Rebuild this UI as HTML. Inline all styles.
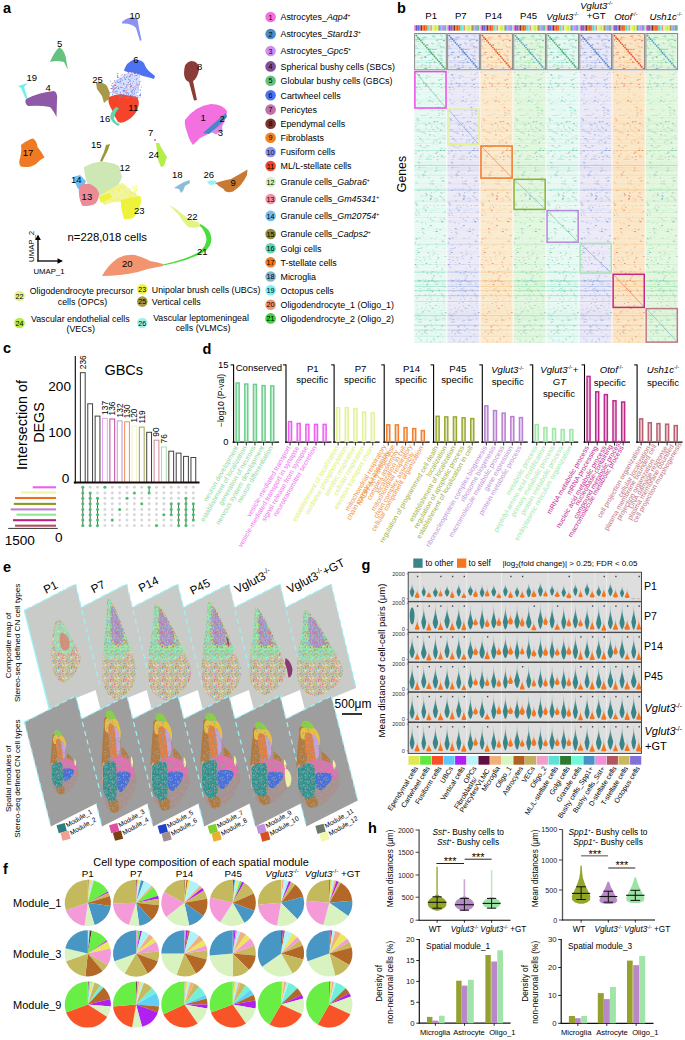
<!DOCTYPE html><html><head><meta charset="utf-8"><title>Figure</title><style>html,body{margin:0;padding:0;background:#fff;width:685px;height:1040px;overflow:hidden}svg{display:block;font-family:"Liberation Sans",sans-serif}</style></head><body><svg width="685" height="1040" viewBox="0 0 685 1040" font-family="Liberation Sans, sans-serif"><defs><filter id="soft" x="-5%" y="-5%" width="110%" height="110%"><feGaussianBlur stdDeviation="0.35"/></filter><g id="hrows"><rect y="71.0" width="32.04" height="1.3" fill-opacity="0.04"/><rect y="74.3" width="32.04" height="1.0" fill-opacity="0.04"/><rect y="77.3" width="32.04" height="0.8" fill-opacity="0.13"/><rect y="80.1" width="32.04" height="0.8" fill-opacity="0.02"/><rect y="82.9" width="32.04" height="1.0" fill-opacity="0.22"/><rect y="84.4" width="32.04" height="0.8" fill-opacity="0.07"/><rect y="86.2" width="32.04" height="1.3" fill-opacity="0.11"/><rect y="89.0" width="32.04" height="1.0" fill-opacity="0.05"/><rect y="91.5" width="32.04" height="1.3" fill-opacity="0.05"/><rect y="94.3" width="32.04" height="0.8" fill-opacity="0.04"/><rect y="96.6" width="32.04" height="1.0" fill-opacity="0.03"/><rect y="98.1" width="32.04" height="1.3" fill-opacity="0.05"/><rect y="99.9" width="32.04" height="0.8" fill-opacity="0.10"/><rect y="101.2" width="32.04" height="0.8" fill-opacity="0.06"/><rect y="104.0" width="32.04" height="1.3" fill-opacity="0.05"/><rect y="105.8" width="32.04" height="1.0" fill-opacity="0.03"/><rect y="108.3" width="32.04" height="1.3" fill-opacity="0.03"/><rect y="110.1" width="32.04" height="0.8" fill-opacity="0.05"/><rect y="111.4" width="32.04" height="1.0" fill-opacity="0.04"/><rect y="114.4" width="32.04" height="1.0" fill-opacity="0.06"/><rect y="117.4" width="32.04" height="1.3" fill-opacity="0.08"/><rect y="119.7" width="32.04" height="1.0" fill-opacity="0.05"/><rect y="121.2" width="32.04" height="0.8" fill-opacity="0.04"/><rect y="122.5" width="32.04" height="1.0" fill-opacity="0.17"/><rect y="124.0" width="32.04" height="1.0" fill-opacity="0.09"/><rect y="127.0" width="32.04" height="1.0" fill-opacity="0.02"/><rect y="128.5" width="32.04" height="1.3" fill-opacity="0.10"/><rect y="130.8" width="32.04" height="1.0" fill-opacity="0.20"/><rect y="133.8" width="32.04" height="1.0" fill-opacity="0.03"/><rect y="135.8" width="32.04" height="1.0" fill-opacity="0.08"/><rect y="138.8" width="32.04" height="1.3" fill-opacity="0.11"/><rect y="140.6" width="32.04" height="1.0" fill-opacity="0.02"/><rect y="142.6" width="32.04" height="1.3" fill-opacity="0.10"/><rect y="145.9" width="32.04" height="0.8" fill-opacity="0.03"/><rect y="147.7" width="32.04" height="0.8" fill-opacity="0.04"/><rect y="150.0" width="32.04" height="0.8" fill-opacity="0.31"/><rect y="152.8" width="32.04" height="1.0" fill-opacity="0.02"/><rect y="155.3" width="32.04" height="1.0" fill-opacity="0.04"/><rect y="156.8" width="32.04" height="1.0" fill-opacity="0.06"/><rect y="158.8" width="32.04" height="1.3" fill-opacity="0.06"/><rect y="161.6" width="32.04" height="0.8" fill-opacity="0.14"/><rect y="162.9" width="32.04" height="1.0" fill-opacity="0.05"/><rect y="164.9" width="32.04" height="1.0" fill-opacity="0.41"/><rect y="166.9" width="32.04" height="1.0" fill-opacity="0.13"/><rect y="168.4" width="32.04" height="1.3" fill-opacity="0.13"/><rect y="170.2" width="32.04" height="1.3" fill-opacity="0.11"/><rect y="173.5" width="32.04" height="0.8" fill-opacity="0.04"/><rect y="174.8" width="32.04" height="1.3" fill-opacity="0.14"/><rect y="177.6" width="32.04" height="1.3" fill-opacity="0.05"/><rect y="180.9" width="32.04" height="0.8" fill-opacity="0.04"/><rect y="183.2" width="32.04" height="1.0" fill-opacity="0.10"/><rect y="184.7" width="32.04" height="1.3" fill-opacity="0.04"/><rect y="187.5" width="32.04" height="1.0" fill-opacity="0.10"/><rect y="189.5" width="32.04" height="1.0" fill-opacity="0.40"/><rect y="192.5" width="32.04" height="1.3" fill-opacity="0.03"/><rect y="195.3" width="32.04" height="1.0" fill-opacity="0.04"/><rect y="197.3" width="32.04" height="1.0" fill-opacity="0.04"/><rect y="199.3" width="32.04" height="0.8" fill-opacity="0.04"/><rect y="200.6" width="32.04" height="1.0" fill-opacity="0.18"/><rect y="202.1" width="32.04" height="1.0" fill-opacity="0.03"/><rect y="205.1" width="32.04" height="1.0" fill-opacity="0.04"/><rect y="208.1" width="32.04" height="1.0" fill-opacity="0.05"/><rect y="209.6" width="32.04" height="1.0" fill-opacity="0.09"/><rect y="212.1" width="32.04" height="1.0" fill-opacity="0.11"/><rect y="215.1" width="32.04" height="1.0" fill-opacity="0.02"/><rect y="217.1" width="32.04" height="0.8" fill-opacity="0.13"/><rect y="219.9" width="32.04" height="1.0" fill-opacity="0.04"/><rect y="221.4" width="32.04" height="1.3" fill-opacity="0.08"/><rect y="224.2" width="32.04" height="1.3" fill-opacity="0.02"/><rect y="226.0" width="32.04" height="1.0" fill-opacity="0.03"/><rect y="228.0" width="32.04" height="1.0" fill-opacity="0.05"/><rect y="229.5" width="32.04" height="1.3" fill-opacity="0.06"/><rect y="231.8" width="32.04" height="0.8" fill-opacity="0.03"/><rect y="234.6" width="32.04" height="1.0" fill-opacity="0.05"/><rect y="237.6" width="32.04" height="0.8" fill-opacity="0.06"/><rect y="238.9" width="32.04" height="0.8" fill-opacity="0.06"/><rect y="241.2" width="32.04" height="1.0" fill-opacity="0.05"/><rect y="243.7" width="32.04" height="1.0" fill-opacity="0.24"/><rect y="245.2" width="32.04" height="1.3" fill-opacity="0.03"/><rect y="248.0" width="32.04" height="0.8" fill-opacity="0.02"/><rect y="250.8" width="32.04" height="1.0" fill-opacity="0.08"/><rect y="252.8" width="32.04" height="1.3" fill-opacity="0.06"/><rect y="256.1" width="32.04" height="1.0" fill-opacity="0.05"/><rect y="259.1" width="32.04" height="1.0" fill-opacity="0.03"/><rect y="261.6" width="32.04" height="1.0" fill-opacity="0.04"/><rect y="264.1" width="32.04" height="1.0" fill-opacity="0.14"/><rect y="267.1" width="32.04" height="0.8" fill-opacity="0.04"/><rect y="269.9" width="32.04" height="1.3" fill-opacity="0.06"/><rect y="271.7" width="32.04" height="0.8" fill-opacity="0.44"/><rect y="274.5" width="32.04" height="1.3" fill-opacity="0.06"/><rect y="277.3" width="32.04" height="1.0" fill-opacity="0.04"/><rect y="280.3" width="32.04" height="1.3" fill-opacity="0.38"/><rect y="282.1" width="32.04" height="1.0" fill-opacity="0.04"/><rect y="284.1" width="32.04" height="0.8" fill-opacity="0.14"/><rect y="285.9" width="32.04" height="1.0" fill-opacity="0.35"/><rect y="288.4" width="32.04" height="1.3" fill-opacity="0.04"/><rect y="290.2" width="32.04" height="1.0" fill-opacity="0.41"/><rect y="293.2" width="32.04" height="1.0" fill-opacity="0.05"/><rect y="295.2" width="32.04" height="1.0" fill-opacity="0.38"/><rect y="297.2" width="32.04" height="1.0" fill-opacity="0.05"/><rect y="299.2" width="32.04" height="1.0" fill-opacity="0.03"/><rect y="301.2" width="32.04" height="0.8" fill-opacity="0.32"/><rect y="303.0" width="32.04" height="1.3" fill-opacity="0.02"/><rect y="304.8" width="32.04" height="1.0" fill-opacity="0.06"/><rect y="306.8" width="32.04" height="0.8" fill-opacity="0.05"/><rect y="308.1" width="32.04" height="1.0" fill-opacity="0.05"/><rect y="309.6" width="32.04" height="1.0" fill-opacity="0.11"/><rect y="311.6" width="32.04" height="0.8" fill-opacity="0.10"/><rect y="312.9" width="32.04" height="1.3" fill-opacity="0.11"/><rect y="315.2" width="32.04" height="1.0" fill-opacity="0.43"/><rect y="317.7" width="32.04" height="0.8" fill-opacity="0.16"/><rect y="319.5" width="32.04" height="0.8" fill-opacity="0.20"/><rect y="321.8" width="32.04" height="1.0" fill-opacity="0.04"/><rect y="324.8" width="32.04" height="0.8" fill-opacity="0.43"/><rect y="326.6" width="32.04" height="1.0" fill-opacity="0.03"/><rect y="329.6" width="32.04" height="0.8" fill-opacity="0.38"/><rect y="330.9" width="32.04" height="1.3" fill-opacity="0.02"/><rect y="333.2" width="32.04" height="1.0" fill-opacity="0.06"/><rect y="335.7" width="32.04" height="1.0" fill-opacity="0.22"/><rect y="338.7" width="32.04" height="1.0" fill-opacity="0.03"/><rect y="341.7" width="32.04" height="1.0" fill-opacity="0.10"/><rect x="9.1" y="287.2" width="1.0" height="0.8" fill-opacity="0.37"/><rect x="27.1" y="339.5" width="0.9" height="0.8" fill-opacity="0.22"/><rect x="9.0" y="331.6" width="1.2" height="0.8" fill-opacity="0.25"/><rect x="2.3" y="120.7" width="1.7" height="0.8" fill-opacity="0.27"/><rect x="3.6" y="129.2" width="1.5" height="0.8" fill-opacity="0.29"/><rect x="3.2" y="102.5" width="1.2" height="0.8" fill-opacity="0.26"/><rect x="22.9" y="208.0" width="1.9" height="0.8" fill-opacity="0.15"/><rect x="8.3" y="141.4" width="1.4" height="0.8" fill-opacity="0.29"/><rect x="15.6" y="183.9" width="2.2" height="0.8" fill-opacity="0.17"/><rect x="19.4" y="191.7" width="1.7" height="0.8" fill-opacity="0.32"/><rect x="11.6" y="329.9" width="2.4" height="0.8" fill-opacity="0.25"/><rect x="25.7" y="333.9" width="1.7" height="0.8" fill-opacity="0.30"/><rect x="14.9" y="187.7" width="1.3" height="0.8" fill-opacity="0.25"/><rect x="15.9" y="156.0" width="1.6" height="0.8" fill-opacity="0.22"/><rect x="19.9" y="322.9" width="2.1" height="0.8" fill-opacity="0.16"/><rect x="17.6" y="280.5" width="1.9" height="0.8" fill-opacity="0.25"/><rect x="1.6" y="256.6" width="1.3" height="0.8" fill-opacity="0.25"/><rect x="21.7" y="228.9" width="1.3" height="0.8" fill-opacity="0.35"/><rect x="21.6" y="132.0" width="1.2" height="0.8" fill-opacity="0.34"/><rect x="3.0" y="83.8" width="2.2" height="0.8" fill-opacity="0.38"/><rect x="28.8" y="110.6" width="1.2" height="0.8" fill-opacity="0.33"/><rect x="12.5" y="85.1" width="1.0" height="0.8" fill-opacity="0.37"/><rect x="4.6" y="168.0" width="1.4" height="0.8" fill-opacity="0.18"/><rect x="18.1" y="184.3" width="1.9" height="0.8" fill-opacity="0.32"/><rect x="22.3" y="170.0" width="2.2" height="0.8" fill-opacity="0.18"/><rect x="3.9" y="150.0" width="1.6" height="0.8" fill-opacity="0.28"/><rect x="15.2" y="155.0" width="2.2" height="0.8" fill-opacity="0.22"/><rect x="21.8" y="236.5" width="2.0" height="0.8" fill-opacity="0.20"/><rect x="7.2" y="146.9" width="2.4" height="0.8" fill-opacity="0.28"/><rect x="5.9" y="248.1" width="2.0" height="0.8" fill-opacity="0.31"/><rect x="7.8" y="74.1" width="0.8" height="0.8" fill-opacity="0.16"/><rect x="8.4" y="131.7" width="2.1" height="0.8" fill-opacity="0.38"/><rect x="7.1" y="115.0" width="2.5" height="0.8" fill-opacity="0.27"/><rect x="10.2" y="167.3" width="1.6" height="0.8" fill-opacity="0.18"/><rect x="24.1" y="306.7" width="1.6" height="0.8" fill-opacity="0.36"/><rect x="23.1" y="298.2" width="1.6" height="0.8" fill-opacity="0.34"/><rect x="4.5" y="177.0" width="1.1" height="0.8" fill-opacity="0.36"/><rect x="8.7" y="232.9" width="2.1" height="0.8" fill-opacity="0.36"/><rect x="19.6" y="121.2" width="1.8" height="0.8" fill-opacity="0.27"/><rect x="16.3" y="159.2" width="1.5" height="0.8" fill-opacity="0.29"/><rect x="13.9" y="292.0" width="2.2" height="0.8" fill-opacity="0.15"/><rect x="27.4" y="155.4" width="1.8" height="0.8" fill-opacity="0.32"/><rect x="23.0" y="205.3" width="1.4" height="0.8" fill-opacity="0.37"/><rect x="19.7" y="130.7" width="1.4" height="0.8" fill-opacity="0.38"/><rect x="13.2" y="158.7" width="1.8" height="0.8" fill-opacity="0.38"/><rect x="8.4" y="257.3" width="1.7" height="0.8" fill-opacity="0.40"/><rect x="6.6" y="195.5" width="2.4" height="0.8" fill-opacity="0.33"/><rect x="2.5" y="211.1" width="2.2" height="0.8" fill-opacity="0.16"/><rect x="17.6" y="254.6" width="2.2" height="0.8" fill-opacity="0.33"/><rect x="11.7" y="171.1" width="1.1" height="0.8" fill-opacity="0.30"/><rect x="2.7" y="119.5" width="1.6" height="0.8" fill-opacity="0.36"/><rect x="6.6" y="291.1" width="0.9" height="0.8" fill-opacity="0.19"/><rect x="0.7" y="151.5" width="2.2" height="0.8" fill-opacity="0.26"/><rect x="9.2" y="228.9" width="1.7" height="0.8" fill-opacity="0.23"/><rect x="3.2" y="145.5" width="1.3" height="0.8" fill-opacity="0.16"/><rect x="2.9" y="248.3" width="2.2" height="0.8" fill-opacity="0.26"/><rect x="14.7" y="264.2" width="2.3" height="0.8" fill-opacity="0.23"/><rect x="10.5" y="195.7" width="2.2" height="0.8" fill-opacity="0.23"/><rect x="14.7" y="108.5" width="2.2" height="0.8" fill-opacity="0.17"/><rect x="1.4" y="238.7" width="2.1" height="0.8" fill-opacity="0.40"/><rect x="0.1" y="165.9" width="1.4" height="0.8" fill-opacity="0.17"/><rect x="16.3" y="197.2" width="0.8" height="0.8" fill-opacity="0.24"/><rect x="3.3" y="74.2" width="2.4" height="0.8" fill-opacity="0.38"/><rect x="4.9" y="138.0" width="1.9" height="0.8" fill-opacity="0.32"/><rect x="11.7" y="158.3" width="1.7" height="0.8" fill-opacity="0.22"/><rect x="14.2" y="311.2" width="2.0" height="0.8" fill-opacity="0.23"/><rect x="27.6" y="113.6" width="2.4" height="0.8" fill-opacity="0.34"/><rect x="14.5" y="76.1" width="2.2" height="0.8" fill-opacity="0.23"/><rect x="10.8" y="125.0" width="1.8" height="0.8" fill-opacity="0.30"/><rect x="15.3" y="199.2" width="1.6" height="0.8" fill-opacity="0.37"/><rect x="27.4" y="180.4" width="2.4" height="0.8" fill-opacity="0.31"/><rect x="16.5" y="326.3" width="2.3" height="0.8" fill-opacity="0.27"/><rect x="28.7" y="180.4" width="1.9" height="0.8" fill-opacity="0.34"/><rect x="25.9" y="96.5" width="1.5" height="0.8" fill-opacity="0.20"/><rect x="24.0" y="107.8" width="2.5" height="0.8" fill-opacity="0.35"/><rect x="23.7" y="280.9" width="0.9" height="0.8" fill-opacity="0.38"/><rect x="26.3" y="312.8" width="2.3" height="0.8" fill-opacity="0.26"/><rect x="12.7" y="138.2" width="2.3" height="0.8" fill-opacity="0.25"/><rect x="4.3" y="280.3" width="2.3" height="0.8" fill-opacity="0.35"/><rect x="22.3" y="107.0" width="1.9" height="0.8" fill-opacity="0.28"/><rect x="17.2" y="85.8" width="1.1" height="0.8" fill-opacity="0.20"/><rect x="4.5" y="319.3" width="1.0" height="0.8" fill-opacity="0.24"/><rect x="15.9" y="237.8" width="2.3" height="0.8" fill-opacity="0.32"/><rect x="22.5" y="93.9" width="1.7" height="0.8" fill-opacity="0.28"/><rect x="5.6" y="76.6" width="1.1" height="0.8" fill-opacity="0.32"/><rect x="13.2" y="282.9" width="0.9" height="0.8" fill-opacity="0.25"/><rect x="28.4" y="205.2" width="2.4" height="0.8" fill-opacity="0.23"/><rect x="16.7" y="181.2" width="2.5" height="0.8" fill-opacity="0.32"/><rect x="2.2" y="89.6" width="1.0" height="0.8" fill-opacity="0.32"/><rect x="22.4" y="254.3" width="2.1" height="0.8" fill-opacity="0.18"/><rect x="25.9" y="192.0" width="2.0" height="0.8" fill-opacity="0.27"/><rect x="3.4" y="150.9" width="2.1" height="0.8" fill-opacity="0.36"/><rect x="21.6" y="299.9" width="2.3" height="0.8" fill-opacity="0.19"/><rect x="28.2" y="241.3" width="2.1" height="0.8" fill-opacity="0.39"/><rect x="16.7" y="275.7" width="0.9" height="0.8" fill-opacity="0.20"/><rect x="3.3" y="173.4" width="1.3" height="0.8" fill-opacity="0.22"/><rect x="19.2" y="198.6" width="1.6" height="0.8" fill-opacity="0.25"/><rect x="18.7" y="99.1" width="1.0" height="0.8" fill-opacity="0.31"/><rect x="5.8" y="120.0" width="0.9" height="0.8" fill-opacity="0.27"/><rect x="3.0" y="261.9" width="0.9" height="0.8" fill-opacity="0.40"/><rect x="23.2" y="188.8" width="1.4" height="0.8" fill-opacity="0.36"/><rect x="4.2" y="322.2" width="1.1" height="0.8" fill-opacity="0.19"/><rect x="14.5" y="258.5" width="2.4" height="0.8" fill-opacity="0.31"/><rect x="18.4" y="268.1" width="1.3" height="0.8" fill-opacity="0.35"/><rect x="29.6" y="137.8" width="1.7" height="0.8" fill-opacity="0.22"/><rect x="9.2" y="122.6" width="1.6" height="0.8" fill-opacity="0.29"/><rect x="10.0" y="126.9" width="1.3" height="0.8" fill-opacity="0.18"/><rect x="7.6" y="264.5" width="1.7" height="0.8" fill-opacity="0.22"/><rect x="18.4" y="134.8" width="1.7" height="0.8" fill-opacity="0.29"/><rect x="28.0" y="125.1" width="2.5" height="0.8" fill-opacity="0.33"/><rect x="17.0" y="324.7" width="0.8" height="0.8" fill-opacity="0.31"/><rect x="4.1" y="281.6" width="1.6" height="0.8" fill-opacity="0.25"/><rect x="2.8" y="161.7" width="2.3" height="0.8" fill-opacity="0.22"/><rect x="13.6" y="310.3" width="2.0" height="0.8" fill-opacity="0.21"/><rect x="16.4" y="225.5" width="0.9" height="0.8" fill-opacity="0.38"/><rect x="22.4" y="117.1" width="2.3" height="0.8" fill-opacity="0.23"/><rect x="28.1" y="110.9" width="0.8" height="0.8" fill-opacity="0.32"/><rect x="22.8" y="169.9" width="1.4" height="0.8" fill-opacity="0.19"/><rect x="24.4" y="233.1" width="1.6" height="0.8" fill-opacity="0.25"/><rect x="27.9" y="283.2" width="2.5" height="0.8" fill-opacity="0.18"/><rect x="25.5" y="276.0" width="2.3" height="0.8" fill-opacity="0.30"/><rect x="22.9" y="244.7" width="1.1" height="0.8" fill-opacity="0.25"/><rect x="15.9" y="80.4" width="1.0" height="0.8" fill-opacity="0.25"/><rect x="3.9" y="162.5" width="1.2" height="0.8" fill-opacity="0.38"/><rect x="23.6" y="86.0" width="2.0" height="0.8" fill-opacity="0.35"/><rect x="14.9" y="180.6" width="1.0" height="0.8" fill-opacity="0.24"/><rect x="27.4" y="314.1" width="1.8" height="0.8" fill-opacity="0.25"/><rect x="26.7" y="147.7" width="1.6" height="0.8" fill-opacity="0.38"/><rect x="24.8" y="258.2" width="1.0" height="0.8" fill-opacity="0.18"/><rect x="9.9" y="325.5" width="1.7" height="0.8" fill-opacity="0.26"/><rect x="27.3" y="78.0" width="1.3" height="0.8" fill-opacity="0.30"/><rect x="11.3" y="188.7" width="1.3" height="0.8" fill-opacity="0.35"/><rect x="26.3" y="310.2" width="1.2" height="0.8" fill-opacity="0.36"/><rect x="26.2" y="137.1" width="2.5" height="0.8" fill-opacity="0.27"/><rect x="27.3" y="100.0" width="1.7" height="0.8" fill-opacity="0.31"/><rect x="26.4" y="325.8" width="2.5" height="0.8" fill-opacity="0.33"/><rect x="11.1" y="307.2" width="1.7" height="0.8" fill-opacity="0.29"/><rect x="19.5" y="115.9" width="1.5" height="0.8" fill-opacity="0.18"/><rect x="15.6" y="90.9" width="1.0" height="0.8" fill-opacity="0.37"/><rect x="13.6" y="227.3" width="1.3" height="0.8" fill-opacity="0.33"/><rect x="5.2" y="78.0" width="1.5" height="0.8" fill-opacity="0.26"/><rect x="4.2" y="215.0" width="2.0" height="0.8" fill-opacity="0.21"/><rect x="13.7" y="154.3" width="1.3" height="0.8" fill-opacity="0.23"/><rect x="23.3" y="110.2" width="2.1" height="0.8" fill-opacity="0.37"/><rect x="25.8" y="126.3" width="2.0" height="0.8" fill-opacity="0.16"/><rect x="25.8" y="156.9" width="2.3" height="0.8" fill-opacity="0.15"/><rect x="21.0" y="243.4" width="1.8" height="0.8" fill-opacity="0.28"/><rect x="28.5" y="135.4" width="2.5" height="0.8" fill-opacity="0.31"/><rect x="24.6" y="154.3" width="2.4" height="0.8" fill-opacity="0.22"/><rect x="26.4" y="185.2" width="1.4" height="0.8" fill-opacity="0.39"/><rect x="12.5" y="282.2" width="1.1" height="0.8" fill-opacity="0.37"/><rect x="20.8" y="104.1" width="1.3" height="0.8" fill-opacity="0.33"/><rect x="8.9" y="207.1" width="1.3" height="0.8" fill-opacity="0.35"/><rect x="3.5" y="213.4" width="1.7" height="0.8" fill-opacity="0.39"/><rect x="5.4" y="313.7" width="1.2" height="0.8" fill-opacity="0.18"/><rect x="13.9" y="252.1" width="0.9" height="0.8" fill-opacity="0.38"/><rect x="27.3" y="91.5" width="0.8" height="0.8" fill-opacity="0.30"/><rect x="12.7" y="216.8" width="1.8" height="0.8" fill-opacity="0.19"/><rect x="5.7" y="338.8" width="1.1" height="0.8" fill-opacity="0.33"/><rect x="23.7" y="79.3" width="1.1" height="0.8" fill-opacity="0.37"/><rect x="27.5" y="239.7" width="1.8" height="0.8" fill-opacity="0.15"/><rect x="1.8" y="312.7" width="0.9" height="0.8" fill-opacity="0.34"/><rect x="9.6" y="317.6" width="1.6" height="0.8" fill-opacity="0.16"/><rect x="24.8" y="150.3" width="1.9" height="0.8" fill-opacity="0.40"/><rect x="16.0" y="272.9" width="1.8" height="0.8" fill-opacity="0.34"/><rect x="13.1" y="101.8" width="1.9" height="0.8" fill-opacity="0.29"/><rect x="21.5" y="140.8" width="2.0" height="0.8" fill-opacity="0.21"/><rect x="25.6" y="218.7" width="1.8" height="0.8" fill-opacity="0.22"/><rect x="29.2" y="126.3" width="0.9" height="0.8" fill-opacity="0.26"/><rect x="9.8" y="309.7" width="1.8" height="0.8" fill-opacity="0.30"/><rect x="15.1" y="289.6" width="2.0" height="0.8" fill-opacity="0.36"/><rect x="3.4" y="79.9" width="1.1" height="0.8" fill-opacity="0.31"/><rect x="21.7" y="228.3" width="1.9" height="0.8" fill-opacity="0.16"/><rect x="20.9" y="186.6" width="2.2" height="0.8" fill-opacity="0.33"/><rect x="23.0" y="282.7" width="1.6" height="0.8" fill-opacity="0.31"/><rect x="11.4" y="209.6" width="1.2" height="0.8" fill-opacity="0.27"/><rect x="17.9" y="249.8" width="1.6" height="0.8" fill-opacity="0.23"/><rect x="21.0" y="197.8" width="2.0" height="0.8" fill-opacity="0.39"/><rect x="22.7" y="106.2" width="1.8" height="0.8" fill-opacity="0.18"/><rect x="15.7" y="272.9" width="2.5" height="0.8" fill-opacity="0.15"/><rect x="15.8" y="182.4" width="1.0" height="0.8" fill-opacity="0.29"/><rect x="28.1" y="199.1" width="2.5" height="0.8" fill-opacity="0.32"/><rect x="29.3" y="265.5" width="1.8" height="0.8" fill-opacity="0.22"/><rect x="25.7" y="103.6" width="1.5" height="0.8" fill-opacity="0.17"/><rect x="9.3" y="133.0" width="2.4" height="0.8" fill-opacity="0.38"/><rect x="4.8" y="130.6" width="1.8" height="0.8" fill-opacity="0.40"/><rect x="17.0" y="271.0" width="2.4" height="0.8" fill-opacity="0.37"/><rect x="5.3" y="321.4" width="2.3" height="0.8" fill-opacity="0.38"/><rect x="11.4" y="129.2" width="0.9" height="0.8" fill-opacity="0.25"/><rect x="23.8" y="138.2" width="2.2" height="0.8" fill-opacity="0.27"/><rect x="17.8" y="179.8" width="2.1" height="0.8" fill-opacity="0.27"/><rect x="18.8" y="204.1" width="1.1" height="0.8" fill-opacity="0.27"/><rect x="12.6" y="217.7" width="0.9" height="0.8" fill-opacity="0.22"/><rect x="18.7" y="328.1" width="1.7" height="0.8" fill-opacity="0.34"/><rect x="17.0" y="210.0" width="1.9" height="0.8" fill-opacity="0.20"/><rect x="1.7" y="99.5" width="2.0" height="0.8" fill-opacity="0.34"/><rect x="7.2" y="108.6" width="2.2" height="0.8" fill-opacity="0.18"/><rect x="25.2" y="341.5" width="1.6" height="0.8" fill-opacity="0.36"/><rect x="7.7" y="174.7" width="2.3" height="0.8" fill-opacity="0.32"/><rect x="18.3" y="153.3" width="1.6" height="0.8" fill-opacity="0.20"/><rect x="3.8" y="210.5" width="1.2" height="0.8" fill-opacity="0.25"/><rect x="20.8" y="201.0" width="1.7" height="0.8" fill-opacity="0.29"/><rect x="13.6" y="156.4" width="1.4" height="0.8" fill-opacity="0.37"/><rect x="16.1" y="297.3" width="1.6" height="0.8" fill-opacity="0.18"/><rect x="10.7" y="211.3" width="1.0" height="0.8" fill-opacity="0.24"/><rect x="4.2" y="236.9" width="2.2" height="0.8" fill-opacity="0.34"/><rect x="0.3" y="202.1" width="2.1" height="0.8" fill-opacity="0.34"/><rect x="2.0" y="250.1" width="2.3" height="0.8" fill-opacity="0.29"/><rect x="3.7" y="167.1" width="2.1" height="0.8" fill-opacity="0.24"/><rect x="7.8" y="283.4" width="2.2" height="0.8" fill-opacity="0.18"/><rect x="14.7" y="204.8" width="2.4" height="0.8" fill-opacity="0.22"/><rect x="6.7" y="261.8" width="2.4" height="0.8" fill-opacity="0.20"/><rect x="10.5" y="279.3" width="2.0" height="0.8" fill-opacity="0.28"/><rect x="27.3" y="272.4" width="2.2" height="0.8" fill-opacity="0.27"/><rect x="25.6" y="141.0" width="1.3" height="0.8" fill-opacity="0.38"/><rect x="3.6" y="315.6" width="2.3" height="0.8" fill-opacity="0.38"/><rect x="11.3" y="145.1" width="2.2" height="0.8" fill-opacity="0.22"/><rect x="26.6" y="266.0" width="0.9" height="0.8" fill-opacity="0.16"/><rect x="11.2" y="159.0" width="1.3" height="0.8" fill-opacity="0.35"/><rect x="19.3" y="311.4" width="1.5" height="0.8" fill-opacity="0.24"/><rect x="0.9" y="314.3" width="2.0" height="0.8" fill-opacity="0.20"/><rect x="1.4" y="91.9" width="1.7" height="0.8" fill-opacity="0.30"/><rect x="2.1" y="88.7" width="1.6" height="0.8" fill-opacity="0.26"/><rect x="11.6" y="332.9" width="2.2" height="0.8" fill-opacity="0.32"/><rect x="14.9" y="145.3" width="1.6" height="0.8" fill-opacity="0.16"/><rect x="8.1" y="235.3" width="1.2" height="0.8" fill-opacity="0.21"/><rect x="27.8" y="212.3" width="2.5" height="0.8" fill-opacity="0.15"/><rect x="25.5" y="219.5" width="2.1" height="0.8" fill-opacity="0.17"/><rect x="26.6" y="294.2" width="2.0" height="0.8" fill-opacity="0.35"/><rect x="3.1" y="142.9" width="0.8" height="0.8" fill-opacity="0.35"/><rect x="11.9" y="127.8" width="1.1" height="0.8" fill-opacity="0.20"/><rect x="10.0" y="115.1" width="2.0" height="0.8" fill-opacity="0.35"/><rect x="12.5" y="150.9" width="1.4" height="0.8" fill-opacity="0.32"/><rect x="19.4" y="206.3" width="1.4" height="0.8" fill-opacity="0.33"/><rect x="22.2" y="319.7" width="2.3" height="0.8" fill-opacity="0.40"/><rect x="26.6" y="292.7" width="1.3" height="0.8" fill-opacity="0.36"/><rect x="20.4" y="210.1" width="0.9" height="0.8" fill-opacity="0.31"/><rect x="14.5" y="183.1" width="1.4" height="0.8" fill-opacity="0.25"/><rect x="20.8" y="271.5" width="1.2" height="0.8" fill-opacity="0.31"/><rect x="20.5" y="171.0" width="1.1" height="0.8" fill-opacity="0.36"/><rect x="16.9" y="126.9" width="1.0" height="0.8" fill-opacity="0.40"/><rect x="3.8" y="245.0" width="2.1" height="0.8" fill-opacity="0.22"/><rect x="6.0" y="115.0" width="1.9" height="0.8" fill-opacity="0.22"/><rect x="29.3" y="247.9" width="1.6" height="0.8" fill-opacity="0.32"/><rect x="27.9" y="285.4" width="1.3" height="0.8" fill-opacity="0.22"/><rect x="20.0" y="139.7" width="1.5" height="0.8" fill-opacity="0.32"/><rect x="4.7" y="109.0" width="2.5" height="0.8" fill-opacity="0.37"/><rect x="10.7" y="123.9" width="1.7" height="0.8" fill-opacity="0.35"/><rect x="27.2" y="180.9" width="2.2" height="0.8" fill-opacity="0.36"/><rect x="2.0" y="117.8" width="1.5" height="0.8" fill-opacity="0.37"/><rect x="6.7" y="247.2" width="2.0" height="0.8" fill-opacity="0.25"/><rect x="17.3" y="109.9" width="1.9" height="0.8" fill-opacity="0.20"/><rect x="26.0" y="148.0" width="1.6" height="0.8" fill-opacity="0.36"/><rect x="26.9" y="221.9" width="2.3" height="0.8" fill-opacity="0.26"/><rect x="26.6" y="112.6" width="1.3" height="0.8" fill-opacity="0.29"/><rect x="12.0" y="145.6" width="1.3" height="0.8" fill-opacity="0.17"/><rect x="16.6" y="125.9" width="1.8" height="0.8" fill-opacity="0.19"/><rect x="22.8" y="73.4" width="1.9" height="0.8" fill-opacity="0.15"/><rect x="4.2" y="162.5" width="2.1" height="0.8" fill-opacity="0.40"/><rect x="1.0" y="182.0" width="1.4" height="0.8" fill-opacity="0.29"/><rect x="6.5" y="222.3" width="1.8" height="0.8" fill-opacity="0.36"/><rect x="5.7" y="139.8" width="1.3" height="0.8" fill-opacity="0.21"/><rect x="17.2" y="289.3" width="2.4" height="0.8" fill-opacity="0.16"/><rect x="28.4" y="303.4" width="1.7" height="0.8" fill-opacity="0.32"/><rect x="0.7" y="144.8" width="1.7" height="0.8" fill-opacity="0.17"/><rect x="26.6" y="197.5" width="0.9" height="0.8" fill-opacity="0.24"/><rect x="8.0" y="278.9" width="1.2" height="0.8" fill-opacity="0.38"/><rect x="9.3" y="205.4" width="1.7" height="0.8" fill-opacity="0.32"/><rect x="23.1" y="288.6" width="2.4" height="0.8" fill-opacity="0.27"/><rect x="12.3" y="298.7" width="2.3" height="0.8" fill-opacity="0.31"/><rect x="4.2" y="74.1" width="1.4" height="0.8" fill-opacity="0.33"/><rect x="8.3" y="208.4" width="2.5" height="0.8" fill-opacity="0.31"/><rect x="9.4" y="193.2" width="0.9" height="0.8" fill-opacity="0.31"/><rect x="7.9" y="232.2" width="1.2" height="0.8" fill-opacity="0.20"/><rect x="3.9" y="84.2" width="1.3" height="0.8" fill-opacity="0.20"/><rect x="4.7" y="165.5" width="1.4" height="0.8" fill-opacity="0.20"/><rect x="12.0" y="77.4" width="0.9" height="0.8" fill-opacity="0.17"/><rect x="25.2" y="328.6" width="2.1" height="0.8" fill-opacity="0.16"/><rect x="2.0" y="118.7" width="1.8" height="0.8" fill-opacity="0.29"/><rect x="14.2" y="158.5" width="2.4" height="0.8" fill-opacity="0.27"/><rect x="26.7" y="282.6" width="2.2" height="0.8" fill-opacity="0.17"/><rect x="27.7" y="177.0" width="2.3" height="0.8" fill-opacity="0.34"/><rect x="0.3" y="213.5" width="2.0" height="0.8" fill-opacity="0.32"/><rect x="1.7" y="317.9" width="1.8" height="0.8" fill-opacity="0.24"/><rect x="21.5" y="190.4" width="1.5" height="0.8" fill-opacity="0.39"/><rect x="3.6" y="321.7" width="2.1" height="0.8" fill-opacity="0.34"/><rect x="14.0" y="189.5" width="2.2" height="0.8" fill-opacity="0.28"/><rect x="16.3" y="173.1" width="0.9" height="0.8" fill-opacity="0.38"/><rect x="13.6" y="214.4" width="1.3" height="0.8" fill-opacity="0.16"/><rect x="9.8" y="86.3" width="1.7" height="0.8" fill-opacity="0.23"/><rect x="18.7" y="140.7" width="1.1" height="0.8" fill-opacity="0.27"/><rect x="1.6" y="220.7" width="2.4" height="0.8" fill-opacity="0.34"/><rect x="3.3" y="314.2" width="1.1" height="0.8" fill-opacity="0.38"/><rect x="4.3" y="285.2" width="1.0" height="0.8" fill-opacity="0.18"/><rect x="7.9" y="139.6" width="1.1" height="0.8" fill-opacity="0.16"/><rect x="15.6" y="164.1" width="1.4" height="0.8" fill-opacity="0.20"/><rect x="12.8" y="75.4" width="1.6" height="0.8" fill-opacity="0.39"/><rect x="3.2" y="136.0" width="1.5" height="0.8" fill-opacity="0.34"/><rect x="2.2" y="308.7" width="1.6" height="0.8" fill-opacity="0.16"/><rect x="29.2" y="306.8" width="0.9" height="0.8" fill-opacity="0.39"/><rect x="5.4" y="291.1" width="1.4" height="0.8" fill-opacity="0.38"/><rect x="6.6" y="329.9" width="1.3" height="0.8" fill-opacity="0.25"/><rect x="0.9" y="237.7" width="2.0" height="0.8" fill-opacity="0.27"/><rect x="2.7" y="203.8" width="1.9" height="0.8" fill-opacity="0.28"/><rect x="28.7" y="157.1" width="2.4" height="0.8" fill-opacity="0.29"/><rect x="11.4" y="340.5" width="2.2" height="0.8" fill-opacity="0.32"/><rect x="28.4" y="300.0" width="1.9" height="0.8" fill-opacity="0.20"/><rect x="23.0" y="128.2" width="1.1" height="0.8" fill-opacity="0.30"/><rect x="8.4" y="82.7" width="1.2" height="0.8" fill-opacity="0.24"/><rect x="9.2" y="240.0" width="0.8" height="0.8" fill-opacity="0.17"/><rect x="21.6" y="127.1" width="2.3" height="0.8" fill-opacity="0.34"/><rect x="2.1" y="125.7" width="1.3" height="0.8" fill-opacity="0.24"/><rect x="8.4" y="237.2" width="1.0" height="0.8" fill-opacity="0.18"/><rect x="15.4" y="97.2" width="1.5" height="0.8" fill-opacity="0.27"/><rect x="3.7" y="103.3" width="2.3" height="0.8" fill-opacity="0.39"/><rect x="19.5" y="92.6" width="1.2" height="0.8" fill-opacity="0.27"/><rect x="12.4" y="125.3" width="1.2" height="0.8" fill-opacity="0.31"/><rect x="10.0" y="170.8" width="1.8" height="0.8" fill-opacity="0.31"/><rect x="19.9" y="143.9" width="0.8" height="0.8" fill-opacity="0.30"/><rect x="11.3" y="75.6" width="1.8" height="0.8" fill-opacity="0.37"/><rect x="8.4" y="176.5" width="1.0" height="0.8" fill-opacity="0.37"/><rect x="3.1" y="279.5" width="1.9" height="0.8" fill-opacity="0.26"/><rect x="23.7" y="128.1" width="0.8" height="0.8" fill-opacity="0.16"/><rect x="20.9" y="231.2" width="2.5" height="0.8" fill-opacity="0.35"/><rect x="20.1" y="307.7" width="1.1" height="0.8" fill-opacity="0.17"/><rect x="15.2" y="117.6" width="1.6" height="0.8" fill-opacity="0.31"/><rect x="6.7" y="88.0" width="0.8" height="0.8" fill-opacity="0.35"/><rect x="6.9" y="188.7" width="1.7" height="0.8" fill-opacity="0.18"/><rect x="30.0" y="87.1" width="1.9" height="0.8" fill-opacity="0.35"/><rect x="15.6" y="323.6" width="1.8" height="0.8" fill-opacity="0.27"/><rect x="15.5" y="296.1" width="1.0" height="0.8" fill-opacity="0.35"/><rect x="28.8" y="72.5" width="2.0" height="0.8" fill-opacity="0.35"/><rect x="19.9" y="316.6" width="2.4" height="0.8" fill-opacity="0.27"/><rect x="13.0" y="310.6" width="1.1" height="0.8" fill-opacity="0.24"/><rect x="25.0" y="170.6" width="2.3" height="0.8" fill-opacity="0.18"/><rect x="16.9" y="183.2" width="2.5" height="0.8" fill-opacity="0.34"/><rect x="30.0" y="97.0" width="1.8" height="0.8" fill-opacity="0.17"/><rect x="19.9" y="135.8" width="1.7" height="0.8" fill-opacity="0.23"/><rect x="7.4" y="166.9" width="1.8" height="0.8" fill-opacity="0.27"/><rect x="17.7" y="339.2" width="1.1" height="0.8" fill-opacity="0.18"/><rect x="27.0" y="108.7" width="2.2" height="0.8" fill-opacity="0.28"/><rect x="17.0" y="110.4" width="1.1" height="0.8" fill-opacity="0.30"/><rect x="21.4" y="332.1" width="1.0" height="0.8" fill-opacity="0.36"/><rect x="23.9" y="133.4" width="1.0" height="0.8" fill-opacity="0.33"/><rect x="8.8" y="173.4" width="1.9" height="0.8" fill-opacity="0.25"/><rect x="27.4" y="205.0" width="1.7" height="0.8" fill-opacity="0.34"/><rect x="11.7" y="281.3" width="1.3" height="0.8" fill-opacity="0.20"/><rect x="19.7" y="216.7" width="1.5" height="0.8" fill-opacity="0.37"/><rect x="29.8" y="126.6" width="1.8" height="0.8" fill-opacity="0.18"/><rect x="27.8" y="337.0" width="1.0" height="0.8" fill-opacity="0.31"/><rect x="18.0" y="143.8" width="1.2" height="0.8" fill-opacity="0.17"/><rect x="11.6" y="285.7" width="1.9" height="0.8" fill-opacity="0.23"/><rect x="9.3" y="103.1" width="1.7" height="0.8" fill-opacity="0.19"/><rect x="9.7" y="174.9" width="2.2" height="0.8" fill-opacity="0.32"/><rect x="1.0" y="264.4" width="1.4" height="0.8" fill-opacity="0.39"/><rect x="15.8" y="212.1" width="2.0" height="0.8" fill-opacity="0.24"/><rect x="3.2" y="232.0" width="2.0" height="0.8" fill-opacity="0.24"/><rect x="28.9" y="138.1" width="2.0" height="0.8" fill-opacity="0.36"/><rect x="22.9" y="128.2" width="0.9" height="0.8" fill-opacity="0.20"/><rect x="22.8" y="103.4" width="1.4" height="0.8" fill-opacity="0.36"/><rect x="17.7" y="129.2" width="2.2" height="0.8" fill-opacity="0.39"/><rect x="11.2" y="246.6" width="1.0" height="0.8" fill-opacity="0.29"/><rect x="11.9" y="97.8" width="1.2" height="0.8" fill-opacity="0.21"/><rect x="4.5" y="80.3" width="1.1" height="0.8" fill-opacity="0.22"/><rect x="30.0" y="147.9" width="1.6" height="0.8" fill-opacity="0.25"/><rect x="4.2" y="94.2" width="1.4" height="0.8" fill-opacity="0.33"/><rect x="20.5" y="238.4" width="1.2" height="0.8" fill-opacity="0.29"/><rect x="14.4" y="294.3" width="1.4" height="0.8" fill-opacity="0.31"/><rect x="24.7" y="318.6" width="1.1" height="0.8" fill-opacity="0.17"/><rect x="4.2" y="256.9" width="2.1" height="0.8" fill-opacity="0.32"/><rect x="13.4" y="288.2" width="2.3" height="0.8" fill-opacity="0.33"/><rect x="28.7" y="297.5" width="1.4" height="0.8" fill-opacity="0.36"/><rect x="21.1" y="264.1" width="1.5" height="0.8" fill-opacity="0.32"/><rect x="3.4" y="248.1" width="2.3" height="0.8" fill-opacity="0.17"/><rect x="4.2" y="159.2" width="2.4" height="0.8" fill-opacity="0.19"/><rect x="12.2" y="145.6" width="2.3" height="0.8" fill-opacity="0.38"/><rect x="21.1" y="125.7" width="1.6" height="0.8" fill-opacity="0.26"/><rect x="15.4" y="287.5" width="1.6" height="0.8" fill-opacity="0.29"/><rect x="23.2" y="302.8" width="1.4" height="0.8" fill-opacity="0.15"/><rect x="19.6" y="294.2" width="1.4" height="0.8" fill-opacity="0.35"/><rect x="13.6" y="256.5" width="1.8" height="0.8" fill-opacity="0.27"/><rect x="4.4" y="280.0" width="2.0" height="0.8" fill-opacity="0.25"/><rect x="14.7" y="96.0" width="1.9" height="0.8" fill-opacity="0.24"/><rect x="1.4" y="182.6" width="2.4" height="0.8" fill-opacity="0.35"/><rect x="7.3" y="140.4" width="1.2" height="0.8" fill-opacity="0.38"/><rect x="5.4" y="89.1" width="1.5" height="0.8" fill-opacity="0.28"/><rect x="3.5" y="176.1" width="1.1" height="0.8" fill-opacity="0.30"/><rect x="15.0" y="255.3" width="1.1" height="0.8" fill-opacity="0.40"/><rect x="4.8" y="166.7" width="1.6" height="0.8" fill-opacity="0.27"/><rect x="29.2" y="192.3" width="1.4" height="0.8" fill-opacity="0.23"/><rect x="4.7" y="138.3" width="2.5" height="0.8" fill-opacity="0.37"/><rect x="10.3" y="271.0" width="1.1" height="0.8" fill-opacity="0.20"/><rect x="29.9" y="117.1" width="1.4" height="0.8" fill-opacity="0.23"/><rect x="23.7" y="101.0" width="2.2" height="0.8" fill-opacity="0.30"/><rect x="29.5" y="296.2" width="1.0" height="0.8" fill-opacity="0.24"/><rect x="26.7" y="118.2" width="1.9" height="0.8" fill-opacity="0.22"/><rect x="7.9" y="223.2" width="0.9" height="0.8" fill-opacity="0.16"/><rect x="28.3" y="286.2" width="1.1" height="0.8" fill-opacity="0.25"/><rect x="16.4" y="293.8" width="1.0" height="0.8" fill-opacity="0.17"/><rect x="4.9" y="288.0" width="2.1" height="0.8" fill-opacity="0.33"/><rect x="19.2" y="230.9" width="1.3" height="0.8" fill-opacity="0.26"/><rect x="19.6" y="282.5" width="1.7" height="0.8" fill-opacity="0.27"/><rect x="10.4" y="257.1" width="1.2" height="0.8" fill-opacity="0.31"/><rect x="21.8" y="144.7" width="2.3" height="0.8" fill-opacity="0.17"/><rect x="17.3" y="220.3" width="2.4" height="0.8" fill-opacity="0.34"/><rect x="0.1" y="153.3" width="2.4" height="0.8" fill-opacity="0.39"/><rect x="11.0" y="124.3" width="1.4" height="0.8" fill-opacity="0.19"/><rect x="20.0" y="328.3" width="1.0" height="0.8" fill-opacity="0.25"/><rect x="27.1" y="110.2" width="2.5" height="0.8" fill-opacity="0.39"/><rect x="16.3" y="320.3" width="1.5" height="0.8" fill-opacity="0.32"/><rect x="20.9" y="94.8" width="1.8" height="0.8" fill-opacity="0.38"/><rect x="3.1" y="309.4" width="1.0" height="0.8" fill-opacity="0.20"/><rect x="0.9" y="259.1" width="2.4" height="0.8" fill-opacity="0.37"/><rect x="27.0" y="95.6" width="1.2" height="0.8" fill-opacity="0.20"/><rect x="4.5" y="145.2" width="1.7" height="0.8" fill-opacity="0.37"/><rect x="12.8" y="113.4" width="2.1" height="0.8" fill-opacity="0.30"/><rect x="29.9" y="286.7" width="1.8" height="0.8" fill-opacity="0.37"/><rect x="5.1" y="157.0" width="2.1" height="0.8" fill-opacity="0.19"/><rect x="3.3" y="318.5" width="1.3" height="0.8" fill-opacity="0.23"/><rect x="12.4" y="338.6" width="1.1" height="0.8" fill-opacity="0.20"/></g><g id="hrows2"><rect y="34.0" width="30.54" height="1.2" fill-opacity="0.14"/><rect y="36.2" width="30.54" height="0.7" fill-opacity="0.05"/><rect y="38.5" width="30.54" height="1.0" fill-opacity="0.26"/><rect y="40.5" width="30.54" height="0.7" fill-opacity="0.04"/><rect y="42.8" width="30.54" height="1.2" fill-opacity="0.08"/><rect y="45.6" width="30.54" height="1.2" fill-opacity="0.08"/><rect y="47.8" width="30.54" height="0.7" fill-opacity="0.26"/><rect y="49.5" width="30.54" height="0.7" fill-opacity="0.09"/><rect y="51.8" width="30.54" height="1.2" fill-opacity="0.12"/><rect y="54.6" width="30.54" height="1.2" fill-opacity="0.11"/><rect y="56.8" width="30.54" height="1.0" fill-opacity="0.07"/><rect y="60.2" width="30.54" height="1.2" fill-opacity="0.13"/><rect y="62.4" width="30.54" height="0.7" fill-opacity="0.28"/><rect y="65.5" width="30.54" height="0.7" fill-opacity="0.24"/><rect y="67.2" width="30.54" height="1.0" fill-opacity="0.16"/><rect x="24.6" y="46.8" width="4.0" height="0.9" fill-opacity="0.32"/><rect x="21.4" y="39.2" width="3.4" height="0.9" fill-opacity="0.30"/><rect x="10.3" y="61.8" width="2.0" height="0.9" fill-opacity="0.38"/><rect x="12.9" y="60.1" width="3.5" height="0.9" fill-opacity="0.20"/><rect x="10.3" y="51.7" width="1.4" height="0.9" fill-opacity="0.47"/><rect x="5.6" y="39.4" width="3.7" height="0.9" fill-opacity="0.49"/><rect x="9.2" y="66.6" width="3.8" height="0.9" fill-opacity="0.24"/><rect x="25.6" y="59.2" width="1.7" height="0.9" fill-opacity="0.24"/><rect x="23.9" y="57.9" width="3.2" height="0.9" fill-opacity="0.48"/><rect x="10.1" y="50.2" width="1.5" height="0.9" fill-opacity="0.28"/><rect x="1.9" y="66.9" width="1.7" height="0.9" fill-opacity="0.30"/><rect x="8.3" y="36.2" width="1.7" height="0.9" fill-opacity="0.24"/><rect x="14.6" y="52.7" width="2.8" height="0.9" fill-opacity="0.43"/><rect x="25.6" y="52.7" width="1.4" height="0.9" fill-opacity="0.27"/><rect x="8.4" y="37.1" width="3.3" height="0.9" fill-opacity="0.48"/><rect x="4.3" y="51.9" width="2.1" height="0.9" fill-opacity="0.37"/><rect x="21.4" y="44.7" width="3.9" height="0.9" fill-opacity="0.34"/><rect x="22.9" y="55.3" width="2.5" height="0.9" fill-opacity="0.26"/><rect x="26.4" y="67.1" width="1.3" height="0.9" fill-opacity="0.43"/><rect x="1.4" y="48.3" width="1.7" height="0.9" fill-opacity="0.25"/><rect x="5.7" y="59.9" width="1.3" height="0.9" fill-opacity="0.27"/><rect x="13.5" y="62.1" width="3.0" height="0.9" fill-opacity="0.34"/><rect x="0.4" y="40.8" width="2.1" height="0.9" fill-opacity="0.21"/><rect x="16.7" y="43.5" width="2.2" height="0.9" fill-opacity="0.34"/><rect x="8.6" y="56.0" width="2.2" height="0.9" fill-opacity="0.47"/><rect x="11.3" y="54.5" width="2.7" height="0.9" fill-opacity="0.34"/><rect x="24.7" y="46.0" width="1.9" height="0.9" fill-opacity="0.48"/><rect x="23.8" y="63.9" width="1.7" height="0.9" fill-opacity="0.35"/><rect x="7.8" y="68.5" width="1.7" height="0.9" fill-opacity="0.42"/><rect x="15.8" y="42.6" width="1.6" height="0.9" fill-opacity="0.48"/><rect x="2.6" y="44.3" width="3.1" height="0.9" fill-opacity="0.30"/><rect x="13.4" y="53.8" width="3.8" height="0.9" fill-opacity="0.35"/><rect x="0.0" y="47.6" width="2.6" height="0.9" fill-opacity="0.28"/><rect x="17.1" y="54.3" width="2.5" height="0.9" fill-opacity="0.23"/><rect x="13.0" y="51.7" width="3.0" height="0.9" fill-opacity="0.49"/><rect x="12.0" y="44.2" width="1.4" height="0.9" fill-opacity="0.44"/><rect x="22.4" y="42.6" width="3.4" height="0.9" fill-opacity="0.28"/><rect x="13.6" y="65.6" width="2.4" height="0.9" fill-opacity="0.37"/><rect x="13.2" y="67.1" width="2.6" height="0.9" fill-opacity="0.29"/><rect x="13.6" y="63.5" width="2.2" height="0.9" fill-opacity="0.26"/></g><g id="hspk"><rect x="25.5" y="129.7" width="1.8" height="0.9" fill-opacity="0.59"/><rect x="20.9" y="319.6" width="1.8" height="0.9" fill-opacity="0.50"/><rect x="24.5" y="290.5" width="1.0" height="0.9" fill-opacity="0.54"/><rect x="7.5" y="153.5" width="1.9" height="0.9" fill-opacity="0.26"/><rect x="10.5" y="209.9" width="1.8" height="0.9" fill-opacity="0.46"/><rect x="28.5" y="317.9" width="1.6" height="0.9" fill-opacity="0.27"/><rect x="3.3" y="252.0" width="2.0" height="0.9" fill-opacity="0.55"/><rect x="5.7" y="155.5" width="1.6" height="0.9" fill-opacity="0.52"/><rect x="19.0" y="337.9" width="1.0" height="0.9" fill-opacity="0.50"/><rect x="26.5" y="87.3" width="1.7" height="0.9" fill-opacity="0.52"/><rect x="17.4" y="307.8" width="1.9" height="0.9" fill-opacity="0.47"/><rect x="11.7" y="204.6" width="1.2" height="0.9" fill-opacity="0.26"/><rect x="24.3" y="115.1" width="1.1" height="0.9" fill-opacity="0.48"/><rect x="21.2" y="281.2" width="1.4" height="0.9" fill-opacity="0.36"/><rect x="5.7" y="145.3" width="1.6" height="0.9" fill-opacity="0.49"/><rect x="10.1" y="326.4" width="1.9" height="0.9" fill-opacity="0.57"/><rect x="29.1" y="150.1" width="1.5" height="0.9" fill-opacity="0.59"/><rect x="10.2" y="280.9" width="1.1" height="0.9" fill-opacity="0.43"/><rect x="1.1" y="203.5" width="1.8" height="0.9" fill-opacity="0.44"/><rect x="22.7" y="199.5" width="1.1" height="0.9" fill-opacity="0.32"/><rect x="7.4" y="228.6" width="1.2" height="0.9" fill-opacity="0.27"/><rect x="10.9" y="85.6" width="1.4" height="0.9" fill-opacity="0.58"/><rect x="12.7" y="244.5" width="1.3" height="0.9" fill-opacity="0.33"/><rect x="29.3" y="199.7" width="0.9" height="0.9" fill-opacity="0.40"/><rect x="23.3" y="257.0" width="1.5" height="0.9" fill-opacity="0.47"/><rect x="27.6" y="325.3" width="1.1" height="0.9" fill-opacity="0.44"/><rect x="16.1" y="341.3" width="1.0" height="0.9" fill-opacity="0.52"/><rect x="4.6" y="86.9" width="1.5" height="0.9" fill-opacity="0.35"/><rect x="22.2" y="266.2" width="1.2" height="0.9" fill-opacity="0.52"/><rect x="21.6" y="246.7" width="1.3" height="0.9" fill-opacity="0.40"/><rect x="14.5" y="100.3" width="1.9" height="0.9" fill-opacity="0.56"/><rect x="2.2" y="86.7" width="1.1" height="0.9" fill-opacity="0.49"/><rect x="3.9" y="189.9" width="1.3" height="0.9" fill-opacity="0.45"/><rect x="12.3" y="272.8" width="1.6" height="0.9" fill-opacity="0.49"/><rect x="1.4" y="238.0" width="1.7" height="0.9" fill-opacity="0.29"/><rect x="14.5" y="86.3" width="0.8" height="0.9" fill-opacity="0.28"/><rect x="14.3" y="177.3" width="0.9" height="0.9" fill-opacity="0.58"/><rect x="14.9" y="302.0" width="1.5" height="0.9" fill-opacity="0.36"/><rect x="3.7" y="337.6" width="1.2" height="0.9" fill-opacity="0.33"/><rect x="15.5" y="305.7" width="1.3" height="0.9" fill-opacity="0.39"/><rect x="7.9" y="311.4" width="1.7" height="0.9" fill-opacity="0.50"/><rect x="11.2" y="192.8" width="1.3" height="0.9" fill-opacity="0.41"/><rect x="19.1" y="156.9" width="1.3" height="0.9" fill-opacity="0.36"/><rect x="13.9" y="280.5" width="1.4" height="0.9" fill-opacity="0.56"/><rect x="11.5" y="194.5" width="1.9" height="0.9" fill-opacity="0.59"/><rect x="12.3" y="284.0" width="1.6" height="0.9" fill-opacity="0.51"/><rect x="22.1" y="151.6" width="1.9" height="0.9" fill-opacity="0.48"/><rect x="13.3" y="252.4" width="1.6" height="0.9" fill-opacity="0.33"/><rect x="16.5" y="279.9" width="2.0" height="0.9" fill-opacity="0.37"/><rect x="0.5" y="264.0" width="1.3" height="0.9" fill-opacity="0.52"/><rect x="18.7" y="141.7" width="1.1" height="0.9" fill-opacity="0.39"/><rect x="6.0" y="340.3" width="1.9" height="0.9" fill-opacity="0.27"/><rect x="25.1" y="229.2" width="1.8" height="0.9" fill-opacity="0.39"/><rect x="21.7" y="231.2" width="1.7" height="0.9" fill-opacity="0.51"/><rect x="7.7" y="228.1" width="1.6" height="0.9" fill-opacity="0.45"/><rect x="30.1" y="218.7" width="1.0" height="0.9" fill-opacity="0.52"/><rect x="22.2" y="159.3" width="1.9" height="0.9" fill-opacity="0.35"/><rect x="16.1" y="224.9" width="1.4" height="0.9" fill-opacity="0.31"/><rect x="27.3" y="240.7" width="1.6" height="0.9" fill-opacity="0.35"/><rect x="12.8" y="289.5" width="1.0" height="0.9" fill-opacity="0.46"/><rect x="16.2" y="196.0" width="2.0" height="0.9" fill-opacity="0.45"/><rect x="10.8" y="329.4" width="1.7" height="0.9" fill-opacity="0.28"/><rect x="21.1" y="152.8" width="1.6" height="0.9" fill-opacity="0.54"/><rect x="8.4" y="174.3" width="1.2" height="0.9" fill-opacity="0.44"/><rect x="11.4" y="78.0" width="1.6" height="0.9" fill-opacity="0.30"/><rect x="26.6" y="155.7" width="1.9" height="0.9" fill-opacity="0.34"/><rect x="3.6" y="119.6" width="0.9" height="0.9" fill-opacity="0.53"/><rect x="8.1" y="271.4" width="1.4" height="0.9" fill-opacity="0.49"/><rect x="25.0" y="79.1" width="1.8" height="0.9" fill-opacity="0.32"/><rect x="21.4" y="261.8" width="1.2" height="0.9" fill-opacity="0.56"/><rect x="14.5" y="130.6" width="1.2" height="0.9" fill-opacity="0.40"/><rect x="17.4" y="291.2" width="1.5" height="0.9" fill-opacity="0.60"/><rect x="6.8" y="131.9" width="1.5" height="0.9" fill-opacity="0.30"/><rect x="10.4" y="332.3" width="1.3" height="0.9" fill-opacity="0.40"/><rect x="28.0" y="295.4" width="1.6" height="0.9" fill-opacity="0.31"/><rect x="21.6" y="167.6" width="1.1" height="0.9" fill-opacity="0.56"/><rect x="6.9" y="307.5" width="1.2" height="0.9" fill-opacity="0.33"/><rect x="1.4" y="265.9" width="1.6" height="0.9" fill-opacity="0.27"/><rect x="16.6" y="299.0" width="1.5" height="0.9" fill-opacity="0.28"/><rect x="10.8" y="83.5" width="2.0" height="0.9" fill-opacity="0.46"/><rect x="1.9" y="304.7" width="0.9" height="0.9" fill-opacity="0.26"/><rect x="5.4" y="260.0" width="1.1" height="0.9" fill-opacity="0.48"/><rect x="9.8" y="259.6" width="1.4" height="0.9" fill-opacity="0.35"/><rect x="10.9" y="223.3" width="1.2" height="0.9" fill-opacity="0.34"/><rect x="8.0" y="150.5" width="0.8" height="0.9" fill-opacity="0.36"/><rect x="8.2" y="231.6" width="0.9" height="0.9" fill-opacity="0.55"/><rect x="15.6" y="198.4" width="1.2" height="0.9" fill-opacity="0.56"/><rect x="19.0" y="275.5" width="1.6" height="0.9" fill-opacity="0.49"/><rect x="12.6" y="206.9" width="1.3" height="0.9" fill-opacity="0.43"/><rect x="16.2" y="198.3" width="1.4" height="0.9" fill-opacity="0.53"/><rect x="6.8" y="312.9" width="0.8" height="0.9" fill-opacity="0.36"/><rect x="24.3" y="80.1" width="1.5" height="0.9" fill-opacity="0.35"/><rect x="26.5" y="123.2" width="1.8" height="0.9" fill-opacity="0.49"/><rect x="22.7" y="258.6" width="1.3" height="0.9" fill-opacity="0.39"/><rect x="26.9" y="221.1" width="2.0" height="0.9" fill-opacity="0.57"/><rect x="2.3" y="297.5" width="1.1" height="0.9" fill-opacity="0.59"/><rect x="15.7" y="218.5" width="1.2" height="0.9" fill-opacity="0.55"/><rect x="30.2" y="211.3" width="0.9" height="0.9" fill-opacity="0.60"/><rect x="4.5" y="75.1" width="1.3" height="0.9" fill-opacity="0.47"/><rect x="17.2" y="101.4" width="1.9" height="0.9" fill-opacity="0.40"/><rect x="18.1" y="277.7" width="1.5" height="0.9" fill-opacity="0.31"/><rect x="27.5" y="197.0" width="1.6" height="0.9" fill-opacity="0.33"/><rect x="16.6" y="192.4" width="1.2" height="0.9" fill-opacity="0.45"/><rect x="0.5" y="242.3" width="1.1" height="0.9" fill-opacity="0.48"/><rect x="2.2" y="129.5" width="1.7" height="0.9" fill-opacity="0.37"/><rect x="17.1" y="330.6" width="0.9" height="0.9" fill-opacity="0.47"/><rect x="24.9" y="142.4" width="1.7" height="0.9" fill-opacity="0.52"/><rect x="1.0" y="87.0" width="1.8" height="0.9" fill-opacity="0.30"/><rect x="0.9" y="126.1" width="1.0" height="0.9" fill-opacity="0.42"/><rect x="9.8" y="330.7" width="1.1" height="0.9" fill-opacity="0.54"/><rect x="19.4" y="121.4" width="1.5" height="0.9" fill-opacity="0.58"/><rect x="17.2" y="83.3" width="1.3" height="0.9" fill-opacity="0.54"/><rect x="21.8" y="139.7" width="1.0" height="0.9" fill-opacity="0.42"/><rect x="7.3" y="333.4" width="1.1" height="0.9" fill-opacity="0.57"/><rect x="2.0" y="253.9" width="1.0" height="0.9" fill-opacity="0.33"/><rect x="25.8" y="149.9" width="1.6" height="0.9" fill-opacity="0.59"/><rect x="19.2" y="252.6" width="1.3" height="0.9" fill-opacity="0.50"/><rect x="1.8" y="205.0" width="1.4" height="0.9" fill-opacity="0.38"/><rect x="1.5" y="215.1" width="0.8" height="0.9" fill-opacity="0.59"/><rect x="10.1" y="171.9" width="1.0" height="0.9" fill-opacity="0.46"/><rect x="5.5" y="318.9" width="1.4" height="0.9" fill-opacity="0.42"/><rect x="17.3" y="278.7" width="1.1" height="0.9" fill-opacity="0.32"/><rect x="2.4" y="267.5" width="1.8" height="0.9" fill-opacity="0.26"/><rect x="14.3" y="122.8" width="1.8" height="0.9" fill-opacity="0.47"/><rect x="23.2" y="273.2" width="1.7" height="0.9" fill-opacity="0.27"/><rect x="4.5" y="294.7" width="1.0" height="0.9" fill-opacity="0.26"/><rect x="26.8" y="79.2" width="1.3" height="0.9" fill-opacity="0.28"/><rect x="25.8" y="84.1" width="1.5" height="0.9" fill-opacity="0.57"/><rect x="3.4" y="81.6" width="1.1" height="0.9" fill-opacity="0.32"/><rect x="6.1" y="101.8" width="1.6" height="0.9" fill-opacity="0.31"/><rect x="16.4" y="117.1" width="1.3" height="0.9" fill-opacity="0.30"/><rect x="15.5" y="225.2" width="1.3" height="0.9" fill-opacity="0.42"/><rect x="18.8" y="82.3" width="1.0" height="0.9" fill-opacity="0.37"/><rect x="27.1" y="74.0" width="1.5" height="0.9" fill-opacity="0.39"/><rect x="28.7" y="218.1" width="1.0" height="0.9" fill-opacity="0.38"/><rect x="11.4" y="263.0" width="1.6" height="0.9" fill-opacity="0.57"/><rect x="8.7" y="82.6" width="1.2" height="0.9" fill-opacity="0.51"/><rect x="21.4" y="283.7" width="1.9" height="0.9" fill-opacity="0.31"/><rect x="26.0" y="177.9" width="1.7" height="0.9" fill-opacity="0.29"/><rect x="22.6" y="336.5" width="1.8" height="0.9" fill-opacity="0.38"/><rect x="29.3" y="235.3" width="1.9" height="0.9" fill-opacity="0.45"/><rect x="30.5" y="312.2" width="1.8" height="0.9" fill-opacity="0.48"/><rect x="4.4" y="331.3" width="1.3" height="0.9" fill-opacity="0.45"/><rect x="23.8" y="107.1" width="0.9" height="0.9" fill-opacity="0.47"/><rect x="9.9" y="147.2" width="1.5" height="0.9" fill-opacity="0.32"/><rect x="26.2" y="192.6" width="2.0" height="0.9" fill-opacity="0.34"/><rect x="21.2" y="170.4" width="1.0" height="0.9" fill-opacity="0.55"/><rect x="17.0" y="125.2" width="1.2" height="0.9" fill-opacity="0.25"/><rect x="0.1" y="71.8" width="1.2" height="0.9" fill-opacity="0.35"/><rect x="19.5" y="339.7" width="0.9" height="0.9" fill-opacity="0.50"/><rect x="14.7" y="134.4" width="1.7" height="0.9" fill-opacity="0.55"/><rect x="12.9" y="324.5" width="1.2" height="0.9" fill-opacity="0.39"/><rect x="22.7" y="156.1" width="1.4" height="0.9" fill-opacity="0.49"/><rect x="23.9" y="112.6" width="2.0" height="0.9" fill-opacity="0.32"/><rect x="5.0" y="238.3" width="0.8" height="0.9" fill-opacity="0.39"/><rect x="22.3" y="121.1" width="1.5" height="0.9" fill-opacity="0.49"/><rect x="1.8" y="333.3" width="0.9" height="0.9" fill-opacity="0.26"/><rect x="25.2" y="195.8" width="1.6" height="0.9" fill-opacity="0.44"/><rect x="11.4" y="303.1" width="0.9" height="0.9" fill-opacity="0.47"/><rect x="7.0" y="78.4" width="0.8" height="0.9" fill-opacity="0.31"/><rect x="16.2" y="88.8" width="1.0" height="0.9" fill-opacity="0.46"/><rect x="10.5" y="294.4" width="0.9" height="0.9" fill-opacity="0.48"/><rect x="27.0" y="268.6" width="1.5" height="0.9" fill-opacity="0.45"/><rect x="20.7" y="305.0" width="2.0" height="0.9" fill-opacity="0.35"/><rect x="19.3" y="281.0" width="1.4" height="0.9" fill-opacity="0.25"/><rect x="8.0" y="200.4" width="1.5" height="0.9" fill-opacity="0.43"/><rect x="1.8" y="209.6" width="1.0" height="0.9" fill-opacity="0.46"/><rect x="30.3" y="256.0" width="1.8" height="0.9" fill-opacity="0.35"/><rect x="15.4" y="194.8" width="1.8" height="0.9" fill-opacity="0.39"/><rect x="14.8" y="320.5" width="1.3" height="0.9" fill-opacity="0.42"/><rect x="29.0" y="46.8" width="0.9" height="0.9" fill-opacity="0.46"/><rect x="19.7" y="37.2" width="1.1" height="0.9" fill-opacity="0.36"/><rect x="17.5" y="49.1" width="2.1" height="0.9" fill-opacity="0.48"/><rect x="10.7" y="44.7" width="2.3" height="0.9" fill-opacity="0.39"/><rect x="25.7" y="34.9" width="1.6" height="0.9" fill-opacity="0.35"/><rect x="25.9" y="39.2" width="2.1" height="0.9" fill-opacity="0.33"/><rect x="6.2" y="57.8" width="1.6" height="0.9" fill-opacity="0.54"/><rect x="27.2" y="36.3" width="1.4" height="0.9" fill-opacity="0.36"/><rect x="3.2" y="61.4" width="0.9" height="0.9" fill-opacity="0.56"/><rect x="26.2" y="50.7" width="2.1" height="0.9" fill-opacity="0.38"/><rect x="17.5" y="36.1" width="1.6" height="0.9" fill-opacity="0.42"/><rect x="6.1" y="66.1" width="1.9" height="0.9" fill-opacity="0.33"/><rect x="27.6" y="66.4" width="1.9" height="0.9" fill-opacity="0.43"/><rect x="26.2" y="59.5" width="2.2" height="0.9" fill-opacity="0.32"/><rect x="4.1" y="51.9" width="1.7" height="0.9" fill-opacity="0.68"/><rect x="7.2" y="64.3" width="1.7" height="0.9" fill-opacity="0.43"/><rect x="21.6" y="40.3" width="2.1" height="0.9" fill-opacity="0.43"/><rect x="20.2" y="49.0" width="2.0" height="0.9" fill-opacity="0.49"/><rect x="2.8" y="38.6" width="1.1" height="0.9" fill-opacity="0.63"/><rect x="18.7" y="51.6" width="1.4" height="0.9" fill-opacity="0.45"/><rect x="28.3" y="40.6" width="1.8" height="0.9" fill-opacity="0.35"/><rect x="17.4" y="58.7" width="1.8" height="0.9" fill-opacity="0.61"/><rect x="25.5" y="55.5" width="2.4" height="0.9" fill-opacity="0.46"/><rect x="10.9" y="56.9" width="1.5" height="0.9" fill-opacity="0.45"/><rect x="10.2" y="56.8" width="1.4" height="0.9" fill-opacity="0.64"/><rect x="19.6" y="62.1" width="2.2" height="0.9" fill-opacity="0.45"/><rect x="7.3" y="56.7" width="1.3" height="0.9" fill-opacity="0.34"/><rect x="26.8" y="62.0" width="1.3" height="0.9" fill-opacity="0.45"/><rect x="4.1" y="38.5" width="1.9" height="0.9" fill-opacity="0.66"/><rect x="7.4" y="37.4" width="2.1" height="0.9" fill-opacity="0.39"/><rect x="10.2" y="64.8" width="1.6" height="0.9" fill-opacity="0.38"/><rect x="12.3" y="44.5" width="1.3" height="0.9" fill-opacity="0.59"/><rect x="18.6" y="35.5" width="2.2" height="0.9" fill-opacity="0.43"/><rect x="3.5" y="41.1" width="0.9" height="0.9" fill-opacity="0.62"/><rect x="0.4" y="55.3" width="1.6" height="0.9" fill-opacity="0.54"/><rect x="1.0" y="45.5" width="1.5" height="0.9" fill-opacity="0.44"/><rect x="10.4" y="68.0" width="2.4" height="0.9" fill-opacity="0.65"/><rect x="3.7" y="54.3" width="2.2" height="0.9" fill-opacity="0.34"/><rect x="2.8" y="53.7" width="1.0" height="0.9" fill-opacity="0.46"/><rect x="28.8" y="39.9" width="1.8" height="0.9" fill-opacity="0.66"/><rect x="22.0" y="67.5" width="1.9" height="0.9" fill-opacity="0.49"/><rect x="19.4" y="61.3" width="1.1" height="0.9" fill-opacity="0.51"/><rect x="15.0" y="48.8" width="2.0" height="0.9" fill-opacity="0.58"/><rect x="22.9" y="54.2" width="2.2" height="0.9" fill-opacity="0.34"/><rect x="1.4" y="39.5" width="1.1" height="0.9" fill-opacity="0.68"/></g><pattern id="spA" width="13" height="13" patternUnits="userSpaceOnUse"><rect width="13" height="13" fill="#d2cab0"/><rect x="7.5" y="8.9" width="1.0" height="1.0" fill="#e06060"/><rect x="8.3" y="10.1" width="1.0" height="1.0" fill="#90c8e8"/><rect x="11.1" y="0.3" width="1.0" height="1.0" fill="#b8a858"/><rect x="9.3" y="3.0" width="1.0" height="1.0" fill="#e8e0a0"/><rect x="10.8" y="1.4" width="1.0" height="1.0" fill="#b8a858"/><rect x="10.4" y="4.6" width="1.0" height="1.0" fill="#c8b050"/><rect x="6.9" y="0.2" width="1.0" height="1.0" fill="#80d8d0"/><rect x="4.9" y="2.2" width="1.0" height="1.0" fill="#e06060"/><rect x="4.7" y="9.1" width="1.0" height="1.0" fill="#c8b050"/><rect x="1.7" y="7.4" width="1.0" height="1.0" fill="#a0d080"/><rect x="1.6" y="11.7" width="1.0" height="1.0" fill="#e8e0a0"/><rect x="2.5" y="2.6" width="1.0" height="1.0" fill="#a0d080"/><rect x="10.5" y="3.5" width="1.0" height="1.0" fill="#80d8d0"/><rect x="6.5" y="8.1" width="1.0" height="1.0" fill="#80d8d0"/><rect x="2.2" y="11.6" width="1.0" height="1.0" fill="#80d8d0"/><rect x="11.6" y="10.7" width="1.0" height="1.0" fill="#e890c0"/><rect x="0.3" y="5.0" width="1.0" height="1.0" fill="#a0d080"/><rect x="3.2" y="4.0" width="1.0" height="1.0" fill="#f0f0c0"/><rect x="7.0" y="7.2" width="1.0" height="1.0" fill="#d0a070"/><rect x="4.1" y="3.7" width="1.0" height="1.0" fill="#e890c0"/><rect x="5.8" y="3.8" width="1.0" height="1.0" fill="#b8a858"/><rect x="5.7" y="2.1" width="1.0" height="1.0" fill="#e890c0"/><rect x="11.7" y="0.3" width="1.0" height="1.0" fill="#d0a070"/><rect x="4.3" y="4.9" width="1.0" height="1.0" fill="#9090e0"/><rect x="9.5" y="4.4" width="1.0" height="1.0" fill="#f0f0c0"/><rect x="10.1" y="5.4" width="1.0" height="1.0" fill="#d0a070"/><rect x="2.2" y="11.5" width="1.0" height="1.0" fill="#80d8d0"/><rect x="1.4" y="3.0" width="1.0" height="1.0" fill="#b8a858"/><rect x="4.1" y="4.3" width="1.0" height="1.0" fill="#9090e0"/><rect x="3.0" y="5.6" width="1.0" height="1.0" fill="#f0f0c0"/><rect x="9.0" y="9.6" width="1.0" height="1.0" fill="#e890c0"/><rect x="0.4" y="11.3" width="1.0" height="1.0" fill="#c8b050"/><rect x="2.5" y="6.2" width="1.0" height="1.0" fill="#70a8d8"/><rect x="11.0" y="4.1" width="1.0" height="1.0" fill="#d0a070"/><rect x="6.5" y="3.7" width="1.0" height="1.0" fill="#70a8d8"/><rect x="3.7" y="9.6" width="1.0" height="1.0" fill="#90c8e8"/><rect x="1.8" y="8.3" width="1.0" height="1.0" fill="#b8a858"/><rect x="1.9" y="0.6" width="1.0" height="1.0" fill="#f0f0c0"/><rect x="6.4" y="4.9" width="1.0" height="1.0" fill="#80d8d0"/><rect x="8.9" y="4.1" width="1.0" height="1.0" fill="#e890c0"/><rect x="5.5" y="5.1" width="1.0" height="1.0" fill="#e8e0a0"/><rect x="11.7" y="7.7" width="1.0" height="1.0" fill="#e06060"/><rect x="5.9" y="10.1" width="1.0" height="1.0" fill="#a0d080"/><rect x="11.8" y="6.8" width="1.0" height="1.0" fill="#a0d080"/><rect x="7.6" y="9.5" width="1.0" height="1.0" fill="#c8b050"/><rect x="2.0" y="4.5" width="1.0" height="1.0" fill="#e8e0a0"/><rect x="10.1" y="3.5" width="1.0" height="1.0" fill="#b8a858"/><rect x="11.1" y="7.4" width="1.0" height="1.0" fill="#a0d080"/><rect x="11.7" y="5.4" width="1.0" height="1.0" fill="#b8a858"/><rect x="8.3" y="3.8" width="1.0" height="1.0" fill="#e890c0"/><rect x="3.5" y="4.8" width="1.0" height="1.0" fill="#a0d080"/><rect x="1.4" y="9.9" width="1.0" height="1.0" fill="#9090e0"/><rect x="11.5" y="7.5" width="1.0" height="1.0" fill="#b8a858"/><rect x="10.4" y="2.2" width="1.0" height="1.0" fill="#b8a858"/><rect x="3.3" y="9.4" width="1.0" height="1.0" fill="#9090e0"/><rect x="4.3" y="9.4" width="1.0" height="1.0" fill="#e06060"/><rect x="4.3" y="7.0" width="1.0" height="1.0" fill="#e8e0a0"/><rect x="9.1" y="4.4" width="1.0" height="1.0" fill="#d0a070"/><rect x="8.0" y="10.0" width="1.0" height="1.0" fill="#e890c0"/><rect x="9.2" y="8.3" width="1.0" height="1.0" fill="#e890c0"/><rect x="11.5" y="4.1" width="1.0" height="1.0" fill="#a0d080"/><rect x="7.0" y="0.1" width="1.0" height="1.0" fill="#9090e0"/><rect x="9.3" y="3.9" width="1.0" height="1.0" fill="#e890c0"/><rect x="5.6" y="9.8" width="1.0" height="1.0" fill="#90c8e8"/><rect x="8.1" y="4.3" width="1.0" height="1.0" fill="#e890c0"/><rect x="7.7" y="8.9" width="1.0" height="1.0" fill="#f4f4e0"/><rect x="4.2" y="10.1" width="1.0" height="1.0" fill="#d0a070"/><rect x="5.4" y="4.4" width="1.0" height="1.0" fill="#70a8d8"/><rect x="6.2" y="6.4" width="1.0" height="1.0" fill="#a0d080"/><rect x="2.4" y="4.3" width="1.0" height="1.0" fill="#b8a858"/><rect x="3.4" y="0.9" width="1.0" height="1.0" fill="#90c8e8"/><rect x="8.8" y="2.1" width="1.0" height="1.0" fill="#e06060"/><rect x="11.2" y="6.2" width="1.0" height="1.0" fill="#f4f4e0"/><rect x="3.6" y="6.6" width="1.0" height="1.0" fill="#90c8e8"/><rect x="3.2" y="12.0" width="1.0" height="1.0" fill="#80d8d0"/><rect x="1.9" y="5.3" width="1.0" height="1.0" fill="#90c8e8"/><rect x="2.2" y="9.1" width="1.0" height="1.0" fill="#a0d080"/><rect x="7.6" y="0.5" width="1.0" height="1.0" fill="#b8a858"/><rect x="11.8" y="2.0" width="1.0" height="1.0" fill="#a0d080"/><rect x="1.3" y="11.6" width="1.0" height="1.0" fill="#b8a858"/><rect x="2.3" y="0.4" width="1.0" height="1.0" fill="#b8a858"/><rect x="4.2" y="8.0" width="1.0" height="1.0" fill="#c8b050"/><rect x="7.1" y="2.9" width="1.0" height="1.0" fill="#70a8d8"/><rect x="0.0" y="4.9" width="1.0" height="1.0" fill="#e890c0"/><rect x="10.3" y="10.4" width="1.0" height="1.0" fill="#d0a070"/><rect x="10.0" y="4.5" width="1.0" height="1.0" fill="#e8e0a0"/><rect x="6.6" y="3.6" width="1.0" height="1.0" fill="#e890c0"/><rect x="6.5" y="4.1" width="1.0" height="1.0" fill="#f0f0c0"/><rect x="3.5" y="4.2" width="1.0" height="1.0" fill="#a0d080"/><rect x="5.0" y="9.8" width="1.0" height="1.0" fill="#90c8e8"/><rect x="6.5" y="5.6" width="1.0" height="1.0" fill="#a0d080"/><rect x="7.2" y="6.8" width="1.0" height="1.0" fill="#80d8d0"/><rect x="11.6" y="7.3" width="1.0" height="1.0" fill="#70a8d8"/><rect x="9.9" y="7.9" width="1.0" height="1.0" fill="#f4f4e0"/><rect x="1.3" y="6.8" width="1.0" height="1.0" fill="#f0f0c0"/><rect x="6.5" y="3.9" width="1.0" height="1.0" fill="#f0f0c0"/><rect x="4.5" y="5.2" width="1.0" height="1.0" fill="#80d8d0"/><rect x="5.9" y="5.8" width="1.0" height="1.0" fill="#d0a070"/><rect x="4.6" y="11.5" width="1.0" height="1.0" fill="#a0d080"/><rect x="7.1" y="3.1" width="1.0" height="1.0" fill="#e890c0"/><rect x="6.0" y="5.0" width="1.0" height="1.0" fill="#70a8d8"/><rect x="11.3" y="3.7" width="1.0" height="1.0" fill="#e890c0"/><rect x="1.7" y="0.3" width="1.0" height="1.0" fill="#90c8e8"/><rect x="7.5" y="5.3" width="1.0" height="1.0" fill="#e890c0"/><rect x="0.5" y="1.6" width="1.0" height="1.0" fill="#f4f4e0"/><rect x="0.2" y="6.4" width="1.0" height="1.0" fill="#e890c0"/><rect x="2.9" y="5.7" width="1.0" height="1.0" fill="#e8e0a0"/><rect x="2.9" y="3.2" width="1.0" height="1.0" fill="#a0d080"/><rect x="8.7" y="3.4" width="1.0" height="1.0" fill="#b8a858"/><rect x="7.3" y="5.7" width="1.0" height="1.0" fill="#90c8e8"/><rect x="10.4" y="10.6" width="1.0" height="1.0" fill="#c8b050"/><rect x="0.2" y="1.5" width="1.0" height="1.0" fill="#e890c0"/><rect x="6.4" y="4.0" width="1.0" height="1.0" fill="#e890c0"/><rect x="8.8" y="0.3" width="1.0" height="1.0" fill="#70a8d8"/><rect x="4.3" y="8.9" width="1.0" height="1.0" fill="#f0f0c0"/><rect x="1.6" y="0.0" width="1.0" height="1.0" fill="#9090e0"/><rect x="5.5" y="11.0" width="1.0" height="1.0" fill="#90c8e8"/><rect x="6.5" y="0.2" width="1.0" height="1.0" fill="#e06060"/><rect x="9.7" y="7.1" width="1.0" height="1.0" fill="#d0a070"/><rect x="8.5" y="7.6" width="1.0" height="1.0" fill="#b8a858"/><rect x="10.3" y="10.1" width="1.0" height="1.0" fill="#b8a858"/><rect x="4.7" y="10.2" width="1.0" height="1.0" fill="#80d8d0"/><rect x="10.8" y="5.6" width="1.0" height="1.0" fill="#e06060"/><rect x="0.8" y="10.0" width="1.0" height="1.0" fill="#d0a070"/><rect x="9.3" y="7.0" width="1.0" height="1.0" fill="#90c8e8"/><rect x="9.4" y="10.9" width="1.0" height="1.0" fill="#a0d080"/><rect x="2.0" y="8.3" width="1.0" height="1.0" fill="#b8a858"/><rect x="11.7" y="6.5" width="1.0" height="1.0" fill="#f4f4e0"/><rect x="7.0" y="9.7" width="1.0" height="1.0" fill="#c8b050"/><rect x="8.8" y="3.2" width="1.0" height="1.0" fill="#c8b050"/><rect x="9.5" y="8.0" width="1.0" height="1.0" fill="#e8e0a0"/><rect x="4.0" y="5.2" width="1.0" height="1.0" fill="#c8b050"/><rect x="12.0" y="8.4" width="1.0" height="1.0" fill="#e8e0a0"/><rect x="1.5" y="1.5" width="1.0" height="1.0" fill="#f0f0c0"/><rect x="7.7" y="11.4" width="1.0" height="1.0" fill="#d0a070"/><rect x="10.7" y="11.9" width="1.0" height="1.0" fill="#d0a070"/><rect x="11.0" y="1.8" width="1.0" height="1.0" fill="#f0f0c0"/><rect x="2.2" y="9.6" width="1.0" height="1.0" fill="#c8b050"/><rect x="7.5" y="0.5" width="1.0" height="1.0" fill="#c8b050"/><rect x="7.9" y="8.9" width="1.0" height="1.0" fill="#e890c0"/><rect x="0.7" y="6.9" width="1.0" height="1.0" fill="#d0a070"/><rect x="4.8" y="7.5" width="1.0" height="1.0" fill="#e8e0a0"/><rect x="5.2" y="3.8" width="1.0" height="1.0" fill="#f0f0c0"/><rect x="5.9" y="4.2" width="1.0" height="1.0" fill="#90c8e8"/><rect x="4.5" y="0.7" width="1.0" height="1.0" fill="#d0a070"/><rect x="3.5" y="6.8" width="1.0" height="1.0" fill="#90c8e8"/><rect x="6.1" y="10.9" width="1.0" height="1.0" fill="#9090e0"/><rect x="6.6" y="2.6" width="1.0" height="1.0" fill="#c8b050"/><rect x="6.6" y="3.1" width="1.0" height="1.0" fill="#e06060"/><rect x="3.4" y="11.7" width="1.0" height="1.0" fill="#e06060"/><rect x="2.8" y="4.5" width="1.0" height="1.0" fill="#d0a070"/><rect x="4.7" y="1.6" width="1.0" height="1.0" fill="#e8e0a0"/><rect x="7.9" y="1.0" width="1.0" height="1.0" fill="#90c8e8"/><rect x="0.4" y="10.4" width="1.0" height="1.0" fill="#9090e0"/><rect x="7.1" y="2.9" width="1.0" height="1.0" fill="#b8a858"/><rect x="5.8" y="3.9" width="1.0" height="1.0" fill="#e06060"/><rect x="6.4" y="6.5" width="1.0" height="1.0" fill="#f4f4e0"/><rect x="0.6" y="1.8" width="1.0" height="1.0" fill="#f4f4e0"/><rect x="8.2" y="2.7" width="1.0" height="1.0" fill="#c8b050"/><rect x="1.0" y="10.9" width="1.0" height="1.0" fill="#b8a858"/><rect x="9.8" y="1.7" width="1.0" height="1.0" fill="#f0f0c0"/><rect x="4.5" y="10.0" width="1.0" height="1.0" fill="#e890c0"/><rect x="4.0" y="7.4" width="1.0" height="1.0" fill="#70a8d8"/><rect x="9.6" y="4.5" width="1.0" height="1.0" fill="#d0a070"/><rect x="10.0" y="7.8" width="1.0" height="1.0" fill="#e06060"/><rect x="7.6" y="11.5" width="1.0" height="1.0" fill="#70a8d8"/><rect x="6.2" y="7.1" width="1.0" height="1.0" fill="#f0f0c0"/><rect x="2.6" y="2.2" width="1.0" height="1.0" fill="#c8b050"/><rect x="1.2" y="0.4" width="1.0" height="1.0" fill="#80d8d0"/><rect x="2.3" y="5.9" width="1.0" height="1.0" fill="#b8a858"/></pattern><pattern id="spUp" width="11" height="11" patternUnits="userSpaceOnUse"><rect width="11" height="11" fill="#b0dca0"/><rect x="4.6" y="3.7" width="1.0" height="1.0" fill="#a060e0"/><rect x="1.9" y="6.8" width="1.0" height="1.0" fill="#90f090"/><rect x="5.0" y="9.0" width="1.0" height="1.0" fill="#e05050"/><rect x="3.3" y="9.4" width="1.0" height="1.0" fill="#60d060"/><rect x="7.3" y="1.7" width="1.0" height="1.0" fill="#8080f0"/><rect x="9.5" y="4.2" width="1.0" height="1.0" fill="#a060e0"/><rect x="2.4" y="1.1" width="1.0" height="1.0" fill="#e05050"/><rect x="7.7" y="3.8" width="1.0" height="1.0" fill="#e05050"/><rect x="9.2" y="2.0" width="1.0" height="1.0" fill="#70f0d0"/><rect x="7.3" y="4.2" width="1.0" height="1.0" fill="#e05050"/><rect x="7.7" y="9.1" width="1.0" height="1.0" fill="#f08060"/><rect x="2.8" y="8.1" width="1.0" height="1.0" fill="#70f0d0"/><rect x="7.1" y="0.1" width="1.0" height="1.0" fill="#f08060"/><rect x="0.5" y="3.8" width="1.0" height="1.0" fill="#8080f0"/><rect x="1.4" y="2.4" width="1.0" height="1.0" fill="#e05050"/><rect x="9.6" y="0.0" width="1.0" height="1.0" fill="#70f0d0"/><rect x="9.0" y="2.0" width="1.0" height="1.0" fill="#60d060"/><rect x="8.9" y="1.3" width="1.0" height="1.0" fill="#60d060"/><rect x="5.0" y="5.7" width="1.0" height="1.0" fill="#70f0d0"/><rect x="4.2" y="4.0" width="1.0" height="1.0" fill="#e05050"/><rect x="7.0" y="1.5" width="1.0" height="1.0" fill="#60d060"/><rect x="0.5" y="5.6" width="1.0" height="1.0" fill="#a060e0"/><rect x="7.5" y="7.4" width="1.0" height="1.0" fill="#60d060"/><rect x="1.2" y="7.1" width="1.0" height="1.0" fill="#70f0d0"/><rect x="1.6" y="5.0" width="1.0" height="1.0" fill="#90f090"/><rect x="8.5" y="5.2" width="1.0" height="1.0" fill="#e05050"/><rect x="8.7" y="1.1" width="1.0" height="1.0" fill="#90f090"/><rect x="4.5" y="4.0" width="1.0" height="1.0" fill="#60d060"/><rect x="3.8" y="6.1" width="1.0" height="1.0" fill="#60d060"/><rect x="4.3" y="2.1" width="1.0" height="1.0" fill="#8080f0"/><rect x="2.7" y="8.1" width="1.0" height="1.0" fill="#e0e060"/><rect x="6.3" y="1.0" width="1.0" height="1.0" fill="#60d060"/><rect x="0.3" y="7.8" width="1.0" height="1.0" fill="#f08060"/><rect x="5.0" y="7.1" width="1.0" height="1.0" fill="#70f0d0"/><rect x="5.7" y="0.7" width="1.0" height="1.0" fill="#70f0d0"/><rect x="1.0" y="7.6" width="1.0" height="1.0" fill="#90f090"/><rect x="9.6" y="5.6" width="1.0" height="1.0" fill="#a060e0"/><rect x="6.7" y="1.7" width="1.0" height="1.0" fill="#e0e060"/><rect x="0.3" y="9.4" width="1.0" height="1.0" fill="#a060e0"/><rect x="2.6" y="1.6" width="1.0" height="1.0" fill="#e05050"/><rect x="6.1" y="0.1" width="1.0" height="1.0" fill="#60d060"/><rect x="4.5" y="7.9" width="1.0" height="1.0" fill="#e0e060"/><rect x="6.1" y="9.7" width="1.0" height="1.0" fill="#90f090"/><rect x="2.9" y="4.8" width="1.0" height="1.0" fill="#e0e060"/><rect x="1.4" y="0.9" width="1.0" height="1.0" fill="#e0e060"/><rect x="7.0" y="0.7" width="1.0" height="1.0" fill="#8080f0"/><rect x="1.4" y="5.6" width="1.0" height="1.0" fill="#f08060"/><rect x="5.9" y="8.0" width="1.0" height="1.0" fill="#e0e060"/><rect x="7.7" y="8.8" width="1.0" height="1.0" fill="#8080f0"/><rect x="3.5" y="9.2" width="1.0" height="1.0" fill="#e0e060"/><rect x="5.3" y="1.7" width="1.0" height="1.0" fill="#e05050"/><rect x="1.6" y="7.9" width="1.0" height="1.0" fill="#60d060"/><rect x="2.0" y="4.7" width="1.0" height="1.0" fill="#f08060"/><rect x="0.8" y="5.5" width="1.0" height="1.0" fill="#e0e060"/><rect x="5.4" y="9.4" width="1.0" height="1.0" fill="#60d060"/><rect x="5.8" y="5.9" width="1.0" height="1.0" fill="#f08060"/><rect x="5.4" y="5.2" width="1.0" height="1.0" fill="#e05050"/><rect x="8.8" y="5.7" width="1.0" height="1.0" fill="#e0e060"/><rect x="0.6" y="2.2" width="1.0" height="1.0" fill="#a060e0"/><rect x="1.0" y="7.0" width="1.0" height="1.0" fill="#8080f0"/><rect x="0.6" y="8.9" width="1.0" height="1.0" fill="#60d060"/><rect x="6.8" y="0.3" width="1.0" height="1.0" fill="#70f0d0"/><rect x="8.8" y="2.3" width="1.0" height="1.0" fill="#8080f0"/><rect x="8.8" y="0.4" width="1.0" height="1.0" fill="#e05050"/><rect x="6.1" y="6.8" width="1.0" height="1.0" fill="#f08060"/><rect x="5.9" y="0.8" width="1.0" height="1.0" fill="#60d060"/><rect x="6.1" y="1.8" width="1.0" height="1.0" fill="#e05050"/><rect x="0.3" y="6.2" width="1.0" height="1.0" fill="#8080f0"/><rect x="0.3" y="7.8" width="1.0" height="1.0" fill="#90f090"/><rect x="0.8" y="3.2" width="1.0" height="1.0" fill="#8080f0"/><rect x="9.5" y="5.9" width="1.0" height="1.0" fill="#f08060"/><rect x="9.9" y="8.3" width="1.0" height="1.0" fill="#e05050"/><rect x="8.9" y="6.7" width="1.0" height="1.0" fill="#8080f0"/><rect x="7.8" y="1.9" width="1.0" height="1.0" fill="#70f0d0"/><rect x="1.1" y="0.5" width="1.0" height="1.0" fill="#e05050"/><rect x="9.4" y="9.8" width="1.0" height="1.0" fill="#90f090"/><rect x="1.0" y="0.2" width="1.0" height="1.0" fill="#70f0d0"/><rect x="3.7" y="6.3" width="1.0" height="1.0" fill="#70f0d0"/><rect x="0.1" y="7.6" width="1.0" height="1.0" fill="#70f0d0"/><rect x="0.2" y="2.5" width="1.0" height="1.0" fill="#60d060"/><rect x="9.6" y="5.2" width="1.0" height="1.0" fill="#f08060"/><rect x="0.6" y="2.5" width="1.0" height="1.0" fill="#90f090"/><rect x="6.1" y="2.2" width="1.0" height="1.0" fill="#60d060"/><rect x="6.8" y="1.3" width="1.0" height="1.0" fill="#60d060"/><rect x="8.0" y="9.8" width="1.0" height="1.0" fill="#f08060"/><rect x="9.3" y="8.8" width="1.0" height="1.0" fill="#e0e060"/><rect x="9.7" y="0.9" width="1.0" height="1.0" fill="#90f090"/><rect x="4.4" y="4.2" width="1.0" height="1.0" fill="#90f090"/><rect x="4.9" y="3.5" width="1.0" height="1.0" fill="#f08060"/><rect x="4.3" y="0.8" width="1.0" height="1.0" fill="#e0e060"/><rect x="4.6" y="6.1" width="1.0" height="1.0" fill="#8080f0"/><rect x="4.4" y="1.9" width="1.0" height="1.0" fill="#f08060"/><rect x="0.6" y="0.9" width="1.0" height="1.0" fill="#90f090"/><rect x="5.4" y="1.9" width="1.0" height="1.0" fill="#90f090"/><rect x="6.6" y="1.4" width="1.0" height="1.0" fill="#e05050"/><rect x="3.4" y="4.5" width="1.0" height="1.0" fill="#f08060"/><rect x="2.1" y="5.4" width="1.0" height="1.0" fill="#90f090"/><rect x="0.8" y="6.7" width="1.0" height="1.0" fill="#f08060"/><rect x="4.7" y="8.7" width="1.0" height="1.0" fill="#90f090"/><rect x="7.6" y="8.0" width="1.0" height="1.0" fill="#e05050"/><rect x="4.6" y="0.0" width="1.0" height="1.0" fill="#70f0d0"/><rect x="0.7" y="0.1" width="1.0" height="1.0" fill="#90f090"/><rect x="0.4" y="1.5" width="1.0" height="1.0" fill="#a060e0"/><rect x="6.9" y="5.1" width="1.0" height="1.0" fill="#f08060"/><rect x="6.5" y="4.0" width="1.0" height="1.0" fill="#a060e0"/><rect x="5.1" y="3.6" width="1.0" height="1.0" fill="#e0e060"/><rect x="2.0" y="9.2" width="1.0" height="1.0" fill="#a060e0"/><rect x="8.0" y="7.8" width="1.0" height="1.0" fill="#a060e0"/><rect x="5.7" y="0.1" width="1.0" height="1.0" fill="#60d060"/><rect x="2.8" y="5.2" width="1.0" height="1.0" fill="#f08060"/><rect x="9.1" y="7.5" width="1.0" height="1.0" fill="#e0e060"/><rect x="2.8" y="5.2" width="1.0" height="1.0" fill="#8080f0"/><rect x="6.8" y="2.3" width="1.0" height="1.0" fill="#90f090"/><rect x="1.5" y="6.8" width="1.0" height="1.0" fill="#60d060"/><rect x="5.5" y="9.3" width="1.0" height="1.0" fill="#60d060"/><rect x="5.8" y="5.4" width="1.0" height="1.0" fill="#e05050"/><rect x="4.5" y="3.4" width="1.0" height="1.0" fill="#a060e0"/><rect x="9.0" y="2.2" width="1.0" height="1.0" fill="#70f0d0"/><rect x="8.4" y="5.7" width="1.0" height="1.0" fill="#60d060"/><rect x="8.5" y="10.0" width="1.0" height="1.0" fill="#90f090"/></pattern><pattern id="spCore" width="9" height="9" patternUnits="userSpaceOnUse"><rect width="9" height="9" fill="#a890dc"/><rect x="6.3" y="6.6" width="1.0" height="1.0" fill="#c080e0"/><rect x="6.1" y="0.3" width="1.0" height="1.0" fill="#8080f0"/><rect x="5.3" y="3.8" width="1.0" height="1.0" fill="#80e0d0"/><rect x="5.9" y="2.6" width="1.0" height="1.0" fill="#a070e0"/><rect x="2.2" y="6.4" width="1.0" height="1.0" fill="#e0a0c0"/><rect x="7.0" y="7.3" width="1.0" height="1.0" fill="#7090f0"/><rect x="5.5" y="1.5" width="1.0" height="1.0" fill="#7090f0"/><rect x="5.6" y="5.8" width="1.0" height="1.0" fill="#e0a0c0"/><rect x="6.4" y="5.5" width="1.0" height="1.0" fill="#80e0d0"/><rect x="3.4" y="7.9" width="1.0" height="1.0" fill="#e06060"/><rect x="6.4" y="6.4" width="1.0" height="1.0" fill="#c080e0"/><rect x="5.6" y="6.0" width="1.0" height="1.0" fill="#e0a0c0"/><rect x="5.1" y="2.3" width="1.0" height="1.0" fill="#a070e0"/><rect x="4.7" y="1.6" width="1.0" height="1.0" fill="#e0a0c0"/><rect x="7.3" y="3.9" width="1.0" height="1.0" fill="#80e0d0"/><rect x="7.3" y="4.1" width="1.0" height="1.0" fill="#e0a0c0"/><rect x="7.8" y="7.1" width="1.0" height="1.0" fill="#7090f0"/><rect x="7.8" y="0.2" width="1.0" height="1.0" fill="#e06060"/><rect x="2.0" y="3.4" width="1.0" height="1.0" fill="#e06060"/><rect x="4.7" y="0.7" width="1.0" height="1.0" fill="#e0a0c0"/><rect x="4.2" y="0.9" width="1.0" height="1.0" fill="#e0a0c0"/><rect x="2.1" y="5.8" width="1.0" height="1.0" fill="#c080e0"/><rect x="3.9" y="1.1" width="1.0" height="1.0" fill="#8080f0"/><rect x="6.7" y="7.0" width="1.0" height="1.0" fill="#7090f0"/><rect x="0.1" y="6.2" width="1.0" height="1.0" fill="#a070e0"/><rect x="5.2" y="4.5" width="1.0" height="1.0" fill="#e0a0c0"/><rect x="5.0" y="2.4" width="1.0" height="1.0" fill="#c080e0"/><rect x="4.2" y="2.3" width="1.0" height="1.0" fill="#e0a0c0"/><rect x="8.0" y="0.4" width="1.0" height="1.0" fill="#c080e0"/><rect x="4.8" y="8.0" width="1.0" height="1.0" fill="#a070e0"/><rect x="7.8" y="2.0" width="1.0" height="1.0" fill="#a070e0"/><rect x="7.1" y="5.4" width="1.0" height="1.0" fill="#c080e0"/><rect x="3.6" y="6.7" width="1.0" height="1.0" fill="#80e0d0"/><rect x="0.6" y="3.4" width="1.0" height="1.0" fill="#e06060"/><rect x="5.6" y="3.3" width="1.0" height="1.0" fill="#a070e0"/><rect x="1.5" y="5.4" width="1.0" height="1.0" fill="#c080e0"/><rect x="3.9" y="6.3" width="1.0" height="1.0" fill="#8080f0"/><rect x="0.1" y="4.3" width="1.0" height="1.0" fill="#e06060"/><rect x="4.7" y="2.9" width="1.0" height="1.0" fill="#e06060"/><rect x="4.0" y="2.6" width="1.0" height="1.0" fill="#7090f0"/><rect x="2.0" y="3.3" width="1.0" height="1.0" fill="#c080e0"/><rect x="4.9" y="2.1" width="1.0" height="1.0" fill="#c080e0"/><rect x="5.3" y="3.9" width="1.0" height="1.0" fill="#e0a0c0"/><rect x="3.0" y="2.4" width="1.0" height="1.0" fill="#80e0d0"/><rect x="3.7" y="2.9" width="1.0" height="1.0" fill="#8080f0"/><rect x="7.8" y="7.4" width="1.0" height="1.0" fill="#c080e0"/><rect x="5.6" y="2.1" width="1.0" height="1.0" fill="#e0a0c0"/><rect x="3.2" y="3.9" width="1.0" height="1.0" fill="#80e0d0"/><rect x="1.3" y="6.6" width="1.0" height="1.0" fill="#7090f0"/><rect x="0.0" y="3.6" width="1.0" height="1.0" fill="#a070e0"/><rect x="1.5" y="4.9" width="1.0" height="1.0" fill="#7090f0"/><rect x="0.9" y="5.7" width="1.0" height="1.0" fill="#e06060"/><rect x="7.9" y="4.0" width="1.0" height="1.0" fill="#7090f0"/><rect x="0.5" y="1.5" width="1.0" height="1.0" fill="#e06060"/><rect x="4.9" y="3.4" width="1.0" height="1.0" fill="#80e0d0"/><rect x="6.4" y="4.2" width="1.0" height="1.0" fill="#a070e0"/><rect x="3.8" y="0.8" width="1.0" height="1.0" fill="#e06060"/><rect x="7.7" y="5.4" width="1.0" height="1.0" fill="#8080f0"/><rect x="4.9" y="1.2" width="1.0" height="1.0" fill="#e0a0c0"/><rect x="5.3" y="5.7" width="1.0" height="1.0" fill="#a070e0"/><rect x="5.2" y="3.7" width="1.0" height="1.0" fill="#a070e0"/><rect x="5.0" y="5.6" width="1.0" height="1.0" fill="#8080f0"/><rect x="4.9" y="7.4" width="1.0" height="1.0" fill="#8080f0"/><rect x="4.9" y="7.3" width="1.0" height="1.0" fill="#80e0d0"/><rect x="7.1" y="3.6" width="1.0" height="1.0" fill="#e0a0c0"/><rect x="0.2" y="5.1" width="1.0" height="1.0" fill="#80e0d0"/><rect x="7.5" y="7.3" width="1.0" height="1.0" fill="#c080e0"/><rect x="3.8" y="3.5" width="1.0" height="1.0" fill="#7090f0"/><rect x="2.2" y="5.7" width="1.0" height="1.0" fill="#a070e0"/><rect x="6.7" y="2.3" width="1.0" height="1.0" fill="#e06060"/><rect x="2.3" y="7.5" width="1.0" height="1.0" fill="#a070e0"/><rect x="4.0" y="2.2" width="1.0" height="1.0" fill="#e06060"/><rect x="7.7" y="3.4" width="1.0" height="1.0" fill="#e06060"/><rect x="0.3" y="0.7" width="1.0" height="1.0" fill="#80e0d0"/><rect x="4.8" y="1.9" width="1.0" height="1.0" fill="#e0a0c0"/><rect x="0.3" y="1.4" width="1.0" height="1.0" fill="#e06060"/><rect x="0.3" y="7.6" width="1.0" height="1.0" fill="#e0a0c0"/><rect x="6.1" y="7.6" width="1.0" height="1.0" fill="#e0a0c0"/><rect x="3.5" y="7.1" width="1.0" height="1.0" fill="#8080f0"/><rect x="5.9" y="0.9" width="1.0" height="1.0" fill="#7090f0"/></pattern><pattern id="spRing" width="9" height="9" patternUnits="userSpaceOnUse"><rect width="9" height="9" fill="#88eccc"/><rect x="2.6" y="1.2" width="1.0" height="1.0" fill="#e0e080"/><rect x="0.4" y="6.6" width="1.0" height="1.0" fill="#70f0d8"/><rect x="2.9" y="0.5" width="1.0" height="1.0" fill="#c0f0a0"/><rect x="1.7" y="0.7" width="1.0" height="1.0" fill="#60e0e0"/><rect x="0.6" y="0.7" width="1.0" height="1.0" fill="#60e0e0"/><rect x="0.5" y="4.5" width="1.0" height="1.0" fill="#90e890"/><rect x="5.0" y="4.7" width="1.0" height="1.0" fill="#70f0d8"/><rect x="4.6" y="3.2" width="1.0" height="1.0" fill="#90e890"/><rect x="0.4" y="6.9" width="1.0" height="1.0" fill="#a0f0c0"/><rect x="3.4" y="4.3" width="1.0" height="1.0" fill="#c0f0a0"/><rect x="2.5" y="6.5" width="1.0" height="1.0" fill="#90e890"/><rect x="0.8" y="4.6" width="1.0" height="1.0" fill="#90e890"/><rect x="3.0" y="4.4" width="1.0" height="1.0" fill="#70f0d8"/><rect x="4.5" y="5.0" width="1.0" height="1.0" fill="#60e0e0"/><rect x="5.4" y="3.4" width="1.0" height="1.0" fill="#a0f0c0"/><rect x="3.7" y="7.4" width="1.0" height="1.0" fill="#a0f0c0"/><rect x="2.4" y="6.4" width="1.0" height="1.0" fill="#e0e080"/><rect x="6.2" y="0.7" width="1.0" height="1.0" fill="#a0f0c0"/><rect x="4.2" y="7.0" width="1.0" height="1.0" fill="#e0e080"/><rect x="3.6" y="4.9" width="1.0" height="1.0" fill="#70f0d8"/><rect x="0.9" y="3.3" width="1.0" height="1.0" fill="#a0f0c0"/><rect x="1.2" y="3.9" width="1.0" height="1.0" fill="#70f0d8"/><rect x="7.7" y="0.6" width="1.0" height="1.0" fill="#c0f0a0"/><rect x="4.6" y="7.0" width="1.0" height="1.0" fill="#a0f0c0"/><rect x="2.7" y="2.8" width="1.0" height="1.0" fill="#60e0e0"/><rect x="4.6" y="3.6" width="1.0" height="1.0" fill="#70f0d8"/><rect x="7.6" y="3.8" width="1.0" height="1.0" fill="#e0e080"/><rect x="0.5" y="5.8" width="1.0" height="1.0" fill="#a0f0c0"/><rect x="5.2" y="7.9" width="1.0" height="1.0" fill="#60e0e0"/><rect x="2.3" y="3.1" width="1.0" height="1.0" fill="#e0e080"/><rect x="2.8" y="7.5" width="1.0" height="1.0" fill="#a0f0c0"/><rect x="1.3" y="0.9" width="1.0" height="1.0" fill="#70f0d8"/><rect x="1.7" y="2.3" width="1.0" height="1.0" fill="#e0e080"/><rect x="2.0" y="3.1" width="1.0" height="1.0" fill="#60e0e0"/><rect x="0.6" y="3.6" width="1.0" height="1.0" fill="#c0f0a0"/><rect x="2.2" y="1.1" width="1.0" height="1.0" fill="#60e0e0"/><rect x="6.9" y="2.2" width="1.0" height="1.0" fill="#60e0e0"/><rect x="7.9" y="5.5" width="1.0" height="1.0" fill="#60e0e0"/><rect x="7.7" y="1.2" width="1.0" height="1.0" fill="#90e890"/><rect x="1.2" y="5.3" width="1.0" height="1.0" fill="#70f0d8"/><rect x="3.9" y="4.7" width="1.0" height="1.0" fill="#a0f0c0"/><rect x="2.3" y="1.2" width="1.0" height="1.0" fill="#c0f0a0"/><rect x="3.0" y="4.5" width="1.0" height="1.0" fill="#90e890"/><rect x="5.5" y="4.1" width="1.0" height="1.0" fill="#c0f0a0"/><rect x="5.2" y="5.9" width="1.0" height="1.0" fill="#60e0e0"/><rect x="7.2" y="6.2" width="1.0" height="1.0" fill="#e0e080"/><rect x="6.4" y="3.1" width="1.0" height="1.0" fill="#60e0e0"/><rect x="3.2" y="3.9" width="1.0" height="1.0" fill="#60e0e0"/><rect x="0.5" y="0.5" width="1.0" height="1.0" fill="#90e890"/><rect x="3.5" y="0.9" width="1.0" height="1.0" fill="#c0f0a0"/><rect x="0.4" y="0.0" width="1.0" height="1.0" fill="#90e890"/><rect x="4.3" y="7.6" width="1.0" height="1.0" fill="#c0f0a0"/><rect x="0.2" y="7.0" width="1.0" height="1.0" fill="#c0f0a0"/><rect x="3.0" y="5.1" width="1.0" height="1.0" fill="#a0f0c0"/><rect x="4.8" y="3.8" width="1.0" height="1.0" fill="#70f0d8"/><rect x="6.8" y="7.9" width="1.0" height="1.0" fill="#60e0e0"/><rect x="3.8" y="2.5" width="1.0" height="1.0" fill="#90e890"/><rect x="0.8" y="2.7" width="1.0" height="1.0" fill="#a0f0c0"/><rect x="3.8" y="5.5" width="1.0" height="1.0" fill="#c0f0a0"/><rect x="0.2" y="7.6" width="1.0" height="1.0" fill="#c0f0a0"/></pattern><pattern id="spTeal" width="5" height="5" patternUnits="userSpaceOnUse"><rect width="5" height="5" fill="#2e8c8a"/><rect x="0.9" y="3.8" width="1.0" height="1.0" fill="#3a9a98"/><rect x="0.8" y="0.2" width="1.0" height="1.0" fill="#3a9a98"/><rect x="1.0" y="4.0" width="1.0" height="1.0" fill="#3a9a98"/><rect x="1.6" y="0.1" width="1.0" height="1.0" fill="#50a8a0"/><rect x="1.8" y="2.0" width="1.0" height="1.0" fill="#3a9a98"/><rect x="3.6" y="1.6" width="1.0" height="1.0" fill="#50a8a0"/><rect x="0.9" y="0.1" width="1.0" height="1.0" fill="#208080"/><rect x="2.1" y="1.9" width="1.0" height="1.0" fill="#50a8a0"/><rect x="2.9" y="2.7" width="1.0" height="1.0" fill="#2a8a88"/><rect x="4.0" y="0.3" width="1.0" height="1.0" fill="#50a8a0"/><rect x="0.4" y="0.2" width="1.0" height="1.0" fill="#3a9a98"/><rect x="2.8" y="2.0" width="1.0" height="1.0" fill="#3a9a98"/><rect x="2.3" y="0.6" width="1.0" height="1.0" fill="#2a8a88"/><rect x="2.2" y="0.1" width="1.0" height="1.0" fill="#3a9a98"/><rect x="0.6" y="3.4" width="1.0" height="1.0" fill="#50a8a0"/><rect x="2.9" y="3.5" width="1.0" height="1.0" fill="#208080"/><rect x="2.2" y="3.4" width="1.0" height="1.0" fill="#50a8a0"/><rect x="0.5" y="3.1" width="1.0" height="1.0" fill="#2a8a88"/><rect x="2.1" y="1.3" width="1.0" height="1.0" fill="#208080"/><rect x="3.8" y="3.4" width="1.0" height="1.0" fill="#3a9a98"/><rect x="1.2" y="1.4" width="1.0" height="1.0" fill="#208080"/><rect x="2.0" y="0.3" width="1.0" height="1.0" fill="#3a9a98"/><rect x="1.4" y="3.6" width="1.0" height="1.0" fill="#208080"/><rect x="1.4" y="1.1" width="1.0" height="1.0" fill="#50a8a0"/><rect x="1.0" y="1.2" width="1.0" height="1.0" fill="#50a8a0"/><rect x="0.7" y="1.6" width="1.0" height="1.0" fill="#3a9a98"/><rect x="3.7" y="3.4" width="1.0" height="1.0" fill="#2a8a88"/><rect x="0.8" y="3.1" width="1.0" height="1.0" fill="#208080"/><rect x="0.5" y="3.2" width="1.0" height="1.0" fill="#50a8a0"/><rect x="1.4" y="0.7" width="1.0" height="1.0" fill="#50a8a0"/></pattern><pattern id="spGray" width="13" height="13" patternUnits="userSpaceOnUse"><rect x="5.7" y="8.0" width="0.9" height="0.9" fill="#989898"/><rect x="1.7" y="0.1" width="0.9" height="0.9" fill="#989898"/><rect x="5.8" y="7.8" width="0.9" height="0.9" fill="#a0a0a0"/><rect x="8.4" y="7.3" width="0.9" height="0.9" fill="#9d9e9d"/><rect x="8.0" y="1.8" width="0.9" height="0.9" fill="#a0a0a0"/><rect x="4.4" y="4.1" width="0.9" height="0.9" fill="#a6a6a6"/><rect x="0.7" y="9.9" width="0.9" height="0.9" fill="#9d9e9d"/><rect x="6.2" y="9.9" width="0.9" height="0.9" fill="#a0a0a0"/><rect x="9.7" y="1.1" width="0.9" height="0.9" fill="#9d9e9d"/><rect x="9.9" y="8.0" width="0.9" height="0.9" fill="#a6a6a6"/><rect x="1.1" y="11.9" width="0.9" height="0.9" fill="#a0a0a0"/><rect x="1.4" y="5.1" width="0.9" height="0.9" fill="#a6a6a6"/><rect x="6.5" y="10.7" width="0.9" height="0.9" fill="#a6a6a6"/><rect x="11.8" y="10.7" width="0.9" height="0.9" fill="#a6a6a6"/><rect x="6.1" y="1.0" width="0.9" height="0.9" fill="#a0a0a0"/><rect x="8.1" y="5.7" width="0.9" height="0.9" fill="#a0a0a0"/><rect x="6.5" y="7.8" width="0.9" height="0.9" fill="#9d9e9d"/><rect x="11.7" y="11.8" width="0.9" height="0.9" fill="#989898"/><rect x="4.3" y="4.4" width="0.9" height="0.9" fill="#a0a0a0"/><rect x="8.2" y="1.4" width="0.9" height="0.9" fill="#a6a6a6"/><rect x="4.1" y="4.5" width="0.9" height="0.9" fill="#a6a6a6"/><rect x="0.3" y="10.0" width="0.9" height="0.9" fill="#a0a0a0"/><rect x="0.4" y="0.3" width="0.9" height="0.9" fill="#a0a0a0"/><rect x="0.5" y="2.5" width="0.9" height="0.9" fill="#9d9e9d"/><rect x="9.1" y="2.7" width="0.9" height="0.9" fill="#9d9e9d"/><rect x="8.4" y="0.4" width="0.9" height="0.9" fill="#989898"/><rect x="6.0" y="7.3" width="0.9" height="0.9" fill="#9d9e9d"/><rect x="6.2" y="4.5" width="0.9" height="0.9" fill="#989898"/><rect x="3.4" y="5.8" width="0.9" height="0.9" fill="#a0a0a0"/><rect x="2.9" y="12.0" width="0.9" height="0.9" fill="#a0a0a0"/><rect x="11.2" y="4.4" width="0.9" height="0.9" fill="#a6a6a6"/><rect x="9.3" y="2.7" width="0.9" height="0.9" fill="#9d9e9d"/><rect x="11.5" y="11.1" width="0.9" height="0.9" fill="#989898"/><rect x="2.2" y="9.6" width="0.9" height="0.9" fill="#9d9e9d"/></pattern><linearGradient id="tg" x1="0" y1="1" x2="0" y2="0"><stop offset="0" stop-color="#3a8587"/><stop offset="0.5" stop-color="#3a8587"/><stop offset="0.85" stop-color="#3a8587" stop-opacity="0.45"/><stop offset="1" stop-color="#3a8587" stop-opacity="0.1"/></linearGradient><linearGradient id="og" x1="0" y1="1" x2="0" y2="0"><stop offset="0" stop-color="#f47620"/><stop offset="0.38" stop-color="#f47620"/><stop offset="0.7" stop-color="#f47620" stop-opacity="0.35"/><stop offset="1" stop-color="#f47620" stop-opacity="0.05"/></linearGradient></defs><rect width="685" height="1040" fill="#fff"/><text x="3.0" y="13.3" font-size="14.5" font-weight="bold">a</text><g filter="url(#soft)"><path d="M112,86 Q118,80 125,74 L131,72 L139,74 Q141,82 138,90 L136,98 L126,96 Q118,94 112,94 Z" fill="#b8c4f8" fill-opacity="0.55"/><path d="M122,22 Q126,18 131,17.5 Q135,17 137.5,19 L139,28 L141.5,40 L140,41 L136,28 Q132,23 122,23.5 Z" fill="#8a92f2"/><path d="M59.5,47 Q54,52 50,62 Q56,60 64,62 L68,70 L66.5,62 Q66,52 59.5,47 Z" fill="#62c27e"/><path d="M18,86 L28,83 L24,87 L27.5,98 L25.5,98.5 L21,88 Z" fill="#72eef0"/><path d="M26,99 Q40,92 54,91 Q58,93 57,100 L56.5,117 Q53,110 50,107 Q40,105 28,106 Q24,103 26,99 Z" fill="#8e5aa8"/><path d="M96,83 Q103,81 107,86 L110,93 L109,99 Q106,101 104,103 L102,96 L97,89 Z" fill="#a89848"/><path d="M124,70 Q127,62 133,60 Q140,59 144,63 Q146,69 150,72 L155,76 L154,79 Q148,77 143,76 Q137,73 130,72 Q125,72 124,70 Z" fill="#4d72f2"/><path d="M109,97 Q118,93 125,95 Q133,96 137,97 Q140,101 138,108 Q135,116 128,120 Q122,124 118,122 Q114,116 112,110 Q107,102 109,97 Z" fill="#f4452a"/><path d="M116,107 L119,108 Q114,114 114,119 Q116,123 120,124 L118,126 Q111,122 110,117 Q111,111 116,107 Z" fill="#5ed8b0"/><path d="M184,73 Q184,62 191,61 Q199,61 199,70 Q197,79 193,81 L197,100 L194,100.5 L189,82 Q184,80 184,73 Z" fill="#8b3a38"/><path d="M185,120 Q195,106 211,104 Q222,104 227,111 Q226,120 221,128 Q210,133 200,138 L193,145 Q189,140 187,132 Q184,124 185,120 Z" fill="#f26fe0"/><path d="M203,133 Q213,124 226,113 L227,117 Q220,125 209,134 Z" fill="#4a88c8"/><path d="M211,132 L222,125 L222.5,131 L216,134.5 Z" fill="#d08ef0"/><path d="M21,145 Q29,139 33,138.5 Q37,141 37.5,147 Q41,151 44.5,157.5 Q39,160 36,164 Q30,168.5 21,166.5 Q18.5,164 19.5,160 Q22,152 21,145 Z" fill="#f07a22"/><path d="M100,161 L104,152 L106,145 L110,144 L108,150 L104,158 L102,162 Z" fill="#9a9838"/><path d="M84,167 Q95,161 106,162 Q114,163 119,166 L122,177 Q119,186 112,192 L102,198.5 Q94,196 90,188 Q84,178 84,167 Z" fill="#cde8b4"/><path d="M98.5,196 Q110,190 119,184 L123,183 Q130,190 137,195 L140,197 Q130,199 121,201 Q112,202 104,205 Z" fill="#f2f4a0"/><path d="M121,200 Q132,197 140.5,196 Q142,201 140,206 Q137,214 133,218 Q127,220 124,219 Q122,213 121,206 Z" fill="#eef23a"/><path d="M99,197 Q105,194 110,193 L112,197 Q106,201 101,203 Z" fill="#eef23a"/><path d="M73,177 L80,175 L86,181 L83,188 L78,189 Q75,183 73,177 Z" fill="#72bef0"/><path d="M79,186 Q84,183 90,184 Q97,187 99,193 Q99,200 95,204 Q88,207 82,205.5 Q78,198 79,186 Z" fill="#ec8a96"/><path d="M156,143 L159,143 L162,149 L167,157 L164,166 L161,167 L158,160 L157,151 Z" fill="#b4ee48"/><path d="M174,188 Q180,184 184,182 L189.5,180 L190,183 L185,186 L183,191 L181,193 L179,189 Z" fill="#8cbcd6"/><path d="M207,182 Q210,179 216,181 L217,184 L210,185 Z" fill="#9af0f4"/><path d="M215.5,183 Q223,180.5 231,179 Q240,174 247.5,169.5 L247,175 Q242,186 233,191.5 Q226,194 223.5,189 Q218,186 215.5,183 Z" fill="#c87a30"/><path d="M169,205 Q176,208 182,214 Q190,220 198,222 L202,226 Q195,229 188,227 Q183,222 178,214 Q173,209 169,205 Z" fill="#e4f484"/><path d="M200,224 Q210.5,228 211.5,239 Q211,247 204,252 Q188,261 163,265.6 L163,264.4 Q186,259.5 199,252 Q206.5,246 206.5,239 Q205,230 200,226 Z" fill="#48dc3c"/><path d="M102,276 Q108,265 118,258 Q126,254 135,255 Q145,258 150,261 Q157,262 163,264 L163,266 Q150,268 138,272 Q120,276 102,276 Z" fill="#f29470"/></g><rect x="117.4" y="86.1" width="0.8" height="0.8" fill="#6a86f4"/><rect x="138.4" y="84.3" width="0.8" height="0.8" fill="#4d72f2"/><rect x="136.0" y="78.7" width="0.8" height="0.8" fill="#4d72f2"/><rect x="115.9" y="90.6" width="0.8" height="0.8" fill="#4d72f2"/><rect x="135.9" y="84.4" width="0.8" height="0.8" fill="#f4452a"/><rect x="136.7" y="78.0" width="0.8" height="0.8" fill="#4d72f2"/><rect x="136.9" y="85.6" width="0.8" height="0.8" fill="#f4452a"/><rect x="110.5" y="92.2" width="0.8" height="0.8" fill="#4d72f2"/><rect x="133.5" y="87.4" width="0.8" height="0.8" fill="#6a86f4"/><rect x="134.2" y="93.4" width="0.8" height="0.8" fill="#6a86f4"/><rect x="124.7" y="90.7" width="0.8" height="0.8" fill="#7a92f4"/><rect x="132.1" y="95.9" width="0.8" height="0.8" fill="#7a92f4"/><rect x="132.6" y="87.0" width="0.8" height="0.8" fill="#4d72f2"/><rect x="137.2" y="74.5" width="0.8" height="0.8" fill="#4d72f2"/><rect x="125.3" y="78.7" width="0.8" height="0.8" fill="#f4452a"/><rect x="123.5" y="88.3" width="0.8" height="0.8" fill="#6a86f4"/><rect x="123.1" y="93.7" width="0.8" height="0.8" fill="#4d72f2"/><rect x="120.9" y="87.2" width="0.8" height="0.8" fill="#4d72f2"/><rect x="117.2" y="80.8" width="0.8" height="0.8" fill="#4d72f2"/><rect x="136.5" y="97.8" width="0.8" height="0.8" fill="#f4452a"/><rect x="131.6" y="90.2" width="0.8" height="0.8" fill="#6a86f4"/><rect x="139.9" y="95.5" width="0.8" height="0.8" fill="#4d72f2"/><rect x="113.2" y="89.0" width="0.8" height="0.8" fill="#f4452a"/><rect x="135.8" y="86.9" width="0.8" height="0.8" fill="#6a86f4"/><rect x="113.9" y="84.5" width="0.8" height="0.8" fill="#f4452a"/><rect x="140.7" y="74.3" width="0.8" height="0.8" fill="#4d72f2"/><rect x="122.7" y="75.9" width="0.8" height="0.8" fill="#6a86f4"/><rect x="123.2" y="82.8" width="0.8" height="0.8" fill="#4d72f2"/><rect x="111.4" y="88.0" width="0.8" height="0.8" fill="#4d72f2"/><rect x="121.7" y="87.2" width="0.8" height="0.8" fill="#4d72f2"/><rect x="137.3" y="97.5" width="0.8" height="0.8" fill="#4d72f2"/><rect x="117.3" y="72.9" width="0.8" height="0.8" fill="#4d72f2"/><rect x="112.4" y="87.6" width="0.8" height="0.8" fill="#4d72f2"/><rect x="139.4" y="97.3" width="0.8" height="0.8" fill="#6a86f4"/><rect x="128.9" y="76.1" width="0.8" height="0.8" fill="#4d72f2"/><rect x="140.4" y="80.8" width="0.8" height="0.8" fill="#6a86f4"/><rect x="139.7" y="95.3" width="0.8" height="0.8" fill="#7a92f4"/><rect x="121.7" y="94.6" width="0.8" height="0.8" fill="#7a92f4"/><rect x="130.0" y="87.5" width="0.8" height="0.8" fill="#4d72f2"/><rect x="113.2" y="97.3" width="0.8" height="0.8" fill="#4d72f2"/><rect x="118.4" y="88.5" width="0.8" height="0.8" fill="#f4452a"/><rect x="117.4" y="79.8" width="0.8" height="0.8" fill="#6a86f4"/><rect x="126.2" y="86.3" width="0.8" height="0.8" fill="#4d72f2"/><rect x="134.4" y="97.7" width="0.8" height="0.8" fill="#6a86f4"/><rect x="110.6" y="88.0" width="0.8" height="0.8" fill="#f4452a"/><rect x="114.1" y="88.5" width="0.8" height="0.8" fill="#6a86f4"/><rect x="124.5" y="89.7" width="0.8" height="0.8" fill="#6a86f4"/><rect x="128.9" y="79.3" width="0.8" height="0.8" fill="#7a92f4"/><rect x="131.0" y="97.0" width="0.8" height="0.8" fill="#6a86f4"/><rect x="129.5" y="79.8" width="0.8" height="0.8" fill="#4d72f2"/><rect x="119.9" y="81.5" width="0.8" height="0.8" fill="#6a86f4"/><rect x="133.5" y="93.9" width="0.8" height="0.8" fill="#6a86f4"/><rect x="119.3" y="81.8" width="0.8" height="0.8" fill="#4d72f2"/><rect x="140.1" y="89.8" width="0.8" height="0.8" fill="#4d72f2"/><rect x="119.6" y="77.8" width="0.8" height="0.8" fill="#6a86f4"/><rect x="117.4" y="76.9" width="0.8" height="0.8" fill="#7a92f4"/><rect x="130.1" y="74.5" width="0.8" height="0.8" fill="#4d72f2"/><rect x="120.0" y="80.7" width="0.8" height="0.8" fill="#4d72f2"/><rect x="123.6" y="94.2" width="0.8" height="0.8" fill="#4d72f2"/><rect x="112.5" y="91.3" width="0.8" height="0.8" fill="#4d72f2"/><rect x="137.4" y="83.7" width="0.8" height="0.8" fill="#4d72f2"/><rect x="134.4" y="72.9" width="0.8" height="0.8" fill="#4d72f2"/><rect x="119.8" y="93.7" width="0.8" height="0.8" fill="#4d72f2"/><rect x="135.0" y="88.7" width="0.8" height="0.8" fill="#4d72f2"/><rect x="120.7" y="75.4" width="0.8" height="0.8" fill="#6a86f4"/><rect x="126.1" y="94.1" width="0.8" height="0.8" fill="#7a92f4"/><rect x="120.7" y="82.8" width="0.8" height="0.8" fill="#7a92f4"/><rect x="127.6" y="72.9" width="0.8" height="0.8" fill="#7a92f4"/><rect x="139.2" y="94.9" width="0.8" height="0.8" fill="#4d72f2"/><rect x="123.5" y="96.7" width="0.8" height="0.8" fill="#f4452a"/><rect x="116.9" y="91.4" width="0.8" height="0.8" fill="#f4452a"/><rect x="133.2" y="97.0" width="0.8" height="0.8" fill="#4d72f2"/><rect x="120.6" y="77.9" width="0.8" height="0.8" fill="#4d72f2"/><rect x="136.6" y="97.2" width="0.8" height="0.8" fill="#4d72f2"/><rect x="135.1" y="73.2" width="0.8" height="0.8" fill="#f4452a"/><rect x="125.9" y="77.2" width="0.8" height="0.8" fill="#7a92f4"/><rect x="127.9" y="72.3" width="0.8" height="0.8" fill="#f4452a"/><rect x="113.7" y="85.1" width="0.8" height="0.8" fill="#4d72f2"/><rect x="130.5" y="85.6" width="0.8" height="0.8" fill="#7a92f4"/><rect x="111.7" y="95.7" width="0.8" height="0.8" fill="#4d72f2"/><rect x="120.6" y="78.6" width="0.8" height="0.8" fill="#4d72f2"/><rect x="124.8" y="92.3" width="0.8" height="0.8" fill="#6a86f4"/><rect x="116.8" y="75.2" width="0.8" height="0.8" fill="#4d72f2"/><rect x="115.3" y="92.6" width="0.8" height="0.8" fill="#4d72f2"/><rect x="135.5" y="72.2" width="0.8" height="0.8" fill="#f4452a"/><rect x="127.7" y="82.4" width="0.8" height="0.8" fill="#6a86f4"/><rect x="117.7" y="88.1" width="0.8" height="0.8" fill="#4d72f2"/><rect x="123.1" y="84.3" width="0.8" height="0.8" fill="#4d72f2"/><rect x="136.6" y="92.2" width="0.8" height="0.8" fill="#4d72f2"/><rect x="140.2" y="94.2" width="0.8" height="0.8" fill="#4d72f2"/><rect x="126.0" y="84.7" width="0.8" height="0.8" fill="#4d72f2"/><rect x="119.8" y="81.1" width="0.8" height="0.8" fill="#f4452a"/><rect x="122.1" y="79.9" width="0.8" height="0.8" fill="#6a86f4"/><rect x="115.9" y="80.5" width="0.8" height="0.8" fill="#4d72f2"/><rect x="132.4" y="92.7" width="0.8" height="0.8" fill="#4d72f2"/><rect x="115.5" y="81.7" width="0.8" height="0.8" fill="#4d72f2"/><rect x="130.2" y="86.1" width="0.8" height="0.8" fill="#f4452a"/><rect x="134.8" y="88.2" width="0.8" height="0.8" fill="#7a92f4"/><rect x="111.6" y="88.3" width="0.8" height="0.8" fill="#f4452a"/><rect x="119.8" y="96.7" width="0.8" height="0.8" fill="#7a92f4"/><rect x="124.3" y="78.4" width="0.8" height="0.8" fill="#4d72f2"/><rect x="118.4" y="87.3" width="0.8" height="0.8" fill="#7a92f4"/><rect x="117.0" y="75.4" width="0.8" height="0.8" fill="#4d72f2"/><rect x="139.0" y="81.7" width="0.8" height="0.8" fill="#4d72f2"/><rect x="134.5" y="78.8" width="0.8" height="0.8" fill="#7a92f4"/><rect x="131.4" y="96.4" width="0.8" height="0.8" fill="#f4452a"/><rect x="130.5" y="95.1" width="0.8" height="0.8" fill="#7a92f4"/><rect x="130.7" y="91.1" width="0.8" height="0.8" fill="#4d72f2"/><rect x="126.5" y="93.1" width="0.8" height="0.8" fill="#f4452a"/><rect x="134.0" y="73.2" width="0.8" height="0.8" fill="#4d72f2"/><rect x="127.5" y="89.1" width="0.8" height="0.8" fill="#7a92f4"/><rect x="136.1" y="75.2" width="0.8" height="0.8" fill="#4d72f2"/><rect x="130.9" y="93.7" width="0.8" height="0.8" fill="#6a86f4"/><rect x="128.0" y="92.8" width="0.8" height="0.8" fill="#4d72f2"/><rect x="140.9" y="86.7" width="0.8" height="0.8" fill="#4d72f2"/><rect x="132.2" y="74.8" width="0.8" height="0.8" fill="#f4452a"/><rect x="113.1" y="86.4" width="0.8" height="0.8" fill="#4d72f2"/><rect x="120.1" y="86.7" width="0.8" height="0.8" fill="#4d72f2"/><rect x="117.5" y="76.7" width="0.8" height="0.8" fill="#4d72f2"/><rect x="124.1" y="90.2" width="0.8" height="0.8" fill="#7a92f4"/><rect x="117.8" y="87.6" width="0.8" height="0.8" fill="#6a86f4"/><rect x="127.3" y="97.1" width="0.8" height="0.8" fill="#7a92f4"/><rect x="125.5" y="97.3" width="0.8" height="0.8" fill="#7a92f4"/><rect x="136.2" y="97.1" width="0.8" height="0.8" fill="#7a92f4"/><rect x="131.4" y="91.7" width="0.8" height="0.8" fill="#f4452a"/><rect x="138.6" y="89.8" width="0.8" height="0.8" fill="#4d72f2"/><rect x="129.9" y="95.3" width="0.8" height="0.8" fill="#4d72f2"/><rect x="115.0" y="84.9" width="0.8" height="0.8" fill="#7a92f4"/><rect x="138.4" y="85.4" width="0.8" height="0.8" fill="#7a92f4"/><rect x="128.2" y="94.3" width="0.8" height="0.8" fill="#4d72f2"/><rect x="118.3" y="77.2" width="0.8" height="0.8" fill="#4d72f2"/><rect x="126.0" y="96.3" width="0.8" height="0.8" fill="#f4452a"/><rect x="126.7" y="92.3" width="0.8" height="0.8" fill="#f4452a"/><rect x="131.9" y="82.7" width="0.8" height="0.8" fill="#4d72f2"/><rect x="128.1" y="78.9" width="0.8" height="0.8" fill="#4d72f2"/><rect x="119.5" y="79.0" width="0.8" height="0.8" fill="#7a92f4"/><rect x="116.2" y="86.8" width="0.8" height="0.8" fill="#4d72f2"/><rect x="120.0" y="92.1" width="0.8" height="0.8" fill="#4d72f2"/><rect x="123.0" y="90.1" width="0.8" height="0.8" fill="#f4452a"/><rect x="128.6" y="84.2" width="0.8" height="0.8" fill="#f4452a"/><rect x="127.3" y="84.5" width="0.8" height="0.8" fill="#f4452a"/><rect x="112.2" y="96.6" width="0.8" height="0.8" fill="#f4452a"/><rect x="137.3" y="73.2" width="0.8" height="0.8" fill="#4d72f2"/><rect x="137.6" y="88.9" width="0.8" height="0.8" fill="#f4452a"/><rect x="117.9" y="95.1" width="0.8" height="0.8" fill="#6a86f4"/><rect x="114.3" y="88.2" width="0.8" height="0.8" fill="#f4452a"/><rect x="136.6" y="95.4" width="0.8" height="0.8" fill="#6a86f4"/><rect x="134.8" y="75.1" width="0.8" height="0.8" fill="#6a86f4"/><rect x="135.9" y="79.6" width="0.8" height="0.8" fill="#6a86f4"/><rect x="124.0" y="91.1" width="0.8" height="0.8" fill="#6a86f4"/><rect x="110.2" y="80.7" width="0.8" height="0.8" fill="#7a92f4"/><rect x="121.8" y="74.0" width="0.8" height="0.8" fill="#f4452a"/><rect x="128.1" y="96.8" width="0.8" height="0.8" fill="#7a92f4"/><rect x="113.9" y="80.3" width="0.8" height="0.8" fill="#6a86f4"/><rect x="112.4" y="83.2" width="0.8" height="0.8" fill="#7a92f4"/><rect x="137.5" y="95.6" width="0.8" height="0.8" fill="#4d72f2"/><rect x="126.4" y="90.2" width="0.8" height="0.8" fill="#f4452a"/><rect x="133.9" y="91.7" width="0.8" height="0.8" fill="#6a86f4"/><rect x="130.5" y="89.4" width="0.8" height="0.8" fill="#6a86f4"/><rect x="113.3" y="96.6" width="0.8" height="0.8" fill="#6a86f4"/><rect x="130.9" y="85.9" width="0.8" height="0.8" fill="#4d72f2"/><rect x="130.7" y="85.2" width="0.8" height="0.8" fill="#4d72f2"/><rect x="132.3" y="89.6" width="0.8" height="0.8" fill="#4d72f2"/><rect x="133.0" y="88.8" width="0.8" height="0.8" fill="#f4452a"/><rect x="129.6" y="76.7" width="0.8" height="0.8" fill="#f4452a"/><rect x="124.1" y="74.8" width="0.8" height="0.8" fill="#4d72f2"/><rect x="114.4" y="80.6" width="0.8" height="0.8" fill="#f4452a"/><rect x="130.1" y="82.9" width="0.8" height="0.8" fill="#6a86f4"/><rect x="130.1" y="83.9" width="0.8" height="0.8" fill="#6a86f4"/><rect x="134.2" y="90.3" width="0.8" height="0.8" fill="#4d72f2"/><rect x="132.2" y="91.6" width="0.8" height="0.8" fill="#4d72f2"/><rect x="127.9" y="82.2" width="0.8" height="0.8" fill="#4d72f2"/><rect x="118.2" y="82.0" width="0.8" height="0.8" fill="#4d72f2"/><rect x="111.3" y="85.1" width="0.8" height="0.8" fill="#4d72f2"/><rect x="131.6" y="85.4" width="0.8" height="0.8" fill="#6a86f4"/><rect x="139.3" y="83.7" width="0.8" height="0.8" fill="#4d72f2"/><rect x="120.9" y="94.0" width="0.8" height="0.8" fill="#4d72f2"/><rect x="114.7" y="87.3" width="0.8" height="0.8" fill="#f4452a"/><rect x="113.5" y="92.3" width="0.8" height="0.8" fill="#f4452a"/><rect x="113.5" y="90.2" width="0.8" height="0.8" fill="#4d72f2"/><rect x="122.9" y="91.3" width="0.8" height="0.8" fill="#f4452a"/><rect x="114.0" y="87.8" width="0.8" height="0.8" fill="#7a92f4"/><rect x="134.7" y="86.2" width="0.8" height="0.8" fill="#4d72f2"/><rect x="127.6" y="77.3" width="0.8" height="0.8" fill="#6a86f4"/><rect x="121.5" y="79.6" width="0.8" height="0.8" fill="#7a92f4"/><rect x="137.6" y="96.7" width="0.8" height="0.8" fill="#7a92f4"/><rect x="119.8" y="95.6" width="0.8" height="0.8" fill="#6a86f4"/><rect x="129.6" y="97.4" width="0.8" height="0.8" fill="#f4452a"/><rect x="131.9" y="95.3" width="0.8" height="0.8" fill="#f4452a"/><rect x="125.0" y="87.6" width="0.8" height="0.8" fill="#f4452a"/><rect x="129.7" y="74.8" width="0.8" height="0.8" fill="#f4452a"/><rect x="117.2" y="76.5" width="0.8" height="0.8" fill="#f4452a"/><rect x="124.3" y="77.0" width="0.8" height="0.8" fill="#4d72f2"/><rect x="116.6" y="93.1" width="0.8" height="0.8" fill="#f4452a"/><rect x="139.3" y="74.9" width="0.8" height="0.8" fill="#6a86f4"/><rect x="139.7" y="95.2" width="0.8" height="0.8" fill="#4d72f2"/><rect x="124.5" y="74.3" width="0.8" height="0.8" fill="#4d72f2"/><rect x="110.8" y="88.1" width="0.8" height="0.8" fill="#4d72f2"/><rect x="112.4" y="86.0" width="0.8" height="0.8" fill="#6a86f4"/><rect x="120.0" y="94.6" width="0.8" height="0.8" fill="#f4452a"/><rect x="131.5" y="74.1" width="0.8" height="0.8" fill="#4d72f2"/><rect x="134.0" y="72.9" width="0.8" height="0.8" fill="#4d72f2"/><rect x="132.9" y="80.9" width="0.8" height="0.8" fill="#4d72f2"/><rect x="138.9" y="94.4" width="0.8" height="0.8" fill="#7a92f4"/><rect x="131.7" y="77.7" width="0.8" height="0.8" fill="#6a86f4"/><rect x="115.0" y="84.9" width="0.8" height="0.8" fill="#f4452a"/><rect x="112.1" y="94.1" width="0.8" height="0.8" fill="#4d72f2"/><rect x="130.1" y="79.9" width="0.8" height="0.8" fill="#7a92f4"/><rect x="124.2" y="90.0" width="0.8" height="0.8" fill="#7a92f4"/><rect x="115.6" y="95.4" width="0.8" height="0.8" fill="#f4452a"/><rect x="118.0" y="94.1" width="0.8" height="0.8" fill="#7a92f4"/><rect x="126.4" y="87.5" width="0.8" height="0.8" fill="#4d72f2"/><rect x="140.1" y="92.9" width="0.8" height="0.8" fill="#6a86f4"/><rect x="134.3" y="75.7" width="0.8" height="0.8" fill="#7a92f4"/><rect x="126.5" y="76.1" width="0.8" height="0.8" fill="#4d72f2"/><rect x="115.3" y="82.5" width="0.8" height="0.8" fill="#4d72f2"/><rect x="129.7" y="75.6" width="0.8" height="0.8" fill="#4d72f2"/><rect x="115.2" y="84.7" width="0.8" height="0.8" fill="#4d72f2"/><rect x="136.1" y="82.5" width="0.8" height="0.8" fill="#6a86f4"/><rect x="122.6" y="90.3" width="0.8" height="0.8" fill="#4d72f2"/><rect x="117.4" y="73.0" width="0.8" height="0.8" fill="#7a92f4"/><rect x="110.8" y="97.1" width="0.8" height="0.8" fill="#4d72f2"/><rect x="117.5" y="82.1" width="0.8" height="0.8" fill="#4d72f2"/><rect x="115.1" y="88.2" width="0.8" height="0.8" fill="#6a86f4"/><rect x="138.3" y="87.5" width="0.8" height="0.8" fill="#f4452a"/><rect x="119.0" y="97.5" width="0.8" height="0.8" fill="#7a92f4"/><rect x="134.5" y="97.0" width="0.8" height="0.8" fill="#7a92f4"/><rect x="117.7" y="78.9" width="0.8" height="0.8" fill="#6a86f4"/><rect x="129.5" y="81.0" width="0.8" height="0.8" fill="#4d72f2"/><rect x="111.8" y="83.3" width="0.8" height="0.8" fill="#4d72f2"/><rect x="128.4" y="72.1" width="0.8" height="0.8" fill="#4d72f2"/><rect x="131.1" y="72.5" width="0.8" height="0.8" fill="#4d72f2"/><rect x="130.3" y="95.4" width="0.8" height="0.8" fill="#4d72f2"/><rect x="137.9" y="91.7" width="0.8" height="0.8" fill="#6a86f4"/><rect x="134.9" y="95.9" width="0.8" height="0.8" fill="#f4452a"/><rect x="128.8" y="96.6" width="0.8" height="0.8" fill="#4d72f2"/><rect x="139.4" y="76.8" width="0.8" height="0.8" fill="#7a92f4"/><rect x="113.6" y="82.1" width="0.8" height="0.8" fill="#6a86f4"/><rect x="126.6" y="92.2" width="0.8" height="0.8" fill="#7a92f4"/><rect x="115.4" y="91.2" width="0.8" height="0.8" fill="#f4452a"/><rect x="122.0" y="96.4" width="0.8" height="0.8" fill="#6a86f4"/><rect x="138.6" y="81.4" width="0.8" height="0.8" fill="#7a92f4"/><rect x="123.6" y="83.6" width="0.8" height="0.8" fill="#f4452a"/><rect x="124.9" y="79.0" width="0.8" height="0.8" fill="#4d72f2"/><rect x="125.7" y="91.6" width="0.8" height="0.8" fill="#f4452a"/><rect x="126.3" y="202.1" width="0.9" height="0.9" fill="#eef23a"/><rect x="105.4" y="188.9" width="0.9" height="0.9" fill="#eef23a"/><rect x="128.1" y="200.0" width="0.9" height="0.9" fill="#eef23a"/><rect x="106.9" y="197.8" width="0.9" height="0.9" fill="#eef23a"/><rect x="125.1" y="191.4" width="0.9" height="0.9" fill="#eef23a"/><rect x="123.2" y="199.6" width="0.9" height="0.9" fill="#eef23a"/><rect x="105.8" y="196.4" width="0.9" height="0.9" fill="#eef23a"/><rect x="105.5" y="193.9" width="0.9" height="0.9" fill="#eef23a"/><rect x="131.8" y="197.0" width="0.9" height="0.9" fill="#eef23a"/><rect x="135.9" y="186.0" width="0.9" height="0.9" fill="#eef23a"/><rect x="110.2" y="199.4" width="0.9" height="0.9" fill="#eef23a"/><rect x="133.3" y="191.8" width="0.9" height="0.9" fill="#eef23a"/><rect x="114.0" y="193.7" width="0.9" height="0.9" fill="#eef23a"/><rect x="130.3" y="189.6" width="0.9" height="0.9" fill="#eef23a"/><rect x="126.0" y="202.6" width="0.9" height="0.9" fill="#eef23a"/><rect x="133.9" y="188.4" width="0.9" height="0.9" fill="#eef23a"/><rect x="135.5" y="187.9" width="0.9" height="0.9" fill="#eef23a"/><rect x="113.2" y="189.5" width="0.9" height="0.9" fill="#eef23a"/><rect x="131.2" y="194.8" width="0.9" height="0.9" fill="#eef23a"/><rect x="120.2" y="201.4" width="0.9" height="0.9" fill="#eef23a"/><rect x="114.2" y="201.0" width="0.9" height="0.9" fill="#eef23a"/><rect x="129.0" y="193.9" width="0.9" height="0.9" fill="#eef23a"/><rect x="123.9" y="186.7" width="0.9" height="0.9" fill="#eef23a"/><rect x="129.8" y="196.2" width="0.9" height="0.9" fill="#eef23a"/><rect x="131.5" y="187.7" width="0.9" height="0.9" fill="#eef23a"/><rect x="134.2" y="190.3" width="0.9" height="0.9" fill="#eef23a"/><rect x="107.5" y="192.8" width="0.9" height="0.9" fill="#eef23a"/><rect x="130.4" y="197.6" width="0.9" height="0.9" fill="#eef23a"/><rect x="107.5" y="194.3" width="0.9" height="0.9" fill="#eef23a"/><rect x="125.4" y="197.9" width="0.9" height="0.9" fill="#eef23a"/><rect x="116.9" y="197.2" width="0.9" height="0.9" fill="#eef23a"/><rect x="128.9" y="191.0" width="0.9" height="0.9" fill="#eef23a"/><rect x="134.2" y="193.5" width="0.9" height="0.9" fill="#eef23a"/><rect x="116.1" y="188.0" width="0.9" height="0.9" fill="#eef23a"/><rect x="104.2" y="191.1" width="0.9" height="0.9" fill="#eef23a"/><rect x="124.6" y="191.8" width="0.9" height="0.9" fill="#eef23a"/><rect x="110.1" y="198.8" width="0.9" height="0.9" fill="#eef23a"/><rect x="133.6" y="197.7" width="0.9" height="0.9" fill="#eef23a"/><rect x="115.7" y="199.3" width="0.9" height="0.9" fill="#eef23a"/><rect x="106.1" y="194.8" width="0.9" height="0.9" fill="#eef23a"/><rect x="112.0" y="200.2" width="0.9" height="0.9" fill="#eef23a"/><rect x="106.0" y="190.0" width="0.9" height="0.9" fill="#eef23a"/><rect x="118.0" y="190.3" width="0.9" height="0.9" fill="#eef23a"/><rect x="114.3" y="198.7" width="0.9" height="0.9" fill="#eef23a"/><rect x="110.6" y="189.7" width="0.9" height="0.9" fill="#eef23a"/><rect x="132.0" y="198.5" width="0.9" height="0.9" fill="#eef23a"/><rect x="118.8" y="198.1" width="0.9" height="0.9" fill="#eef23a"/><rect x="131.3" y="192.3" width="0.9" height="0.9" fill="#eef23a"/><rect x="110.1" y="196.6" width="0.9" height="0.9" fill="#eef23a"/><rect x="117.1" y="201.2" width="0.9" height="0.9" fill="#eef23a"/><rect x="135.5" y="194.0" width="0.9" height="0.9" fill="#eef23a"/><rect x="122.8" y="186.6" width="0.9" height="0.9" fill="#eef23a"/><rect x="134.6" y="186.3" width="0.9" height="0.9" fill="#eef23a"/><rect x="132.6" y="186.5" width="0.9" height="0.9" fill="#eef23a"/><rect x="108.8" y="194.6" width="0.9" height="0.9" fill="#eef23a"/><rect x="106.0" y="194.0" width="0.9" height="0.9" fill="#eef23a"/><rect x="110.2" y="189.5" width="0.9" height="0.9" fill="#eef23a"/><rect x="119.7" y="186.6" width="0.9" height="0.9" fill="#eef23a"/><rect x="119.0" y="189.3" width="0.9" height="0.9" fill="#eef23a"/><rect x="129.0" y="188.4" width="0.9" height="0.9" fill="#eef23a"/><rect x="118.2" y="201.4" width="0.9" height="0.9" fill="#eef23a"/><rect x="118.2" y="189.5" width="0.9" height="0.9" fill="#eef23a"/><rect x="119.6" y="199.8" width="0.9" height="0.9" fill="#eef23a"/><rect x="113.1" y="192.4" width="0.9" height="0.9" fill="#eef23a"/><rect x="129.8" y="196.8" width="0.9" height="0.9" fill="#eef23a"/><rect x="134.2" y="193.3" width="0.9" height="0.9" fill="#eef23a"/><rect x="134.1" y="194.1" width="0.9" height="0.9" fill="#eef23a"/><rect x="136.0" y="189.8" width="0.9" height="0.9" fill="#eef23a"/><rect x="134.6" y="190.9" width="0.9" height="0.9" fill="#eef23a"/><rect x="104.9" y="192.3" width="0.9" height="0.9" fill="#eef23a"/><rect x="115.5" y="200.1" width="0.9" height="0.9" fill="#eef23a"/><rect x="127.9" y="201.8" width="0.9" height="0.9" fill="#eef23a"/><rect x="120.6" y="186.2" width="0.9" height="0.9" fill="#eef23a"/><rect x="124.1" y="188.5" width="0.9" height="0.9" fill="#eef23a"/><rect x="104.7" y="202.2" width="0.9" height="0.9" fill="#eef23a"/><rect x="104.1" y="202.7" width="0.9" height="0.9" fill="#eef23a"/><rect x="129.4" y="192.0" width="0.9" height="0.9" fill="#eef23a"/><rect x="134.9" y="192.2" width="0.9" height="0.9" fill="#eef23a"/><rect x="121.7" y="194.3" width="0.9" height="0.9" fill="#eef23a"/><rect x="111.6" y="190.7" width="0.9" height="0.9" fill="#eef23a"/><rect x="132.9" y="200.2" width="0.9" height="0.9" fill="#eef23a"/><rect x="123.3" y="199.8" width="0.9" height="0.9" fill="#eef23a"/><rect x="118.4" y="190.4" width="0.9" height="0.9" fill="#eef23a"/><rect x="125.5" y="194.5" width="0.9" height="0.9" fill="#eef23a"/><rect x="127.1" y="191.8" width="0.9" height="0.9" fill="#eef23a"/><rect x="104.9" y="186.6" width="0.9" height="0.9" fill="#eef23a"/><rect x="135.9" y="188.8" width="0.9" height="0.9" fill="#eef23a"/><rect x="128.4" y="195.6" width="0.9" height="0.9" fill="#eef23a"/><rect x="134.5" y="198.6" width="0.9" height="0.9" fill="#eef23a"/><rect x="130.9" y="193.0" width="0.9" height="0.9" fill="#eef23a"/><circle cx="155.00" cy="140.00" r="1.00" fill="#c070a8"/><text x="129.5" y="19.0" font-size="9.5">10</text><text x="57.0" y="46.5" font-size="9.5">5</text><text x="133.3" y="62.5" font-size="9.5">6</text><text x="197.0" y="70.0" font-size="9.5">8</text><text x="26.5" y="80.6" font-size="9.5">19</text><text x="45.5" y="91.0" font-size="9.5">4</text><text x="92.3" y="82.8" font-size="9.5">25</text><text x="128.3" y="110.8" font-size="9.5">11</text><text x="99.6" y="121.5" font-size="9.5">16</text><text x="200.6" y="120.5" font-size="9.5">1</text><text x="219.6" y="121.5" font-size="9.5">2</text><text x="217.7" y="136.0" font-size="9.5">3</text><text x="148.0" y="136.0" font-size="9.5">7</text><text x="148.5" y="158.0" font-size="9.5">24</text><text x="22.8" y="156.0" font-size="9.5">17</text><text x="91.0" y="147.5" font-size="9.5">15</text><text x="119.5" y="171.0" font-size="9.5">12</text><text x="71.0" y="182.6" font-size="9.5">14</text><text x="81.6" y="199.7" font-size="9.5">13</text><text x="134.0" y="214.0" font-size="9.5">23</text><text x="172.0" y="178.0" font-size="9.5">18</text><text x="203.5" y="178.0" font-size="9.5">26</text><text x="230.6" y="186.0" font-size="9.5">9</text><text x="187.0" y="219.6" font-size="9.5">22</text><text x="197.0" y="255.0" font-size="9.5">21</text><text x="122.0" y="267.4" font-size="9.5">20</text><text x="67.5" y="240.6" font-size="11.3">n=228,018 cells</text><line x1="38.00" y1="261.50" x2="38.00" y2="238.50" stroke="#000" stroke-width="1.3"/><path d="M38,234.5 L35.2,240 L40.8,240 Z" fill="#000"/><line x1="37.40" y1="261.00" x2="59.00" y2="261.00" stroke="#000" stroke-width="1.3"/><path d="M63,261 L57.5,258.2 L57.5,263.8 Z" fill="#000"/><text x="34.0" y="262.0" font-size="7.8" transform="rotate(-90 34.0 262.0)">UMAP_2</text><text x="33.4" y="274.0" font-size="7.8">UMAP_1</text><circle cx="19.50" cy="296.00" r="5.30" fill="#e4f484"/><text x="19.5" y="298.6" font-size="7.2" text-anchor="middle">22</text><text x="81.6" y="294.0" font-size="8.8" text-anchor="middle">Oligodendrocyte precursor</text><text x="82.5" y="304.5" font-size="8.8" text-anchor="middle">cells (OPCs)</text><circle cx="142.30" cy="289.30" r="5.30" fill="#f0f040"/><text x="142.3" y="291.9" font-size="7.2" text-anchor="middle">23</text><text x="151.8" y="292.8" font-size="8.8">Unipolar brush cells (UBCs)</text><circle cx="142.30" cy="301.60" r="5.30" fill="#a89848"/><text x="142.3" y="304.2" font-size="7.2" text-anchor="middle">25</text><text x="151.8" y="304.5" font-size="8.8">Vertical cells</text><circle cx="19.50" cy="323.00" r="5.30" fill="#b4ee48"/><text x="19.5" y="325.6" font-size="7.2" text-anchor="middle">24</text><text x="80.3" y="321.5" font-size="8.8" text-anchor="middle">Vascular endothelial cells</text><text x="80.7" y="331.5" font-size="8.8" text-anchor="middle">(VECs)</text><circle cx="142.30" cy="323.00" r="5.30" fill="#a0f0f0"/><text x="142.3" y="325.6" font-size="7.2" text-anchor="middle">26</text><text x="201.0" y="320.5" font-size="8.8" text-anchor="middle">Vascular leptomeningeal</text><text x="203.0" y="331.0" font-size="8.8" text-anchor="middle">cells (VLMCs)</text><circle cx="270.60" cy="17.00" r="5.30" fill="#f26fe0"/><text x="270.6" y="19.6" font-size="7.2" text-anchor="middle">1</text><text x="280.5" y="20.3" font-size="8.9">Astrocytes_<tspan font-style="italic">Aqp4</tspan><tspan font-size="5" dy="-3.5">+</tspan></text><circle cx="270.60" cy="34.00" r="5.30" fill="#4a88c8"/><text x="270.6" y="36.6" font-size="7.2" text-anchor="middle">2</text><text x="280.5" y="37.3" font-size="8.9">Astrocytes_<tspan font-style="italic">Stard13</tspan><tspan font-size="5" dy="-3.5">+</tspan></text><circle cx="270.60" cy="51.00" r="5.30" fill="#d08ef0"/><text x="270.6" y="53.6" font-size="7.2" text-anchor="middle">3</text><text x="280.5" y="54.3" font-size="8.9">Astrocytes_<tspan font-style="italic">Gpc5</tspan><tspan font-size="5" dy="-3.5">+</tspan></text><circle cx="270.60" cy="66.40" r="5.30" fill="#7e4e9a"/><text x="270.6" y="69.0" font-size="7.2" text-anchor="middle">4</text><text x="280.5" y="69.7" font-size="8.9">Spherical bushy cells (SBCs)</text><circle cx="270.60" cy="80.70" r="5.30" fill="#62c27e"/><text x="270.6" y="83.3" font-size="7.2" text-anchor="middle">5</text><text x="280.5" y="84.0" font-size="8.9">Globular bushy cells (GBCs)</text><circle cx="270.60" cy="95.30" r="5.30" fill="#4d72f2"/><text x="270.6" y="97.9" font-size="7.2" text-anchor="middle">6</text><text x="280.5" y="98.6" font-size="8.9">Cartwheel cells</text><circle cx="270.60" cy="109.60" r="5.30" fill="#c070a8"/><text x="270.6" y="112.2" font-size="7.2" text-anchor="middle">7</text><text x="280.5" y="112.9" font-size="8.9">Pericytes</text><circle cx="270.60" cy="123.70" r="5.30" fill="#7a3430"/><text x="270.6" y="126.3" font-size="7.2" text-anchor="middle">8</text><text x="280.5" y="127.0" font-size="8.9">Ependymal cells</text><circle cx="270.60" cy="137.80" r="5.30" fill="#f08222"/><text x="270.6" y="140.4" font-size="7.2" text-anchor="middle">9</text><text x="280.5" y="141.1" font-size="8.9">Fibroblasts</text><circle cx="270.60" cy="152.00" r="5.30" fill="#8a92f2"/><text x="270.6" y="154.6" font-size="7.2" text-anchor="middle">10</text><text x="280.5" y="155.3" font-size="8.9">Fusiform cells</text><circle cx="270.60" cy="166.00" r="5.30" fill="#f4452a"/><text x="270.6" y="168.6" font-size="7.2" text-anchor="middle">11</text><text x="280.5" y="169.3" font-size="8.9">ML/L-stellate cells</text><circle cx="270.60" cy="182.00" r="5.30" fill="#d4f2c4"/><text x="270.6" y="184.6" font-size="7.2" text-anchor="middle">12</text><text x="280.5" y="185.3" font-size="8.9">Granule cells_<tspan font-style="italic">Gabra6</tspan><tspan font-size="5" dy="-3.5">+</tspan></text><circle cx="270.60" cy="199.00" r="5.30" fill="#f090a0"/><text x="270.6" y="201.6" font-size="7.2" text-anchor="middle">13</text><text x="280.5" y="202.3" font-size="8.9">Granule cells_<tspan font-style="italic">Gm45341</tspan><tspan font-size="5" dy="-3.5">+</tspan></text><circle cx="270.60" cy="215.90" r="5.30" fill="#72bef0"/><text x="270.6" y="218.5" font-size="7.2" text-anchor="middle">14</text><text x="280.5" y="219.2" font-size="8.9">Granule cells_<tspan font-style="italic">Gm20754</tspan><tspan font-size="5" dy="-3.5">+</tspan></text><circle cx="270.60" cy="234.00" r="5.30" fill="#8a8a38"/><text x="270.6" y="236.6" font-size="7.2" text-anchor="middle">15</text><text x="280.5" y="237.3" font-size="8.9">Granule cells_<tspan font-style="italic">Cadps2</tspan><tspan font-size="5" dy="-3.5">+</tspan></text><circle cx="270.60" cy="248.30" r="5.30" fill="#5ed8b0"/><text x="270.6" y="250.9" font-size="7.2" text-anchor="middle">16</text><text x="280.5" y="251.6" font-size="8.9">Golgi cells</text><circle cx="270.60" cy="262.20" r="5.30" fill="#f07a22"/><text x="270.6" y="264.8" font-size="7.2" text-anchor="middle">17</text><text x="280.5" y="265.5" font-size="8.9">T-stellate cells</text><circle cx="270.60" cy="276.50" r="5.30" fill="#80b4d0"/><text x="270.6" y="279.1" font-size="7.2" text-anchor="middle">18</text><text x="280.5" y="279.8" font-size="8.9">Microglia</text><circle cx="270.60" cy="290.20" r="5.30" fill="#7af0f4"/><text x="270.6" y="292.8" font-size="7.2" text-anchor="middle">19</text><text x="280.5" y="293.5" font-size="8.9">Octopus cells</text><circle cx="270.60" cy="304.80" r="5.30" fill="#f29470"/><text x="270.6" y="307.4" font-size="7.2" text-anchor="middle">20</text><text x="280.5" y="308.1" font-size="8.9">Oligodendrocyte_1 (Oligo_1)</text><circle cx="270.60" cy="318.40" r="5.30" fill="#40d040"/><text x="270.6" y="321.0" font-size="7.2" text-anchor="middle">21</text><text x="280.5" y="321.7" font-size="8.9">Oligodendrocyte_2 (Oligo_2)</text><text x="397.0" y="13.1" font-size="14.5" font-weight="bold">b</text><text x="431.2" y="19.3" font-size="9.6" text-anchor="middle">P1</text><text x="460.8" y="19.3" font-size="9.6" text-anchor="middle">P7</text><text x="493.6" y="19.3" font-size="9.6" text-anchor="middle">P14</text><text x="528.6" y="19.3" font-size="9.6" text-anchor="middle">P45</text><text x="562.4" y="19.5" font-size="9.6" text-anchor="middle"><tspan font-style="italic">Vglut3</tspan><tspan font-size="5.5" dy="-3.6">-/-</tspan></text><text x="596.4" y="8.6" font-size="9.6" text-anchor="middle"><tspan font-style="italic">Vglut3</tspan><tspan font-size="5.5" dy="-3.6">-/-</tspan></text><text x="596.2" y="19.3" font-size="9.6" text-anchor="middle">+GT</text><text x="625.8" y="19.5" font-size="9.6" text-anchor="middle"><tspan font-style="italic">Otof</tspan><tspan font-size="5.5" dy="-3.6">-/-</tspan></text><text x="665.8" y="19.5" font-size="9.6" text-anchor="middle"><tspan font-style="italic">Ush1c</tspan><tspan font-size="5.5" dy="-3.6">-/-</tspan></text><rect x="414.30" y="25.2" width="1.65" height="5.5" fill="#f26fe0"/><rect x="415.90" y="25.2" width="1.65" height="5.5" fill="#7e4e9a"/><rect x="417.50" y="25.2" width="1.65" height="5.5" fill="#4d72f2"/><rect x="419.11" y="25.2" width="1.65" height="5.5" fill="#c070a8"/><rect x="420.71" y="25.2" width="1.65" height="5.5" fill="#7a3430"/><rect x="422.31" y="25.2" width="1.65" height="5.5" fill="#f08222"/><rect x="423.91" y="25.2" width="1.65" height="5.5" fill="#f4452a"/><rect x="425.51" y="25.2" width="1.65" height="5.5" fill="#f07a22"/><rect x="427.12" y="25.2" width="1.65" height="5.5" fill="#5ed8b0"/><rect x="428.72" y="25.2" width="1.65" height="5.5" fill="#7af0f4"/><rect x="430.32" y="25.2" width="1.65" height="5.5" fill="#f29470"/><rect x="431.92" y="25.2" width="1.65" height="5.5" fill="#d4f2c4"/><rect x="433.52" y="25.2" width="1.65" height="5.5" fill="#f0f040"/><rect x="435.13" y="25.2" width="1.65" height="5.5" fill="#b4ee48"/><rect x="436.73" y="25.2" width="1.65" height="5.5" fill="#e4f484"/><rect x="438.33" y="25.2" width="1.65" height="5.5" fill="#a89848"/><rect x="439.93" y="25.2" width="1.65" height="5.5" fill="#72bef0"/><rect x="441.53" y="25.2" width="1.65" height="5.5" fill="#d08ef0"/><rect x="443.14" y="25.2" width="1.65" height="5.5" fill="#8a92f2"/><rect x="444.74" y="25.2" width="1.65" height="5.5" fill="#62c27e"/><rect x="447.34" y="25.2" width="1.65" height="5.5" fill="#f26fe0"/><rect x="448.94" y="25.2" width="1.65" height="5.5" fill="#7e4e9a"/><rect x="450.54" y="25.2" width="1.65" height="5.5" fill="#4d72f2"/><rect x="452.15" y="25.2" width="1.65" height="5.5" fill="#c070a8"/><rect x="453.75" y="25.2" width="1.65" height="5.5" fill="#7a3430"/><rect x="455.35" y="25.2" width="1.65" height="5.5" fill="#f08222"/><rect x="456.95" y="25.2" width="1.65" height="5.5" fill="#f4452a"/><rect x="458.55" y="25.2" width="1.65" height="5.5" fill="#f07a22"/><rect x="460.16" y="25.2" width="1.65" height="5.5" fill="#5ed8b0"/><rect x="461.76" y="25.2" width="1.65" height="5.5" fill="#7af0f4"/><rect x="463.36" y="25.2" width="1.65" height="5.5" fill="#f29470"/><rect x="464.96" y="25.2" width="1.65" height="5.5" fill="#d4f2c4"/><rect x="466.56" y="25.2" width="1.65" height="5.5" fill="#f0f040"/><rect x="468.17" y="25.2" width="1.65" height="5.5" fill="#b4ee48"/><rect x="469.77" y="25.2" width="1.65" height="5.5" fill="#e4f484"/><rect x="471.37" y="25.2" width="1.65" height="5.5" fill="#a89848"/><rect x="472.97" y="25.2" width="1.65" height="5.5" fill="#72bef0"/><rect x="474.57" y="25.2" width="1.65" height="5.5" fill="#d08ef0"/><rect x="476.18" y="25.2" width="1.65" height="5.5" fill="#8a92f2"/><rect x="477.78" y="25.2" width="1.65" height="5.5" fill="#62c27e"/><rect x="480.38" y="25.2" width="1.65" height="5.5" fill="#f26fe0"/><rect x="481.98" y="25.2" width="1.65" height="5.5" fill="#7e4e9a"/><rect x="483.58" y="25.2" width="1.65" height="5.5" fill="#4d72f2"/><rect x="485.19" y="25.2" width="1.65" height="5.5" fill="#c070a8"/><rect x="486.79" y="25.2" width="1.65" height="5.5" fill="#7a3430"/><rect x="488.39" y="25.2" width="1.65" height="5.5" fill="#f08222"/><rect x="489.99" y="25.2" width="1.65" height="5.5" fill="#f4452a"/><rect x="491.59" y="25.2" width="1.65" height="5.5" fill="#f07a22"/><rect x="493.20" y="25.2" width="1.65" height="5.5" fill="#5ed8b0"/><rect x="494.80" y="25.2" width="1.65" height="5.5" fill="#7af0f4"/><rect x="496.40" y="25.2" width="1.65" height="5.5" fill="#f29470"/><rect x="498.00" y="25.2" width="1.65" height="5.5" fill="#d4f2c4"/><rect x="499.60" y="25.2" width="1.65" height="5.5" fill="#f0f040"/><rect x="501.21" y="25.2" width="1.65" height="5.5" fill="#b4ee48"/><rect x="502.81" y="25.2" width="1.65" height="5.5" fill="#e4f484"/><rect x="504.41" y="25.2" width="1.65" height="5.5" fill="#a89848"/><rect x="506.01" y="25.2" width="1.65" height="5.5" fill="#72bef0"/><rect x="507.61" y="25.2" width="1.65" height="5.5" fill="#d08ef0"/><rect x="509.22" y="25.2" width="1.65" height="5.5" fill="#8a92f2"/><rect x="510.82" y="25.2" width="1.65" height="5.5" fill="#62c27e"/><rect x="513.42" y="25.2" width="1.65" height="5.5" fill="#f26fe0"/><rect x="515.02" y="25.2" width="1.65" height="5.5" fill="#7e4e9a"/><rect x="516.62" y="25.2" width="1.65" height="5.5" fill="#4d72f2"/><rect x="518.23" y="25.2" width="1.65" height="5.5" fill="#c070a8"/><rect x="519.83" y="25.2" width="1.65" height="5.5" fill="#7a3430"/><rect x="521.43" y="25.2" width="1.65" height="5.5" fill="#f08222"/><rect x="523.03" y="25.2" width="1.65" height="5.5" fill="#f4452a"/><rect x="524.63" y="25.2" width="1.65" height="5.5" fill="#f07a22"/><rect x="526.24" y="25.2" width="1.65" height="5.5" fill="#5ed8b0"/><rect x="527.84" y="25.2" width="1.65" height="5.5" fill="#7af0f4"/><rect x="529.44" y="25.2" width="1.65" height="5.5" fill="#f29470"/><rect x="531.04" y="25.2" width="1.65" height="5.5" fill="#d4f2c4"/><rect x="532.64" y="25.2" width="1.65" height="5.5" fill="#f0f040"/><rect x="534.25" y="25.2" width="1.65" height="5.5" fill="#b4ee48"/><rect x="535.85" y="25.2" width="1.65" height="5.5" fill="#e4f484"/><rect x="537.45" y="25.2" width="1.65" height="5.5" fill="#a89848"/><rect x="539.05" y="25.2" width="1.65" height="5.5" fill="#72bef0"/><rect x="540.65" y="25.2" width="1.65" height="5.5" fill="#d08ef0"/><rect x="542.26" y="25.2" width="1.65" height="5.5" fill="#8a92f2"/><rect x="543.86" y="25.2" width="1.65" height="5.5" fill="#62c27e"/><rect x="546.46" y="25.2" width="1.65" height="5.5" fill="#f26fe0"/><rect x="548.06" y="25.2" width="1.65" height="5.5" fill="#7e4e9a"/><rect x="549.66" y="25.2" width="1.65" height="5.5" fill="#4d72f2"/><rect x="551.27" y="25.2" width="1.65" height="5.5" fill="#c070a8"/><rect x="552.87" y="25.2" width="1.65" height="5.5" fill="#7a3430"/><rect x="554.47" y="25.2" width="1.65" height="5.5" fill="#f08222"/><rect x="556.07" y="25.2" width="1.65" height="5.5" fill="#f4452a"/><rect x="557.67" y="25.2" width="1.65" height="5.5" fill="#f07a22"/><rect x="559.28" y="25.2" width="1.65" height="5.5" fill="#5ed8b0"/><rect x="560.88" y="25.2" width="1.65" height="5.5" fill="#7af0f4"/><rect x="562.48" y="25.2" width="1.65" height="5.5" fill="#f29470"/><rect x="564.08" y="25.2" width="1.65" height="5.5" fill="#d4f2c4"/><rect x="565.68" y="25.2" width="1.65" height="5.5" fill="#f0f040"/><rect x="567.29" y="25.2" width="1.65" height="5.5" fill="#b4ee48"/><rect x="568.89" y="25.2" width="1.65" height="5.5" fill="#e4f484"/><rect x="570.49" y="25.2" width="1.65" height="5.5" fill="#a89848"/><rect x="572.09" y="25.2" width="1.65" height="5.5" fill="#72bef0"/><rect x="573.69" y="25.2" width="1.65" height="5.5" fill="#d08ef0"/><rect x="575.30" y="25.2" width="1.65" height="5.5" fill="#8a92f2"/><rect x="576.90" y="25.2" width="1.65" height="5.5" fill="#62c27e"/><rect x="579.50" y="25.2" width="1.65" height="5.5" fill="#f26fe0"/><rect x="581.10" y="25.2" width="1.65" height="5.5" fill="#7e4e9a"/><rect x="582.70" y="25.2" width="1.65" height="5.5" fill="#4d72f2"/><rect x="584.31" y="25.2" width="1.65" height="5.5" fill="#c070a8"/><rect x="585.91" y="25.2" width="1.65" height="5.5" fill="#7a3430"/><rect x="587.51" y="25.2" width="1.65" height="5.5" fill="#f08222"/><rect x="589.11" y="25.2" width="1.65" height="5.5" fill="#f4452a"/><rect x="590.71" y="25.2" width="1.65" height="5.5" fill="#f07a22"/><rect x="592.32" y="25.2" width="1.65" height="5.5" fill="#5ed8b0"/><rect x="593.92" y="25.2" width="1.65" height="5.5" fill="#7af0f4"/><rect x="595.52" y="25.2" width="1.65" height="5.5" fill="#f29470"/><rect x="597.12" y="25.2" width="1.65" height="5.5" fill="#d4f2c4"/><rect x="598.72" y="25.2" width="1.65" height="5.5" fill="#f0f040"/><rect x="600.33" y="25.2" width="1.65" height="5.5" fill="#b4ee48"/><rect x="601.93" y="25.2" width="1.65" height="5.5" fill="#e4f484"/><rect x="603.53" y="25.2" width="1.65" height="5.5" fill="#a89848"/><rect x="605.13" y="25.2" width="1.65" height="5.5" fill="#72bef0"/><rect x="606.73" y="25.2" width="1.65" height="5.5" fill="#d08ef0"/><rect x="608.34" y="25.2" width="1.65" height="5.5" fill="#8a92f2"/><rect x="609.94" y="25.2" width="1.65" height="5.5" fill="#62c27e"/><rect x="612.54" y="25.2" width="1.65" height="5.5" fill="#f26fe0"/><rect x="614.14" y="25.2" width="1.65" height="5.5" fill="#7e4e9a"/><rect x="615.74" y="25.2" width="1.65" height="5.5" fill="#4d72f2"/><rect x="617.35" y="25.2" width="1.65" height="5.5" fill="#c070a8"/><rect x="618.95" y="25.2" width="1.65" height="5.5" fill="#7a3430"/><rect x="620.55" y="25.2" width="1.65" height="5.5" fill="#f08222"/><rect x="622.15" y="25.2" width="1.65" height="5.5" fill="#f4452a"/><rect x="623.75" y="25.2" width="1.65" height="5.5" fill="#f07a22"/><rect x="625.36" y="25.2" width="1.65" height="5.5" fill="#5ed8b0"/><rect x="626.96" y="25.2" width="1.65" height="5.5" fill="#7af0f4"/><rect x="628.56" y="25.2" width="1.65" height="5.5" fill="#f29470"/><rect x="630.16" y="25.2" width="1.65" height="5.5" fill="#d4f2c4"/><rect x="631.76" y="25.2" width="1.65" height="5.5" fill="#f0f040"/><rect x="633.37" y="25.2" width="1.65" height="5.5" fill="#b4ee48"/><rect x="634.97" y="25.2" width="1.65" height="5.5" fill="#e4f484"/><rect x="636.57" y="25.2" width="1.65" height="5.5" fill="#a89848"/><rect x="638.17" y="25.2" width="1.65" height="5.5" fill="#72bef0"/><rect x="639.77" y="25.2" width="1.65" height="5.5" fill="#d08ef0"/><rect x="641.38" y="25.2" width="1.65" height="5.5" fill="#8a92f2"/><rect x="642.98" y="25.2" width="1.65" height="5.5" fill="#62c27e"/><rect x="645.58" y="25.2" width="1.65" height="5.5" fill="#f26fe0"/><rect x="647.18" y="25.2" width="1.65" height="5.5" fill="#7e4e9a"/><rect x="648.78" y="25.2" width="1.65" height="5.5" fill="#4d72f2"/><rect x="650.39" y="25.2" width="1.65" height="5.5" fill="#c070a8"/><rect x="651.99" y="25.2" width="1.65" height="5.5" fill="#7a3430"/><rect x="653.59" y="25.2" width="1.65" height="5.5" fill="#f08222"/><rect x="655.19" y="25.2" width="1.65" height="5.5" fill="#f4452a"/><rect x="656.79" y="25.2" width="1.65" height="5.5" fill="#f07a22"/><rect x="658.40" y="25.2" width="1.65" height="5.5" fill="#5ed8b0"/><rect x="660.00" y="25.2" width="1.65" height="5.5" fill="#7af0f4"/><rect x="661.60" y="25.2" width="1.65" height="5.5" fill="#f29470"/><rect x="663.20" y="25.2" width="1.65" height="5.5" fill="#d4f2c4"/><rect x="664.80" y="25.2" width="1.65" height="5.5" fill="#f0f040"/><rect x="666.41" y="25.2" width="1.65" height="5.5" fill="#b4ee48"/><rect x="668.01" y="25.2" width="1.65" height="5.5" fill="#e4f484"/><rect x="669.61" y="25.2" width="1.65" height="5.5" fill="#a89848"/><rect x="671.21" y="25.2" width="1.65" height="5.5" fill="#72bef0"/><rect x="672.81" y="25.2" width="1.65" height="5.5" fill="#d08ef0"/><rect x="674.42" y="25.2" width="1.65" height="5.5" fill="#8a92f2"/><rect x="676.02" y="25.2" width="1.65" height="5.5" fill="#62c27e"/><rect x="414.30" y="71.00" width="32.24" height="272.00" fill="#ecfaf6"/><use href="#hrows" x="414.30" fill="#30c498"/><rect x="414.60" y="33.50" width="31.74" height="36.30" fill="#ecfaf6" stroke="#8a8a8a" stroke-width="1"/><use href="#hrows2" x="415.30" fill="#30c498"/><line x1="415.80" y1="35.00" x2="445.34" y2="68.80" stroke="#2aa050" stroke-width="1.5" stroke-opacity="0.85" stroke-dasharray="1.6 0.7"/><use href="#hspk" x="414.30" fill="#2aa050"/><rect x="447.34" y="71.00" width="32.24" height="272.00" fill="#efecf8"/><use href="#hrows" x="447.34" fill="#5a80d4"/><rect x="447.64" y="33.50" width="31.74" height="36.30" fill="#efecf8" stroke="#8a8a8a" stroke-width="1"/><use href="#hrows2" x="448.34" fill="#5a80d4"/><line x1="448.84" y1="35.00" x2="478.38" y2="68.80" stroke="#3a78c8" stroke-width="1.5" stroke-opacity="0.85" stroke-dasharray="1.6 0.7"/><use href="#hspk" x="447.34" fill="#3a78c8"/><rect x="480.38" y="71.00" width="32.24" height="272.00" fill="#fbecd2"/><use href="#hrows" x="480.38" fill="#f0a048"/><rect x="480.68" y="33.50" width="31.74" height="36.30" fill="#fbecd2" stroke="#8a8a8a" stroke-width="1"/><use href="#hrows2" x="481.38" fill="#f0a048"/><line x1="481.88" y1="35.00" x2="511.42" y2="68.80" stroke="#e04018" stroke-width="1.5" stroke-opacity="0.85" stroke-dasharray="1.6 0.7"/><use href="#hspk" x="480.38" fill="#e04018"/><rect x="513.42" y="71.00" width="32.24" height="272.00" fill="#e6f8e2"/><use href="#hrows" x="513.42" fill="#50c878"/><rect x="513.72" y="33.50" width="31.74" height="36.30" fill="#e6f8e2" stroke="#8a8a8a" stroke-width="1"/><use href="#hrows2" x="514.42" fill="#50c878"/><line x1="514.92" y1="35.00" x2="544.46" y2="68.80" stroke="#3a90c0" stroke-width="1.5" stroke-opacity="0.85" stroke-dasharray="1.6 0.7"/><use href="#hspk" x="513.42" fill="#3a90c0"/><rect x="546.46" y="71.00" width="32.24" height="272.00" fill="#ecfaf6"/><use href="#hrows" x="546.46" fill="#30c498"/><rect x="546.76" y="33.50" width="31.74" height="36.30" fill="#ecfaf6" stroke="#8a8a8a" stroke-width="1"/><use href="#hrows2" x="547.46" fill="#30c498"/><line x1="547.96" y1="35.00" x2="577.50" y2="68.80" stroke="#2aa050" stroke-width="1.5" stroke-opacity="0.85" stroke-dasharray="1.6 0.7"/><use href="#hspk" x="546.46" fill="#2aa050"/><rect x="579.50" y="71.00" width="32.24" height="272.00" fill="#efecf8"/><use href="#hrows" x="579.50" fill="#5a80d4"/><rect x="579.80" y="33.50" width="31.74" height="36.30" fill="#efecf8" stroke="#8a8a8a" stroke-width="1"/><use href="#hrows2" x="580.50" fill="#5a80d4"/><line x1="581.00" y1="35.00" x2="610.54" y2="68.80" stroke="#3a70c8" stroke-width="1.5" stroke-opacity="0.85" stroke-dasharray="1.6 0.7"/><use href="#hspk" x="579.50" fill="#3a70c8"/><rect x="612.54" y="71.00" width="32.24" height="272.00" fill="#fbe9cc"/><use href="#hrows" x="612.54" fill="#f09a40"/><rect x="612.84" y="33.50" width="31.74" height="36.30" fill="#fbe9cc" stroke="#8a8a8a" stroke-width="1"/><use href="#hrows2" x="613.54" fill="#f09a40"/><line x1="614.04" y1="35.00" x2="643.58" y2="68.80" stroke="#e03010" stroke-width="1.5" stroke-opacity="0.85" stroke-dasharray="1.6 0.7"/><use href="#hspk" x="612.54" fill="#e03010"/><rect x="645.58" y="71.00" width="32.24" height="272.00" fill="#e6f8e1"/><use href="#hrows" x="645.58" fill="#50c878"/><rect x="645.88" y="33.50" width="31.74" height="36.30" fill="#e6f8e1" stroke="#8a8a8a" stroke-width="1"/><use href="#hrows2" x="646.58" fill="#50c878"/><line x1="647.08" y1="35.00" x2="676.62" y2="68.80" stroke="#3a90c8" stroke-width="1.5" stroke-opacity="0.85" stroke-dasharray="1.6 0.7"/><use href="#hspk" x="645.58" fill="#3a90c8"/><line x1="415.80" y1="72.50" x2="445.34" y2="107.10" stroke="#2aa050" stroke-width="0.8" stroke-opacity="0.5"/><rect x="414.90" y="71.60" width="31.14" height="36.40" fill="none" stroke="#f048e8" stroke-width="1.5"/><line x1="448.84" y1="110.10" x2="478.38" y2="143.90" stroke="#3a78c8" stroke-width="0.8" stroke-opacity="0.5"/><rect x="447.94" y="109.20" width="31.14" height="35.60" fill="none" stroke="#e4f48c" stroke-width="1.5"/><line x1="481.88" y1="146.90" x2="511.42" y2="177.20" stroke="#e04018" stroke-width="0.8" stroke-opacity="0.5"/><rect x="480.98" y="146.00" width="31.14" height="32.10" fill="none" stroke="#f07828" stroke-width="1.5"/><line x1="514.92" y1="180.20" x2="544.46" y2="208.50" stroke="#3a90c0" stroke-width="0.8" stroke-opacity="0.5"/><rect x="514.02" y="179.30" width="31.14" height="30.10" fill="none" stroke="#90b030" stroke-width="1.5"/><line x1="547.96" y1="211.50" x2="577.50" y2="241.30" stroke="#2aa050" stroke-width="0.8" stroke-opacity="0.5"/><rect x="547.06" y="210.60" width="31.14" height="31.60" fill="none" stroke="#b888d8" stroke-width="1.5"/><line x1="581.00" y1="244.30" x2="610.54" y2="272.20" stroke="#3a70c8" stroke-width="0.8" stroke-opacity="0.5"/><rect x="580.10" y="243.40" width="31.14" height="29.70" fill="none" stroke="#a8e8b0" stroke-width="1.5"/><line x1="614.04" y1="275.20" x2="643.58" y2="306.50" stroke="#e03010" stroke-width="0.8" stroke-opacity="0.5"/><rect x="613.14" y="274.30" width="31.14" height="33.10" fill="none" stroke="#c02888" stroke-width="1.5"/><line x1="647.08" y1="309.50" x2="676.62" y2="341.20" stroke="#3a90c8" stroke-width="0.8" stroke-opacity="0.5"/><rect x="646.18" y="308.60" width="31.14" height="33.50" fill="none" stroke="#c07888" stroke-width="1.5"/><text x="406.0" y="174.0" font-size="12.3" text-anchor="middle" transform="rotate(-90 406.0 174.0)">Genes</text><text x="3.0" y="353.4" font-size="14.5" font-weight="bold">c</text><line x1="75.30" y1="356.00" x2="75.30" y2="483.50" stroke="#000" stroke-width="1.1"/><text x="71.0" y="390.7" font-size="13.6" text-anchor="end">200</text><text x="71.0" y="437.0" font-size="13.6" text-anchor="end">100</text><text x="69.3" y="482.8" font-size="13.6" text-anchor="end">0</text><text x="27.2" y="425.0" font-size="14.3" text-anchor="middle" transform="rotate(-90 27.2 425.0)">Intersection of</text><text x="43.8" y="422.5" font-size="14.3" text-anchor="middle" transform="rotate(-90 43.8 422.5)">DEGS</text><text x="104.4" y="375.0" font-size="14.5">GBCs</text><rect x="80.40" y="372.70" width="4.80" height="109.80" fill="#fff" stroke="#404040" stroke-width="1.0"/><rect x="87.77" y="403.80" width="4.80" height="78.70" fill="#fff" stroke="#404040" stroke-width="1.0"/><rect x="95.14" y="416.10" width="4.80" height="66.40" fill="#fff" stroke="#404040" stroke-width="1.0"/><rect x="102.51" y="418.40" width="4.80" height="64.10" fill="#fff" stroke="#f0a0f0" stroke-width="1.0"/><rect x="109.88" y="419.00" width="4.80" height="63.50" fill="#fff" stroke="#c04898" stroke-width="1.0"/><rect x="117.25" y="420.90" width="4.80" height="61.60" fill="#fff" stroke="#b898d8" stroke-width="1.0"/><rect x="124.62" y="421.80" width="4.80" height="60.70" fill="#fff" stroke="#f09050" stroke-width="1.0"/><rect x="131.99" y="426.00" width="4.80" height="56.50" fill="#fff" stroke="#eef8c0" stroke-width="1.0"/><rect x="139.36" y="427.10" width="4.80" height="55.40" fill="#fff" stroke="#a0a848" stroke-width="1.0"/><rect x="146.73" y="432.30" width="4.80" height="50.20" fill="#fff" stroke="#404040" stroke-width="1.0"/><rect x="154.10" y="440.20" width="4.80" height="42.30" fill="#fff" stroke="#d08898" stroke-width="1.0"/><rect x="161.47" y="447.00" width="4.80" height="35.50" fill="#fff" stroke="#a8e0a8" stroke-width="1.0"/><rect x="168.84" y="451.20" width="4.80" height="31.30" fill="#fff" stroke="#404040" stroke-width="1.0"/><rect x="176.21" y="453.10" width="4.80" height="29.40" fill="#fff" stroke="#404040" stroke-width="1.0"/><rect x="183.58" y="456.40" width="4.80" height="26.10" fill="#fff" stroke="#404040" stroke-width="1.0"/><rect x="190.95" y="457.50" width="4.80" height="25.00" fill="#fff" stroke="#404040" stroke-width="1.0"/><text x="85.8" y="369.2" font-size="8.4" transform="rotate(-90 85.8 369.2)">236</text><text x="107.9" y="414.9" font-size="8.4" transform="rotate(-90 107.9 414.9)">137</text><text x="115.3" y="415.5" font-size="8.4" transform="rotate(-90 115.3 415.5)">136</text><text x="122.7" y="417.4" font-size="8.4" transform="rotate(-90 122.7 417.4)">132</text><text x="130.0" y="418.3" font-size="8.4" transform="rotate(-90 130.0 418.3)">130</text><text x="137.4" y="422.5" font-size="8.4" transform="rotate(-90 137.4 422.5)">120</text><text x="144.8" y="423.6" font-size="8.4" transform="rotate(-90 144.8 423.6)">119</text><text x="159.5" y="436.7" font-size="8.4" transform="rotate(-90 159.5 436.7)">90</text><text x="166.9" y="443.5" font-size="8.4" transform="rotate(-90 166.9 443.5)">76</text><line x1="73.80" y1="482.50" x2="199.50" y2="482.50" stroke="#1a0a0a" stroke-width="2.0"/><line x1="82.80" y1="487.3" x2="82.80" y2="525.6" stroke="#333" stroke-width="0.8"/><circle cx="82.80" cy="487.3" r="1.55" fill="#4cbc6c"/><circle cx="82.80" cy="493" r="1.55" fill="#4cbc6c"/><circle cx="82.80" cy="498.3" r="1.55" fill="#4cbc6c"/><circle cx="82.80" cy="503.8" r="1.55" fill="#4cbc6c"/><circle cx="82.80" cy="509.5" r="1.55" fill="#4cbc6c"/><circle cx="82.80" cy="514.8" r="1.55" fill="#4cbc6c"/><circle cx="82.80" cy="520.1" r="1.55" fill="#4cbc6c"/><circle cx="82.80" cy="525.6" r="1.55" fill="#4cbc6c"/><line x1="90.17" y1="493" x2="90.17" y2="525.6" stroke="#333" stroke-width="0.8"/><circle cx="90.17" cy="487.3" r="1.45" fill="#d6d6d6"/><circle cx="90.17" cy="493" r="1.55" fill="#4cbc6c"/><circle cx="90.17" cy="498.3" r="1.55" fill="#4cbc6c"/><circle cx="90.17" cy="503.8" r="1.55" fill="#4cbc6c"/><circle cx="90.17" cy="509.5" r="1.55" fill="#4cbc6c"/><circle cx="90.17" cy="514.8" r="1.55" fill="#4cbc6c"/><circle cx="90.17" cy="520.1" r="1.55" fill="#4cbc6c"/><circle cx="90.17" cy="525.6" r="1.55" fill="#4cbc6c"/><line x1="97.54" y1="498.3" x2="97.54" y2="525.6" stroke="#333" stroke-width="0.8"/><circle cx="97.54" cy="487.3" r="1.45" fill="#d6d6d6"/><circle cx="97.54" cy="493" r="1.45" fill="#d6d6d6"/><circle cx="97.54" cy="498.3" r="1.55" fill="#4cbc6c"/><circle cx="97.54" cy="503.8" r="1.55" fill="#4cbc6c"/><circle cx="97.54" cy="509.5" r="1.55" fill="#4cbc6c"/><circle cx="97.54" cy="514.8" r="1.55" fill="#4cbc6c"/><circle cx="97.54" cy="520.1" r="1.55" fill="#4cbc6c"/><circle cx="97.54" cy="525.6" r="1.55" fill="#4cbc6c"/><circle cx="104.91" cy="487.3" r="1.55" fill="#4cbc6c"/><circle cx="104.91" cy="493" r="1.45" fill="#d6d6d6"/><circle cx="104.91" cy="498.3" r="1.45" fill="#d6d6d6"/><circle cx="104.91" cy="503.8" r="1.45" fill="#d6d6d6"/><circle cx="104.91" cy="509.5" r="1.45" fill="#d6d6d6"/><circle cx="104.91" cy="514.8" r="1.45" fill="#d6d6d6"/><circle cx="104.91" cy="520.1" r="1.45" fill="#d6d6d6"/><circle cx="104.91" cy="525.6" r="1.45" fill="#d6d6d6"/><circle cx="112.28" cy="487.3" r="1.45" fill="#d6d6d6"/><circle cx="112.28" cy="493" r="1.45" fill="#d6d6d6"/><circle cx="112.28" cy="498.3" r="1.45" fill="#d6d6d6"/><circle cx="112.28" cy="503.8" r="1.45" fill="#d6d6d6"/><circle cx="112.28" cy="509.5" r="1.45" fill="#d6d6d6"/><circle cx="112.28" cy="514.8" r="1.45" fill="#d6d6d6"/><circle cx="112.28" cy="520.1" r="1.55" fill="#4cbc6c"/><circle cx="112.28" cy="525.6" r="1.45" fill="#d6d6d6"/><circle cx="119.65" cy="487.3" r="1.45" fill="#d6d6d6"/><circle cx="119.65" cy="493" r="1.45" fill="#d6d6d6"/><circle cx="119.65" cy="498.3" r="1.45" fill="#d6d6d6"/><circle cx="119.65" cy="503.8" r="1.45" fill="#d6d6d6"/><circle cx="119.65" cy="509.5" r="1.55" fill="#4cbc6c"/><circle cx="119.65" cy="514.8" r="1.45" fill="#d6d6d6"/><circle cx="119.65" cy="520.1" r="1.45" fill="#d6d6d6"/><circle cx="119.65" cy="525.6" r="1.45" fill="#d6d6d6"/><circle cx="127.02" cy="487.3" r="1.45" fill="#d6d6d6"/><circle cx="127.02" cy="493" r="1.45" fill="#d6d6d6"/><circle cx="127.02" cy="498.3" r="1.55" fill="#4cbc6c"/><circle cx="127.02" cy="503.8" r="1.45" fill="#d6d6d6"/><circle cx="127.02" cy="509.5" r="1.45" fill="#d6d6d6"/><circle cx="127.02" cy="514.8" r="1.45" fill="#d6d6d6"/><circle cx="127.02" cy="520.1" r="1.45" fill="#d6d6d6"/><circle cx="127.02" cy="525.6" r="1.45" fill="#d6d6d6"/><circle cx="134.39" cy="487.3" r="1.45" fill="#d6d6d6"/><circle cx="134.39" cy="493" r="1.55" fill="#4cbc6c"/><circle cx="134.39" cy="498.3" r="1.45" fill="#d6d6d6"/><circle cx="134.39" cy="503.8" r="1.45" fill="#d6d6d6"/><circle cx="134.39" cy="509.5" r="1.45" fill="#d6d6d6"/><circle cx="134.39" cy="514.8" r="1.45" fill="#d6d6d6"/><circle cx="134.39" cy="520.1" r="1.45" fill="#d6d6d6"/><circle cx="134.39" cy="525.6" r="1.45" fill="#d6d6d6"/><circle cx="141.76" cy="487.3" r="1.45" fill="#d6d6d6"/><circle cx="141.76" cy="493" r="1.45" fill="#d6d6d6"/><circle cx="141.76" cy="498.3" r="1.45" fill="#d6d6d6"/><circle cx="141.76" cy="503.8" r="1.55" fill="#4cbc6c"/><circle cx="141.76" cy="509.5" r="1.45" fill="#d6d6d6"/><circle cx="141.76" cy="514.8" r="1.45" fill="#d6d6d6"/><circle cx="141.76" cy="520.1" r="1.45" fill="#d6d6d6"/><circle cx="141.76" cy="525.6" r="1.45" fill="#d6d6d6"/><line x1="149.13" y1="487.3" x2="149.13" y2="493" stroke="#333" stroke-width="0.8"/><circle cx="149.13" cy="487.3" r="1.55" fill="#4cbc6c"/><circle cx="149.13" cy="493" r="1.55" fill="#4cbc6c"/><circle cx="149.13" cy="498.3" r="1.45" fill="#d6d6d6"/><circle cx="149.13" cy="503.8" r="1.45" fill="#d6d6d6"/><circle cx="149.13" cy="509.5" r="1.45" fill="#d6d6d6"/><circle cx="149.13" cy="514.8" r="1.45" fill="#d6d6d6"/><circle cx="149.13" cy="520.1" r="1.45" fill="#d6d6d6"/><circle cx="149.13" cy="525.6" r="1.45" fill="#d6d6d6"/><circle cx="156.50" cy="487.3" r="1.45" fill="#d6d6d6"/><circle cx="156.50" cy="493" r="1.45" fill="#d6d6d6"/><circle cx="156.50" cy="498.3" r="1.45" fill="#d6d6d6"/><circle cx="156.50" cy="503.8" r="1.45" fill="#d6d6d6"/><circle cx="156.50" cy="509.5" r="1.45" fill="#d6d6d6"/><circle cx="156.50" cy="514.8" r="1.45" fill="#d6d6d6"/><circle cx="156.50" cy="520.1" r="1.45" fill="#d6d6d6"/><circle cx="156.50" cy="525.6" r="1.55" fill="#4cbc6c"/><circle cx="163.87" cy="487.3" r="1.45" fill="#d6d6d6"/><circle cx="163.87" cy="493" r="1.45" fill="#d6d6d6"/><circle cx="163.87" cy="498.3" r="1.45" fill="#d6d6d6"/><circle cx="163.87" cy="503.8" r="1.45" fill="#d6d6d6"/><circle cx="163.87" cy="509.5" r="1.45" fill="#d6d6d6"/><circle cx="163.87" cy="514.8" r="1.55" fill="#4cbc6c"/><circle cx="163.87" cy="520.1" r="1.45" fill="#d6d6d6"/><circle cx="163.87" cy="525.6" r="1.45" fill="#d6d6d6"/><line x1="171.24" y1="503.8" x2="171.24" y2="514.8" stroke="#333" stroke-width="0.8"/><circle cx="171.24" cy="487.3" r="1.45" fill="#d6d6d6"/><circle cx="171.24" cy="493" r="1.45" fill="#d6d6d6"/><circle cx="171.24" cy="498.3" r="1.45" fill="#d6d6d6"/><circle cx="171.24" cy="503.8" r="1.55" fill="#4cbc6c"/><circle cx="171.24" cy="509.5" r="1.55" fill="#4cbc6c"/><circle cx="171.24" cy="514.8" r="1.55" fill="#4cbc6c"/><circle cx="171.24" cy="520.1" r="1.45" fill="#d6d6d6"/><circle cx="171.24" cy="525.6" r="1.45" fill="#d6d6d6"/><line x1="178.61" y1="503.8" x2="178.61" y2="525.6" stroke="#333" stroke-width="0.8"/><circle cx="178.61" cy="487.3" r="1.45" fill="#d6d6d6"/><circle cx="178.61" cy="493" r="1.45" fill="#d6d6d6"/><circle cx="178.61" cy="498.3" r="1.45" fill="#d6d6d6"/><circle cx="178.61" cy="503.8" r="1.55" fill="#4cbc6c"/><circle cx="178.61" cy="509.5" r="1.55" fill="#4cbc6c"/><circle cx="178.61" cy="514.8" r="1.55" fill="#4cbc6c"/><circle cx="178.61" cy="520.1" r="1.55" fill="#4cbc6c"/><circle cx="178.61" cy="525.6" r="1.55" fill="#4cbc6c"/><line x1="185.98" y1="498.3" x2="185.98" y2="525.6" stroke="#333" stroke-width="0.8"/><circle cx="185.98" cy="487.3" r="1.45" fill="#d6d6d6"/><circle cx="185.98" cy="493" r="1.45" fill="#d6d6d6"/><circle cx="185.98" cy="498.3" r="1.55" fill="#4cbc6c"/><circle cx="185.98" cy="503.8" r="1.55" fill="#4cbc6c"/><circle cx="185.98" cy="509.5" r="1.55" fill="#4cbc6c"/><circle cx="185.98" cy="514.8" r="1.55" fill="#4cbc6c"/><circle cx="185.98" cy="520.1" r="1.55" fill="#4cbc6c"/><circle cx="185.98" cy="525.6" r="1.55" fill="#4cbc6c"/><line x1="193.35" y1="503.8" x2="193.35" y2="520.1" stroke="#333" stroke-width="0.8"/><circle cx="193.35" cy="487.3" r="1.45" fill="#d6d6d6"/><circle cx="193.35" cy="493" r="1.45" fill="#d6d6d6"/><circle cx="193.35" cy="498.3" r="1.45" fill="#d6d6d6"/><circle cx="193.35" cy="503.8" r="1.55" fill="#4cbc6c"/><circle cx="193.35" cy="509.5" r="1.55" fill="#4cbc6c"/><circle cx="193.35" cy="514.8" r="1.55" fill="#4cbc6c"/><circle cx="193.35" cy="520.1" r="1.55" fill="#4cbc6c"/><circle cx="193.35" cy="525.6" r="1.45" fill="#d6d6d6"/><rect x="32.70" y="486.25" width="23.30" height="2.10" fill="#f060f0"/><rect x="21.00" y="491.45" width="35.00" height="2.10" fill="#e8f8a8"/><rect x="15.00" y="496.95" width="41.00" height="2.10" fill="#f07020"/><rect x="13.80" y="502.85" width="42.20" height="2.10" fill="#8a9a20"/><rect x="10.70" y="508.35" width="45.30" height="2.10" fill="#c080d0"/><rect x="16.40" y="513.65" width="39.60" height="2.10" fill="#90e890"/><rect x="13.00" y="519.15" width="43.00" height="2.10" fill="#c02080"/><rect x="15.00" y="524.65" width="41.00" height="2.10" fill="#b05060"/><line x1="8.20" y1="528.40" x2="57.80" y2="528.40" stroke="#000" stroke-width="0.8"/><text x="4.7" y="544.7" font-size="13.6">1500</text><text x="55.0" y="542.4" font-size="13.6">0</text><text x="202.5" y="354.0" font-size="14.5" font-weight="bold">d</text><text x="228.5" y="368.2" font-size="9.4" text-anchor="end">15</text><text x="228.5" y="445.3" font-size="9.4" text-anchor="end">0</text><text x="223.8" y="400.5" font-size="8.5" text-anchor="middle" transform="rotate(-90 223.8 400.5)">−log10 (P-val)</text><line x1="233.60" y1="364.40" x2="233.60" y2="442.80" stroke="#000" stroke-width="1.1"/><line x1="230.60" y1="364.90" x2="233.60" y2="364.90" stroke="#000" stroke-width="1.0"/><line x1="232.60" y1="442.20" x2="279.10" y2="442.20" stroke="#000" stroke-width="1.3"/><rect x="236.15" y="383.00" width="3.00" height="58.50" fill="#6cce8c" fill-opacity="0.28" stroke="#6cce8c" stroke-width="1.5"/><line x1="237.65" y1="442.20" x2="237.65" y2="445.50" stroke="#000" stroke-width="0.8"/><text x="238.5" y="447.6" font-size="6.9" fill="#8ed8a0" text-anchor="end" transform="rotate(-60 238.5 447.6)">neuron development</text><rect x="244.80" y="384.00" width="3.00" height="57.50" fill="#6cce8c" fill-opacity="0.28" stroke="#6cce8c" stroke-width="1.5"/><line x1="246.30" y1="442.20" x2="246.30" y2="445.50" stroke="#000" stroke-width="0.8"/><text x="247.1" y="447.6" font-size="6.9" fill="#8ed8a0" text-anchor="end" transform="rotate(-60 247.1 447.6)">establishment of localization</text><rect x="253.45" y="384.40" width="3.00" height="57.10" fill="#6cce8c" fill-opacity="0.28" stroke="#6cce8c" stroke-width="1.5"/><line x1="254.95" y1="442.20" x2="254.95" y2="445.50" stroke="#000" stroke-width="0.8"/><text x="255.8" y="447.6" font-size="6.9" fill="#8ed8a0" text-anchor="end" transform="rotate(-60 255.8 447.6)">generation of neurons</text><rect x="262.10" y="385.60" width="3.00" height="55.90" fill="#6cce8c" fill-opacity="0.28" stroke="#6cce8c" stroke-width="1.5"/><line x1="263.60" y1="442.20" x2="263.60" y2="445.50" stroke="#000" stroke-width="0.8"/><text x="264.4" y="447.6" font-size="6.9" fill="#8ed8a0" text-anchor="end" transform="rotate(-60 264.4 447.6)">nervous system development</text><rect x="270.75" y="385.90" width="3.00" height="55.60" fill="#6cce8c" fill-opacity="0.28" stroke="#6cce8c" stroke-width="1.5"/><line x1="272.25" y1="442.20" x2="272.25" y2="445.50" stroke="#000" stroke-width="0.8"/><text x="273.1" y="447.6" font-size="6.9" fill="#8ed8a0" text-anchor="end" transform="rotate(-60 273.1 447.6)">neuron differentiation</text><line x1="286.00" y1="364.40" x2="286.00" y2="442.80" stroke="#000" stroke-width="1.1"/><line x1="283.00" y1="364.90" x2="286.00" y2="364.90" stroke="#000" stroke-width="1.0"/><line x1="285.00" y1="442.20" x2="331.50" y2="442.20" stroke="#000" stroke-width="1.3"/><rect x="288.55" y="421.60" width="3.00" height="19.90" fill="#f060f0" fill-opacity="0.28" stroke="#f060f0" stroke-width="1.5"/><line x1="290.05" y1="442.20" x2="290.05" y2="445.50" stroke="#000" stroke-width="0.8"/><text x="290.9" y="447.6" font-size="6.9" fill="#f070f0" text-anchor="end" transform="rotate(-60 290.9 447.6)">vesicle-mediated transport</text><rect x="297.20" y="423.50" width="3.00" height="18.00" fill="#f060f0" fill-opacity="0.28" stroke="#f060f0" stroke-width="1.5"/><line x1="298.70" y1="442.20" x2="298.70" y2="445.50" stroke="#000" stroke-width="0.8"/><text x="299.5" y="447.6" font-size="6.9" fill="#f070f0" text-anchor="end" transform="rotate(-60 299.5 447.6)">vesicle-mediated transport in synapse</text><rect x="305.85" y="424.40" width="3.00" height="17.10" fill="#f060f0" fill-opacity="0.28" stroke="#f060f0" stroke-width="1.5"/><line x1="307.35" y1="442.20" x2="307.35" y2="445.50" stroke="#000" stroke-width="0.8"/><text x="308.2" y="447.6" font-size="6.9" fill="#f070f0" text-anchor="end" transform="rotate(-60 308.2 447.6)">signal release from synapse</text><rect x="314.50" y="424.40" width="3.00" height="17.10" fill="#f060f0" fill-opacity="0.28" stroke="#f060f0" stroke-width="1.5"/><line x1="316.00" y1="442.20" x2="316.00" y2="445.50" stroke="#000" stroke-width="0.8"/><text x="316.8" y="447.6" font-size="6.9" fill="#f070f0" text-anchor="end" transform="rotate(-60 316.8 447.6)">neurotransmitter secretion</text><rect x="323.15" y="424.40" width="3.00" height="17.10" fill="#f060f0" fill-opacity="0.28" stroke="#f060f0" stroke-width="1.5"/><line x1="324.65" y1="442.20" x2="324.65" y2="445.50" stroke="#000" stroke-width="0.8"/><line x1="334.10" y1="364.40" x2="334.10" y2="442.80" stroke="#000" stroke-width="1.1"/><line x1="331.10" y1="364.90" x2="334.10" y2="364.90" stroke="#000" stroke-width="1.0"/><line x1="333.10" y1="442.20" x2="379.60" y2="442.20" stroke="#000" stroke-width="1.3"/><rect x="336.65" y="407.80" width="3.00" height="33.70" fill="#e2f29c" fill-opacity="0.28" stroke="#e2f29c" stroke-width="1.5"/><line x1="338.15" y1="442.20" x2="338.15" y2="445.50" stroke="#000" stroke-width="0.8"/><text x="339.0" y="447.6" font-size="6.9" fill="#dcf070" text-anchor="end" transform="rotate(-60 339.0 447.6)">establishment of localization</text><rect x="345.30" y="407.80" width="3.00" height="33.70" fill="#e2f29c" fill-opacity="0.28" stroke="#e2f29c" stroke-width="1.5"/><line x1="346.80" y1="442.20" x2="346.80" y2="445.50" stroke="#000" stroke-width="0.8"/><text x="347.6" y="447.6" font-size="6.9" fill="#dcf070" text-anchor="end" transform="rotate(-60 347.6 447.6)">oxidative phosphorylation</text><rect x="353.95" y="408.60" width="3.00" height="32.90" fill="#e2f29c" fill-opacity="0.28" stroke="#e2f29c" stroke-width="1.5"/><line x1="355.45" y1="442.20" x2="355.45" y2="445.50" stroke="#000" stroke-width="0.8"/><text x="356.3" y="447.6" font-size="6.9" fill="#dcf070" text-anchor="end" transform="rotate(-60 356.3 447.6)">aerobic respiration</text><rect x="362.60" y="412.10" width="3.00" height="29.40" fill="#e2f29c" fill-opacity="0.28" stroke="#e2f29c" stroke-width="1.5"/><line x1="364.10" y1="442.20" x2="364.10" y2="445.50" stroke="#000" stroke-width="0.8"/><text x="364.9" y="447.6" font-size="6.9" fill="#dcf070" text-anchor="end" transform="rotate(-60 364.9 447.6)">cellular respiration</text><rect x="371.25" y="412.90" width="3.00" height="28.60" fill="#e2f29c" fill-opacity="0.28" stroke="#e2f29c" stroke-width="1.5"/><line x1="372.75" y1="442.20" x2="372.75" y2="445.50" stroke="#000" stroke-width="0.8"/><text x="373.6" y="447.6" font-size="6.9" fill="#dcf070" text-anchor="end" transform="rotate(-60 373.6 447.6)">electron transport chain</text><line x1="384.20" y1="364.40" x2="384.20" y2="442.80" stroke="#000" stroke-width="1.1"/><line x1="381.20" y1="364.90" x2="384.20" y2="364.90" stroke="#000" stroke-width="1.0"/><line x1="383.20" y1="442.20" x2="429.70" y2="442.20" stroke="#000" stroke-width="1.3"/><rect x="386.75" y="424.90" width="3.00" height="16.60" fill="#f08030" fill-opacity="0.28" stroke="#f08030" stroke-width="1.5"/><line x1="388.25" y1="442.20" x2="388.25" y2="445.50" stroke="#000" stroke-width="0.8"/><text x="386.6" y="446.2" font-size="6.9" fill="#f09040" text-anchor="end" transform="rotate(-60 386.6 446.2)">mitochondrial respiratory</text><text x="369.9" y="486.3" font-size="6.9" fill="#f09040" text-anchor="middle" transform="rotate(-60 369.9 486.3)">chain complex I assembly</text><rect x="395.40" y="424.90" width="3.00" height="16.60" fill="#f08030" fill-opacity="0.28" stroke="#f08030" stroke-width="1.5"/><line x1="396.90" y1="442.20" x2="396.90" y2="445.50" stroke="#000" stroke-width="0.8"/><text x="395.3" y="446.2" font-size="6.9" fill="#f09040" text-anchor="end" transform="rotate(-60 395.3 446.2)">NADH dehydrogenase</text><text x="384.6" y="475.9" font-size="6.9" fill="#f09040" text-anchor="middle" transform="rotate(-60 384.6 475.9)">complex assembly</text><rect x="404.05" y="427.60" width="3.00" height="13.90" fill="#f08030" fill-opacity="0.28" stroke="#f08030" stroke-width="1.5"/><line x1="405.55" y1="442.20" x2="405.55" y2="445.50" stroke="#000" stroke-width="0.8"/><text x="406.4" y="447.6" font-size="6.9" fill="#f09040" text-anchor="end" transform="rotate(-60 406.4 447.6)">localization in cell</text><rect x="412.70" y="428.60" width="3.00" height="12.90" fill="#f08030" fill-opacity="0.28" stroke="#f08030" stroke-width="1.5"/><line x1="414.20" y1="442.20" x2="414.20" y2="445.50" stroke="#000" stroke-width="0.8"/><text x="412.6" y="446.2" font-size="6.9" fill="#f09040" text-anchor="end" transform="rotate(-60 412.6 446.2)">mitochondrial respiratory</text><text x="395.9" y="486.3" font-size="6.9" fill="#f09040" text-anchor="middle" transform="rotate(-60 395.9 486.3)">chain complex assembly</text><rect x="421.35" y="430.60" width="3.00" height="10.90" fill="#f08030" fill-opacity="0.28" stroke="#f08030" stroke-width="1.5"/><line x1="422.85" y1="442.20" x2="422.85" y2="445.50" stroke="#000" stroke-width="0.8"/><text x="423.7" y="447.6" font-size="6.9" fill="#f09040" text-anchor="end" transform="rotate(-60 423.7 447.6)">cellular component organization</text><line x1="433.60" y1="364.40" x2="433.60" y2="442.80" stroke="#000" stroke-width="1.1"/><line x1="430.60" y1="364.90" x2="433.60" y2="364.90" stroke="#000" stroke-width="1.0"/><line x1="432.60" y1="442.20" x2="479.10" y2="442.20" stroke="#000" stroke-width="1.3"/><rect x="436.15" y="416.30" width="3.00" height="25.20" fill="#9aaa30" fill-opacity="0.28" stroke="#9aaa30" stroke-width="1.5"/><line x1="437.65" y1="442.20" x2="437.65" y2="445.50" stroke="#000" stroke-width="0.8"/><text x="438.5" y="447.6" font-size="6.9" fill="#a0b040" text-anchor="end" transform="rotate(-60 438.5 447.6)">regulation of programmed cell death</text><rect x="444.80" y="416.90" width="3.00" height="24.60" fill="#9aaa30" fill-opacity="0.28" stroke="#9aaa30" stroke-width="1.5"/><line x1="446.30" y1="442.20" x2="446.30" y2="445.50" stroke="#000" stroke-width="0.8"/><text x="447.1" y="447.6" font-size="6.9" fill="#a0b040" text-anchor="end" transform="rotate(-60 447.1 447.6)">localization</text><rect x="453.45" y="416.90" width="3.00" height="24.60" fill="#9aaa30" fill-opacity="0.28" stroke="#9aaa30" stroke-width="1.5"/><line x1="454.95" y1="442.20" x2="454.95" y2="445.50" stroke="#000" stroke-width="0.8"/><text x="455.8" y="447.6" font-size="6.9" fill="#a0b040" text-anchor="end" transform="rotate(-60 455.8 447.6)">establishment of localization</text><rect x="462.10" y="417.80" width="3.00" height="23.70" fill="#9aaa30" fill-opacity="0.28" stroke="#9aaa30" stroke-width="1.5"/><line x1="463.60" y1="442.20" x2="463.60" y2="445.50" stroke="#000" stroke-width="0.8"/><text x="464.4" y="447.6" font-size="6.9" fill="#a0b040" text-anchor="end" transform="rotate(-60 464.4 447.6)">regulation of apoptotic process</text><rect x="470.75" y="418.60" width="3.00" height="22.90" fill="#9aaa30" fill-opacity="0.28" stroke="#9aaa30" stroke-width="1.5"/><line x1="472.25" y1="442.20" x2="472.25" y2="445.50" stroke="#000" stroke-width="0.8"/><text x="473.1" y="447.6" font-size="6.9" fill="#a0b040" text-anchor="end" transform="rotate(-60 473.1 447.6)">establishment of localization in cell</text><line x1="482.30" y1="364.40" x2="482.30" y2="442.80" stroke="#000" stroke-width="1.1"/><line x1="479.30" y1="364.90" x2="482.30" y2="364.90" stroke="#000" stroke-width="1.0"/><line x1="481.30" y1="442.20" x2="527.80" y2="442.20" stroke="#000" stroke-width="1.3"/><rect x="484.85" y="405.90" width="3.00" height="35.60" fill="#b880d0" fill-opacity="0.28" stroke="#b880d0" stroke-width="1.5"/><line x1="486.35" y1="442.20" x2="486.35" y2="445.50" stroke="#000" stroke-width="0.8"/><text x="487.2" y="447.6" font-size="6.9" fill="#c090d8" text-anchor="end" transform="rotate(-60 487.2 447.6)">ribonucleoprotein complex biogenesis</text><rect x="493.50" y="410.60" width="3.00" height="30.90" fill="#b880d0" fill-opacity="0.28" stroke="#b880d0" stroke-width="1.5"/><line x1="495.00" y1="442.20" x2="495.00" y2="445.50" stroke="#000" stroke-width="0.8"/><text x="495.8" y="447.6" font-size="6.9" fill="#c090d8" text-anchor="end" transform="rotate(-60 495.8 447.6)">ribosome biogenesis</text><rect x="502.15" y="413.10" width="3.00" height="28.40" fill="#b880d0" fill-opacity="0.28" stroke="#b880d0" stroke-width="1.5"/><line x1="503.65" y1="442.20" x2="503.65" y2="445.50" stroke="#000" stroke-width="0.8"/><text x="504.5" y="447.6" font-size="6.9" fill="#c090d8" text-anchor="end" transform="rotate(-60 504.5 447.6)">macromolecule metabolic process</text><rect x="510.80" y="416.60" width="3.00" height="24.90" fill="#b880d0" fill-opacity="0.28" stroke="#b880d0" stroke-width="1.5"/><line x1="512.30" y1="442.20" x2="512.30" y2="445.50" stroke="#000" stroke-width="0.8"/><text x="513.1" y="447.6" font-size="6.9" fill="#c090d8" text-anchor="end" transform="rotate(-60 513.1 447.6)">gene expression</text><rect x="519.45" y="417.60" width="3.00" height="23.90" fill="#b880d0" fill-opacity="0.28" stroke="#b880d0" stroke-width="1.5"/><line x1="520.95" y1="442.20" x2="520.95" y2="445.50" stroke="#000" stroke-width="0.8"/><text x="521.8" y="447.6" font-size="6.9" fill="#c090d8" text-anchor="end" transform="rotate(-60 521.8 447.6)">protein metabolic process</text><line x1="532.70" y1="364.40" x2="532.70" y2="442.80" stroke="#000" stroke-width="1.1"/><line x1="529.70" y1="364.90" x2="532.70" y2="364.90" stroke="#000" stroke-width="1.0"/><line x1="531.70" y1="442.20" x2="578.20" y2="442.20" stroke="#000" stroke-width="1.3"/><rect x="535.25" y="424.60" width="3.00" height="16.90" fill="#9ce8a4" fill-opacity="0.28" stroke="#9ce8a4" stroke-width="1.5"/><line x1="536.75" y1="442.20" x2="536.75" y2="445.50" stroke="#000" stroke-width="0.8"/><text x="537.5" y="447.6" font-size="6.9" fill="#a0e8a8" text-anchor="end" transform="rotate(-60 537.5 447.6)">metabolic process</text><rect x="543.90" y="427.60" width="3.00" height="13.90" fill="#9ce8a4" fill-opacity="0.28" stroke="#9ce8a4" stroke-width="1.5"/><line x1="545.40" y1="442.20" x2="545.40" y2="445.50" stroke="#000" stroke-width="0.8"/><text x="546.2" y="447.6" font-size="6.9" fill="#a0e8a8" text-anchor="end" transform="rotate(-60 546.2 447.6)">peptidyl-amino acid modification</text><rect x="552.55" y="428.60" width="3.00" height="12.90" fill="#9ce8a4" fill-opacity="0.28" stroke="#9ce8a4" stroke-width="1.5"/><line x1="554.05" y1="442.20" x2="554.05" y2="445.50" stroke="#000" stroke-width="0.8"/><text x="554.8" y="447.6" font-size="6.9" fill="#a0e8a8" text-anchor="end" transform="rotate(-60 554.8 447.6)">primary metabolic process</text><rect x="561.20" y="429.60" width="3.00" height="11.90" fill="#9ce8a4" fill-opacity="0.28" stroke="#9ce8a4" stroke-width="1.5"/><line x1="562.70" y1="442.20" x2="562.70" y2="445.50" stroke="#000" stroke-width="0.8"/><text x="563.5" y="447.6" font-size="6.9" fill="#a0e8a8" text-anchor="end" transform="rotate(-60 563.5 447.6)">protein metabolic process</text><rect x="569.85" y="429.60" width="3.00" height="11.90" fill="#9ce8a4" fill-opacity="0.28" stroke="#9ce8a4" stroke-width="1.5"/><line x1="571.35" y1="442.20" x2="571.35" y2="445.50" stroke="#000" stroke-width="0.8"/><text x="572.1" y="447.6" font-size="6.9" fill="#a0e8a8" text-anchor="end" transform="rotate(-60 572.1 447.6)">endoplasmic reticulum organization</text><line x1="584.50" y1="364.40" x2="584.50" y2="442.80" stroke="#000" stroke-width="1.1"/><line x1="581.50" y1="364.90" x2="584.50" y2="364.90" stroke="#000" stroke-width="1.0"/><line x1="583.50" y1="442.20" x2="630.00" y2="442.20" stroke="#000" stroke-width="1.3"/><rect x="587.05" y="376.40" width="3.00" height="65.10" fill="#c02890" fill-opacity="0.28" stroke="#c02890" stroke-width="1.5"/><line x1="588.55" y1="442.20" x2="588.55" y2="445.50" stroke="#000" stroke-width="0.8"/><text x="589.3" y="447.6" font-size="6.9" fill="#c02890" text-anchor="end" transform="rotate(-60 589.3 447.6)">mRNA metabolic process</text><rect x="595.70" y="391.80" width="3.00" height="49.70" fill="#c02890" fill-opacity="0.28" stroke="#c02890" stroke-width="1.5"/><line x1="597.20" y1="442.20" x2="597.20" y2="445.50" stroke="#000" stroke-width="0.8"/><text x="598.0" y="447.6" font-size="6.9" fill="#c02890" text-anchor="end" transform="rotate(-60 598.0 447.6)">mRNA processing</text><rect x="604.35" y="394.60" width="3.00" height="46.90" fill="#c02890" fill-opacity="0.28" stroke="#c02890" stroke-width="1.5"/><line x1="605.85" y1="442.20" x2="605.85" y2="445.50" stroke="#000" stroke-width="0.8"/><text x="606.6" y="447.6" font-size="6.9" fill="#c02890" text-anchor="end" transform="rotate(-60 606.6 447.6)">nucleic acid metabolic process</text><rect x="613.00" y="400.80" width="3.00" height="40.70" fill="#c02890" fill-opacity="0.28" stroke="#c02890" stroke-width="1.5"/><line x1="614.50" y1="442.20" x2="614.50" y2="445.50" stroke="#000" stroke-width="0.8"/><text x="612.9" y="446.2" font-size="6.9" fill="#c02890" text-anchor="end" transform="rotate(-60 612.9 446.2)">nucleobase-containing</text><text x="599.6" y="480.4" font-size="6.9" fill="#c02890" text-anchor="middle" transform="rotate(-60 599.6 480.4)">compound metabolic process</text><rect x="621.65" y="402.00" width="3.00" height="39.50" fill="#c02890" fill-opacity="0.28" stroke="#c02890" stroke-width="1.5"/><line x1="623.15" y1="442.20" x2="623.15" y2="445.50" stroke="#000" stroke-width="0.8"/><text x="623.9" y="447.6" font-size="6.9" fill="#c02890" text-anchor="end" transform="rotate(-60 623.9 447.6)">macromolecule metabolic process</text><line x1="637.10" y1="364.40" x2="637.10" y2="442.80" stroke="#000" stroke-width="1.1"/><line x1="634.10" y1="364.90" x2="637.10" y2="364.90" stroke="#000" stroke-width="1.0"/><line x1="636.10" y1="442.20" x2="682.60" y2="442.20" stroke="#000" stroke-width="1.3"/><rect x="639.65" y="418.90" width="3.00" height="22.60" fill="#b86070" fill-opacity="0.28" stroke="#b86070" stroke-width="1.5"/><line x1="641.15" y1="442.20" x2="641.15" y2="445.50" stroke="#000" stroke-width="0.8"/><text x="641.9" y="447.6" font-size="6.9" fill="#c07080" text-anchor="end" transform="rotate(-60 641.9 447.6)">cell projection organization</text><rect x="648.30" y="422.80" width="3.00" height="18.70" fill="#b86070" fill-opacity="0.28" stroke="#b86070" stroke-width="1.5"/><line x1="649.80" y1="442.20" x2="649.80" y2="445.50" stroke="#000" stroke-width="0.8"/><text x="650.6" y="447.6" font-size="6.9" fill="#c07080" text-anchor="end" transform="rotate(-60 650.6 447.6)">cellular localization</text><rect x="656.95" y="423.60" width="3.00" height="17.90" fill="#b86070" fill-opacity="0.28" stroke="#b86070" stroke-width="1.5"/><line x1="658.45" y1="442.20" x2="658.45" y2="445.50" stroke="#000" stroke-width="0.8"/><text x="656.8" y="446.2" font-size="6.9" fill="#c07080" text-anchor="end" transform="rotate(-60 656.8 446.2)">plasma membrane bounded cell</text><text x="637.5" y="490.8" font-size="6.9" fill="#c07080" text-anchor="middle" transform="rotate(-60 637.5 490.8)">projection organization</text><rect x="665.60" y="424.20" width="3.00" height="17.30" fill="#b86070" fill-opacity="0.28" stroke="#b86070" stroke-width="1.5"/><line x1="667.10" y1="442.20" x2="667.10" y2="445.50" stroke="#000" stroke-width="0.8"/><text x="667.9" y="447.6" font-size="6.9" fill="#c07080" text-anchor="end" transform="rotate(-60 667.9 447.6)">DNA damage response</text><rect x="674.25" y="425.60" width="3.00" height="15.90" fill="#b86070" fill-opacity="0.28" stroke="#b86070" stroke-width="1.5"/><line x1="675.75" y1="442.20" x2="675.75" y2="445.50" stroke="#000" stroke-width="0.8"/><text x="674.1" y="446.2" font-size="6.9" fill="#c07080" text-anchor="end" transform="rotate(-60 674.1 446.2)">plasma membrane bounded</text><text x="659.1" y="483.4" font-size="6.9" fill="#c07080" text-anchor="middle" transform="rotate(-60 659.1 483.4)">cell projection morphogenesis</text><text x="235.7" y="371.0" font-size="9.6">Conserved</text><text x="312.8" y="371.5" font-size="9.6" text-anchor="middle">P1</text><text x="312.3" y="382.8" font-size="9.6" text-anchor="middle">specific</text><text x="360.5" y="371.5" font-size="9.6" text-anchor="middle">P7</text><text x="360.0" y="382.8" font-size="9.6" text-anchor="middle">specific</text><text x="411.5" y="371.5" font-size="9.6" text-anchor="middle">P14</text><text x="411.0" y="382.8" font-size="9.6" text-anchor="middle">specific</text><text x="457.8" y="371.5" font-size="9.6" text-anchor="middle">P45</text><text x="457.3" y="382.8" font-size="9.6" text-anchor="middle">specific</text><text x="507.4" y="373.3" font-size="9.6" text-anchor="middle"><tspan font-style="italic">Vglut3</tspan><tspan font-size="5.5" dy="-3.6">-/-</tspan></text><text x="507.8" y="384.8" font-size="9.6" text-anchor="middle">specific</text><text x="559.3" y="373.0" font-size="9.6" text-anchor="middle"><tspan font-style="italic">Vglut3</tspan><tspan font-size="5.5" dy="-3.6">-/-</tspan><tspan dy="3.6">+</tspan></text><text x="559.4" y="385.0" font-size="9.6" text-anchor="middle" font-style="italic">GT</text><text x="559.0" y="397.0" font-size="9.6" text-anchor="middle">specific</text><text x="611.4" y="373.0" font-size="9.6" text-anchor="middle"><tspan font-style="italic">Otof</tspan><tspan font-size="5.5" dy="-3.6">-/-</tspan></text><text x="609.8" y="385.8" font-size="9.6" text-anchor="middle">specific</text><text x="663.0" y="373.0" font-size="9.6" text-anchor="middle"><tspan font-style="italic">Ush1c</tspan><tspan font-size="5.5" dy="-3.6">-/-</tspan></text><text x="663.0" y="385.8" font-size="9.6" text-anchor="middle">specific</text><text x="3.0" y="572.0" font-size="14.5" font-weight="bold">e</text><polygon points="279.8,610.4 331.1,584.0 356.1,687.9 304.8,709.0" fill="#c9cbc9"/><polyline points="279.8,610.4 331.1,584.0" fill="none" stroke="#9cf2f6" stroke-width="1.3" stroke-dasharray="7 2.5"/><line x1="331.1" y1="584.0" x2="356.1" y2="687.9" stroke="#9cf2f6" stroke-width="1.2" stroke-dasharray="5 4"/><polygon points="228.7,610.4 280.0,584.0 305.0,687.9 253.7,709.0" fill="#c9cbc9"/><polyline points="228.7,610.4 280.0,584.0" fill="none" stroke="#9cf2f6" stroke-width="1.3" stroke-dasharray="7 2.5"/><line x1="280.0" y1="584.0" x2="305.0" y2="687.9" stroke="#9cf2f6" stroke-width="1.2" stroke-dasharray="5 4"/><polygon points="177.6,610.4 228.9,584.0 253.9,687.9 202.6,709.0" fill="#c9cbc9"/><polyline points="177.6,610.4 228.9,584.0" fill="none" stroke="#9cf2f6" stroke-width="1.3" stroke-dasharray="7 2.5"/><line x1="228.9" y1="584.0" x2="253.9" y2="687.9" stroke="#9cf2f6" stroke-width="1.2" stroke-dasharray="5 4"/><polygon points="126.5,610.4 177.8,584.0 202.8,687.9 151.5,709.0" fill="#c9cbc9"/><polyline points="126.5,610.4 177.8,584.0" fill="none" stroke="#9cf2f6" stroke-width="1.3" stroke-dasharray="7 2.5"/><line x1="177.8" y1="584.0" x2="202.8" y2="687.9" stroke="#9cf2f6" stroke-width="1.2" stroke-dasharray="5 4"/><polygon points="75.4,610.4 126.7,584.0 151.7,687.9 100.4,709.0" fill="#c9cbc9"/><polyline points="75.4,610.4 126.7,584.0" fill="none" stroke="#9cf2f6" stroke-width="1.3" stroke-dasharray="7 2.5"/><line x1="126.7" y1="584.0" x2="151.7" y2="687.9" stroke="#9cf2f6" stroke-width="1.2" stroke-dasharray="5 4"/><polygon points="24.3,610.4 75.6,584.0 100.6,687.9 49.3,709.0" fill="#c9cbc9"/><polyline points="24.3,610.4 75.6,584.0" fill="none" stroke="#9cf2f6" stroke-width="1.3" stroke-dasharray="7 2.5"/><line x1="75.6" y1="584.0" x2="100.6" y2="687.9" stroke="#9cf2f6" stroke-width="1.2" stroke-dasharray="5 4"/><line x1="24.3" y1="610.4" x2="49.3" y2="709.0" stroke="#9cf2f6" stroke-width="1.4"/><path d="M58.1,619.0 C60.0,619.2 63.1,622.9 65.6,626.6 C68.0,630.2 70.5,636.2 73.0,641.0 C75.5,645.9 79.7,650.8 80.4,655.5 C81.1,660.3 79.4,665.3 77.4,669.4 C75.5,673.5 71.2,678.0 68.5,680.1 C65.8,682.2 63.6,683.3 61.1,682.0 C58.6,680.7 55.4,676.8 53.7,672.5 C51.9,668.3 50.9,662.6 50.7,656.8 C50.5,651.0 51.6,643.1 52.2,637.9 C52.8,632.6 53.3,628.4 54.3,625.3 C55.3,622.1 56.2,618.8 58.1,619.0 Z" fill="url(#spA)"/><path d="M58.1,622.1 C60.6,621.1 66.0,627.4 68.5,631.6 C71.0,635.8 73.5,643.7 73.0,647.4 C72.5,651.0 68.3,653.1 65.6,653.6 C62.8,654.2 58.6,653.1 56.6,650.5 C54.7,647.9 53.4,642.6 53.7,637.9 C53.9,633.2 55.6,623.2 58.1,622.1 Z" fill="url(#spRing)" fill-opacity="0.6"/><path d="M61.1,632.9 C62.5,631.8 67.2,635.5 68.5,637.9 C69.9,640.3 69.9,645.2 69.1,647.4 C68.4,649.5 65.5,651.0 64.1,650.5 C62.6,650.0 60.7,647.1 60.2,644.2 C59.7,641.3 59.7,633.9 61.1,632.9 Z" fill="#e07868" fill-opacity="0.75"/><path d="M108.9,599.2 C110.2,599.8 113.0,604.6 115.4,609.3 C117.7,614.0 120.6,621.5 122.9,627.4 C125.1,633.3 127.1,639.2 129.0,644.6 C130.9,649.9 132.9,655.1 134.1,659.7 C135.4,664.2 136.7,667.6 136.5,671.8 C136.3,676.0 134.7,681.4 133.1,684.9 C131.5,688.4 129.2,690.6 127.0,692.9 C124.7,695.3 121.4,697.8 119.5,699.0 C117.5,700.2 117.1,700.6 115.4,700.0 C113.6,699.4 110.9,697.8 108.9,695.3 C106.9,692.7 104.5,689.2 103.4,684.8 C102.3,680.4 102.5,674.1 102.4,668.8 C102.3,663.4 102.4,658.1 102.9,652.8 C103.5,647.6 105.0,642.6 105.6,637.4 C106.3,632.2 106.4,626.7 106.6,621.4 C106.9,616.1 106.9,609.3 107.2,605.7 C107.6,602.0 107.5,598.6 108.9,599.2 Z" fill="url(#spA)"/><path d="M108.9,599.2 C110.2,599.9 113.0,604.6 115.4,609.3 C117.7,614.0 120.8,622.0 122.9,627.4 C124.9,632.8 126.5,637.8 127.6,641.5 C128.8,645.2 130.5,647.4 129.7,649.6 C128.9,651.8 125.7,653.6 122.9,654.6 C120.0,655.6 115.8,656.2 112.6,655.6 C109.5,655.1 105.5,654.3 104.1,651.6 C102.7,648.9 104.0,644.6 104.4,639.5 C104.8,634.5 106.0,627.1 106.5,621.4 C106.9,615.7 106.8,608.9 107.2,605.2 C107.6,601.6 107.5,598.5 108.9,599.2 Z" fill="url(#spUp)"/><path d="M108.2,600.2 C109.0,597.4 110.6,599.0 110.9,602.2 C111.2,605.4 110.1,613.5 109.9,619.4 C109.7,625.2 108.9,633.0 109.9,637.5 C110.9,642.0 112.9,645.7 116.0,646.6 C119.2,647.4 126.4,642.0 129.0,642.5 C131.6,643.0 133.0,646.7 131.4,649.6 C129.8,652.5 123.1,658.0 119.5,659.7 C115.8,661.4 111.9,660.4 109.2,659.7 C106.5,659.0 104.2,659.0 103.4,655.6 C102.6,652.3 104.0,645.6 104.4,639.5 C104.9,633.5 105.5,625.9 106.2,619.4 C106.8,612.8 107.4,603.1 108.2,600.2 Z" fill="url(#spRing)" fill-opacity="0.5"/><path d="M111.3,607.3 C112.1,605.4 114.4,610.1 116.0,613.3 C117.7,616.5 120.0,622.4 121.2,626.4 C122.3,630.4 123.4,634.6 122.9,637.5 C122.3,640.4 119.5,643.2 117.7,643.6 C116.0,643.9 113.7,642.7 112.6,639.5 C111.6,636.3 111.5,629.8 111.3,624.4 C111.0,619.0 110.5,609.1 111.3,607.3 Z" fill="url(#spCore)" fill-opacity="0.75"/><path d="M156.2,603.8 C158.0,604.4 161.5,608.9 164.5,613.4 C167.5,617.9 171.1,625.1 174.0,630.7 C176.9,636.3 179.5,642.0 181.9,647.1 C184.2,652.2 186.8,657.2 188.4,661.5 C190.0,665.8 191.6,669.1 191.4,673.1 C191.2,677.1 189.1,682.2 187.1,685.6 C185.0,688.9 182.1,691.0 179.2,693.3 C176.4,695.5 172.2,697.9 169.7,699.0 C167.2,700.2 166.7,700.6 164.5,700.0 C162.2,699.4 158.8,697.9 156.2,695.5 C153.7,693.1 150.7,689.7 149.3,685.5 C147.9,681.3 148.1,675.3 148.0,670.2 C147.9,665.1 148.0,660.0 148.7,655.0 C149.3,650.0 151.3,645.3 152.1,640.3 C152.9,635.3 153.0,630.0 153.4,625.0 C153.7,619.9 153.7,613.5 154.2,610.0 C154.6,606.4 154.5,603.2 156.2,603.8 Z" fill="url(#spA)"/><path d="M156.2,603.8 C158.0,604.4 161.5,608.9 164.5,613.4 C167.5,617.9 171.4,625.6 174.0,630.7 C176.6,635.9 178.7,640.7 180.1,644.2 C181.6,647.7 183.7,649.8 182.7,651.9 C181.7,654.0 177.7,655.7 174.0,656.7 C170.4,657.7 165.0,658.2 161.0,657.7 C157.0,657.2 151.9,656.4 150.2,653.8 C148.4,651.3 150.1,647.1 150.6,642.3 C151.1,637.5 152.6,630.4 153.2,625.0 C153.8,619.5 153.6,613.1 154.1,609.6 C154.6,606.0 154.5,603.2 156.2,603.8 Z" fill="url(#spUp)"/><path d="M155.4,604.8 C156.4,602.0 158.5,603.6 158.8,606.7 C159.2,609.7 157.8,617.4 157.5,623.0 C157.3,628.7 156.2,636.0 157.5,640.4 C158.8,644.7 161.3,648.2 165.4,649.0 C169.4,649.8 178.6,644.7 181.9,645.2 C185.1,645.6 186.9,649.2 184.9,651.9 C182.9,654.6 174.4,659.9 169.7,661.5 C165.0,663.1 160.1,662.2 156.7,661.5 C153.3,660.9 150.3,660.9 149.3,657.7 C148.3,654.5 150.0,648.1 150.6,642.3 C151.2,636.5 152.0,629.3 152.8,623.0 C153.6,616.8 154.4,607.5 155.4,604.8 Z" fill="url(#spRing)" fill-opacity="0.5"/><path d="M159.3,611.5 C160.3,609.7 163.3,614.2 165.4,617.3 C167.5,620.3 170.4,625.9 171.9,629.8 C173.3,633.6 174.8,637.6 174.0,640.4 C173.3,643.1 169.7,645.8 167.5,646.1 C165.4,646.4 162.4,645.3 161.0,642.3 C159.6,639.2 159.6,633.0 159.3,627.8 C159.0,622.7 158.3,613.3 159.3,611.5 Z" fill="url(#spCore)" fill-opacity="0.75"/><path d="M209.3,601.4 C210.8,602.0 214.1,606.7 216.8,611.4 C219.5,616.0 222.8,623.5 225.4,629.3 C228.1,635.1 230.4,640.9 232.5,646.2 C234.7,651.5 237.0,656.7 238.4,661.2 C239.9,665.6 241.4,669.0 241.2,673.1 C241.0,677.3 239.1,682.6 237.3,686.1 C235.4,689.5 232.8,691.7 230.2,694.0 C227.5,696.4 223.7,698.8 221.5,700.0 C219.3,701.2 218.8,701.6 216.8,701.0 C214.7,700.4 211.6,698.8 209.3,696.3 C207.0,693.8 204.2,690.3 203.0,686.0 C201.7,681.6 201.9,675.4 201.8,670.1 C201.7,664.9 201.8,659.5 202.4,654.4 C203.0,649.2 204.8,644.3 205.5,639.1 C206.3,634.0 206.4,628.5 206.7,623.3 C207.0,618.1 207.0,611.4 207.4,607.8 C207.8,604.1 207.7,600.8 209.3,601.4 Z" fill="url(#spA)"/><path d="M209.3,601.4 C210.9,602.1 214.1,606.7 216.8,611.4 C219.5,616.0 223.1,624.0 225.4,629.3 C227.8,634.6 229.6,639.6 231.0,643.2 C232.3,646.9 234.2,649.0 233.3,651.2 C232.4,653.4 228.7,655.2 225.4,656.2 C222.2,657.2 217.2,657.7 213.6,657.2 C210.0,656.7 205.3,655.8 203.8,653.2 C202.2,650.5 203.7,646.2 204.2,641.2 C204.6,636.3 206.0,629.0 206.5,623.3 C207.1,617.7 206.9,611.0 207.3,607.4 C207.8,603.7 207.7,600.7 209.3,601.4 Z" fill="url(#spUp)"/><path d="M208.5,602.4 C209.4,599.6 211.3,601.2 211.7,604.4 C212.0,607.5 210.7,615.5 210.5,621.3 C210.3,627.1 209.3,634.8 210.5,639.2 C211.7,643.7 213.9,647.4 217.6,648.2 C221.2,649.0 229.6,643.7 232.5,644.2 C235.5,644.7 237.1,648.4 235.3,651.2 C233.5,654.0 225.8,659.5 221.5,661.2 C217.2,662.8 212.8,661.8 209.7,661.2 C206.6,660.5 203.9,660.5 203.0,657.2 C202.1,653.9 203.6,647.2 204.2,641.2 C204.7,635.3 205.4,627.8 206.1,621.3 C206.9,614.8 207.6,605.2 208.5,602.4 Z" fill="url(#spRing)" fill-opacity="0.5"/><path d="M212.0,609.4 C213.0,607.5 215.7,612.2 217.6,615.3 C219.5,618.5 222.2,624.3 223.5,628.3 C224.8,632.3 226.1,636.4 225.4,639.2 C224.8,642.1 221.5,644.9 219.5,645.2 C217.6,645.6 214.9,644.4 213.6,641.2 C212.4,638.1 212.3,631.6 212.0,626.3 C211.8,621.0 211.1,611.2 212.0,609.4 Z" fill="url(#spCore)" fill-opacity="0.75"/><path d="M256.5,607.8 C258.0,608.3 260.9,612.5 263.4,616.5 C265.9,620.6 269.0,627.1 271.4,632.2 C273.9,637.3 276.0,642.4 278.0,647.0 C280.0,651.7 282.1,656.2 283.5,660.1 C284.8,664.0 286.2,667.0 286.0,670.6 C285.8,674.2 284.1,678.9 282.4,681.9 C280.7,685.0 278.2,686.9 275.8,688.9 C273.4,690.9 269.9,693.1 267.8,694.1 C265.7,695.1 265.3,695.5 263.4,695.0 C261.6,694.5 258.6,693.1 256.5,690.9 C254.4,688.7 251.8,685.7 250.7,681.8 C249.5,678.0 249.7,672.6 249.6,668.0 C249.5,663.4 249.6,658.7 250.1,654.2 C250.7,649.7 252.4,645.4 253.1,640.8 C253.7,636.3 253.8,631.6 254.1,627.0 C254.4,622.4 254.4,616.6 254.8,613.4 C255.2,610.2 255.1,607.3 256.5,607.8 Z" fill="url(#spA)"/><path d="M256.5,607.8 C258.0,608.4 260.9,612.5 263.4,616.5 C265.9,620.6 269.3,627.6 271.4,632.2 C273.6,636.9 275.3,641.2 276.5,644.4 C277.7,647.6 279.6,649.5 278.7,651.4 C277.9,653.3 274.5,654.9 271.4,655.8 C268.4,656.6 263.9,657.1 260.5,656.6 C257.2,656.2 252.9,655.5 251.4,653.1 C250.0,650.8 251.4,647.0 251.8,642.7 C252.2,638.3 253.5,631.9 254.0,627.0 C254.5,622.0 254.3,616.2 254.7,613.0 C255.1,609.8 255.1,607.2 256.5,607.8 Z" fill="url(#spUp)"/><path d="M255.8,608.7 C256.6,606.2 258.4,607.7 258.7,610.4 C259.0,613.2 257.8,620.2 257.6,625.2 C257.4,630.3 256.5,637.0 257.6,640.9 C258.7,644.9 260.8,648.1 264.2,648.8 C267.6,649.5 275.3,644.9 278.0,645.3 C280.7,645.7 282.2,648.9 280.5,651.4 C278.8,653.9 271.7,658.7 267.8,660.1 C263.9,661.6 259.7,660.7 256.9,660.1 C254.0,659.5 251.5,659.5 250.7,656.6 C249.8,653.7 251.3,647.9 251.8,642.7 C252.3,637.4 252.9,630.9 253.6,625.2 C254.3,619.6 254.9,611.1 255.8,608.7 Z" fill="url(#spRing)" fill-opacity="0.5"/><path d="M259.1,614.8 C259.9,613.2 262.4,617.2 264.2,620.0 C265.9,622.8 268.4,627.9 269.6,631.3 C270.8,634.8 272.0,638.5 271.4,640.9 C270.8,643.4 267.8,645.9 266.0,646.2 C264.2,646.5 261.7,645.4 260.5,642.7 C259.4,639.9 259.3,634.3 259.1,629.6 C258.8,624.9 258.2,616.4 259.1,614.8 Z" fill="url(#spCore)" fill-opacity="0.75"/><path d="M305.7,610.3 C307.6,610.8 311.3,614.9 314.5,618.9 C317.6,622.9 321.5,629.3 324.6,634.4 C327.7,639.4 330.4,644.4 332.9,649.0 C335.4,653.5 338.1,658.0 339.8,661.8 C341.5,665.7 343.2,668.6 343.0,672.1 C342.8,675.7 340.5,680.3 338.4,683.3 C336.3,686.3 333.2,688.2 330.1,690.2 C327.1,692.2 322.6,694.3 320.0,695.3 C317.4,696.3 316.9,696.7 314.5,696.2 C312.1,695.7 308.4,694.3 305.7,692.2 C303.1,690.0 299.8,687.0 298.4,683.2 C296.9,679.5 297.1,674.1 297.0,669.6 C296.9,665.0 297.0,660.5 297.7,656.0 C298.4,651.5 300.5,647.3 301.4,642.9 C302.2,638.4 302.3,633.7 302.7,629.2 C303.1,624.7 303.0,618.9 303.5,615.8 C304.0,612.6 303.9,609.8 305.7,610.3 Z" fill="url(#spA)"/><path d="M305.7,610.3 C307.6,610.9 311.3,614.9 314.5,618.9 C317.6,622.9 321.8,629.8 324.6,634.4 C327.4,638.9 329.5,643.2 331.0,646.4 C332.6,649.5 334.9,651.4 333.8,653.2 C332.7,655.1 328.4,656.7 324.6,657.5 C320.8,658.4 315.0,658.8 310.8,658.4 C306.6,658.0 301.1,657.3 299.3,655.0 C297.5,652.7 299.2,649.0 299.8,644.7 C300.3,640.4 301.9,634.1 302.5,629.2 C303.1,624.3 302.9,618.6 303.4,615.5 C304.0,612.3 303.9,609.7 305.7,610.3 Z" fill="url(#spUp)"/><path d="M304.8,611.2 C305.9,608.7 308.1,610.2 308.5,612.9 C308.9,615.6 307.4,622.5 307.1,627.5 C306.9,632.5 305.7,639.1 307.1,642.9 C308.5,646.8 311.1,650.0 315.4,650.7 C319.7,651.4 329.4,646.8 332.9,647.2 C336.3,647.7 338.2,650.8 336.1,653.2 C334.0,655.7 325.0,660.4 320.0,661.8 C315.0,663.3 309.8,662.4 306.2,661.8 C302.6,661.3 299.5,661.3 298.4,658.4 C297.3,655.5 299.1,649.8 299.8,644.7 C300.4,639.5 301.2,633.1 302.1,627.5 C302.9,621.9 303.7,613.6 304.8,611.2 Z" fill="url(#spRing)" fill-opacity="0.5"/><path d="M309.0,617.2 C310.0,615.6 313.2,619.6 315.4,622.3 C317.6,625.0 320.8,630.1 322.3,633.5 C323.8,636.9 325.4,640.5 324.6,642.9 C323.8,645.4 320.0,647.8 317.7,648.1 C315.4,648.4 312.3,647.4 310.8,644.7 C309.3,641.9 309.3,636.4 309.0,631.8 C308.7,627.2 307.9,618.7 309.0,617.2 Z" fill="url(#spCore)" fill-opacity="0.75"/><path d="M285.5,658 Q291,661 292.5,669 Q292,678 288.5,677.5 Q287.5,670 285,663 Z" fill="#8a3a70"/><path d="M226,636 L228.5,639 L229.5,647 L227.5,645 Z" fill="#8a3a70" fill-opacity="0.8"/><polygon points="279.9,721.9 331.3,696.0 357.8,800.5 306.4,826.4" fill="#9d9e9d"/><line x1="279.9" y1="721.9" x2="331.3" y2="696.0" stroke="#9cf2f6" stroke-width="1.3" stroke-dasharray="5 3.5"/><line x1="331.3" y1="696.0" x2="357.8" y2="800.5" stroke="#9cf2f6" stroke-width="1.2" stroke-dasharray="5 4"/><line x1="279.9" y1="721.9" x2="306.4" y2="826.4" stroke="#9cf2f6" stroke-width="1.2" stroke-dasharray="5 4"/><polygon points="228.8,721.9 280.2,696.0 306.7,800.5 255.3,826.4" fill="#9d9e9d"/><line x1="228.8" y1="721.9" x2="280.2" y2="696.0" stroke="#9cf2f6" stroke-width="1.3" stroke-dasharray="5 3.5"/><line x1="280.2" y1="696.0" x2="306.7" y2="800.5" stroke="#9cf2f6" stroke-width="1.2" stroke-dasharray="5 4"/><line x1="228.8" y1="721.9" x2="255.3" y2="826.4" stroke="#9cf2f6" stroke-width="1.2" stroke-dasharray="5 4"/><polygon points="177.7,721.9 229.1,696.0 255.6,800.5 204.2,826.4" fill="#9d9e9d"/><line x1="177.7" y1="721.9" x2="229.1" y2="696.0" stroke="#9cf2f6" stroke-width="1.3" stroke-dasharray="5 3.5"/><line x1="229.1" y1="696.0" x2="255.6" y2="800.5" stroke="#9cf2f6" stroke-width="1.2" stroke-dasharray="5 4"/><line x1="177.7" y1="721.9" x2="204.2" y2="826.4" stroke="#9cf2f6" stroke-width="1.2" stroke-dasharray="5 4"/><polygon points="126.6,721.9 178.0,696.0 204.5,800.5 153.1,826.4" fill="#9d9e9d"/><line x1="126.6" y1="721.9" x2="178.0" y2="696.0" stroke="#9cf2f6" stroke-width="1.3" stroke-dasharray="5 3.5"/><line x1="178.0" y1="696.0" x2="204.5" y2="800.5" stroke="#9cf2f6" stroke-width="1.2" stroke-dasharray="5 4"/><line x1="126.6" y1="721.9" x2="153.1" y2="826.4" stroke="#9cf2f6" stroke-width="1.2" stroke-dasharray="5 4"/><polygon points="75.5,721.9 126.9,696.0 153.4,800.5 102.0,826.4" fill="#9d9e9d"/><line x1="75.5" y1="721.9" x2="126.9" y2="696.0" stroke="#9cf2f6" stroke-width="1.3" stroke-dasharray="5 3.5"/><line x1="126.9" y1="696.0" x2="153.4" y2="800.5" stroke="#9cf2f6" stroke-width="1.2" stroke-dasharray="5 4"/><line x1="75.5" y1="721.9" x2="102.0" y2="826.4" stroke="#9cf2f6" stroke-width="1.2" stroke-dasharray="5 4"/><polygon points="24.4,721.9 75.8,696.0 102.3,800.5 50.9,826.4" fill="#9d9e9d"/><line x1="24.4" y1="721.9" x2="75.8" y2="696.0" stroke="#9cf2f6" stroke-width="1.3" stroke-dasharray="5 3.5"/><line x1="75.8" y1="696.0" x2="102.3" y2="800.5" stroke="#9cf2f6" stroke-width="1.2" stroke-dasharray="5 4"/><line x1="24.4" y1="721.9" x2="50.9" y2="826.4" stroke="#9cf2f6" stroke-width="1.2" stroke-dasharray="5 4"/><path d="M55.1,730.7 C55.8,730.5 57.4,732.4 58.7,734.2 C60.0,735.9 61.6,737.8 63.2,741.2 C64.8,744.7 66.7,751.5 68.4,754.7 C70.1,757.9 72.0,758.2 73.5,760.4 C75.0,762.5 76.3,765.1 77.2,767.4 C78.1,769.8 79.1,772.1 79.0,774.4 C78.9,776.8 77.7,779.1 76.4,781.5 C75.1,783.9 73.1,786.6 71.3,788.6 C69.5,790.5 67.5,792.3 65.4,793.2 C63.3,794.0 60.4,794.6 58.4,793.8 C56.5,793.0 54.8,791.1 53.7,788.6 C52.5,786.0 52.1,781.9 51.5,778.7 C50.8,775.4 49.9,772.5 50.0,768.8 C50.1,765.2 51.6,760.6 52.2,756.8 C52.8,753.0 53.3,749.7 53.7,746.2 C54.1,742.6 54.2,738.2 54.4,735.6 C54.7,733.0 54.4,730.9 55.1,730.7 Z" fill="#a89290"/><path d="M52.9,735.1 C54.0,734.4 58.0,731.8 58.7,735.7 C59.4,739.7 57.7,754.5 57.2,759.1 C56.8,763.7 56.9,762.5 55.8,763.5 C54.7,764.6 51.6,767.2 50.9,765.4 C50.1,763.6 50.9,757.0 51.2,752.8 C51.4,748.6 52.0,743.1 52.3,740.2 C52.6,737.2 51.8,735.9 52.9,735.1 Z" fill="#b07a40"/><path d="M55.8,785.0 C56.5,783.7 61.6,785.0 63.0,786.2 C64.5,787.5 65.2,791.3 64.5,792.5 C63.8,793.8 60.2,795.1 58.7,793.8 C57.2,792.5 55.1,786.2 55.8,785.0 Z" fill="#b07a40"/><path d="M67.4,753.4 C68.3,753.4 72.0,757.6 72.6,759.1 C73.2,760.6 71.8,762.2 70.9,762.2 C70.0,762.2 68.0,760.6 67.4,759.1 C66.8,757.6 66.5,753.4 67.4,753.4 Z" fill="#b07a40"/><path d="M54.1,735.7 C55.5,734.5 60.2,734.5 62.2,735.7 C64.2,737.0 65.6,741.0 66.0,743.3 C66.3,745.6 65.7,749.4 64.5,749.6 C63.3,749.8 60.5,745.6 58.7,744.6 C56.9,743.5 54.5,744.8 53.8,743.3 C53.0,741.8 52.7,737.0 54.1,735.7 Z" fill="#e6c040"/><path d="M54.6,730.7 C55.4,730.1 57.4,730.0 58.7,730.7 C60.0,731.4 62.3,734.3 62.2,735.1 C62.1,736.0 59.4,735.9 58.1,735.7 C56.8,735.6 54.9,735.3 54.4,734.5 C53.8,733.6 53.9,731.3 54.6,730.7 Z" fill="#88d048"/><path d="M56.4,739.5 C57.2,738.1 59.9,738.7 61.0,740.8 C62.1,742.9 62.8,749.1 63.0,752.2 C63.3,755.2 63.5,757.7 62.8,759.1 C62.0,760.5 59.8,761.9 58.7,760.4 C57.6,758.8 56.8,753.1 56.4,749.6 C56.0,746.2 55.6,741.0 56.4,739.5 Z" fill="#e08040"/><path d="M61.0,740.2 C61.4,739.3 63.8,742.2 64.5,744.6 C65.2,747.0 65.6,752.4 65.4,754.7 C65.2,757.0 63.9,759.3 63.3,758.5 C62.8,757.6 62.6,752.7 62.2,749.6 C61.8,746.6 60.6,741.0 61.0,740.2 Z" fill="#c4a4e0"/><path d="M58.7,761.0 C60.1,759.2 64.6,758.7 67.4,759.1 C70.2,759.5 73.9,761.5 75.5,763.5 C77.1,765.5 77.8,769.2 77.0,771.1 C76.1,773.0 72.6,774.0 70.3,774.9 C68.0,775.7 64.9,777.0 63.0,776.1 C61.2,775.3 60.0,772.3 59.3,769.8 C58.6,767.3 57.3,762.8 58.7,761.0 Z" fill="#e070b0"/><path d="M63.0,769.8 C63.8,768.1 66.2,768.6 68.0,768.6 C69.8,768.6 73.0,768.8 73.8,769.8 C74.6,770.9 73.8,773.0 72.6,774.9 C71.5,776.8 68.4,780.5 66.8,781.2 C65.3,781.8 64.0,780.5 63.3,778.7 C62.7,776.8 62.3,771.5 63.0,769.8 Z" fill="#4870d8"/><path d="M50.9,765.4 C51.2,763.3 52.6,761.4 52.9,763.5 C53.2,765.6 53.2,775.9 52.9,778.0 C52.6,780.1 51.5,778.2 51.2,776.1 C50.8,774.0 50.6,767.5 50.9,765.4 Z" fill="#e8a090"/><path d="M52.3,764.1 C53.9,762.9 59.3,761.0 61.0,762.2 C62.8,763.5 62.6,767.9 62.8,771.7 C63.0,775.5 63.1,782.3 62.2,785.0 C61.3,787.6 58.9,788.1 57.2,787.5 C55.6,786.9 53.3,784.1 52.3,781.2 C51.4,778.2 51.5,772.7 51.5,769.8 C51.5,767.0 50.7,765.4 52.3,764.1 Z" fill="url(#spTeal)"/><path d="M74.7,759.1 C74.9,758.9 76.0,761.1 76.1,762.2 C76.2,763.4 75.8,765.8 75.5,766.0 C75.2,766.2 74.5,764.7 74.4,763.5 C74.2,762.4 74.4,759.3 74.7,759.1 Z" fill="#f0f0a0"/><path d="M55.1,730.7 C55.8,730.5 57.4,732.4 58.7,734.2 C60.0,735.9 61.6,737.8 63.2,741.2 C64.8,744.7 66.7,751.5 68.4,754.7 C70.1,757.9 72.0,758.2 73.5,760.4 C75.0,762.5 76.3,765.1 77.2,767.4 C78.1,769.8 79.1,772.1 79.0,774.4 C78.9,776.8 77.7,779.1 76.4,781.5 C75.1,783.9 73.1,786.6 71.3,788.6 C69.5,790.5 67.5,792.3 65.4,793.2 C63.3,794.0 60.4,794.6 58.4,793.8 C56.5,793.0 54.8,791.1 53.7,788.6 C52.5,786.0 52.1,781.9 51.5,778.7 C50.8,775.4 49.9,772.5 50.0,768.8 C50.1,765.2 51.6,760.6 52.2,756.8 C52.8,753.0 53.3,749.7 53.7,746.2 C54.1,742.6 54.2,738.2 54.4,735.6 C54.7,733.0 54.4,730.9 55.1,730.7 Z" fill="url(#spGray)"/><path d="M107.3,711.0 C108.2,710.6 110.0,713.7 111.7,716.6 C113.3,719.4 115.3,722.4 117.2,727.9 C119.2,733.3 121.5,744.3 123.6,749.4 C125.7,754.5 128.1,755.1 129.9,758.5 C131.7,761.9 133.3,766.0 134.4,769.8 C135.5,773.5 136.8,777.2 136.6,781.0 C136.4,784.7 135.0,788.5 133.4,792.3 C131.8,796.1 129.4,800.5 127.1,803.6 C124.9,806.7 122.5,809.6 119.9,811.0 C117.3,812.4 113.7,813.2 111.3,812.0 C108.9,810.8 106.9,807.7 105.5,803.6 C104.1,799.6 103.5,793.0 102.8,787.8 C102.0,782.5 100.8,777.8 101.0,772.0 C101.2,766.2 103.0,758.9 103.7,752.8 C104.5,746.8 105.1,741.4 105.5,735.7 C106.0,730.1 106.2,723.0 106.4,718.9 C106.7,714.8 106.4,711.4 107.3,711.0 Z" fill="#a89290"/><path d="M104.6,718.1 C105.9,716.9 110.8,712.7 111.7,719.1 C112.6,725.5 110.5,749.0 109.9,756.5 C109.3,763.9 109.4,761.8 108.1,763.5 C106.8,765.2 103.0,769.4 102.1,766.5 C101.1,763.7 102.1,753.1 102.4,746.4 C102.7,739.6 103.5,730.9 103.8,726.1 C104.2,721.4 103.3,719.2 104.6,718.1 Z" fill="#b07a40"/><path d="M108.1,797.9 C109.0,795.8 115.2,797.9 117.0,799.9 C118.8,801.9 119.7,808.0 118.8,810.0 C117.9,812.0 113.5,814.0 111.7,812.0 C109.9,810.0 107.2,799.9 108.1,797.9 Z" fill="#b07a40"/><path d="M122.4,747.4 C123.4,747.4 128.1,754.1 128.8,756.5 C129.5,758.8 127.7,761.5 126.6,761.5 C125.6,761.5 123.1,758.8 122.4,756.5 C121.6,754.1 121.3,747.4 122.4,747.4 Z" fill="#b07a40"/><path d="M106.0,719.1 C107.7,717.1 113.5,717.1 116.0,719.1 C118.4,721.1 120.1,727.5 120.6,731.2 C121.1,734.9 120.3,741.0 118.8,741.3 C117.3,741.6 113.9,734.9 111.7,733.2 C109.5,731.5 106.6,733.6 105.6,731.2 C104.7,728.8 104.3,721.1 106.0,719.1 Z" fill="#e6c040"/><path d="M106.7,711.0 C107.6,710.0 110.1,709.8 111.7,711.0 C113.2,712.2 116.1,716.7 116.0,718.1 C115.8,719.4 112.6,719.2 111.0,719.1 C109.4,718.9 107.1,718.4 106.3,717.1 C105.6,715.7 105.8,712.0 106.7,711.0 Z" fill="#88d048"/><path d="M108.8,725.1 C109.8,722.8 113.2,723.8 114.5,727.2 C115.9,730.5 116.7,740.5 117.0,745.3 C117.4,750.2 117.6,754.3 116.7,756.5 C115.8,758.6 113.0,761.0 111.7,758.5 C110.4,755.9 109.3,746.9 108.8,741.3 C108.4,735.7 107.9,727.5 108.8,725.1 Z" fill="#e08040"/><path d="M114.5,726.1 C115.0,724.8 117.9,729.3 118.8,733.2 C119.7,737.1 120.1,745.7 119.9,749.4 C119.6,753.1 118.0,756.8 117.4,755.4 C116.7,754.1 116.4,746.2 116.0,741.3 C115.5,736.4 114.1,727.5 114.5,726.1 Z" fill="#c4a4e0"/><path d="M111.7,759.5 C113.3,756.6 118.9,755.8 122.4,756.5 C125.8,757.1 130.4,760.3 132.3,763.5 C134.3,766.7 135.2,772.6 134.1,775.6 C133.0,778.7 128.8,780.4 125.9,781.7 C123.1,783.0 119.3,785.1 117.0,783.7 C114.8,782.4 113.3,777.7 112.4,773.6 C111.5,769.6 110.0,762.3 111.7,759.5 Z" fill="#e070b0"/><path d="M117.0,773.6 C118.0,770.9 120.9,771.6 123.1,771.6 C125.3,771.6 129.2,771.9 130.2,773.6 C131.1,775.3 130.2,778.7 128.8,781.7 C127.3,784.7 123.5,790.8 121.6,791.8 C119.7,792.8 118.1,790.8 117.4,787.8 C116.6,784.7 116.1,776.3 117.0,773.6 Z" fill="#4870d8"/><path d="M102.1,766.5 C102.4,763.2 104.1,760.2 104.6,763.5 C105.0,766.9 104.9,783.4 104.6,786.8 C104.2,790.1 102.8,787.1 102.4,783.7 C102.0,780.4 101.7,769.9 102.1,766.5 Z" fill="#e8a090"/><path d="M103.8,764.5 C105.8,762.5 112.4,759.5 114.5,761.5 C116.7,763.5 116.4,770.6 116.7,776.6 C116.9,782.7 117.1,793.7 116.0,797.9 C114.8,802.1 111.9,802.9 109.9,801.9 C107.9,800.9 105.0,796.5 103.8,791.8 C102.7,787.1 102.8,778.2 102.8,773.6 C102.8,769.1 101.9,766.5 103.8,764.5 Z" fill="url(#spTeal)"/><path d="M131.3,756.5 C131.6,756.1 132.9,759.6 133.0,761.5 C133.2,763.4 132.7,767.2 132.3,767.6 C132.0,767.9 131.1,765.4 130.9,763.5 C130.7,761.7 130.9,756.8 131.3,756.5 Z" fill="#f0f0a0"/><path d="M107.3,711.0 C108.2,710.6 110.0,713.7 111.7,716.6 C113.3,719.4 115.3,722.4 117.2,727.9 C119.2,733.3 121.5,744.3 123.6,749.4 C125.7,754.5 128.1,755.1 129.9,758.5 C131.7,761.9 133.3,766.0 134.4,769.8 C135.5,773.5 136.8,777.2 136.6,781.0 C136.4,784.7 135.0,788.5 133.4,792.3 C131.8,796.1 129.4,800.5 127.1,803.6 C124.9,806.7 122.5,809.6 119.9,811.0 C117.3,812.4 113.7,813.2 111.3,812.0 C108.9,810.8 106.9,807.7 105.5,803.6 C104.1,799.6 103.5,793.0 102.8,787.8 C102.0,782.5 100.8,777.8 101.0,772.0 C101.2,766.2 103.0,758.9 103.7,752.8 C104.5,746.8 105.1,741.4 105.5,735.7 C106.0,730.1 106.2,723.0 106.4,718.9 C106.7,714.8 106.4,711.4 107.3,711.0 Z" fill="url(#spGray)"/><path d="M157.1,714.0 C158.1,713.6 160.1,716.6 162.0,719.3 C163.9,722.0 166.0,724.8 168.2,730.0 C170.5,735.2 173.0,745.6 175.4,750.5 C177.7,755.3 180.4,755.9 182.4,759.1 C184.5,762.4 186.3,766.3 187.5,769.9 C188.8,773.4 190.2,777.0 190.0,780.5 C189.8,784.1 188.2,787.7 186.4,791.3 C184.6,794.9 181.9,799.1 179.4,802.0 C176.8,805.0 174.2,807.7 171.2,809.0 C168.3,810.4 164.3,811.2 161.6,810.0 C158.9,808.8 156.7,805.9 155.1,802.0 C153.5,798.2 152.8,792.0 152.0,787.0 C151.2,782.0 149.8,777.5 150.0,772.0 C150.2,766.4 152.2,759.5 153.1,753.7 C153.9,748.0 154.6,742.9 155.1,737.5 C155.6,732.1 155.8,725.4 156.1,721.5 C156.5,717.6 156.1,714.4 157.1,714.0 Z" fill="#a89290"/><path d="M154.0,720.7 C155.5,719.6 161.0,715.6 162.0,721.7 C163.0,727.8 160.7,750.2 160.0,757.2 C159.3,764.2 159.5,762.3 158.0,763.9 C156.5,765.5 152.3,769.5 151.2,766.8 C150.1,764.1 151.3,754.0 151.6,747.6 C151.9,741.2 152.8,732.9 153.2,728.4 C153.6,723.9 152.5,721.8 154.0,720.7 Z" fill="#b07a40"/><path d="M158.0,796.6 C159.0,794.6 166.0,796.6 168.0,798.5 C170.0,800.4 171.0,806.2 170.0,808.1 C169.0,810.0 164.0,811.9 162.0,810.0 C160.0,808.1 157.0,798.5 158.0,796.6 Z" fill="#b07a40"/><path d="M174.0,748.6 C175.2,748.6 180.4,755.0 181.2,757.2 C182.0,759.4 180.0,762.0 178.8,762.0 C177.6,762.0 174.8,759.4 174.0,757.2 C173.2,755.0 172.8,748.6 174.0,748.6 Z" fill="#b07a40"/><path d="M155.6,721.7 C157.5,719.8 164.1,719.8 166.8,721.7 C169.5,723.6 171.5,729.7 172.0,733.2 C172.5,736.7 171.7,742.5 170.0,742.8 C168.3,743.1 164.5,736.7 162.0,735.1 C159.5,733.5 156.3,735.4 155.2,733.2 C154.1,731.0 153.7,723.6 155.6,721.7 Z" fill="#e6c040"/><path d="M156.4,714.0 C157.4,713.0 160.3,712.9 162.0,714.0 C163.7,715.1 166.9,719.4 166.8,720.7 C166.7,722.0 163.0,721.8 161.2,721.7 C159.4,721.5 156.8,721.0 156.0,719.8 C155.2,718.5 155.4,715.0 156.4,714.0 Z" fill="#88d048"/><path d="M158.8,727.4 C159.9,725.2 163.7,726.2 165.2,729.4 C166.7,732.6 167.6,742.0 168.0,746.6 C168.4,751.3 168.6,755.1 167.6,757.2 C166.6,759.3 163.5,761.5 162.0,759.1 C160.5,756.7 159.3,748.1 158.8,742.8 C158.3,737.5 157.7,729.7 158.8,727.4 Z" fill="#e08040"/><path d="M165.2,728.4 C165.7,727.1 169.0,731.4 170.0,735.1 C171.0,738.8 171.5,747.0 171.2,750.5 C170.9,754.0 169.1,757.5 168.4,756.2 C167.7,755.0 167.3,747.4 166.8,742.8 C166.3,738.2 164.7,729.7 165.2,728.4 Z" fill="#c4a4e0"/><path d="M162.0,760.1 C163.9,757.4 170.1,756.6 174.0,757.2 C177.9,757.8 183.0,760.9 185.2,763.9 C187.4,767.0 188.4,772.6 187.2,775.4 C186.0,778.3 181.2,779.9 178.0,781.2 C174.8,782.5 170.5,784.4 168.0,783.1 C165.5,781.8 163.8,777.4 162.8,773.5 C161.8,769.7 160.1,762.8 162.0,760.1 Z" fill="#e070b0"/><path d="M168.0,773.5 C169.1,771.0 172.3,771.6 174.8,771.6 C177.3,771.6 181.7,771.9 182.8,773.5 C183.9,775.1 182.8,778.3 181.2,781.2 C179.6,784.1 175.3,789.8 173.2,790.8 C171.1,791.8 169.3,789.8 168.4,787.0 C167.5,784.1 166.9,776.1 168.0,773.5 Z" fill="#4870d8"/><path d="M151.2,766.8 C151.6,763.6 153.5,760.7 154.0,763.9 C154.5,767.1 154.4,782.8 154.0,786.0 C153.6,789.2 152.1,786.3 151.6,783.1 C151.1,779.9 150.8,770.0 151.2,766.8 Z" fill="#e8a090"/><path d="M153.2,764.9 C155.4,763.0 162.8,760.1 165.2,762.0 C167.6,763.9 167.3,770.6 167.6,776.4 C167.9,782.2 168.1,792.6 166.8,796.6 C165.5,800.6 162.3,801.4 160.0,800.4 C157.7,799.4 154.5,795.3 153.2,790.8 C151.9,786.3 152.0,777.8 152.0,773.5 C152.0,769.2 151.0,766.8 153.2,764.9 Z" fill="url(#spTeal)"/><path d="M184.0,757.2 C184.4,756.9 185.8,760.2 186.0,762.0 C186.2,763.8 185.6,767.4 185.2,767.8 C184.8,768.1 183.8,765.7 183.6,763.9 C183.4,762.2 183.6,757.5 184.0,757.2 Z" fill="#f0f0a0"/><path d="M157.1,714.0 C158.1,713.6 160.1,716.6 162.0,719.3 C163.9,722.0 166.0,724.8 168.2,730.0 C170.5,735.2 173.0,745.6 175.4,750.5 C177.7,755.3 180.4,755.9 182.4,759.1 C184.5,762.4 186.3,766.3 187.5,769.9 C188.8,773.4 190.2,777.0 190.0,780.5 C189.8,784.1 188.2,787.7 186.4,791.3 C184.6,794.9 181.9,799.1 179.4,802.0 C176.8,805.0 174.2,807.7 171.2,809.0 C168.3,810.4 164.3,811.2 161.6,810.0 C158.9,808.8 156.7,805.9 155.1,802.0 C153.5,798.2 152.8,792.0 152.0,787.0 C151.2,782.0 149.8,777.5 150.0,772.0 C150.2,766.4 152.2,759.5 153.1,753.7 C153.9,748.0 154.6,742.9 155.1,737.5 C155.6,732.1 155.8,725.4 156.1,721.5 C156.5,717.6 156.1,714.4 157.1,714.0 Z" fill="url(#spGray)"/><path d="M207.0,713.5 C208.0,713.1 210.1,716.1 212.0,718.7 C213.9,721.3 216.1,724.1 218.4,729.2 C220.6,734.3 223.2,744.5 225.6,749.3 C228.0,754.0 230.7,754.6 232.8,757.7 C234.9,760.9 236.7,764.8 238.0,768.3 C239.3,771.8 240.7,775.2 240.5,778.7 C240.3,782.2 238.6,785.7 236.8,789.3 C235.0,792.8 232.2,796.9 229.7,799.8 C227.1,802.7 224.4,805.4 221.4,806.7 C218.4,808.0 214.3,808.7 211.6,807.6 C208.9,806.5 206.6,803.6 205.0,799.8 C203.3,796.0 202.7,789.9 201.8,785.0 C201.0,780.1 199.6,775.8 199.8,770.3 C200.0,764.9 202.1,758.1 202.9,752.5 C203.8,746.8 204.5,741.8 205.0,736.6 C205.5,731.3 205.7,724.7 206.0,720.8 C206.4,717.0 206.0,713.9 207.0,713.5 Z" fill="#a89290"/><path d="M203.9,720.1 C205.4,719.0 211.0,715.1 212.0,721.0 C213.0,727.0 210.7,748.9 210.0,755.8 C209.3,762.7 209.4,760.9 207.9,762.4 C206.4,764.0 202.1,767.9 201.0,765.3 C199.9,762.6 201.1,752.7 201.4,746.4 C201.8,740.2 202.6,732.0 203.1,727.6 C203.5,723.2 202.4,721.2 203.9,720.1 Z" fill="#b07a40"/><path d="M207.9,794.4 C209.0,792.5 216.1,794.4 218.1,796.3 C220.2,798.2 221.2,803.8 220.2,805.7 C219.1,807.6 214.0,809.5 212.0,807.6 C210.0,805.7 206.9,796.3 207.9,794.4 Z" fill="#b07a40"/><path d="M224.2,747.4 C225.4,747.4 230.7,753.6 231.5,755.8 C232.4,758.0 230.3,760.5 229.1,760.5 C227.9,760.5 225.0,758.0 224.2,755.8 C223.4,753.6 223.0,747.4 224.2,747.4 Z" fill="#b07a40"/><path d="M205.5,721.0 C207.5,719.1 214.1,719.1 216.9,721.0 C219.7,722.9 221.6,728.9 222.2,732.3 C222.7,735.8 221.8,741.4 220.2,741.7 C218.5,742.0 214.5,735.8 212.0,734.2 C209.5,732.6 206.2,734.5 205.1,732.3 C204.0,730.1 203.5,722.9 205.5,721.0 Z" fill="#e6c040"/><path d="M206.3,713.5 C207.3,712.6 210.2,712.4 212.0,713.5 C213.8,714.6 217.0,718.8 216.9,720.1 C216.8,721.3 213.0,721.2 211.2,721.0 C209.4,720.9 206.7,720.4 205.9,719.1 C205.1,717.9 205.3,714.4 206.3,713.5 Z" fill="#88d048"/><path d="M208.8,726.7 C209.8,724.5 213.7,725.4 215.3,728.6 C216.8,731.7 217.7,740.9 218.1,745.5 C218.5,750.0 218.7,753.8 217.7,755.8 C216.7,757.9 213.5,760.1 212.0,757.7 C210.5,755.4 209.3,746.9 208.8,741.7 C208.2,736.6 207.7,728.9 208.8,726.7 Z" fill="#e08040"/><path d="M215.3,727.6 C215.8,726.4 219.1,730.6 220.2,734.2 C221.2,737.8 221.6,745.8 221.4,749.3 C221.1,752.7 219.3,756.2 218.5,754.9 C217.8,753.6 217.4,746.3 216.9,741.7 C216.4,737.2 214.7,728.9 215.3,727.6 Z" fill="#c4a4e0"/><path d="M212.0,758.7 C213.9,756.0 220.3,755.2 224.2,755.8 C228.2,756.5 233.4,759.5 235.6,762.4 C237.9,765.4 238.9,770.9 237.7,773.7 C236.4,776.5 231.5,778.1 228.3,779.4 C225.0,780.6 220.7,782.5 218.1,781.3 C215.5,780.0 213.8,775.6 212.8,771.8 C211.8,768.1 210.1,761.3 212.0,758.7 Z" fill="#e070b0"/><path d="M218.1,771.8 C219.2,769.3 222.5,770.0 225.0,770.0 C227.5,770.0 232.1,770.3 233.2,771.8 C234.3,773.4 233.2,776.5 231.5,779.4 C229.9,782.2 225.6,787.8 223.4,788.8 C221.2,789.7 219.4,787.8 218.5,785.0 C217.6,782.2 217.0,774.4 218.1,771.8 Z" fill="#4870d8"/><path d="M201.0,765.3 C201.4,762.1 203.4,759.3 203.9,762.4 C204.3,765.6 204.3,780.9 203.9,784.1 C203.5,787.2 201.9,784.4 201.4,781.3 C201.0,778.1 200.6,768.4 201.0,765.3 Z" fill="#e8a090"/><path d="M203.1,763.4 C205.3,761.5 212.8,758.7 215.3,760.5 C217.7,762.4 217.4,769.0 217.7,774.7 C218.0,780.3 218.2,790.5 216.9,794.4 C215.6,798.3 212.3,799.1 210.0,798.2 C207.7,797.2 204.4,793.2 203.1,788.8 C201.7,784.4 201.8,776.1 201.8,771.8 C201.8,767.6 200.8,765.3 203.1,763.4 Z" fill="url(#spTeal)"/><path d="M234.4,755.8 C234.8,755.5 236.2,758.8 236.4,760.5 C236.6,762.3 236.0,765.9 235.6,766.2 C235.2,766.5 234.2,764.2 234.0,762.4 C233.8,760.7 234.0,756.2 234.4,755.8 Z" fill="#f0f0a0"/><path d="M207.0,713.5 C208.0,713.1 210.1,716.1 212.0,718.7 C213.9,721.3 216.1,724.1 218.4,729.2 C220.6,734.3 223.2,744.5 225.6,749.3 C228.0,754.0 230.7,754.6 232.8,757.7 C234.9,760.9 236.7,764.8 238.0,768.3 C239.3,771.8 240.7,775.2 240.5,778.7 C240.3,782.2 238.6,785.7 236.8,789.3 C235.0,792.8 232.2,796.9 229.7,799.8 C227.1,802.7 224.4,805.4 221.4,806.7 C218.4,808.0 214.3,808.7 211.6,807.6 C208.9,806.5 206.6,803.6 205.0,799.8 C203.3,796.0 202.7,789.9 201.8,785.0 C201.0,780.1 199.6,775.8 199.8,770.3 C200.0,764.9 202.1,758.1 202.9,752.5 C203.8,746.8 204.5,741.8 205.0,736.6 C205.5,731.3 205.7,724.7 206.0,720.8 C206.4,717.0 206.0,713.9 207.0,713.5 Z" fill="url(#spGray)"/><path d="M256.8,722.8 C257.8,722.5 259.9,725.0 261.8,727.3 C263.7,729.6 265.9,732.0 268.2,736.4 C270.5,740.8 273.1,749.7 275.5,753.8 C277.9,757.9 280.6,758.4 282.7,761.1 C284.8,763.8 286.6,767.2 287.9,770.2 C289.2,773.3 290.6,776.3 290.4,779.3 C290.2,782.3 288.5,785.4 286.7,788.4 C284.9,791.5 282.1,795.0 279.5,797.5 C277.0,800.0 274.3,802.4 271.3,803.5 C268.2,804.6 264.2,805.3 261.4,804.3 C258.7,803.3 256.4,800.8 254.8,797.5 C253.1,794.3 252.5,789.0 251.6,784.7 C250.8,780.5 249.4,776.7 249.6,772.0 C249.8,767.3 251.9,761.4 252.7,756.5 C253.6,751.7 254.3,747.3 254.8,742.8 C255.3,738.2 255.5,732.5 255.8,729.2 C256.2,725.8 255.8,723.1 256.8,722.8 Z" fill="#a89290"/><path d="M253.7,728.5 C255.2,727.6 260.8,724.2 261.8,729.3 C262.9,734.5 260.5,753.5 259.8,759.5 C259.1,765.5 259.3,763.8 257.8,765.2 C256.3,766.5 251.9,769.9 250.8,767.6 C249.7,765.3 250.9,756.8 251.2,751.3 C251.6,745.9 252.5,738.8 252.9,735.0 C253.3,731.2 252.2,729.5 253.7,728.5 Z" fill="#b07a40"/><path d="M257.8,792.9 C258.8,791.3 265.9,792.9 268.0,794.5 C270.0,796.1 271.0,801.0 270.0,802.7 C269.0,804.3 263.9,805.9 261.8,804.3 C259.8,802.7 256.7,794.5 257.8,792.9 Z" fill="#b07a40"/><path d="M274.1,752.1 C275.3,752.1 280.6,757.6 281.4,759.5 C282.2,761.4 280.2,763.5 279.0,763.5 C277.8,763.5 274.9,761.4 274.1,759.5 C273.3,757.6 272.9,752.1 274.1,752.1 Z" fill="#b07a40"/><path d="M255.3,729.3 C257.3,727.7 263.9,727.7 266.7,729.3 C269.5,730.9 271.5,736.1 272.0,739.1 C272.6,742.1 271.7,747.0 270.0,747.2 C268.3,747.5 264.4,742.1 261.8,740.7 C259.3,739.4 256.0,741.0 254.9,739.1 C253.8,737.2 253.3,730.9 255.3,729.3 Z" fill="#e6c040"/><path d="M256.1,722.8 C257.1,722.0 260.1,721.8 261.8,722.8 C263.6,723.8 266.9,727.4 266.7,728.5 C266.6,729.6 262.9,729.5 261.0,729.3 C259.2,729.2 256.5,728.8 255.7,727.7 C254.9,726.6 255.1,723.6 256.1,722.8 Z" fill="#88d048"/><path d="M258.6,734.2 C259.7,732.3 263.5,733.1 265.1,735.8 C266.7,738.6 267.6,746.6 268.0,750.5 C268.4,754.4 268.6,757.7 267.6,759.5 C266.5,761.2 263.3,763.1 261.8,761.1 C260.3,759.1 259.1,751.7 258.6,747.2 C258.0,742.8 257.5,736.1 258.6,734.2 Z" fill="#e08040"/><path d="M265.1,735.0 C265.6,733.9 269.0,737.6 270.0,740.7 C271.0,743.9 271.5,750.8 271.2,753.8 C271.0,756.8 269.1,759.7 268.4,758.7 C267.6,757.6 267.3,751.2 266.7,747.2 C266.2,743.3 264.6,736.1 265.1,735.0 Z" fill="#c4a4e0"/><path d="M261.8,761.9 C263.7,759.6 270.1,758.9 274.1,759.5 C278.0,760.0 283.3,762.6 285.5,765.2 C287.7,767.8 288.8,772.5 287.5,775.0 C286.3,777.4 281.4,778.8 278.2,779.8 C274.9,780.9 270.5,782.6 268.0,781.5 C265.4,780.4 263.7,776.6 262.7,773.3 C261.6,770.1 259.9,764.2 261.8,761.9 Z" fill="#e070b0"/><path d="M268.0,773.3 C269.0,771.2 272.4,771.7 274.9,771.7 C277.4,771.7 282.0,772.0 283.1,773.3 C284.1,774.7 283.1,777.4 281.4,779.8 C279.8,782.3 275.4,787.2 273.3,788.0 C271.1,788.8 269.3,787.2 268.4,784.7 C267.5,782.3 266.9,775.5 268.0,773.3 Z" fill="#4870d8"/><path d="M250.8,767.6 C251.2,764.9 253.2,762.5 253.7,765.2 C254.2,767.9 254.1,781.2 253.7,783.9 C253.3,786.6 251.7,784.2 251.2,781.5 C250.8,778.8 250.4,770.3 250.8,767.6 Z" fill="#e8a090"/><path d="M252.9,766.0 C255.1,764.4 262.7,761.9 265.1,763.5 C267.6,765.2 267.3,770.9 267.6,775.8 C267.8,780.7 268.0,789.5 266.7,792.9 C265.4,796.3 262.1,797.0 259.8,796.1 C257.5,795.3 254.2,791.8 252.9,788.0 C251.5,784.2 251.6,777.0 251.6,773.3 C251.6,769.7 250.6,767.6 252.9,766.0 Z" fill="url(#spTeal)"/><path d="M284.3,759.5 C284.7,759.2 286.1,762.1 286.3,763.5 C286.5,765.0 285.9,768.2 285.5,768.4 C285.1,768.7 284.1,766.7 283.9,765.2 C283.7,763.7 283.9,759.7 284.3,759.5 Z" fill="#f0f0a0"/><path d="M256.8,722.8 C257.8,722.5 259.9,725.0 261.8,727.3 C263.7,729.6 265.9,732.0 268.2,736.4 C270.5,740.8 273.1,749.7 275.5,753.8 C277.9,757.9 280.6,758.4 282.7,761.1 C284.8,763.8 286.6,767.2 287.9,770.2 C289.2,773.3 290.6,776.3 290.4,779.3 C290.2,782.3 288.5,785.4 286.7,788.4 C284.9,791.5 282.1,795.0 279.5,797.5 C277.0,800.0 274.3,802.4 271.3,803.5 C268.2,804.6 264.2,805.3 261.4,804.3 C258.7,803.3 256.4,800.8 254.8,797.5 C253.1,794.3 252.5,789.0 251.6,784.7 C250.8,780.5 249.4,776.7 249.6,772.0 C249.8,767.3 251.9,761.4 252.7,756.5 C253.6,751.7 254.3,747.3 254.8,742.8 C255.3,738.2 255.5,732.5 255.8,729.2 C256.2,725.8 255.8,723.1 256.8,722.8 Z" fill="url(#spGray)"/><path d="M303.5,721.5 C304.5,721.2 306.9,723.8 308.9,726.2 C311.0,728.6 313.4,731.1 315.8,735.8 C318.3,740.4 321.1,749.7 323.7,754.0 C326.4,758.3 329.4,758.8 331.6,761.7 C333.9,764.6 335.8,768.1 337.2,771.3 C338.6,774.4 340.2,777.6 340.0,780.8 C339.8,783.9 338.0,787.1 336.0,790.3 C334.0,793.5 331.0,797.3 328.2,799.9 C325.4,802.5 322.5,805.0 319.2,806.1 C315.9,807.3 311.5,808.0 308.5,807.0 C305.5,806.0 303.0,803.3 301.2,799.9 C299.5,796.5 298.8,790.9 297.8,786.5 C296.9,782.0 295.4,778.1 295.6,773.1 C295.8,768.2 298.1,762.0 299.0,756.9 C300.0,751.8 300.7,747.2 301.2,742.4 C301.8,737.7 302.0,731.7 302.4,728.2 C302.8,724.7 302.4,721.8 303.5,721.5 Z" fill="#a89290"/><path d="M300.0,727.5 C301.7,726.5 307.8,722.9 308.9,728.3 C310.0,733.8 307.4,753.7 306.7,760.0 C306.0,766.2 306.1,764.5 304.5,766.0 C302.9,767.4 298.1,770.9 296.9,768.5 C295.7,766.1 297.0,757.1 297.4,751.4 C297.7,745.7 298.7,738.3 299.2,734.3 C299.6,730.3 298.4,728.5 300.0,727.5 Z" fill="#b07a40"/><path d="M304.5,795.0 C305.6,793.3 313.4,795.0 315.6,796.7 C317.8,798.5 318.9,803.6 317.8,805.3 C316.7,807.0 311.1,808.7 308.9,807.0 C306.7,805.3 303.4,796.7 304.5,795.0 Z" fill="#b07a40"/><path d="M322.2,752.3 C323.6,752.3 329.3,758.0 330.2,760.0 C331.1,762.0 328.9,764.2 327.6,764.2 C326.2,764.2 323.1,762.0 322.2,760.0 C321.4,758.0 320.9,752.3 322.2,752.3 Z" fill="#b07a40"/><path d="M301.8,728.3 C304.0,726.6 311.2,726.6 314.2,728.3 C317.3,730.1 319.4,735.5 320.0,738.6 C320.6,741.7 319.7,746.9 317.8,747.1 C315.9,747.4 311.7,741.7 308.9,740.3 C306.2,738.9 302.6,740.6 301.4,738.6 C300.2,736.6 299.7,730.1 301.8,728.3 Z" fill="#e6c040"/><path d="M302.7,721.5 C303.8,720.6 307.0,720.5 308.9,721.5 C310.8,722.5 314.4,726.3 314.2,727.5 C314.1,728.6 310.0,728.5 308.0,728.3 C306.0,728.2 303.1,727.8 302.3,726.6 C301.4,725.5 301.6,722.4 302.7,721.5 Z" fill="#88d048"/><path d="M305.4,733.5 C306.6,731.5 310.8,732.3 312.5,735.2 C314.2,738.0 315.1,746.4 315.6,750.6 C316.0,754.7 316.2,758.1 315.1,760.0 C314.0,761.8 310.5,763.8 308.9,761.7 C307.3,759.5 306.0,751.9 305.4,747.1 C304.8,742.4 304.2,735.5 305.4,733.5 Z" fill="#e08040"/><path d="M312.5,734.3 C313.1,733.2 316.7,737.0 317.8,740.3 C318.9,743.6 319.4,750.9 319.1,754.0 C318.8,757.1 316.8,760.3 316.0,759.1 C315.2,758.0 314.8,751.3 314.2,747.1 C313.7,743.0 311.9,735.5 312.5,734.3 Z" fill="#c4a4e0"/><path d="M308.9,762.5 C311.0,760.1 317.9,759.4 322.2,760.0 C326.5,760.5 332.2,763.3 334.7,766.0 C337.1,768.7 338.2,773.7 336.9,776.2 C335.6,778.8 330.2,780.2 326.7,781.4 C323.1,782.5 318.4,784.2 315.6,783.1 C312.8,781.9 310.9,777.9 309.8,774.5 C308.7,771.1 306.8,765.0 308.9,762.5 Z" fill="#e070b0"/><path d="M315.6,774.5 C316.8,772.2 320.4,772.8 323.1,772.8 C325.9,772.8 330.8,773.1 332.0,774.5 C333.2,775.9 332.0,778.8 330.2,781.4 C328.5,783.9 323.7,789.0 321.4,789.9 C319.0,790.8 317.0,789.0 316.0,786.5 C315.1,783.9 314.4,776.8 315.6,774.5 Z" fill="#4870d8"/><path d="M296.9,768.5 C297.4,765.7 299.5,763.1 300.0,766.0 C300.6,768.8 300.5,782.8 300.0,785.6 C299.6,788.5 297.9,785.9 297.4,783.1 C296.9,780.2 296.5,771.4 296.9,768.5 Z" fill="#e8a090"/><path d="M299.2,766.8 C301.6,765.1 309.8,762.5 312.5,764.2 C315.1,766.0 314.8,771.9 315.1,777.1 C315.4,782.2 315.7,791.5 314.2,795.0 C312.8,798.6 309.2,799.3 306.7,798.5 C304.2,797.6 300.6,793.9 299.2,789.9 C297.7,785.9 297.8,778.4 297.8,774.5 C297.8,770.7 296.7,768.5 299.2,766.8 Z" fill="url(#spTeal)"/><path d="M333.3,760.0 C333.8,759.7 335.3,762.7 335.6,764.2 C335.8,765.8 335.1,769.1 334.7,769.4 C334.2,769.7 333.1,767.5 332.9,766.0 C332.7,764.4 332.9,760.3 333.3,760.0 Z" fill="#f0f0a0"/><path d="M303.5,721.5 C304.5,721.2 306.9,723.8 308.9,726.2 C311.0,728.6 313.4,731.1 315.8,735.8 C318.3,740.4 321.1,749.7 323.7,754.0 C326.4,758.3 329.4,758.8 331.6,761.7 C333.9,764.6 335.8,768.1 337.2,771.3 C338.6,774.4 340.2,777.6 340.0,780.8 C339.8,783.9 338.0,787.1 336.0,790.3 C334.0,793.5 331.0,797.3 328.2,799.9 C325.4,802.5 322.5,805.0 319.2,806.1 C315.9,807.3 311.5,808.0 308.5,807.0 C305.5,806.0 303.0,803.3 301.2,799.9 C299.5,796.5 298.8,790.9 297.8,786.5 C296.9,782.0 295.4,778.1 295.6,773.1 C295.8,768.2 298.1,762.0 299.0,756.9 C300.0,751.8 300.7,747.2 301.2,742.4 C301.8,737.7 302.0,731.7 302.4,728.2 C302.8,724.7 302.4,721.8 303.5,721.5 Z" fill="url(#spGray)"/><path d="M285,768 Q290,770 291.5,778 Q291,788 287,787 Q284,779 285,768 Z" fill="#f0f0a8"/><rect x="57.5" y="823.9" width="8.4" height="8.4" fill="#2a8080" transform="rotate(-15 61.7 828.1)"/><rect x="61.3" y="831.5" width="8.4" height="8.4" fill="#f0a090" transform="rotate(-15 65.5 835.7)"/><text x="67.5" y="827.5" font-size="6.6" transform="rotate(-30 67.5 827.5)">Module_1</text><text x="71.5" y="835.3" font-size="6.6" transform="rotate(-30 71.5 835.3)">Module_2</text><rect x="110.0" y="823.9" width="8.4" height="8.4" fill="#e050a0" transform="rotate(-15 114.2 828.1)"/><rect x="113.8" y="831.5" width="8.4" height="8.4" fill="#7a4010" transform="rotate(-15 118.0 835.7)"/><text x="120.0" y="827.5" font-size="6.6" transform="rotate(-30 120.0 827.5)">Module_3</text><text x="124.0" y="835.3" font-size="6.6" transform="rotate(-30 124.0 835.3)">Module_4</text><rect x="158.6" y="824.7" width="8.4" height="8.4" fill="#2040d0" transform="rotate(-15 162.8 828.9)"/><rect x="162.4" y="832.3" width="8.4" height="8.4" fill="#a09090" transform="rotate(-15 166.6 836.5)"/><text x="168.6" y="828.3" font-size="6.6" transform="rotate(-30 168.6 828.3)">Module_5</text><text x="172.6" y="836.1" font-size="6.6" transform="rotate(-30 172.6 836.1)">Module_6</text><rect x="208.6" y="824.7" width="8.4" height="8.4" fill="#80d030" transform="rotate(-15 212.8 828.9)"/><rect x="212.4" y="832.3" width="8.4" height="8.4" fill="#e8b030" transform="rotate(-15 216.6 836.5)"/><text x="218.6" y="828.3" font-size="6.6" transform="rotate(-30 218.6 828.3)">Module_7</text><text x="222.6" y="836.1" font-size="6.6" transform="rotate(-30 222.6 836.1)">Module_8</text><rect x="257.2" y="824.7" width="8.4" height="8.4" fill="#c090e0" transform="rotate(-15 261.4 828.9)"/><rect x="261.0" y="832.3" width="8.4" height="8.4" fill="#d85020" transform="rotate(-15 265.2 836.5)"/><text x="267.2" y="828.3" font-size="6.6" transform="rotate(-30 267.2 828.3)">Module_9</text><text x="271.2" y="836.1" font-size="6.6" transform="rotate(-30 271.2 836.1)">Module_10</text><rect x="316.3" y="824.7" width="8.4" height="8.4" fill="#6a7a6a" transform="rotate(-15 320.5 828.9)"/><rect x="320.1" y="832.3" width="8.4" height="8.4" fill="#f0f8b0" transform="rotate(-15 324.3 836.5)"/><text x="326.3" y="828.3" font-size="6.6" transform="rotate(-30 326.3 828.3)">Module_11</text><text x="330.3" y="836.1" font-size="6.6" transform="rotate(-30 330.3 836.1)">Module_12</text><text x="45.9" y="594.0" font-size="11.7" transform="rotate(-26.57 45.9 594.0)">P1</text><text x="93.4" y="593.5" font-size="11.7" transform="rotate(-26.57 93.4 593.5)">P7</text><text x="140.9" y="592.5" font-size="11.7" transform="rotate(-26.57 140.9 592.5)">P14</text><text x="192.4" y="595.0" font-size="11.7" transform="rotate(-26.57 192.4 595.0)">P45</text><text x="236.9" y="593.5" font-size="11.7" transform="rotate(-26.57 236.9 593.5)">Vglut3<tspan font-size="7" dy="-4.5">-/-</tspan></text><text x="289.4" y="593.5" font-size="11.7" transform="rotate(-26.57 289.4 593.5)">Vglut3<tspan font-size="7" dy="-4.5">-/-</tspan><tspan dy="4.5">+GT</tspan></text><text x="334.6" y="708.4" font-size="12.0">500μm</text><line x1="342.00" y1="714.00" x2="362.00" y2="714.00" stroke="#000" stroke-width="1.6"/><text x="10.9" y="645.5" font-size="8.1" text-anchor="middle" transform="rotate(-90 10.9 645.5)">Composite map of</text><text x="19.6" y="642.9" font-size="8.1" text-anchor="middle" transform="rotate(-90 19.6 642.9)">Stereo-seq defined CN cell types</text><text x="10.8" y="778.8" font-size="8.1" text-anchor="middle" transform="rotate(-90 10.8 778.8)">Spatial modules of</text><text x="19.7" y="778.5" font-size="8.1" text-anchor="middle" transform="rotate(-90 19.7 778.5)">Stereo-seq defined CN cell types</text><text x="3.0" y="873.6" font-size="14.5" font-weight="bold">f</text><text x="93.3" y="866.4" font-size="10.9">Cell type composition of each spatial module</text><text x="87.8" y="877.0" font-size="9.8" text-anchor="middle">P1</text><text x="136.1" y="877.0" font-size="9.8" text-anchor="middle">P7</text><text x="184.4" y="877.0" font-size="9.8" text-anchor="middle">P14</text><text x="233.2" y="877.0" font-size="9.8" text-anchor="middle">P45</text><text x="282.0" y="877.0" font-size="9.8" text-anchor="middle"><tspan font-style="italic">Vglut3</tspan><tspan font-size="6" dy="-4">-/-</tspan></text><text x="332.5" y="877.0" font-size="9.8" text-anchor="middle"><tspan font-style="italic">Vglut3</tspan><tspan font-size="6" dy="-4">-/-</tspan><tspan dy="4"> +GT</tspan></text><text x="13.0" y="907.0" font-size="11">Module_1</text><path d="M87.80,902.80 L87.80,879.70 A23.1,23.1 0 0 1 88.61,879.71 Z" fill="#602030"/><path d="M87.80,902.80 L88.61,879.71 A23.1,23.1 0 0 1 89.01,879.73 Z" fill="#c4b95c"/><path d="M87.80,902.80 L89.01,879.73 A23.1,23.1 0 0 1 91.01,879.92 Z" fill="#e8e858"/><path d="M87.80,902.80 L91.01,879.92 A23.1,23.1 0 0 1 91.41,879.98 Z" fill="#c4b95c"/><path d="M87.80,902.80 L91.41,879.98 A23.1,23.1 0 0 1 93.39,880.39 Z" fill="#b0f2f8"/><path d="M87.80,902.80 L93.39,880.39 A23.1,23.1 0 0 1 94.17,880.59 Z" fill="#f0b080"/><path d="M87.80,902.80 L94.17,880.59 A23.1,23.1 0 0 1 108.00,891.60 Z" fill="#68ee44"/><path d="M87.80,902.80 L108.00,891.60 A23.1,23.1 0 0 1 108.56,892.67 Z" fill="#b020f0"/><path d="M87.80,902.80 L108.56,892.67 A23.1,23.1 0 0 1 109.89,896.05 Z" fill="#c8b860"/><path d="M87.80,902.80 L109.89,896.05 A23.1,23.1 0 0 1 110.68,906.01 Z" fill="#b46828"/><path d="M87.80,902.80 L110.68,906.01 A23.1,23.1 0 0 1 94.55,924.89 Z" fill="#4896c4"/><path d="M87.80,902.80 L94.55,924.89 A23.1,23.1 0 0 1 84.59,925.68 Z" fill="#d8f2c0"/><path d="M87.80,902.80 L84.59,925.68 A23.1,23.1 0 0 1 65.96,910.32 Z" fill="#f49ad8"/><path d="M87.80,902.80 L65.96,910.32 A23.1,23.1 0 0 1 87.80,879.70 Z" fill="#c4b95c"/><path d="M136.10,902.80 L136.10,879.70 A23.1,23.1 0 0 1 136.91,879.71 Z" fill="#602030"/><path d="M136.10,902.80 L136.91,879.71 A23.1,23.1 0 0 1 138.11,879.79 Z" fill="#f49ad8"/><path d="M136.10,902.80 L138.11,879.79 A23.1,23.1 0 0 1 139.31,879.92 Z" fill="#e8e858"/><path d="M136.10,902.80 L139.31,879.92 A23.1,23.1 0 0 1 140.90,880.20 Z" fill="#b0f2f8"/><path d="M136.10,902.80 L140.90,880.20 A23.1,23.1 0 0 1 144.00,881.09 Z" fill="#4896c4"/><path d="M136.10,902.80 L144.00,881.09 A23.1,23.1 0 0 1 151.56,885.63 Z" fill="#b0f2f8"/><path d="M136.10,902.80 L151.56,885.63 A23.1,23.1 0 0 1 153.27,887.34 Z" fill="#f0b080"/><path d="M136.10,902.80 L153.27,887.34 A23.1,23.1 0 0 1 158.07,895.66 Z" fill="#68ee44"/><path d="M136.10,902.80 L158.07,895.66 A23.1,23.1 0 0 1 158.85,898.79 Z" fill="#b020f0"/><path d="M136.10,902.80 L158.85,898.79 A23.1,23.1 0 0 1 159.07,905.21 Z" fill="#c8b860"/><path d="M136.10,902.80 L159.07,905.21 A23.1,23.1 0 0 1 151.56,919.97 Z" fill="#b46828"/><path d="M136.10,902.80 L151.56,919.97 A23.1,23.1 0 0 1 139.31,925.68 Z" fill="#4896c4"/><path d="M136.10,902.80 L139.31,925.68 A23.1,23.1 0 0 1 128.96,924.77 Z" fill="#d8f2c0"/><path d="M136.10,902.80 L128.96,924.77 A23.1,23.1 0 0 1 113.01,903.61 Z" fill="#f49ad8"/><path d="M136.10,902.80 L113.01,903.61 A23.1,23.1 0 0 1 136.10,879.70 Z" fill="#c4b95c"/><path d="M184.40,902.80 L184.40,879.70 A23.1,23.1 0 0 1 185.21,879.71 Z" fill="#602030"/><path d="M184.40,902.80 L185.21,879.71 A23.1,23.1 0 0 1 186.41,879.79 Z" fill="#e8e858"/><path d="M184.40,902.80 L186.41,879.79 A23.1,23.1 0 0 1 188.01,879.98 Z" fill="#b46828"/><path d="M184.40,902.80 L188.01,879.98 A23.1,23.1 0 0 1 190.38,880.49 Z" fill="#e8e858"/><path d="M184.40,902.80 L190.38,880.49 A23.1,23.1 0 0 1 199.86,885.63 Z" fill="#b0f2f8"/><path d="M184.40,902.80 L199.86,885.63 A23.1,23.1 0 0 1 202.10,887.95 Z" fill="#f0b080"/><path d="M184.40,902.80 L202.10,887.95 A23.1,23.1 0 0 1 203.99,890.56 Z" fill="#b020f0"/><path d="M184.40,902.80 L203.99,890.56 A23.1,23.1 0 0 1 207.15,898.79 Z" fill="#c8b860"/><path d="M184.40,902.80 L207.15,898.79 A23.1,23.1 0 0 1 203.32,916.05 Z" fill="#b46828"/><path d="M184.40,902.80 L203.32,916.05 A23.1,23.1 0 0 1 189.20,925.40 Z" fill="#4896c4"/><path d="M184.40,902.80 L189.20,925.40 A23.1,23.1 0 0 1 166.20,917.02 Z" fill="#d8f2c0"/><path d="M184.40,902.80 L166.20,917.02 A23.1,23.1 0 0 1 164.00,891.96 Z" fill="#f49ad8"/><path d="M184.40,902.80 L164.00,891.96 A23.1,23.1 0 0 1 184.40,879.70 Z" fill="#c4b95c"/><path d="M232.70,902.80 L232.70,879.70 A23.1,23.1 0 0 1 233.91,879.73 Z" fill="#602030"/><path d="M232.70,902.80 L233.91,879.73 A23.1,23.1 0 0 1 235.11,879.83 Z" fill="#4896c4"/><path d="M232.70,902.80 L235.11,879.83 A23.1,23.1 0 0 1 236.71,880.05 Z" fill="#b0f2f8"/><path d="M232.70,902.80 L236.71,880.05 A23.1,23.1 0 0 1 238.29,880.39 Z" fill="#e8e858"/><path d="M232.70,902.80 L238.29,880.39 A23.1,23.1 0 0 1 239.84,880.83 Z" fill="#b0f2f8"/><path d="M232.70,902.80 L239.84,880.83 A23.1,23.1 0 0 1 242.10,881.70 Z" fill="#68ee44"/><path d="M232.70,902.80 L242.10,881.70 A23.1,23.1 0 0 1 244.25,882.79 Z" fill="#b020f0"/><path d="M232.70,902.80 L244.25,882.79 A23.1,23.1 0 0 1 253.80,893.40 Z" fill="#c8b860"/><path d="M232.70,902.80 L253.80,893.40 A23.1,23.1 0 0 1 254.41,910.70 Z" fill="#b46828"/><path d="M232.70,902.80 L254.41,910.70 A23.1,23.1 0 0 1 244.25,922.81 Z" fill="#4896c4"/><path d="M232.70,902.80 L244.25,922.81 A23.1,23.1 0 0 1 220.12,922.17 Z" fill="#d8f2c0"/><path d="M232.70,902.80 L220.12,922.17 A23.1,23.1 0 0 1 210.19,897.60 Z" fill="#f49ad8"/><path d="M232.70,902.80 L210.19,897.60 A23.1,23.1 0 0 1 232.70,879.70 Z" fill="#c4b95c"/><path d="M281.00,902.80 L281.00,879.70 A23.1,23.1 0 0 1 282.21,879.73 Z" fill="#e8e858"/><path d="M281.00,902.80 L282.21,879.73 A23.1,23.1 0 0 1 283.82,879.87 Z" fill="#f0b080"/><path d="M281.00,902.80 L283.82,879.87 A23.1,23.1 0 0 1 285.80,880.20 Z" fill="#b0f2f8"/><path d="M281.00,902.80 L285.80,880.20 A23.1,23.1 0 0 1 288.90,881.09 Z" fill="#b0f2f8"/><path d="M281.00,902.80 L288.90,881.09 A23.1,23.1 0 0 1 291.13,882.04 Z" fill="#b020f0"/><path d="M281.00,902.80 L291.13,882.04 A23.1,23.1 0 0 1 295.22,884.60 Z" fill="#c8b860"/><path d="M281.00,902.80 L295.22,884.60 A23.1,23.1 0 0 1 303.31,896.82 Z" fill="#b46828"/><path d="M281.00,902.80 L303.31,896.82 A23.1,23.1 0 0 1 297.33,919.13 Z" fill="#4896c4"/><path d="M281.00,902.80 L297.33,919.13 A23.1,23.1 0 0 1 276.99,925.55 Z" fill="#d8f2c0"/><path d="M281.00,902.80 L276.99,925.55 A23.1,23.1 0 0 1 257.99,904.81 Z" fill="#f49ad8"/><path d="M281.00,902.80 L257.99,904.81 A23.1,23.1 0 0 1 281.00,879.70 Z" fill="#c4b95c"/><path d="M329.30,902.80 L329.30,879.70 A23.1,23.1 0 0 1 330.51,879.73 Z" fill="#602030"/><path d="M329.30,902.80 L330.51,879.73 A23.1,23.1 0 0 1 332.51,879.92 Z" fill="#e8e858"/><path d="M329.30,902.80 L332.51,879.92 A23.1,23.1 0 0 1 334.50,880.29 Z" fill="#b0f2f8"/><path d="M329.30,902.80 L334.50,880.29 A23.1,23.1 0 0 1 336.44,880.83 Z" fill="#f0b080"/><path d="M329.30,902.80 L336.44,880.83 A23.1,23.1 0 0 1 338.70,881.70 Z" fill="#b020f0"/><path d="M329.30,902.80 L338.70,881.70 A23.1,23.1 0 0 1 340.85,882.79 Z" fill="#c8b860"/><path d="M329.30,902.80 L340.85,882.79 A23.1,23.1 0 0 1 352.31,900.79 Z" fill="#b46828"/><path d="M329.30,902.80 L352.31,900.79 A23.1,23.1 0 0 1 348.22,916.05 Z" fill="#4896c4"/><path d="M329.30,902.80 L348.22,916.05 A23.1,23.1 0 0 1 323.32,925.11 Z" fill="#d8f2c0"/><path d="M329.30,902.80 L323.32,925.11 A23.1,23.1 0 0 1 306.29,900.79 Z" fill="#f49ad8"/><path d="M329.30,902.80 L306.29,900.79 A23.1,23.1 0 0 1 329.30,879.70 Z" fill="#c4b95c"/><text x="13.0" y="957.6" font-size="11">Module_3</text><path d="M87.80,953.40 L87.80,930.30 A23.1,23.1 0 0 1 89.41,930.36 Z" fill="#b0f2f8"/><path d="M87.80,953.40 L89.41,930.36 A23.1,23.1 0 0 1 90.21,930.43 Z" fill="#4896c4"/><path d="M87.80,953.40 L90.21,930.43 A23.1,23.1 0 0 1 91.81,930.65 Z" fill="#602030"/><path d="M87.80,953.40 L91.81,930.65 A23.1,23.1 0 0 1 106.72,940.15 Z" fill="#68ee44"/><path d="M87.80,953.40 L106.72,940.15 A23.1,23.1 0 0 1 107.39,941.16 Z" fill="#b020f0"/><path d="M87.80,953.40 L107.39,941.16 A23.1,23.1 0 0 1 108.00,942.20 Z" fill="#f0b080"/><path d="M87.80,953.40 L108.00,942.20 A23.1,23.1 0 0 1 110.40,948.60 Z" fill="#e8e858"/><path d="M87.80,953.40 L110.40,948.60 A23.1,23.1 0 0 1 107.81,964.95 Z" fill="#f49ad8"/><path d="M87.80,953.40 L107.81,964.95 A23.1,23.1 0 0 1 102.65,971.10 Z" fill="#c8b860"/><path d="M87.80,953.40 L102.65,971.10 A23.1,23.1 0 0 1 85.39,976.37 Z" fill="#b46828"/><path d="M87.80,953.40 L85.39,976.37 A23.1,23.1 0 0 1 66.09,961.30 Z" fill="#c4b95c"/><path d="M87.80,953.40 L66.09,961.30 A23.1,23.1 0 0 1 65.29,948.20 Z" fill="#d8f2c0"/><path d="M87.80,953.40 L65.29,948.20 A23.1,23.1 0 0 1 87.80,930.30 Z" fill="#4896c4"/><path d="M136.10,953.40 L136.10,930.30 A23.1,23.1 0 0 1 138.11,930.39 Z" fill="#f49ad8"/><path d="M136.10,953.40 L138.11,930.39 A23.1,23.1 0 0 1 140.11,930.65 Z" fill="#68ee44"/><path d="M136.10,953.40 L140.11,930.65 A23.1,23.1 0 0 1 142.08,931.09 Z" fill="#b020f0"/><path d="M136.10,953.40 L142.08,931.09 A23.1,23.1 0 0 1 149.35,934.48 Z" fill="#b0f2f8"/><path d="M136.10,953.40 L149.35,934.48 A23.1,23.1 0 0 1 153.27,937.94 Z" fill="#f0b080"/><path d="M136.10,953.40 L153.27,937.94 A23.1,23.1 0 0 1 156.11,941.85 Z" fill="#e8e858"/><path d="M136.10,953.40 L156.11,941.85 A23.1,23.1 0 0 1 159.11,951.39 Z" fill="#f49ad8"/><path d="M136.10,953.40 L159.11,951.39 A23.1,23.1 0 0 1 157.81,961.30 Z" fill="#c8b860"/><path d="M136.10,953.40 L157.81,961.30 A23.1,23.1 0 0 1 147.65,973.41 Z" fill="#b46828"/><path d="M136.10,953.40 L147.65,973.41 A23.1,23.1 0 0 1 124.55,973.41 Z" fill="#c4b95c"/><path d="M136.10,953.40 L124.55,973.41 A23.1,23.1 0 0 1 114.39,961.30 Z" fill="#d8f2c0"/><path d="M136.10,953.40 L114.39,961.30 A23.1,23.1 0 0 1 136.10,930.30 Z" fill="#4896c4"/><path d="M184.40,953.40 L184.40,930.30 A23.1,23.1 0 0 1 186.01,930.36 Z" fill="#f49ad8"/><path d="M184.40,953.40 L186.01,930.36 A23.1,23.1 0 0 1 188.01,930.58 Z" fill="#b020f0"/><path d="M184.40,953.40 L188.01,930.58 A23.1,23.1 0 0 1 189.99,930.99 Z" fill="#b46828"/><path d="M184.40,953.40 L189.99,930.99 A23.1,23.1 0 0 1 199.25,935.70 Z" fill="#b0f2f8"/><path d="M184.40,953.40 L199.25,935.70 A23.1,23.1 0 0 1 203.32,940.15 Z" fill="#f0b080"/><path d="M184.40,953.40 L203.32,940.15 A23.1,23.1 0 0 1 206.11,945.50 Z" fill="#e8e858"/><path d="M184.40,953.40 L206.11,945.50 A23.1,23.1 0 0 1 207.28,950.19 Z" fill="#f49ad8"/><path d="M184.40,953.40 L207.28,950.19 A23.1,23.1 0 0 1 206.71,959.38 Z" fill="#c8b860"/><path d="M184.40,953.40 L206.71,959.38 A23.1,23.1 0 0 1 195.95,973.41 Z" fill="#b46828"/><path d="M184.40,953.40 L195.95,973.41 A23.1,23.1 0 0 1 176.50,975.11 Z" fill="#c4b95c"/><path d="M184.40,953.40 L176.50,975.11 A23.1,23.1 0 0 1 161.30,953.40 Z" fill="#d8f2c0"/><path d="M184.40,953.40 L161.30,953.40 A23.1,23.1 0 0 1 184.40,930.30 Z" fill="#4896c4"/><path d="M232.70,953.40 L232.70,930.30 A23.1,23.1 0 0 1 234.31,930.36 Z" fill="#4896c4"/><path d="M232.70,953.40 L234.31,930.36 A23.1,23.1 0 0 1 235.91,930.52 Z" fill="#b020f0"/><path d="M232.70,953.40 L235.91,930.52 A23.1,23.1 0 0 1 237.50,930.80 Z" fill="#f49ad8"/><path d="M232.70,953.40 L237.50,930.80 A23.1,23.1 0 0 1 240.60,931.69 Z" fill="#b0f2f8"/><path d="M232.70,953.40 L240.60,931.69 A23.1,23.1 0 0 1 245.95,934.48 Z" fill="#f0b080"/><path d="M232.70,953.40 L245.95,934.48 A23.1,23.1 0 0 1 250.40,938.55 Z" fill="#e8e858"/><path d="M232.70,953.40 L250.40,938.55 A23.1,23.1 0 0 1 254.41,945.50 Z" fill="#f49ad8"/><path d="M232.70,953.40 L254.41,945.50 A23.1,23.1 0 0 1 255.71,955.41 Z" fill="#c8b860"/><path d="M232.70,953.40 L255.71,955.41 A23.1,23.1 0 0 1 249.03,969.73 Z" fill="#b46828"/><path d="M232.70,953.40 L249.03,969.73 A23.1,23.1 0 0 1 232.70,976.50 Z" fill="#c4b95c"/><path d="M232.70,953.40 L232.70,976.50 A23.1,23.1 0 0 1 209.69,955.41 Z" fill="#d8f2c0"/><path d="M232.70,953.40 L209.69,955.41 A23.1,23.1 0 0 1 232.70,930.30 Z" fill="#4896c4"/><path d="M281.00,953.40 L281.00,930.30 A23.1,23.1 0 0 1 283.01,930.39 Z" fill="#b020f0"/><path d="M281.00,953.40 L283.01,930.39 A23.1,23.1 0 0 1 285.01,930.65 Z" fill="#b46828"/><path d="M281.00,953.40 L285.01,930.65 A23.1,23.1 0 0 1 288.90,931.69 Z" fill="#b0f2f8"/><path d="M281.00,953.40 L288.90,931.69 A23.1,23.1 0 0 1 292.55,933.39 Z" fill="#b0f2f8"/><path d="M281.00,953.40 L292.55,933.39 A23.1,23.1 0 0 1 297.33,937.07 Z" fill="#e8e858"/><path d="M281.00,953.40 L297.33,937.07 A23.1,23.1 0 0 1 299.92,940.15 Z" fill="#f49ad8"/><path d="M281.00,953.40 L299.92,940.15 A23.1,23.1 0 0 1 302.71,945.50 Z" fill="#c8b860"/><path d="M281.00,953.40 L302.71,945.50 A23.1,23.1 0 0 1 303.31,959.38 Z" fill="#b46828"/><path d="M281.00,953.40 L303.31,959.38 A23.1,23.1 0 0 1 292.55,973.41 Z" fill="#c4b95c"/><path d="M281.00,953.40 L292.55,973.41 A23.1,23.1 0 0 1 262.08,966.65 Z" fill="#d8f2c0"/><path d="M281.00,953.40 L262.08,966.65 A23.1,23.1 0 0 1 281.00,930.30 Z" fill="#4896c4"/><path d="M329.30,953.40 L329.30,930.30 A23.1,23.1 0 0 1 330.91,930.36 Z" fill="#b020f0"/><path d="M329.30,953.40 L330.91,930.36 A23.1,23.1 0 0 1 332.51,930.52 Z" fill="#b46828"/><path d="M329.30,953.40 L332.51,930.52 A23.1,23.1 0 0 1 335.28,931.09 Z" fill="#b0f2f8"/><path d="M329.30,953.40 L335.28,931.09 A23.1,23.1 0 0 1 340.85,933.39 Z" fill="#f0b080"/><path d="M329.30,953.40 L340.85,933.39 A23.1,23.1 0 0 1 347.00,938.55 Z" fill="#e8e858"/><path d="M329.30,953.40 L347.00,938.55 A23.1,23.1 0 0 1 349.31,941.85 Z" fill="#f49ad8"/><path d="M329.30,953.40 L349.31,941.85 A23.1,23.1 0 0 1 351.61,947.42 Z" fill="#c8b860"/><path d="M329.30,953.40 L351.61,947.42 A23.1,23.1 0 0 1 349.31,964.95 Z" fill="#b46828"/><path d="M329.30,953.40 L349.31,964.95 A23.1,23.1 0 0 1 335.28,975.71 Z" fill="#c4b95c"/><path d="M329.30,953.40 L335.28,975.71 A23.1,23.1 0 0 1 307.59,961.30 Z" fill="#d8f2c0"/><path d="M329.30,953.40 L307.59,961.30 A23.1,23.1 0 0 1 329.30,930.30 Z" fill="#4896c4"/><text x="13.0" y="1008.7" font-size="11">Module_9</text><path d="M87.80,1004.50 L87.80,981.40 A23.1,23.1 0 0 1 88.40,981.41 Z" fill="#f49ad8"/><path d="M87.80,1004.50 L88.40,981.41 A23.1,23.1 0 0 1 89.01,981.43 Z" fill="#602030"/><path d="M87.80,1004.50 L89.01,981.43 A23.1,23.1 0 0 1 91.01,981.62 Z" fill="#70f0d8"/><path d="M87.80,1004.50 L91.01,981.62 A23.1,23.1 0 0 1 93.39,982.09 Z" fill="#e8e858"/><path d="M87.80,1004.50 L93.39,982.09 A23.1,23.1 0 0 1 94.55,982.41 Z" fill="#b0f2f8"/><path d="M87.80,1004.50 L94.55,982.41 A23.1,23.1 0 0 1 100.38,985.13 Z" fill="#c8b860"/><path d="M87.80,1004.50 L100.38,985.13 A23.1,23.1 0 0 1 103.55,987.61 Z" fill="#70f0d8"/><path d="M87.80,1004.50 L103.55,987.61 A23.1,23.1 0 0 1 110.21,998.91 Z" fill="#b46828"/><path d="M87.80,1004.50 L110.21,998.91 A23.1,23.1 0 0 1 110.81,1006.51 Z" fill="#b020f0"/><path d="M87.80,1004.50 L110.81,1006.51 A23.1,23.1 0 0 1 107.17,1017.08 Z" fill="#d8f2c0"/><path d="M87.80,1004.50 L107.17,1017.08 A23.1,23.1 0 0 1 66.09,1012.40 Z" fill="#f85428"/><path d="M87.80,1004.50 L66.09,1012.40 A23.1,23.1 0 0 1 87.80,981.40 Z" fill="#68ee44"/><path d="M136.10,1004.50 L136.10,981.40 A23.1,23.1 0 0 1 137.31,981.43 Z" fill="#602030"/><path d="M136.10,1004.50 L137.31,981.43 A23.1,23.1 0 0 1 139.31,981.62 Z" fill="#f49ad8"/><path d="M136.10,1004.50 L139.31,981.62 A23.1,23.1 0 0 1 141.69,982.09 Z" fill="#e8e858"/><path d="M136.10,1004.50 L141.69,982.09 A23.1,23.1 0 0 1 144.00,982.79 Z" fill="#b0f2f8"/><path d="M136.10,1004.50 L144.00,982.79 A23.1,23.1 0 0 1 152.15,987.88 Z" fill="#c8b860"/><path d="M136.10,1004.50 L152.15,987.88 A23.1,23.1 0 0 1 156.11,992.95 Z" fill="#70f0d8"/><path d="M136.10,1004.50 L156.11,992.95 A23.1,23.1 0 0 1 159.11,1006.51 Z" fill="#60d0f8"/><path d="M136.10,1004.50 L159.11,1006.51 A23.1,23.1 0 0 1 157.81,1012.40 Z" fill="#b46828"/><path d="M136.10,1004.50 L157.81,1012.40 A23.1,23.1 0 0 1 142.08,1026.81 Z" fill="#b020f0"/><path d="M136.10,1004.50 L142.08,1026.81 A23.1,23.1 0 0 1 132.09,1027.25 Z" fill="#d8f2c0"/><path d="M136.10,1004.50 L132.09,1027.25 A23.1,23.1 0 0 1 113.09,1006.51 Z" fill="#f85428"/><path d="M136.10,1004.50 L113.09,1006.51 A23.1,23.1 0 0 1 136.10,981.40 Z" fill="#68ee44"/><path d="M184.40,1004.50 L184.40,981.40 A23.1,23.1 0 0 1 186.01,981.46 Z" fill="#f49ad8"/><path d="M184.40,1004.50 L186.01,981.46 A23.1,23.1 0 0 1 188.01,981.68 Z" fill="#e8e858"/><path d="M184.40,1004.50 L188.01,981.68 A23.1,23.1 0 0 1 190.38,982.19 Z" fill="#b0f2f8"/><path d="M184.40,1004.50 L190.38,982.19 A23.1,23.1 0 0 1 194.16,983.56 Z" fill="#f0b080"/><path d="M184.40,1004.50 L194.16,983.56 A23.1,23.1 0 0 1 199.25,986.80 Z" fill="#c8b860"/><path d="M184.40,1004.50 L199.25,986.80 A23.1,23.1 0 0 1 205.34,994.74 Z" fill="#70f0d8"/><path d="M184.40,1004.50 L205.34,994.74 A23.1,23.1 0 0 1 206.71,998.52 Z" fill="#60d0f8"/><path d="M184.40,1004.50 L206.71,998.52 A23.1,23.1 0 0 1 207.50,1004.50 Z" fill="#b46828"/><path d="M184.40,1004.50 L207.50,1004.50 A23.1,23.1 0 0 1 207.15,1008.51 Z" fill="#b020f0"/><path d="M184.40,1004.50 L207.15,1008.51 A23.1,23.1 0 0 1 197.65,1023.42 Z" fill="#d8f2c0"/><path d="M184.40,1004.50 L197.65,1023.42 A23.1,23.1 0 0 1 163.46,1014.26 Z" fill="#f85428"/><path d="M184.40,1004.50 L163.46,1014.26 A23.1,23.1 0 0 1 184.40,981.40 Z" fill="#68ee44"/><path d="M232.70,1004.50 L232.70,981.40 A23.1,23.1 0 0 1 234.31,981.46 Z" fill="#f49ad8"/><path d="M232.70,1004.50 L234.31,981.46 A23.1,23.1 0 0 1 236.31,981.68 Z" fill="#e8e858"/><path d="M232.70,1004.50 L236.31,981.68 A23.1,23.1 0 0 1 238.68,982.19 Z" fill="#b0f2f8"/><path d="M232.70,1004.50 L238.68,982.19 A23.1,23.1 0 0 1 240.60,982.79 Z" fill="#f0b080"/><path d="M232.70,1004.50 L240.60,982.79 A23.1,23.1 0 0 1 245.95,985.58 Z" fill="#c8b860"/><path d="M232.70,1004.50 L245.95,985.58 A23.1,23.1 0 0 1 250.40,989.65 Z" fill="#70f0d8"/><path d="M232.70,1004.50 L250.40,989.65 A23.1,23.1 0 0 1 253.64,994.74 Z" fill="#60d0f8"/><path d="M232.70,1004.50 L253.64,994.74 A23.1,23.1 0 0 1 255.45,1000.49 Z" fill="#b46828"/><path d="M232.70,1004.50 L255.45,1000.49 A23.1,23.1 0 0 1 255.45,1008.51 Z" fill="#b020f0"/><path d="M232.70,1004.50 L255.45,1008.51 A23.1,23.1 0 0 1 245.95,1023.42 Z" fill="#d8f2c0"/><path d="M232.70,1004.50 L245.95,1023.42 A23.1,23.1 0 0 1 210.99,1012.40 Z" fill="#f85428"/><path d="M232.70,1004.50 L210.99,1012.40 A23.1,23.1 0 0 1 232.70,981.40 Z" fill="#68ee44"/><path d="M281.00,1004.50 L281.00,981.40 A23.1,23.1 0 0 1 282.61,981.46 Z" fill="#f49ad8"/><path d="M281.00,1004.50 L282.61,981.46 A23.1,23.1 0 0 1 284.21,981.62 Z" fill="#e8e858"/><path d="M281.00,1004.50 L284.21,981.62 A23.1,23.1 0 0 1 286.59,982.09 Z" fill="#f0b080"/><path d="M281.00,1004.50 L286.59,982.09 A23.1,23.1 0 0 1 288.90,982.79 Z" fill="#b0f2f8"/><path d="M281.00,1004.50 L288.90,982.79 A23.1,23.1 0 0 1 297.33,988.17 Z" fill="#70f0d8"/><path d="M281.00,1004.50 L297.33,988.17 A23.1,23.1 0 0 1 301.94,994.74 Z" fill="#b46828"/><path d="M281.00,1004.50 L301.94,994.74 A23.1,23.1 0 0 1 303.31,998.52 Z" fill="#b020f0"/><path d="M281.00,1004.50 L303.31,998.52 A23.1,23.1 0 0 1 301.94,1014.26 Z" fill="#d8f2c0"/><path d="M281.00,1004.50 L301.94,1014.26 A23.1,23.1 0 0 1 269.45,1024.51 Z" fill="#f85428"/><path d="M281.00,1004.50 L269.45,1024.51 A23.1,23.1 0 0 1 281.00,981.40 Z" fill="#68ee44"/><path d="M329.30,1004.50 L329.30,981.40 A23.1,23.1 0 0 1 330.51,981.43 Z" fill="#602030"/><path d="M329.30,1004.50 L330.51,981.43 A23.1,23.1 0 0 1 332.12,981.57 Z" fill="#e8e858"/><path d="M329.30,1004.50 L332.12,981.57 A23.1,23.1 0 0 1 334.10,981.90 Z" fill="#f0b080"/><path d="M329.30,1004.50 L334.10,981.90 A23.1,23.1 0 0 1 336.05,982.41 Z" fill="#b0f2f8"/><path d="M329.30,1004.50 L336.05,982.41 A23.1,23.1 0 0 1 345.63,988.17 Z" fill="#70f0d8"/><path d="M329.30,1004.50 L345.63,988.17 A23.1,23.1 0 0 1 349.31,992.95 Z" fill="#b46828"/><path d="M329.30,1004.50 L349.31,992.95 A23.1,23.1 0 0 1 351.01,996.60 Z" fill="#b020f0"/><path d="M329.30,1004.50 L351.01,996.60 A23.1,23.1 0 0 1 350.24,1014.26 Z" fill="#d8f2c0"/><path d="M329.30,1004.50 L350.24,1014.26 A23.1,23.1 0 0 1 317.75,1024.51 Z" fill="#f85428"/><path d="M329.30,1004.50 L317.75,1024.51 A23.1,23.1 0 0 1 329.30,981.40 Z" fill="#68ee44"/><text x="361.5" y="570.3" font-size="14.5" font-weight="bold">g</text><rect x="413.30" y="558.50" width="9.30" height="9.30" fill="#3a8587"/><text x="425.4" y="566.2" font-size="8.3">to other</text><rect x="457.00" y="558.50" width="9.30" height="9.30" fill="#f47620"/><text x="468.6" y="566.2" font-size="8.3">to self</text><text x="502.5" y="566.2" font-size="8.0">|log<tspan font-size="5.5" dy="2">2</tspan><tspan dy="-2">(fold change)| &gt; 0.25; FDR &lt; 0.05</tspan></text><rect x="408.20" y="572.20" width="233.30" height="29.20" fill="#dedede" stroke="#3a3a3a" stroke-width="0.9"/><line x1="419.87" y1="572.70" x2="419.87" y2="600.90" stroke="#f0f0f0" stroke-width="0.7"/><line x1="466.52" y1="572.70" x2="466.52" y2="600.90" stroke="#f0f0f0" stroke-width="0.7"/><line x1="501.52" y1="572.70" x2="501.52" y2="600.90" stroke="#f0f0f0" stroke-width="0.7"/><line x1="548.18" y1="572.70" x2="548.18" y2="600.90" stroke="#f0f0f0" stroke-width="0.7"/><line x1="571.51" y1="572.70" x2="571.51" y2="600.90" stroke="#f0f0f0" stroke-width="0.7"/><line x1="594.84" y1="572.70" x2="594.84" y2="600.90" stroke="#f0f0f0" stroke-width="0.7"/><line x1="606.50" y1="572.70" x2="606.50" y2="600.90" stroke="#f0f0f0" stroke-width="0.7"/><text x="404.8" y="575.8" font-size="5.7" fill="#333" text-anchor="end">2000</text><text x="404.8" y="600.6" font-size="5.7" fill="#333" text-anchor="end">0</text><line x1="406.60" y1="573.80" x2="408.00" y2="573.80" stroke="#333" stroke-width="0.5"/><line x1="406.60" y1="598.80" x2="408.00" y2="598.80" stroke="#333" stroke-width="0.5"/><path d="M412.3,597.1 L413.0,596.2 L413.3,595.4 L413.7,594.5 L413.9,593.6 L414.2,592.8 L414.4,591.9 L414.2,591.1 L413.8,590.2 L413.5,589.3 L413.2,588.5 L412.9,587.6 L412.7,586.8 L412.5,585.9 L412.3,585.0 L412.3,584.2 L412.3,583.3 L411.9,583.3 L411.9,584.2 L411.9,585.0 L411.7,585.9 L411.5,586.8 L411.3,587.6 L411.0,588.5 L410.7,589.3 L410.4,590.2 L410.0,591.1 L409.8,591.9 L410.0,592.8 L410.3,593.6 L410.5,594.5 L410.9,595.4 L411.2,596.2 L411.9,597.1Z" fill="url(#tg)"/><path d="M418.5,598.0 L419.3,597.3 L419.6,596.6 L419.6,595.9 L419.2,595.2 L418.8,594.5 L418.4,593.8 L418.2,593.1 L417.9,592.4 L417.7,591.7 L417.5,591.0 L417.4,590.3 L417.4,589.6 L417.4,588.9 L417.4,588.2 L417.4,587.5 L417.4,586.8 L417.0,586.8 L417.0,587.5 L417.0,588.2 L417.0,588.9 L417.0,589.6 L417.0,590.3 L416.9,591.0 L416.7,591.7 L416.5,592.4 L416.2,593.1 L416.0,593.8 L415.6,594.5 L415.2,595.2 L414.8,595.9 L414.8,596.6 L415.1,597.3 L415.9,598.0Z" fill="url(#og)"/><rect x="416.9" y="575.8" width="1.4" height="1.4" fill="#444"/><path d="M424.0,596.4 L424.5,595.6 L424.9,594.9 L425.2,594.2 L425.4,593.4 L425.6,592.7 L425.8,591.9 L425.6,591.2 L425.3,590.4 L425.0,589.7 L424.7,588.9 L424.5,588.2 L424.3,587.4 L424.1,586.7 L424.0,585.9 L424.0,585.2 L424.0,584.4 L423.6,584.4 L423.6,585.2 L423.6,585.9 L423.4,586.7 L423.3,587.4 L423.0,588.2 L422.8,588.9 L422.5,589.7 L422.2,590.4 L421.9,591.2 L421.7,591.9 L421.9,592.7 L422.1,593.4 L422.4,594.2 L422.6,594.9 L423.0,595.6 L423.6,596.4Z" fill="url(#tg)"/><path d="M430.2,597.2 L431.0,596.7 L431.4,596.2 L431.1,595.7 L430.7,595.2 L430.3,594.6 L430.0,594.1 L429.8,593.6 L429.5,593.1 L429.3,592.6 L429.2,592.1 L429.1,591.5 L429.1,591.0 L429.1,590.5 L429.1,590.0 L429.1,589.5 L429.1,589.0 L428.7,589.0 L428.7,589.5 L428.7,590.0 L428.7,590.5 L428.7,591.0 L428.7,591.5 L428.5,592.1 L428.4,592.6 L428.2,593.1 L428.0,593.6 L427.7,594.1 L427.4,594.6 L427.0,595.2 L426.6,595.7 L426.3,596.2 L426.7,596.7 L427.6,597.2Z" fill="url(#og)"/><path d="M435.6,596.9 L436.3,596.2 L436.7,595.5 L437.0,594.8 L437.3,594.1 L437.5,593.4 L437.8,592.7 L437.8,592.0 L437.4,591.3 L437.0,590.7 L436.7,590.0 L436.4,589.3 L436.1,588.6 L435.8,587.9 L435.6,587.2 L435.6,586.5 L435.6,585.8 L435.2,585.8 L435.2,586.5 L435.2,587.2 L435.0,587.9 L434.8,588.6 L434.5,589.3 L434.2,590.0 L433.8,590.7 L433.4,591.3 L433.0,592.0 L433.1,592.7 L433.3,593.4 L433.6,594.1 L433.8,594.8 L434.2,595.5 L434.6,596.2 L435.2,596.9Z" fill="url(#tg)"/><path d="M441.6,596.6 L442.3,596.0 L442.7,595.3 L442.5,594.7 L442.1,594.0 L441.8,593.4 L441.5,592.7 L441.3,592.1 L441.1,591.4 L440.9,590.8 L440.8,590.1 L440.7,589.5 L440.7,588.8 L440.7,588.1 L440.7,587.5 L440.7,586.8 L440.7,586.2 L440.3,586.2 L440.3,586.8 L440.3,587.5 L440.3,588.1 L440.3,588.8 L440.3,589.5 L440.2,590.1 L440.1,590.8 L439.9,591.4 L439.7,592.1 L439.5,592.7 L439.2,593.4 L438.9,594.0 L438.6,594.7 L438.4,595.3 L438.7,596.0 L439.4,596.6Z" fill="url(#og)"/><rect x="440.2" y="575.8" width="1.4" height="1.4" fill="#444"/><path d="M447.3,596.4 L448.0,595.7 L448.4,595.0 L448.8,594.3 L449.0,593.5 L449.3,592.8 L449.5,592.1 L449.3,591.4 L448.9,590.7 L448.5,590.0 L448.2,589.2 L447.9,588.5 L447.7,587.8 L447.5,587.1 L447.3,586.4 L447.3,585.7 L447.3,584.9 L446.9,584.9 L446.9,585.7 L446.9,586.4 L446.7,587.1 L446.5,587.8 L446.3,588.5 L446.0,589.2 L445.6,590.0 L445.3,590.7 L444.9,591.4 L444.7,592.1 L444.9,592.8 L445.1,593.5 L445.4,594.3 L445.8,595.0 L446.2,595.7 L446.9,596.4Z" fill="url(#tg)"/><path d="M453.3,598.1 L453.9,597.4 L454.2,596.7 L454.4,596.0 L454.1,595.3 L453.7,594.6 L453.4,593.9 L453.1,593.2 L452.9,592.5 L452.7,591.8 L452.5,591.0 L452.4,590.3 L452.4,589.6 L452.4,588.9 L452.4,588.2 L452.4,587.5 L452.4,586.8 L452.0,586.8 L452.0,587.5 L452.0,588.2 L452.0,588.9 L452.0,589.6 L452.0,590.3 L451.9,591.0 L451.7,591.8 L451.5,592.5 L451.3,593.2 L451.0,593.9 L450.7,594.6 L450.3,595.3 L450.0,596.0 L450.2,596.7 L450.5,597.4 L451.1,598.1Z" fill="url(#og)"/><rect x="451.9" y="575.8" width="1.4" height="1.4" fill="#444"/><path d="M459.0,596.5 L459.6,595.7 L459.9,594.8 L460.2,594.0 L460.5,593.2 L460.7,592.4 L460.9,591.5 L460.8,590.7 L460.4,589.9 L460.1,589.1 L459.8,588.2 L459.5,587.4 L459.3,586.6 L459.1,585.8 L459.0,584.9 L459.0,584.1 L459.0,583.3 L458.6,583.3 L458.6,584.1 L458.6,584.9 L458.4,585.8 L458.2,586.6 L458.0,587.4 L457.7,588.2 L457.4,589.1 L457.1,589.9 L456.8,590.7 L456.6,591.5 L456.8,592.4 L457.0,593.2 L457.3,594.0 L457.6,594.8 L458.0,595.7 L458.6,596.5Z" fill="url(#tg)"/><path d="M465.2,598.0 L466.0,597.5 L466.4,597.0 L466.1,596.5 L465.7,596.0 L465.4,595.5 L465.0,595.0 L464.8,594.5 L464.5,594.0 L464.3,593.4 L464.2,592.9 L464.1,592.4 L464.1,591.9 L464.1,591.4 L464.1,590.9 L464.1,590.4 L464.1,589.9 L463.7,589.9 L463.7,590.4 L463.7,590.9 L463.7,591.4 L463.7,591.9 L463.7,592.4 L463.5,592.9 L463.4,593.4 L463.2,594.0 L463.0,594.5 L462.7,595.0 L462.4,595.5 L462.0,596.0 L461.6,596.5 L461.3,597.0 L461.7,597.5 L462.5,598.0Z" fill="url(#og)"/><rect x="463.6" y="575.8" width="1.4" height="1.4" fill="#444"/><path d="M470.6,595.8 L471.3,595.1 L471.7,594.4 L472.0,593.6 L472.2,592.9 L472.5,592.1 L472.7,591.4 L472.9,590.7 L472.5,589.9 L472.1,589.2 L471.7,588.4 L471.4,587.7 L471.1,587.0 L470.9,586.2 L470.7,585.5 L470.6,584.7 L470.6,584.0 L470.2,584.0 L470.2,584.7 L470.2,585.5 L470.0,586.2 L469.7,587.0 L469.4,587.7 L469.1,588.4 L468.8,589.2 L468.4,589.9 L467.9,590.7 L468.1,591.4 L468.4,592.1 L468.6,592.9 L468.9,593.6 L469.2,594.4 L469.6,595.1 L470.2,595.8Z" fill="url(#tg)"/><path d="M476.8,596.9 L477.5,596.2 L477.8,595.5 L477.9,594.8 L477.5,594.1 L477.1,593.4 L476.8,592.7 L476.5,592.1 L476.2,591.4 L476.0,590.7 L475.9,590.0 L475.7,589.3 L475.7,588.6 L475.7,587.9 L475.7,587.2 L475.7,586.5 L475.7,585.8 L475.3,585.8 L475.3,586.5 L475.3,587.2 L475.3,587.9 L475.3,588.6 L475.3,589.3 L475.2,590.0 L475.0,590.7 L474.8,591.4 L474.6,592.1 L474.3,592.7 L473.9,593.4 L473.5,594.1 L473.1,594.8 L473.3,595.5 L473.6,596.2 L474.3,596.9Z" fill="url(#og)"/><path d="M482.3,597.2 L483.0,596.3 L483.4,595.5 L483.8,594.7 L484.0,593.9 L484.3,593.1 L484.5,592.3 L484.1,591.5 L483.8,590.7 L483.4,589.9 L483.2,589.1 L482.9,588.3 L482.6,587.5 L482.4,586.7 L482.3,585.9 L482.3,585.1 L482.3,584.2 L481.9,584.2 L481.9,585.1 L481.9,585.9 L481.7,586.7 L481.5,587.5 L481.3,588.3 L481.0,589.1 L480.7,589.9 L480.4,590.7 L480.1,591.5 L479.7,592.3 L479.9,593.1 L480.1,593.9 L480.4,594.7 L480.8,595.5 L481.2,596.3 L481.9,597.2Z" fill="url(#tg)"/><path d="M488.4,596.6 L489.1,595.8 L489.5,595.1 L489.3,594.4 L488.9,593.7 L488.6,592.9 L488.3,592.2 L488.0,591.5 L487.8,590.8 L487.6,590.1 L487.5,589.3 L487.4,588.6 L487.4,587.9 L487.4,587.2 L487.4,586.4 L487.4,585.7 L487.4,585.0 L487.0,585.0 L487.0,585.7 L487.0,586.4 L487.0,587.2 L487.0,587.9 L487.0,588.6 L486.9,589.3 L486.7,590.1 L486.6,590.8 L486.3,591.5 L486.1,592.2 L485.8,592.9 L485.4,593.7 L485.0,594.4 L484.9,595.1 L485.2,595.8 L486.0,596.6Z" fill="url(#og)"/><path d="M494.0,596.5 L494.7,595.7 L495.1,594.9 L495.4,594.1 L495.7,593.4 L496.0,592.6 L496.2,591.8 L495.9,591.0 L495.6,590.2 L495.2,589.4 L494.9,588.7 L494.6,587.9 L494.4,587.1 L494.1,586.3 L494.0,585.5 L494.0,584.7 L494.0,584.0 L493.6,584.0 L493.6,584.7 L493.6,585.5 L493.4,586.3 L493.2,587.1 L492.9,587.9 L492.6,588.7 L492.3,589.4 L491.9,590.2 L491.6,591.0 L491.3,591.8 L491.5,592.6 L491.8,593.4 L492.1,594.1 L492.4,594.9 L492.8,595.7 L493.6,596.5Z" fill="url(#tg)"/><path d="M500.1,598.3 L500.8,597.8 L501.1,597.3 L501.4,596.8 L501.0,596.3 L500.6,595.7 L500.2,595.2 L499.9,594.7 L499.6,594.2 L499.4,593.6 L499.2,593.1 L499.1,592.6 L499.1,592.1 L499.1,591.5 L499.1,591.0 L499.1,590.5 L499.1,590.0 L498.7,590.0 L498.7,590.5 L498.7,591.0 L498.7,591.5 L498.7,592.1 L498.6,592.6 L498.5,593.1 L498.3,593.6 L498.1,594.2 L497.8,594.7 L497.5,595.2 L497.1,595.7 L496.7,596.3 L496.3,596.8 L496.6,597.3 L496.9,597.8 L497.6,598.3Z" fill="url(#og)"/><path d="M505.6,596.4 L506.2,595.6 L506.6,594.8 L506.9,594.0 L507.2,593.2 L507.4,592.4 L507.6,591.5 L507.7,590.7 L507.3,589.9 L506.9,589.1 L506.6,588.3 L506.3,587.5 L506.0,586.7 L505.8,585.9 L505.6,585.1 L505.6,584.3 L505.6,583.4 L505.2,583.4 L505.2,584.3 L505.2,585.1 L505.0,585.9 L504.8,586.7 L504.5,587.5 L504.2,588.3 L503.9,589.1 L503.6,589.9 L503.2,590.7 L503.3,591.5 L503.5,592.4 L503.7,593.2 L503.9,594.0 L504.2,594.8 L504.6,595.6 L505.2,596.4Z" fill="url(#tg)"/><path d="M511.8,598.0 L512.5,597.3 L512.8,596.7 L512.9,596.0 L512.4,595.3 L512.1,594.7 L511.7,594.0 L511.5,593.4 L511.2,592.7 L511.0,592.1 L510.9,591.4 L510.7,590.8 L510.7,590.1 L510.7,589.5 L510.7,588.8 L510.7,588.2 L510.7,587.5 L510.3,587.5 L510.3,588.2 L510.3,588.8 L510.3,589.5 L510.3,590.1 L510.3,590.8 L510.2,591.4 L510.0,592.1 L509.8,592.7 L509.6,593.4 L509.3,594.0 L509.0,594.7 L508.6,595.3 L508.2,596.0 L508.2,596.7 L508.6,597.3 L509.3,598.0Z" fill="url(#og)"/><rect x="510.2" y="575.8" width="1.4" height="1.4" fill="#444"/><path d="M517.3,597.0 L517.8,596.3 L518.2,595.6 L518.5,594.8 L518.7,594.1 L518.9,593.4 L519.1,592.7 L519.3,591.9 L519.0,591.2 L518.6,590.5 L518.3,589.7 L518.0,589.0 L517.7,588.3 L517.5,587.5 L517.3,586.8 L517.3,586.1 L517.3,585.4 L516.9,585.4 L516.9,586.1 L516.9,586.8 L516.7,587.5 L516.5,588.3 L516.2,589.0 L515.9,589.7 L515.6,590.5 L515.2,591.2 L514.9,591.9 L515.0,592.7 L515.2,593.4 L515.4,594.1 L515.7,594.8 L516.0,595.6 L516.3,596.3 L516.9,597.0Z" fill="url(#tg)"/><path d="M523.4,597.7 L524.2,597.1 L524.5,596.4 L524.2,595.8 L523.8,595.1 L523.5,594.5 L523.2,593.8 L523.0,593.2 L522.8,592.5 L522.6,591.9 L522.5,591.2 L522.4,590.6 L522.4,589.9 L522.4,589.3 L522.4,588.6 L522.4,588.0 L522.4,587.3 L522.0,587.3 L522.0,588.0 L522.0,588.6 L522.0,589.3 L522.0,589.9 L522.0,590.6 L521.9,591.2 L521.8,591.9 L521.6,592.5 L521.4,593.2 L521.2,593.8 L520.9,594.5 L520.6,595.1 L520.2,595.8 L519.8,596.4 L520.2,597.1 L521.0,597.7Z" fill="url(#og)"/><rect x="521.9" y="575.8" width="1.4" height="1.4" fill="#444"/><path d="M529.0,597.3 L529.6,596.4 L530.0,595.5 L530.4,594.6 L530.6,593.7 L530.9,592.8 L531.1,591.9 L530.9,591.0 L530.5,590.1 L530.2,589.3 L529.8,588.4 L529.6,587.5 L529.3,586.6 L529.1,585.7 L529.0,584.8 L529.0,583.9 L529.0,583.0 L528.5,583.0 L528.5,583.9 L528.5,584.8 L528.4,585.7 L528.2,586.6 L527.9,587.5 L527.7,588.4 L527.3,589.3 L527.0,590.1 L526.6,591.0 L526.4,591.9 L526.6,592.8 L526.9,593.7 L527.1,594.6 L527.5,595.5 L527.9,596.4 L528.5,597.3Z" fill="url(#tg)"/><path d="M535.2,597.0 L535.9,596.4 L536.2,595.7 L536.5,595.0 L536.1,594.4 L535.6,593.7 L535.3,593.0 L534.9,592.4 L534.7,591.7 L534.4,591.0 L534.2,590.3 L534.1,589.7 L534.1,589.0 L534.1,588.3 L534.1,587.7 L534.1,587.0 L534.1,586.3 L533.6,586.3 L533.6,587.0 L533.6,587.7 L533.6,588.3 L533.6,589.0 L533.6,589.7 L533.5,590.3 L533.3,591.0 L533.0,591.7 L532.8,592.4 L532.4,593.0 L532.1,593.7 L531.6,594.4 L531.2,595.0 L531.5,595.7 L531.8,596.4 L532.5,597.0Z" fill="url(#og)"/><path d="M540.6,596.6 L541.3,595.7 L541.7,594.7 L542.0,593.8 L542.3,592.8 L542.6,591.9 L542.8,591.0 L542.7,590.0 L542.3,589.1 L542.0,588.2 L541.6,587.2 L541.3,586.3 L541.0,585.4 L540.8,584.4 L540.6,583.5 L540.6,582.6 L540.6,581.6 L540.2,581.6 L540.2,582.6 L540.2,583.5 L540.0,584.4 L539.8,585.4 L539.5,586.3 L539.2,587.2 L538.9,588.2 L538.5,589.1 L538.1,590.0 L538.0,591.0 L538.3,591.9 L538.5,592.8 L538.8,593.8 L539.1,594.7 L539.5,595.7 L540.2,596.6Z" fill="url(#tg)"/><path d="M546.7,596.6 L547.5,596.0 L547.8,595.4 L547.6,594.8 L547.2,594.1 L546.9,593.5 L546.6,592.9 L546.3,592.3 L546.1,591.7 L546.0,591.0 L545.8,590.4 L545.7,589.8 L545.7,589.2 L545.7,588.5 L545.7,587.9 L545.7,587.3 L545.7,586.7 L545.3,586.7 L545.3,587.3 L545.3,587.9 L545.3,588.5 L545.3,589.2 L545.3,589.8 L545.2,590.4 L545.1,591.0 L544.9,591.7 L544.7,592.3 L544.4,592.9 L544.2,593.5 L543.8,594.1 L543.4,594.8 L543.2,595.4 L543.6,596.0 L544.3,596.6Z" fill="url(#og)"/><path d="M552.3,595.6 L552.8,594.9 L553.2,594.2 L553.4,593.5 L553.7,592.7 L553.9,592.0 L554.1,591.3 L554.2,590.6 L553.8,589.8 L553.5,589.1 L553.2,588.4 L552.9,587.6 L552.6,586.9 L552.4,586.2 L552.3,585.5 L552.3,584.7 L552.3,584.0 L551.9,584.0 L551.9,584.7 L551.9,585.5 L551.7,586.2 L551.5,586.9 L551.3,587.6 L551.0,588.4 L550.7,589.1 L550.4,589.8 L550.0,590.6 L550.1,591.3 L550.3,592.0 L550.5,592.7 L550.7,593.5 L551.0,594.2 L551.3,594.9 L551.9,595.6Z" fill="url(#tg)"/><path d="M558.5,596.9 L559.4,596.2 L559.8,595.6 L559.4,595.0 L559.0,594.4 L558.6,593.7 L558.3,593.1 L558.0,592.5 L557.8,591.9 L557.6,591.3 L557.5,590.6 L557.4,590.0 L557.4,589.4 L557.4,588.8 L557.4,588.2 L557.4,587.5 L557.4,586.9 L557.0,586.9 L557.0,587.5 L557.0,588.2 L557.0,588.8 L557.0,589.4 L557.0,590.0 L556.9,590.6 L556.7,591.3 L556.5,591.9 L556.3,592.5 L556.1,593.1 L555.8,593.7 L555.4,594.4 L555.0,595.0 L554.6,595.6 L555.0,596.2 L555.9,596.9Z" fill="url(#og)"/><path d="M563.9,596.9 L564.6,596.1 L565.0,595.4 L565.3,594.6 L565.6,593.8 L565.8,593.1 L566.0,592.3 L565.6,591.6 L565.3,590.8 L565.0,590.0 L564.7,589.3 L564.5,588.5 L564.3,587.8 L564.1,587.0 L563.9,586.2 L563.9,585.5 L563.9,584.7 L563.5,584.7 L563.5,585.5 L563.5,586.2 L563.4,587.0 L563.2,587.8 L563.0,588.5 L562.8,589.3 L562.5,590.0 L562.2,590.8 L561.9,591.6 L561.5,592.3 L561.7,593.1 L561.9,593.8 L562.2,594.6 L562.5,595.4 L562.9,596.1 L563.5,596.9Z" fill="url(#tg)"/><path d="M570.2,598.3 L570.9,597.7 L571.2,597.1 L571.5,596.5 L571.1,595.9 L570.7,595.3 L570.3,594.8 L569.9,594.2 L569.7,593.6 L569.4,593.0 L569.2,592.4 L569.1,591.8 L569.0,591.2 L569.0,590.7 L569.0,590.1 L569.0,589.5 L569.0,588.9 L568.6,588.9 L568.6,589.5 L568.6,590.1 L568.6,590.7 L568.6,591.2 L568.6,591.8 L568.4,592.4 L568.3,593.0 L568.0,593.6 L567.8,594.2 L567.4,594.8 L567.0,595.3 L566.6,595.9 L566.2,596.5 L566.5,597.1 L566.8,597.7 L567.5,598.3Z" fill="url(#og)"/><rect x="568.5" y="575.8" width="1.4" height="1.4" fill="#444"/><path d="M575.6,595.9 L576.2,595.1 L576.5,594.3 L576.8,593.5 L577.0,592.7 L577.2,591.9 L577.4,591.1 L577.6,590.3 L577.3,589.5 L576.9,588.6 L576.6,587.8 L576.3,587.0 L576.0,586.2 L575.8,585.4 L575.6,584.6 L575.6,583.8 L575.6,583.0 L575.2,583.0 L575.2,583.8 L575.2,584.6 L575.0,585.4 L574.8,586.2 L574.5,587.0 L574.2,587.8 L573.9,588.6 L573.5,589.5 L573.2,590.3 L573.4,591.1 L573.6,591.9 L573.8,592.7 L574.0,593.5 L574.3,594.3 L574.7,595.1 L575.2,595.9Z" fill="url(#tg)"/><path d="M581.6,597.3 L582.3,596.7 L582.7,596.0 L582.4,595.3 L582.1,594.6 L581.8,593.9 L581.5,593.3 L581.3,592.6 L581.1,591.9 L580.9,591.2 L580.8,590.5 L580.7,589.8 L580.7,589.2 L580.7,588.5 L580.7,587.8 L580.7,587.1 L580.7,586.4 L580.3,586.4 L580.3,587.1 L580.3,587.8 L580.3,588.5 L580.3,589.2 L580.3,589.8 L580.2,590.5 L580.1,591.2 L579.9,591.9 L579.8,592.6 L579.5,593.3 L579.3,593.9 L579.0,594.6 L578.6,595.3 L578.4,596.0 L578.7,596.7 L579.4,597.3Z" fill="url(#og)"/><path d="M587.3,595.7 L587.9,594.8 L588.4,594.0 L588.7,593.1 L588.9,592.2 L589.2,591.3 L589.4,590.4 L589.3,589.5 L589.0,588.6 L588.6,587.7 L588.3,586.9 L588.0,586.0 L587.7,585.1 L587.5,584.2 L587.3,583.3 L587.3,582.4 L587.3,581.5 L586.9,581.5 L586.9,582.4 L586.9,583.3 L586.7,584.2 L586.5,585.1 L586.2,586.0 L585.9,586.9 L585.6,587.7 L585.2,588.6 L584.8,589.5 L584.7,590.4 L585.0,591.3 L585.2,592.2 L585.5,593.1 L585.8,594.0 L586.2,594.8 L586.9,595.7Z" fill="url(#tg)"/><path d="M593.5,597.5 L594.3,596.9 L594.7,596.3 L594.5,595.6 L594.1,595.0 L593.7,594.3 L593.4,593.7 L593.1,593.0 L592.9,592.4 L592.7,591.7 L592.5,591.1 L592.4,590.4 L592.4,589.8 L592.4,589.2 L592.4,588.5 L592.4,587.9 L592.4,587.2 L592.0,587.2 L592.0,587.9 L592.0,588.5 L592.0,589.2 L592.0,589.8 L592.0,590.4 L591.8,591.1 L591.7,591.7 L591.5,592.4 L591.3,593.0 L591.0,593.7 L590.7,594.3 L590.3,595.0 L589.9,595.6 L589.7,596.3 L590.0,596.9 L590.9,597.5Z" fill="url(#og)"/><path d="M598.9,596.3 L599.7,595.6 L600.1,594.8 L600.4,594.1 L600.7,593.3 L601.0,592.5 L601.0,591.8 L600.7,591.0 L600.3,590.3 L600.0,589.5 L599.7,588.8 L599.5,588.0 L599.3,587.3 L599.1,586.5 L598.9,585.7 L598.9,585.0 L598.9,584.2 L598.5,584.2 L598.5,585.0 L598.5,585.7 L598.4,586.5 L598.2,587.3 L598.0,588.0 L597.7,588.8 L597.5,589.5 L597.2,590.3 L596.8,591.0 L596.5,591.8 L596.5,592.5 L596.7,593.3 L597.0,594.1 L597.4,594.8 L597.8,595.6 L598.5,596.3Z" fill="url(#tg)"/><path d="M604.9,597.0 L605.6,596.3 L605.9,595.6 L605.9,594.8 L605.5,594.1 L605.2,593.3 L604.9,592.6 L604.7,591.9 L604.5,591.1 L604.3,590.4 L604.1,589.6 L604.0,588.9 L604.0,588.2 L604.0,587.4 L604.0,586.7 L604.0,586.0 L604.0,585.2 L603.6,585.2 L603.6,586.0 L603.6,586.7 L603.6,587.4 L603.6,588.2 L603.6,588.9 L603.5,589.6 L603.4,590.4 L603.2,591.1 L603.0,591.9 L602.8,592.6 L602.5,593.3 L602.1,594.1 L601.8,594.8 L601.8,595.6 L602.1,596.3 L602.7,597.0Z" fill="url(#og)"/><rect x="603.5" y="575.8" width="1.4" height="1.4" fill="#444"/><path d="M610.6,596.1 L611.3,595.2 L611.7,594.3 L612.0,593.4 L612.3,592.5 L612.5,591.6 L612.7,590.7 L612.4,589.8 L612.0,588.9 L611.7,588.0 L611.4,587.1 L611.2,586.2 L610.9,585.3 L610.7,584.4 L610.6,583.5 L610.6,582.6 L610.6,581.7 L610.2,581.7 L610.2,582.6 L610.2,583.5 L610.1,584.4 L609.9,585.3 L609.6,586.2 L609.4,587.1 L609.1,588.0 L608.8,588.9 L608.4,589.8 L608.1,590.7 L608.3,591.6 L608.5,592.5 L608.8,593.4 L609.1,594.3 L609.5,595.2 L610.2,596.1Z" fill="url(#tg)"/><path d="M616.8,597.6 L617.7,596.8 L618.1,596.1 L617.7,595.4 L617.3,594.6 L617.0,593.9 L616.7,593.2 L616.4,592.4 L616.2,591.7 L616.0,590.9 L615.8,590.2 L615.7,589.5 L615.7,588.7 L615.7,588.0 L615.7,587.2 L615.7,586.5 L615.7,585.8 L615.3,585.8 L615.3,586.5 L615.3,587.2 L615.3,588.0 L615.3,588.7 L615.3,589.5 L615.2,590.2 L615.0,590.9 L614.8,591.7 L614.6,592.4 L614.3,593.2 L614.0,593.9 L613.7,594.6 L613.3,595.4 L612.9,596.1 L613.3,596.8 L614.2,597.6Z" fill="url(#og)"/><rect x="615.2" y="575.8" width="1.4" height="1.4" fill="#444"/><path d="M622.3,597.2 L622.8,596.5 L623.2,595.8 L623.5,595.1 L623.7,594.4 L623.9,593.7 L624.1,592.9 L623.9,592.2 L623.6,591.5 L623.3,590.8 L623.1,590.1 L622.8,589.4 L622.6,588.7 L622.4,588.0 L622.3,587.3 L622.3,586.5 L622.3,585.8 L621.9,585.8 L621.9,586.5 L621.9,587.3 L621.7,588.0 L621.6,588.7 L621.3,589.4 L621.1,590.1 L620.8,590.8 L620.5,591.5 L620.2,592.2 L620.0,592.9 L620.2,593.7 L620.4,594.4 L620.7,595.1 L620.9,595.8 L621.3,596.5 L621.9,597.2Z" fill="url(#tg)"/><path d="M628.4,598.1 L629.3,597.4 L629.7,596.7 L629.3,596.0 L628.9,595.3 L628.6,594.5 L628.3,593.8 L628.0,593.1 L627.8,592.4 L627.6,591.7 L627.5,591.0 L627.4,590.2 L627.4,589.5 L627.4,588.8 L627.4,588.1 L627.4,587.4 L627.4,586.6 L627.0,586.6 L627.0,587.4 L627.0,588.1 L627.0,588.8 L627.0,589.5 L627.0,590.2 L626.9,591.0 L626.7,591.7 L626.5,592.4 L626.3,593.1 L626.1,593.8 L625.8,594.5 L625.4,595.3 L625.0,596.0 L624.7,596.7 L625.1,597.4 L625.9,598.1Z" fill="url(#og)"/><rect x="631.3" y="598.4" width="4" height="0.7" fill="#3a8587" fill-opacity="0.5"/><rect x="636.8" y="598.4" width="4" height="0.7" fill="#f47620" fill-opacity="0.5"/><rect x="638.5" y="575.8" width="1.4" height="1.4" fill="#444"/><rect x="408.20" y="601.80" width="233.30" height="30.40" fill="#dedede" stroke="#3a3a3a" stroke-width="0.9"/><line x1="419.87" y1="602.30" x2="419.87" y2="631.70" stroke="#f0f0f0" stroke-width="0.7"/><line x1="466.52" y1="602.30" x2="466.52" y2="631.70" stroke="#f0f0f0" stroke-width="0.7"/><line x1="501.52" y1="602.30" x2="501.52" y2="631.70" stroke="#f0f0f0" stroke-width="0.7"/><line x1="548.18" y1="602.30" x2="548.18" y2="631.70" stroke="#f0f0f0" stroke-width="0.7"/><line x1="571.51" y1="602.30" x2="571.51" y2="631.70" stroke="#f0f0f0" stroke-width="0.7"/><line x1="594.84" y1="602.30" x2="594.84" y2="631.70" stroke="#f0f0f0" stroke-width="0.7"/><line x1="606.50" y1="602.30" x2="606.50" y2="631.70" stroke="#f0f0f0" stroke-width="0.7"/><text x="404.8" y="605.4" font-size="5.7" fill="#333" text-anchor="end">2000</text><text x="404.8" y="631.4" font-size="5.7" fill="#333" text-anchor="end">0</text><line x1="406.60" y1="603.40" x2="408.00" y2="603.40" stroke="#333" stroke-width="0.5"/><line x1="406.60" y1="629.60" x2="408.00" y2="629.60" stroke="#333" stroke-width="0.5"/><ellipse cx="412.1" cy="615.8" rx="2.4" ry="8.6" fill="#3a8587"/><path d="M419.1,629.7 L419.5,628.8 L419.4,627.9 L419.0,626.9 L418.6,626.0 L418.3,625.1 L418.0,624.2 L417.8,623.2 L417.6,622.3 L417.5,621.4 L417.4,620.5 L417.4,619.6 L417.4,618.6 L417.4,617.7 L417.4,616.8 L417.4,615.9 L417.4,614.9 L417.0,614.9 L417.0,615.9 L417.0,616.8 L417.0,617.7 L417.0,618.6 L417.0,619.6 L417.0,620.5 L416.9,621.4 L416.8,622.3 L416.6,623.2 L416.4,624.2 L416.1,625.1 L415.8,626.0 L415.4,626.9 L415.0,627.9 L414.9,628.8 L415.3,629.7Z" fill="url(#og)"/><rect x="416.9" y="605.4" width="1.4" height="1.4" fill="#444"/><path d="M424.0,629.6 L424.8,628.1 L425.3,626.5 L425.7,625.0 L426.0,623.4 L426.2,621.9 L425.8,620.3 L425.4,618.8 L425.1,617.2 L424.8,615.7 L424.5,614.1 L424.3,612.6 L424.1,611.0 L424.0,609.5 L424.0,607.9 L424.0,606.4 L424.0,604.8 L423.6,604.8 L423.6,606.4 L423.6,607.9 L423.6,609.5 L423.4,611.0 L423.3,612.6 L423.0,614.1 L422.8,615.7 L422.5,617.2 L422.1,618.8 L421.7,620.3 L421.3,621.9 L421.5,623.4 L421.9,625.0 L422.2,626.5 L422.7,628.1 L423.6,629.6Z" fill="url(#tg)"/><path d="M430.9,630.4 L431.3,629.5 L431.0,628.6 L430.6,627.7 L430.2,626.8 L429.9,625.9 L429.7,625.1 L429.4,624.2 L429.3,623.3 L429.1,622.4 L429.1,621.5 L429.1,620.6 L429.1,619.7 L429.1,618.8 L429.1,618.0 L429.1,617.1 L429.1,616.2 L428.7,616.2 L428.7,617.1 L428.7,618.0 L428.7,618.8 L428.7,619.7 L428.7,620.6 L428.7,621.5 L428.6,622.4 L428.5,623.3 L428.3,624.2 L428.1,625.1 L427.8,625.9 L427.5,626.8 L427.1,627.7 L426.7,628.6 L426.4,629.5 L426.8,630.4Z" fill="url(#og)"/><rect x="428.6" y="605.4" width="1.4" height="1.4" fill="#444"/><path d="M435.6,629.1 L436.7,627.5 L437.3,626.0 L437.7,624.4 L438.1,622.8 L438.0,621.2 L437.5,619.7 L437.1,618.1 L436.8,616.5 L436.5,614.9 L436.2,613.4 L436.0,611.8 L435.8,610.2 L435.6,608.6 L435.6,607.1 L435.6,605.5 L435.6,603.9 L435.2,603.9 L435.2,605.5 L435.2,607.1 L435.2,608.6 L435.1,610.2 L434.9,611.8 L434.7,613.4 L434.4,614.9 L434.1,616.5 L433.7,618.1 L433.3,619.7 L432.9,621.2 L432.7,622.8 L433.1,624.4 L433.6,626.0 L434.2,627.5 L435.2,629.1Z" fill="url(#tg)"/><path d="M442.8,630.0 L443.2,629.2 L443.0,628.4 L442.5,627.6 L442.1,626.7 L441.7,625.9 L441.4,625.1 L441.2,624.2 L441.0,623.4 L440.8,622.6 L440.7,621.7 L440.7,620.9 L440.7,620.1 L440.7,619.2 L440.7,618.4 L440.7,617.6 L440.7,616.7 L440.3,616.7 L440.3,617.6 L440.3,618.4 L440.3,619.2 L440.3,620.1 L440.3,620.9 L440.3,621.7 L440.2,622.6 L440.1,623.4 L439.9,624.2 L439.6,625.1 L439.4,625.9 L439.0,626.7 L438.6,627.6 L438.1,628.4 L437.8,629.2 L438.3,630.0Z" fill="url(#og)"/><rect x="440.2" y="605.4" width="1.4" height="1.4" fill="#444"/><path d="M447.3,628.8 L448.2,627.3 L448.7,625.7 L449.1,624.2 L449.5,622.7 L449.8,621.1 L449.5,619.6 L449.0,618.1 L448.6,616.6 L448.3,615.0 L448.0,613.5 L447.7,612.0 L447.5,610.4 L447.3,608.9 L447.3,607.4 L447.3,605.8 L447.3,604.3 L446.9,604.3 L446.9,605.8 L446.9,607.4 L446.9,608.9 L446.7,610.4 L446.5,612.0 L446.2,613.5 L445.9,615.0 L445.6,616.6 L445.2,618.1 L444.7,619.6 L444.4,621.1 L444.7,622.7 L445.1,624.2 L445.5,625.7 L446.0,627.3 L446.9,628.8Z" fill="url(#tg)"/><path d="M454.3,630.3 L454.7,629.4 L454.6,628.5 L454.1,627.6 L453.7,626.7 L453.4,625.9 L453.1,625.0 L452.8,624.1 L452.6,623.2 L452.5,622.3 L452.4,621.4 L452.4,620.5 L452.4,619.6 L452.4,618.8 L452.4,617.9 L452.4,617.0 L452.4,616.1 L452.0,616.1 L452.0,617.0 L452.0,617.9 L452.0,618.8 L452.0,619.6 L452.0,620.5 L452.0,621.4 L451.9,622.3 L451.7,623.2 L451.6,624.1 L451.3,625.0 L451.0,625.9 L450.7,626.7 L450.3,627.6 L449.8,628.5 L449.7,629.4 L450.1,630.3Z" fill="url(#og)"/><rect x="451.9" y="605.4" width="1.4" height="1.4" fill="#444"/><path d="M459.0,629.6 L460.0,628.1 L460.6,626.5 L461.1,625.0 L461.5,623.4 L461.4,621.9 L460.9,620.4 L460.5,618.8 L460.1,617.3 L459.8,615.7 L459.5,614.2 L459.3,612.6 L459.1,611.1 L459.0,609.6 L459.0,608.0 L459.0,606.5 L459.0,604.9 L458.6,604.9 L458.6,606.5 L458.6,608.0 L458.6,609.6 L458.4,611.1 L458.2,612.6 L458.0,614.2 L457.7,615.7 L457.4,617.3 L457.0,618.8 L456.6,620.4 L456.1,621.9 L456.0,623.4 L456.4,625.0 L456.9,626.5 L457.5,628.1 L458.6,629.6Z" fill="url(#tg)"/><path d="M465.8,630.3 L466.2,629.3 L466.0,628.3 L465.6,627.3 L465.2,626.3 L464.9,625.3 L464.6,624.3 L464.4,623.3 L464.3,622.3 L464.1,621.3 L464.1,620.3 L464.1,619.3 L464.1,618.3 L464.1,617.3 L464.1,616.3 L464.1,615.3 L464.1,614.3 L463.7,614.3 L463.7,615.3 L463.7,616.3 L463.7,617.3 L463.7,618.3 L463.7,619.3 L463.7,620.3 L463.6,621.3 L463.5,622.3 L463.3,623.3 L463.1,624.3 L462.8,625.3 L462.5,626.3 L462.2,627.3 L461.7,628.3 L461.5,629.3 L461.9,630.3Z" fill="url(#og)"/><rect x="463.6" y="605.4" width="1.4" height="1.4" fill="#444"/><path d="M470.6,629.6 L471.6,628.0 L472.2,626.5 L472.6,625.0 L473.0,623.4 L473.0,621.9 L472.6,620.3 L472.1,618.8 L471.8,617.3 L471.5,615.7 L471.2,614.2 L471.0,612.6 L470.8,611.1 L470.6,609.6 L470.6,608.0 L470.6,606.5 L470.6,604.9 L470.2,604.9 L470.2,606.5 L470.2,608.0 L470.2,609.6 L470.1,611.1 L469.9,612.6 L469.7,614.2 L469.4,615.7 L469.1,617.3 L468.7,618.8 L468.3,620.3 L467.8,621.9 L467.8,623.4 L468.2,625.0 L468.7,626.5 L469.2,628.0 L470.2,629.6Z" fill="url(#tg)"/><path d="M476.5,625.3 L477.4,624.6 L477.8,624.0 L478.1,623.3 L477.6,622.6 L477.2,621.9 L476.8,621.2 L476.5,620.5 L476.3,619.8 L476.0,619.1 L475.9,618.4 L475.7,617.7 L475.7,617.0 L475.7,616.3 L475.7,615.6 L475.7,614.9 L475.7,614.3 L475.3,614.3 L475.3,614.9 L475.3,615.6 L475.3,616.3 L475.3,617.0 L475.3,617.7 L475.2,618.4 L475.0,619.1 L474.8,619.8 L474.5,620.5 L474.2,621.2 L473.8,621.9 L473.4,622.6 L473.0,623.3 L473.3,624.0 L473.7,624.6 L474.5,625.3Z" fill="url(#og)"/><path d="M482.3,628.9 L483.3,627.4 L483.8,625.8 L484.2,624.3 L484.6,622.7 L484.4,621.2 L484.0,619.6 L483.6,618.1 L483.3,616.5 L483.0,614.9 L482.8,613.4 L482.6,611.8 L482.4,610.3 L482.3,608.7 L482.3,607.2 L482.3,605.6 L482.3,604.1 L481.9,604.1 L481.9,605.6 L481.9,607.2 L481.9,608.7 L481.8,610.3 L481.6,611.8 L481.4,613.4 L481.2,614.9 L480.9,616.5 L480.6,618.1 L480.2,619.6 L479.8,621.2 L479.6,622.7 L480.0,624.3 L480.4,625.8 L480.9,627.4 L481.9,628.9Z" fill="url(#tg)"/><path d="M488.1,627.1 L488.9,626.3 L489.2,625.5 L489.5,624.7 L489.4,623.9 L488.9,623.1 L488.5,622.3 L488.2,621.5 L487.9,620.7 L487.7,619.9 L487.5,619.1 L487.4,618.3 L487.4,617.5 L487.4,616.7 L487.4,615.9 L487.4,615.1 L487.4,614.3 L487.0,614.3 L487.0,615.1 L487.0,615.9 L487.0,616.7 L487.0,617.5 L487.0,618.3 L486.8,619.1 L486.7,619.9 L486.4,620.7 L486.2,621.5 L485.8,622.3 L485.5,623.1 L485.0,623.9 L484.9,624.7 L485.2,625.5 L485.5,626.3 L486.2,627.1Z" fill="url(#og)"/><path d="M494.0,628.5 L494.9,627.0 L495.5,625.5 L495.9,624.0 L496.3,622.5 L496.1,621.1 L495.7,619.6 L495.3,618.1 L495.0,616.6 L494.7,615.1 L494.4,613.6 L494.2,612.2 L494.1,610.7 L494.0,609.2 L494.0,607.7 L494.0,606.2 L494.0,604.7 L493.6,604.7 L493.6,606.2 L493.6,607.7 L493.6,609.2 L493.4,610.7 L493.3,612.2 L493.1,613.6 L492.8,615.1 L492.5,616.6 L492.2,618.1 L491.8,619.6 L491.4,621.1 L491.2,622.5 L491.6,624.0 L492.0,625.5 L492.6,627.0 L493.6,628.5Z" fill="url(#tg)"/><path d="M499.9,626.0 L500.6,625.2 L500.9,624.4 L501.2,623.6 L501.4,622.8 L500.9,622.0 L500.4,621.2 L500.0,620.4 L499.7,619.6 L499.5,618.8 L499.3,618.0 L499.1,617.1 L499.1,616.3 L499.1,615.5 L499.1,614.7 L499.1,613.9 L499.1,613.1 L498.7,613.1 L498.7,613.9 L498.7,614.7 L498.7,615.5 L498.7,616.3 L498.6,617.1 L498.4,618.0 L498.2,618.8 L498.0,619.6 L497.7,620.4 L497.3,621.2 L496.8,622.0 L496.3,622.8 L496.5,623.6 L496.8,624.4 L497.1,625.2 L497.8,626.0Z" fill="url(#og)"/><path d="M505.6,629.6 L506.5,628.0 L507.0,626.4 L507.4,624.8 L507.8,623.2 L508.0,621.7 L507.6,620.1 L507.2,618.5 L506.8,616.9 L506.5,615.3 L506.2,613.8 L506.0,612.2 L505.8,610.6 L505.6,609.0 L505.6,607.4 L505.6,605.8 L505.6,604.3 L505.2,604.3 L505.2,605.8 L505.2,607.4 L505.2,609.0 L505.1,610.6 L504.9,612.2 L504.6,613.8 L504.4,615.3 L504.0,616.9 L503.7,618.5 L503.3,620.1 L502.8,621.7 L503.1,623.2 L503.4,624.8 L503.8,626.4 L504.3,628.0 L505.2,629.6Z" fill="url(#tg)"/><path d="M511.5,624.5 L512.3,623.6 L512.6,622.8 L512.9,621.9 L512.9,621.0 L512.4,620.1 L512.0,619.2 L511.6,618.4 L511.3,617.5 L511.1,616.6 L510.9,615.7 L510.8,614.8 L510.7,613.9 L510.7,613.1 L510.7,612.2 L510.7,611.3 L510.7,610.4 L510.3,610.4 L510.3,611.3 L510.3,612.2 L510.3,613.1 L510.3,613.9 L510.3,614.8 L510.1,615.7 L509.9,616.6 L509.7,617.5 L509.4,618.4 L509.1,619.2 L508.6,620.1 L508.2,621.0 L508.1,621.9 L508.4,622.8 L508.7,623.6 L509.5,624.5Z" fill="url(#og)"/><path d="M517.3,628.7 L518.2,627.2 L518.8,625.7 L519.2,624.3 L519.6,622.8 L519.8,621.3 L519.3,619.8 L518.9,618.3 L518.5,616.9 L518.2,615.4 L517.9,613.9 L517.6,612.4 L517.4,610.9 L517.3,609.5 L517.3,608.0 L517.3,606.5 L517.3,605.0 L516.9,605.0 L516.9,606.5 L516.9,608.0 L516.9,609.5 L516.7,610.9 L516.5,612.4 L516.3,613.9 L516.0,615.4 L515.7,616.9 L515.3,618.3 L514.9,619.8 L514.4,621.3 L514.6,622.8 L515.0,624.3 L515.4,625.7 L515.9,627.2 L516.9,628.7Z" fill="url(#tg)"/><path d="M523.2,626.5 L523.9,625.5 L524.3,624.6 L524.5,623.7 L524.3,622.8 L523.9,621.9 L523.5,621.0 L523.2,620.0 L522.9,619.1 L522.7,618.2 L522.5,617.3 L522.4,616.4 L522.4,615.5 L522.4,614.5 L522.4,613.6 L522.4,612.7 L522.4,611.8 L522.0,611.8 L522.0,612.7 L522.0,613.6 L522.0,614.5 L522.0,615.5 L522.0,616.4 L521.8,617.3 L521.7,618.2 L521.4,619.1 L521.2,620.0 L520.8,621.0 L520.5,621.9 L520.0,622.8 L519.8,623.7 L520.1,624.6 L520.4,625.5 L521.2,626.5Z" fill="url(#og)"/><path d="M529.0,628.5 L530.1,627.0 L530.7,625.6 L531.2,624.1 L531.6,622.7 L531.2,621.2 L530.8,619.7 L530.4,618.3 L530.0,616.8 L529.7,615.4 L529.5,613.9 L529.3,612.5 L529.1,611.0 L529.0,609.6 L529.0,608.1 L529.0,606.7 L529.0,605.2 L528.5,605.2 L528.5,606.7 L528.5,608.1 L528.5,609.6 L528.4,611.0 L528.2,612.5 L528.0,613.9 L527.8,615.4 L527.5,616.8 L527.1,618.3 L526.7,619.7 L526.3,621.2 L525.9,622.7 L526.3,624.1 L526.8,625.6 L527.4,627.0 L528.5,628.5Z" fill="url(#tg)"/><path d="M535.9,630.3 L536.3,629.6 L536.1,628.8 L535.6,628.1 L535.3,627.3 L534.9,626.6 L534.7,625.8 L534.4,625.1 L534.3,624.4 L534.1,623.6 L534.1,622.9 L534.1,622.1 L534.1,621.4 L534.1,620.6 L534.1,619.9 L534.1,619.2 L534.1,618.4 L533.6,618.4 L533.6,619.2 L533.6,619.9 L533.6,620.6 L533.6,621.4 L533.6,622.1 L533.6,622.9 L533.6,623.6 L533.4,624.4 L533.3,625.1 L533.0,625.8 L532.8,626.6 L532.4,627.3 L532.1,628.1 L531.6,628.8 L531.4,629.6 L531.8,630.3Z" fill="url(#og)"/><rect x="533.6" y="605.4" width="1.4" height="1.4" fill="#444"/><path d="M540.6,628.9 L541.4,627.3 L541.9,625.7 L542.3,624.1 L542.6,622.5 L542.9,620.9 L542.6,619.3 L542.2,617.8 L541.8,616.2 L541.5,614.6 L541.2,613.0 L541.0,611.4 L540.8,609.8 L540.6,608.2 L540.6,606.6 L540.6,605.0 L540.6,603.5 L540.2,603.5 L540.2,605.0 L540.2,606.6 L540.2,608.2 L540.1,609.8 L539.9,611.4 L539.6,613.0 L539.3,614.6 L539.0,616.2 L538.6,617.8 L538.2,619.3 L537.9,620.9 L538.2,622.5 L538.5,624.1 L538.9,625.7 L539.4,627.3 L540.2,628.9Z" fill="url(#tg)"/><path d="M546.5,625.0 L547.1,624.2 L547.4,623.4 L547.7,622.6 L547.8,621.8 L547.4,621.0 L547.0,620.2 L546.6,619.4 L546.3,618.5 L546.1,617.7 L545.9,616.9 L545.8,616.1 L545.7,615.3 L545.7,614.5 L545.7,613.7 L545.7,612.9 L545.7,612.1 L545.3,612.1 L545.3,612.9 L545.3,613.7 L545.3,614.5 L545.3,615.3 L545.3,616.1 L545.1,616.9 L544.9,617.7 L544.7,618.5 L544.4,619.4 L544.1,620.2 L543.7,621.0 L543.2,621.8 L543.4,622.6 L543.6,623.4 L543.9,624.2 L544.6,625.0Z" fill="url(#og)"/><path d="M552.3,628.6 L553.2,627.1 L553.7,625.5 L554.1,624.0 L554.4,622.4 L554.6,620.9 L554.1,619.3 L553.7,617.7 L553.4,616.2 L553.1,614.6 L552.8,613.1 L552.6,611.5 L552.4,609.9 L552.3,608.4 L552.3,606.8 L552.3,605.3 L552.3,603.7 L551.9,603.7 L551.9,605.3 L551.9,606.8 L551.9,608.4 L551.8,609.9 L551.6,611.5 L551.3,613.1 L551.1,614.6 L550.8,616.2 L550.4,617.7 L550.0,619.3 L549.6,620.9 L549.8,622.4 L550.1,624.0 L550.5,625.5 L551.0,627.1 L551.9,628.6Z" fill="url(#tg)"/><path d="M559.4,629.8 L559.9,629.1 L559.7,628.4 L559.2,627.6 L558.8,626.9 L558.4,626.2 L558.1,625.5 L557.8,624.8 L557.6,624.0 L557.5,623.3 L557.4,622.6 L557.4,621.9 L557.4,621.1 L557.4,620.4 L557.4,619.7 L557.4,619.0 L557.4,618.2 L557.0,618.2 L557.0,619.0 L557.0,619.7 L557.0,620.4 L557.0,621.1 L557.0,621.9 L557.0,622.6 L556.9,623.3 L556.7,624.0 L556.5,624.8 L556.3,625.5 L556.0,626.2 L555.6,626.9 L555.2,627.6 L554.7,628.4 L554.5,629.1 L555.0,629.8Z" fill="url(#og)"/><rect x="556.9" y="605.4" width="1.4" height="1.4" fill="#444"/><path d="M563.9,629.3 L564.8,627.8 L565.3,626.3 L565.6,624.8 L566.0,623.2 L566.2,621.7 L565.7,620.2 L565.4,618.7 L565.0,617.2 L564.7,615.6 L564.5,614.1 L564.2,612.6 L564.1,611.1 L563.9,609.6 L563.9,608.0 L563.9,606.5 L563.9,605.0 L563.5,605.0 L563.5,606.5 L563.5,608.0 L563.5,609.6 L563.4,611.1 L563.2,612.6 L563.0,614.1 L562.8,615.6 L562.5,617.2 L562.1,618.7 L561.7,620.2 L561.3,621.7 L561.5,623.2 L561.8,624.8 L562.2,626.3 L562.7,627.8 L563.5,629.3Z" fill="url(#tg)"/><path d="M569.8,626.6 L570.6,625.8 L571.0,624.9 L571.3,624.1 L570.8,623.3 L570.4,622.4 L570.1,621.6 L569.8,620.7 L569.5,619.9 L569.3,619.1 L569.2,618.2 L569.0,617.4 L569.0,616.6 L569.0,615.7 L569.0,614.9 L569.0,614.0 L569.0,613.2 L568.6,613.2 L568.6,614.0 L568.6,614.9 L568.6,615.7 L568.6,616.6 L568.6,617.4 L568.5,618.2 L568.4,619.1 L568.2,619.9 L567.9,620.7 L567.6,621.6 L567.3,622.4 L566.9,623.3 L566.4,624.1 L566.7,624.9 L567.1,625.8 L567.9,626.6Z" fill="url(#og)"/><path d="M575.6,628.3 L576.5,626.8 L577.0,625.3 L577.4,623.8 L577.8,622.3 L577.9,620.8 L577.5,619.3 L577.1,617.8 L576.7,616.3 L576.4,614.8 L576.2,613.3 L575.9,611.8 L575.7,610.2 L575.6,608.7 L575.6,607.2 L575.6,605.7 L575.6,604.2 L575.2,604.2 L575.2,605.7 L575.2,607.2 L575.2,608.7 L575.1,610.2 L574.9,611.8 L574.7,613.3 L574.4,614.8 L574.1,616.3 L573.7,617.8 L573.3,619.3 L572.9,620.8 L573.0,622.3 L573.4,623.8 L573.8,625.3 L574.3,626.8 L575.2,628.3Z" fill="url(#tg)"/><path d="M581.5,626.4 L582.3,625.6 L582.7,624.9 L582.9,624.2 L582.4,623.4 L582.0,622.7 L581.7,622.0 L581.4,621.2 L581.2,620.5 L581.0,619.8 L580.8,619.0 L580.7,618.3 L580.7,617.6 L580.7,616.9 L580.7,616.1 L580.7,615.4 L580.7,614.7 L580.3,614.7 L580.3,615.4 L580.3,616.1 L580.3,616.9 L580.3,617.6 L580.3,618.3 L580.2,619.0 L580.0,619.8 L579.8,620.5 L579.6,621.2 L579.3,622.0 L579.0,622.7 L578.6,623.4 L578.1,624.2 L578.3,624.9 L578.7,625.6 L579.5,626.4Z" fill="url(#og)"/><path d="M587.3,629.4 L588.1,627.9 L588.5,626.4 L588.9,624.9 L589.2,623.4 L589.5,621.9 L589.1,620.3 L588.7,618.8 L588.4,617.3 L588.1,615.8 L587.8,614.3 L587.6,612.8 L587.4,611.3 L587.3,609.8 L587.3,608.2 L587.3,606.7 L587.3,605.2 L586.9,605.2 L586.9,606.7 L586.9,608.2 L586.9,609.8 L586.8,611.3 L586.6,612.8 L586.4,614.3 L586.1,615.8 L585.8,617.3 L585.4,618.8 L585.1,620.3 L584.7,621.9 L584.9,623.4 L585.3,624.9 L585.6,626.4 L586.1,627.9 L586.9,629.4Z" fill="url(#tg)"/><path d="M594.1,629.5 L594.5,628.6 L594.4,627.7 L593.9,626.8 L593.6,625.9 L593.2,625.0 L593.0,624.1 L592.8,623.3 L592.6,622.4 L592.5,621.5 L592.4,620.6 L592.4,619.7 L592.4,618.8 L592.4,617.9 L592.4,617.0 L592.4,616.1 L592.4,615.3 L592.0,615.3 L592.0,616.1 L592.0,617.0 L592.0,617.9 L592.0,618.8 L592.0,619.7 L592.0,620.6 L591.9,621.5 L591.8,622.4 L591.6,623.3 L591.4,624.1 L591.1,625.0 L590.8,625.9 L590.4,626.8 L590.0,627.7 L589.9,628.6 L590.2,629.5Z" fill="url(#og)"/><rect x="591.9" y="605.4" width="1.4" height="1.4" fill="#444"/><path d="M598.9,629.6 L600.0,628.1 L600.5,626.5 L601.0,624.9 L601.4,623.4 L601.2,621.8 L600.8,620.2 L600.4,618.6 L600.0,617.1 L599.7,615.5 L599.5,613.9 L599.2,612.4 L599.1,610.8 L598.9,609.2 L598.9,607.7 L598.9,606.1 L598.9,604.5 L598.5,604.5 L598.5,606.1 L598.5,607.7 L598.5,609.2 L598.4,610.8 L598.2,612.4 L598.0,613.9 L597.8,615.5 L597.5,617.1 L597.1,618.6 L596.7,620.2 L596.3,621.8 L596.1,623.4 L596.5,624.9 L596.9,626.5 L597.5,628.1 L598.5,629.6Z" fill="url(#tg)"/><path d="M605.8,630.7 L606.2,629.9 L606.0,629.0 L605.6,628.2 L605.2,627.4 L604.9,626.5 L604.6,625.7 L604.4,624.9 L604.2,624.1 L604.1,623.2 L604.0,622.4 L604.0,621.6 L604.0,620.7 L604.0,619.9 L604.0,619.1 L604.0,618.3 L604.0,617.4 L603.6,617.4 L603.6,618.3 L603.6,619.1 L603.6,619.9 L603.6,620.7 L603.6,621.6 L603.6,622.4 L603.6,623.2 L603.4,624.1 L603.3,624.9 L603.0,625.7 L602.8,626.5 L602.5,627.4 L602.1,628.2 L601.7,629.0 L601.5,629.9 L601.9,630.7Z" fill="url(#og)"/><rect x="603.5" y="605.4" width="1.4" height="1.4" fill="#444"/><path d="M610.6,629.0 L611.6,627.5 L612.1,626.0 L612.6,624.5 L612.9,623.0 L612.6,621.5 L612.3,620.0 L611.9,618.5 L611.6,617.1 L611.3,615.6 L611.1,614.1 L610.9,612.6 L610.7,611.1 L610.6,609.6 L610.6,608.1 L610.6,606.6 L610.6,605.1 L610.2,605.1 L610.2,606.6 L610.2,608.1 L610.2,609.6 L610.1,611.1 L609.9,612.6 L609.7,614.1 L609.5,615.6 L609.2,617.1 L608.9,618.5 L608.6,620.0 L608.2,621.5 L607.9,623.0 L608.2,624.5 L608.7,626.0 L609.2,627.5 L610.2,629.0Z" fill="url(#tg)"/><path d="M617.6,629.7 L618.0,628.7 L617.8,627.8 L617.3,626.9 L616.9,625.9 L616.6,625.0 L616.3,624.1 L616.1,623.1 L615.9,622.2 L615.8,621.3 L615.7,620.3 L615.7,619.4 L615.7,618.5 L615.7,617.5 L615.7,616.6 L615.7,615.7 L615.7,614.7 L615.3,614.7 L615.3,615.7 L615.3,616.6 L615.3,617.5 L615.3,618.5 L615.3,619.4 L615.3,620.3 L615.2,621.3 L615.1,622.2 L614.9,623.1 L614.7,624.1 L614.4,625.0 L614.1,625.9 L613.7,626.9 L613.2,627.8 L613.0,628.7 L613.4,629.7Z" fill="url(#og)"/><rect x="615.2" y="605.4" width="1.4" height="1.4" fill="#444"/><path d="M622.3,629.4 L623.3,627.8 L623.8,626.3 L624.3,624.7 L624.6,623.1 L624.4,621.5 L624.0,619.9 L623.7,618.3 L623.3,616.8 L623.0,615.2 L622.8,613.6 L622.6,612.0 L622.4,610.4 L622.3,608.9 L622.3,607.3 L622.3,605.7 L622.3,604.1 L621.9,604.1 L621.9,605.7 L621.9,607.3 L621.9,608.9 L621.8,610.4 L621.6,612.0 L621.4,613.6 L621.1,615.2 L620.8,616.8 L620.5,618.3 L620.1,619.9 L619.7,621.5 L619.5,623.1 L619.9,624.7 L620.3,626.3 L620.9,627.8 L621.9,629.4Z" fill="url(#tg)"/><path d="M629.4,629.7 L629.8,628.7 L629.9,627.8 L629.3,626.8 L628.9,625.9 L628.5,625.0 L628.1,624.0 L627.9,623.1 L627.7,622.1 L627.5,621.2 L627.4,620.2 L627.4,619.3 L627.4,618.4 L627.4,617.4 L627.4,616.5 L627.4,615.5 L627.4,614.6 L627.0,614.6 L627.0,615.5 L627.0,616.5 L627.0,617.4 L627.0,618.4 L627.0,619.3 L627.0,620.2 L626.8,621.2 L626.7,622.1 L626.5,623.1 L626.2,624.0 L625.9,625.0 L625.5,625.9 L625.0,626.8 L624.5,627.8 L624.6,628.7 L625.0,629.7Z" fill="url(#og)"/><rect x="626.9" y="605.4" width="1.4" height="1.4" fill="#444"/><path d="M633.9,629.7 L634.7,628.1 L635.2,626.5 L635.5,624.9 L635.9,623.4 L636.1,621.8 L635.8,620.2 L635.4,618.6 L635.1,617.1 L634.8,615.5 L634.5,613.9 L634.3,612.3 L634.1,610.8 L633.9,609.2 L633.9,607.6 L633.9,606.0 L633.9,604.5 L633.5,604.5 L633.5,606.0 L633.5,607.6 L633.5,609.2 L633.4,610.8 L633.2,612.3 L633.0,613.9 L632.7,615.5 L632.4,617.1 L632.1,618.6 L631.7,620.2 L631.3,621.8 L631.6,623.4 L631.9,624.9 L632.3,626.5 L632.7,628.1 L633.5,629.7Z" fill="url(#tg)"/><path d="M640.8,629.7 L641.2,628.8 L641.0,627.9 L640.6,627.0 L640.2,626.1 L639.9,625.2 L639.6,624.3 L639.4,623.4 L639.2,622.5 L639.1,621.5 L639.0,620.6 L639.0,619.7 L639.0,618.8 L639.0,617.9 L639.0,617.0 L639.0,616.1 L639.0,615.2 L638.6,615.2 L638.6,616.1 L638.6,617.0 L638.6,617.9 L638.6,618.8 L638.6,619.7 L638.6,620.6 L638.6,621.5 L638.4,622.5 L638.3,623.4 L638.1,624.3 L637.8,625.2 L637.5,626.1 L637.1,627.0 L636.7,627.9 L636.4,628.8 L636.9,629.7Z" fill="url(#og)"/><rect x="638.5" y="605.4" width="1.4" height="1.4" fill="#444"/><rect x="408.20" y="632.60" width="233.30" height="29.40" fill="#dedede" stroke="#3a3a3a" stroke-width="0.9"/><line x1="419.87" y1="633.10" x2="419.87" y2="661.50" stroke="#f0f0f0" stroke-width="0.7"/><line x1="466.52" y1="633.10" x2="466.52" y2="661.50" stroke="#f0f0f0" stroke-width="0.7"/><line x1="501.52" y1="633.10" x2="501.52" y2="661.50" stroke="#f0f0f0" stroke-width="0.7"/><line x1="548.18" y1="633.10" x2="548.18" y2="661.50" stroke="#f0f0f0" stroke-width="0.7"/><line x1="571.51" y1="633.10" x2="571.51" y2="661.50" stroke="#f0f0f0" stroke-width="0.7"/><line x1="594.84" y1="633.10" x2="594.84" y2="661.50" stroke="#f0f0f0" stroke-width="0.7"/><line x1="606.50" y1="633.10" x2="606.50" y2="661.50" stroke="#f0f0f0" stroke-width="0.7"/><text x="404.8" y="636.2" font-size="5.7" fill="#333" text-anchor="end">2000</text><text x="404.8" y="661.2" font-size="5.7" fill="#333" text-anchor="end">0</text><line x1="406.60" y1="634.20" x2="408.00" y2="634.20" stroke="#333" stroke-width="0.5"/><line x1="406.60" y1="659.40" x2="408.00" y2="659.40" stroke="#333" stroke-width="0.5"/><path d="M412.3,658.3 L413.3,656.8 L413.8,655.4 L414.2,654.0 L414.6,652.5 L414.6,651.1 L414.2,649.7 L413.8,648.2 L413.4,646.8 L413.1,645.4 L412.9,643.9 L412.6,642.5 L412.4,641.1 L412.3,639.6 L412.3,638.2 L412.3,636.7 L412.3,635.3 L411.9,635.3 L411.9,636.7 L411.9,638.2 L411.9,639.6 L411.8,641.1 L411.6,642.5 L411.3,643.9 L411.1,645.4 L410.8,646.8 L410.4,648.2 L410.0,649.7 L409.6,651.1 L409.6,652.5 L410.0,654.0 L410.4,655.4 L410.9,656.8 L411.9,658.3Z" fill="url(#tg)"/><path d="M419.2,659.5 L419.6,658.7 L419.5,658.0 L419.0,657.2 L418.6,656.5 L418.3,655.7 L418.0,654.9 L417.8,654.2 L417.6,653.4 L417.5,652.7 L417.4,651.9 L417.4,651.2 L417.4,650.4 L417.4,649.7 L417.4,648.9 L417.4,648.2 L417.4,647.4 L417.0,647.4 L417.0,648.2 L417.0,648.9 L417.0,649.7 L417.0,650.4 L417.0,651.2 L417.0,651.9 L416.9,652.7 L416.8,653.4 L416.6,654.2 L416.4,654.9 L416.1,655.7 L415.8,656.5 L415.4,657.2 L414.9,658.0 L414.8,658.7 L415.2,659.5Z" fill="url(#og)"/><rect x="416.9" y="636.2" width="1.4" height="1.4" fill="#444"/><path d="M424.0,659.1 L425.1,657.6 L425.7,656.1 L426.2,654.6 L426.6,653.1 L426.2,651.6 L425.8,650.2 L425.4,648.7 L425.0,647.2 L424.7,645.7 L424.5,644.2 L424.3,642.8 L424.1,641.3 L424.0,639.8 L424.0,638.3 L424.0,636.8 L424.0,635.4 L423.6,635.4 L423.6,636.8 L423.6,638.3 L423.6,639.8 L423.4,641.3 L423.3,642.8 L423.0,644.2 L422.8,645.7 L422.5,647.2 L422.1,648.7 L421.8,650.2 L421.3,651.6 L421.0,653.1 L421.4,654.6 L421.8,656.1 L422.5,657.6 L423.6,659.1Z" fill="url(#tg)"/><path d="M431.0,660.4 L431.4,659.6 L431.2,658.8 L430.8,658.0 L430.3,657.1 L430.0,656.3 L429.7,655.5 L429.5,654.7 L429.3,653.9 L429.2,653.1 L429.1,652.2 L429.1,651.4 L429.1,650.6 L429.1,649.8 L429.1,649.0 L429.1,648.2 L429.1,647.3 L428.7,647.3 L428.7,648.2 L428.7,649.0 L428.7,649.8 L428.7,650.6 L428.7,651.4 L428.7,652.2 L428.6,653.1 L428.4,653.9 L428.2,654.7 L428.0,655.5 L427.7,656.3 L427.4,657.1 L427.0,658.0 L426.5,658.8 L426.3,659.6 L426.7,660.4Z" fill="url(#og)"/><rect x="428.6" y="636.2" width="1.4" height="1.4" fill="#444"/><path d="M435.6,659.1 L436.5,657.5 L437.0,656.0 L437.3,654.4 L437.7,652.9 L437.7,651.3 L437.3,649.8 L436.9,648.2 L436.6,646.7 L436.3,645.1 L436.1,643.5 L435.9,642.0 L435.7,640.4 L435.6,638.9 L435.6,637.3 L435.6,635.8 L435.6,634.2 L435.2,634.2 L435.2,635.8 L435.2,637.3 L435.2,638.9 L435.1,640.4 L435.0,642.0 L434.8,643.5 L434.5,645.1 L434.2,646.7 L433.9,648.2 L433.6,649.8 L433.2,651.3 L433.2,652.9 L433.5,654.4 L433.9,656.0 L434.4,657.5 L435.2,659.1Z" fill="url(#tg)"/><path d="M442.5,659.6 L442.9,658.7 L442.7,657.9 L442.3,657.0 L441.9,656.1 L441.6,655.3 L441.3,654.4 L441.1,653.5 L440.9,652.7 L440.8,651.8 L440.7,650.9 L440.7,650.0 L440.7,649.2 L440.7,648.3 L440.7,647.4 L440.7,646.6 L440.7,645.7 L440.3,645.7 L440.3,646.6 L440.3,647.4 L440.3,648.3 L440.3,649.2 L440.3,650.0 L440.3,650.9 L440.3,651.8 L440.1,652.7 L440.0,653.5 L439.7,654.4 L439.5,655.3 L439.2,656.1 L438.8,657.0 L438.4,657.9 L438.1,658.7 L438.6,659.6Z" fill="url(#og)"/><rect x="440.2" y="636.2" width="1.4" height="1.4" fill="#444"/><path d="M447.3,658.1 L448.2,656.7 L448.7,655.2 L449.1,653.8 L449.4,652.4 L449.6,650.9 L449.2,649.5 L448.8,648.1 L448.4,646.6 L448.1,645.2 L447.9,643.8 L447.6,642.3 L447.4,640.9 L447.3,639.5 L447.3,638.0 L447.3,636.6 L447.3,635.2 L446.9,635.2 L446.9,636.6 L446.9,638.0 L446.9,639.5 L446.8,640.9 L446.6,642.3 L446.3,643.8 L446.1,645.2 L445.7,646.6 L445.4,648.1 L445.0,649.5 L444.5,650.9 L444.8,652.4 L445.1,653.8 L445.5,655.2 L446.0,656.7 L446.9,658.1Z" fill="url(#tg)"/><path d="M454.1,659.6 L454.5,658.7 L454.5,657.9 L454.1,657.1 L453.7,656.3 L453.3,655.4 L453.0,654.6 L452.8,653.8 L452.6,653.0 L452.5,652.2 L452.4,651.3 L452.4,650.5 L452.4,649.7 L452.4,648.9 L452.4,648.0 L452.4,647.2 L452.4,646.4 L452.0,646.4 L452.0,647.2 L452.0,648.0 L452.0,648.9 L452.0,649.7 L452.0,650.5 L452.0,651.3 L451.9,652.2 L451.8,653.0 L451.6,653.8 L451.3,654.6 L451.1,655.4 L450.7,656.3 L450.3,657.1 L449.9,657.9 L449.9,658.7 L450.2,659.6Z" fill="url(#og)"/><rect x="451.9" y="636.2" width="1.4" height="1.4" fill="#444"/><path d="M459.0,659.2 L459.9,657.6 L460.4,656.1 L460.8,654.5 L461.1,652.9 L461.2,651.4 L460.8,649.8 L460.4,648.2 L460.0,646.7 L459.7,645.1 L459.5,643.6 L459.3,642.0 L459.1,640.4 L459.0,638.9 L459.0,637.3 L459.0,635.7 L459.0,634.2 L458.6,634.2 L458.6,635.7 L458.6,637.3 L458.6,638.9 L458.4,640.4 L458.3,642.0 L458.0,643.6 L457.8,645.1 L457.5,646.7 L457.1,648.2 L456.7,649.8 L456.3,651.4 L456.4,652.9 L456.7,654.5 L457.1,656.1 L457.7,657.6 L458.6,659.2Z" fill="url(#tg)"/><path d="M466.0,659.7 L466.4,659.0 L466.3,658.3 L465.8,657.6 L465.4,656.9 L465.1,656.2 L464.8,655.5 L464.5,654.9 L464.3,654.2 L464.2,653.5 L464.1,652.8 L464.1,652.1 L464.1,651.4 L464.1,650.7 L464.1,650.0 L464.1,649.3 L464.1,648.6 L463.7,648.6 L463.7,649.3 L463.7,650.0 L463.7,650.7 L463.7,651.4 L463.7,652.1 L463.7,652.8 L463.6,653.5 L463.4,654.2 L463.2,654.9 L463.0,655.5 L462.7,656.2 L462.3,656.9 L461.9,657.6 L461.4,658.3 L461.3,659.0 L461.7,659.7Z" fill="url(#og)"/><rect x="463.6" y="636.2" width="1.4" height="1.4" fill="#444"/><path d="M470.6,659.3 L471.6,657.8 L472.1,656.3 L472.5,654.9 L472.9,653.4 L473.2,651.9 L472.8,650.5 L472.4,649.0 L472.0,647.5 L471.6,646.1 L471.3,644.6 L471.0,643.1 L470.8,641.7 L470.6,640.2 L470.6,638.7 L470.6,637.3 L470.6,635.8 L470.2,635.8 L470.2,637.3 L470.2,638.7 L470.2,640.2 L470.0,641.7 L469.8,643.1 L469.6,644.6 L469.3,646.1 L468.9,647.5 L468.5,649.0 L468.0,650.5 L467.7,651.9 L468.0,653.4 L468.3,654.9 L468.8,656.3 L469.3,657.8 L470.2,659.3Z" fill="url(#tg)"/><path d="M476.6,655.0 L477.3,654.2 L477.7,653.5 L477.9,652.7 L478.1,652.0 L477.5,651.3 L477.1,650.5 L476.7,649.8 L476.4,649.0 L476.1,648.3 L475.9,647.5 L475.8,646.8 L475.7,646.1 L475.7,645.3 L475.7,644.6 L475.7,643.8 L475.7,643.1 L475.3,643.1 L475.3,643.8 L475.3,644.6 L475.3,645.3 L475.3,646.1 L475.3,646.8 L475.1,647.5 L474.9,648.3 L474.6,649.0 L474.3,649.8 L474.0,650.5 L473.5,651.3 L473.0,652.0 L473.1,652.7 L473.4,653.5 L473.7,654.2 L474.5,655.0Z" fill="url(#og)"/><path d="M482.3,658.7 L483.4,657.3 L483.9,655.9 L484.4,654.4 L484.8,653.0 L484.7,651.6 L484.3,650.2 L483.9,648.7 L483.5,647.3 L483.2,645.9 L482.9,644.5 L482.6,643.0 L482.4,641.6 L482.3,640.2 L482.3,638.8 L482.3,637.3 L482.3,635.9 L481.9,635.9 L481.9,637.3 L481.9,638.8 L481.9,640.2 L481.7,641.6 L481.5,643.0 L481.3,644.5 L481.0,645.9 L480.7,647.3 L480.3,648.7 L479.9,650.2 L479.5,651.6 L479.4,653.0 L479.8,654.4 L480.2,655.9 L480.8,657.3 L481.9,658.7Z" fill="url(#tg)"/><path d="M489.4,659.3 L489.8,658.3 L489.5,657.3 L489.1,656.3 L488.7,655.4 L488.3,654.4 L488.0,653.4 L487.8,652.4 L487.6,651.5 L487.5,650.5 L487.4,649.5 L487.4,648.5 L487.4,647.6 L487.4,646.6 L487.4,645.6 L487.4,644.6 L487.4,643.7 L487.0,643.7 L487.0,644.6 L487.0,645.6 L487.0,646.6 L487.0,647.6 L487.0,648.5 L487.0,649.5 L486.9,650.5 L486.8,651.5 L486.6,652.4 L486.3,653.4 L486.1,654.4 L485.7,655.4 L485.3,656.3 L484.8,657.3 L484.5,658.3 L485.0,659.3Z" fill="url(#og)"/><rect x="486.9" y="636.2" width="1.4" height="1.4" fill="#444"/><path d="M494.0,659.0 L494.9,657.5 L495.4,656.0 L495.8,654.5 L496.2,653.1 L496.4,651.6 L496.0,650.1 L495.6,648.6 L495.2,647.1 L494.8,645.7 L494.6,644.2 L494.3,642.7 L494.1,641.2 L494.0,639.8 L494.0,638.3 L494.0,636.8 L494.0,635.3 L493.6,635.3 L493.6,636.8 L493.6,638.3 L493.6,639.8 L493.4,641.2 L493.2,642.7 L493.0,644.2 L492.7,645.7 L492.3,647.1 L492.0,648.6 L491.5,650.1 L491.1,651.6 L491.4,653.1 L491.7,654.5 L492.1,656.0 L492.6,657.5 L493.6,659.0Z" fill="url(#tg)"/><path d="M499.9,655.1 L500.8,654.3 L501.1,653.6 L501.5,652.9 L501.1,652.1 L500.7,651.4 L500.3,650.7 L499.9,650.0 L499.7,649.2 L499.4,648.5 L499.2,647.8 L499.1,647.1 L499.1,646.3 L499.1,645.6 L499.1,644.9 L499.1,644.1 L499.1,643.4 L498.7,643.4 L498.7,644.1 L498.7,644.9 L498.7,645.6 L498.7,646.3 L498.6,647.1 L498.5,647.8 L498.3,648.5 L498.1,649.2 L497.8,650.0 L497.4,650.7 L497.0,651.4 L496.6,652.1 L496.3,652.9 L496.6,653.6 L496.9,654.3 L497.8,655.1Z" fill="url(#og)"/><path d="M505.6,658.2 L506.7,656.7 L507.2,655.2 L507.7,653.7 L508.1,652.3 L508.2,650.8 L507.7,649.3 L507.3,647.8 L506.9,646.3 L506.5,644.9 L506.2,643.4 L506.0,641.9 L505.8,640.4 L505.6,639.0 L505.6,637.5 L505.6,636.0 L505.6,634.5 L505.2,634.5 L505.2,636.0 L505.2,637.5 L505.2,639.0 L505.1,640.4 L504.9,641.9 L504.6,643.4 L504.3,644.9 L504.0,646.3 L503.6,647.8 L503.1,649.3 L502.7,650.8 L502.8,652.3 L503.2,653.7 L503.6,655.2 L504.2,656.7 L505.2,658.2Z" fill="url(#tg)"/><path d="M511.6,654.7 L512.5,653.8 L512.9,652.9 L513.2,652.1 L512.7,651.2 L512.2,650.3 L511.9,649.4 L511.5,648.6 L511.3,647.7 L511.0,646.8 L510.9,645.9 L510.7,645.1 L510.7,644.2 L510.7,643.3 L510.7,642.5 L510.7,641.6 L510.7,640.7 L510.3,640.7 L510.3,641.6 L510.3,642.5 L510.3,643.3 L510.3,644.2 L510.3,645.1 L510.2,645.9 L510.0,646.8 L509.8,647.7 L509.5,648.6 L509.2,649.4 L508.8,650.3 L508.4,651.2 L507.9,652.1 L508.2,652.9 L508.6,653.8 L509.5,654.7Z" fill="url(#og)"/><path d="M517.3,659.4 L518.1,657.8 L518.6,656.3 L519.0,654.8 L519.4,653.3 L519.4,651.7 L519.0,650.2 L518.7,648.7 L518.3,647.1 L518.0,645.6 L517.8,644.1 L517.6,642.6 L517.4,641.0 L517.3,639.5 L517.3,638.0 L517.3,636.4 L517.3,634.9 L516.9,634.9 L516.9,636.4 L516.9,638.0 L516.9,639.5 L516.8,641.0 L516.6,642.6 L516.4,644.1 L516.1,645.6 L515.8,647.1 L515.5,648.7 L515.1,650.2 L514.7,651.7 L514.8,653.3 L515.1,654.8 L515.5,656.3 L516.0,657.8 L516.9,659.4Z" fill="url(#tg)"/><path d="M523.1,654.6 L524.0,653.8 L524.4,653.0 L524.3,652.2 L523.9,651.4 L523.6,650.7 L523.3,649.9 L523.0,649.1 L522.8,648.3 L522.6,647.6 L522.5,646.8 L522.4,646.0 L522.4,645.2 L522.4,644.4 L522.4,643.7 L522.4,642.9 L522.4,642.1 L522.0,642.1 L522.0,642.9 L522.0,643.7 L522.0,644.4 L522.0,645.2 L522.0,646.0 L521.9,646.8 L521.8,647.6 L521.6,648.3 L521.4,649.1 L521.1,649.9 L520.8,650.7 L520.5,651.4 L520.1,652.2 L520.0,653.0 L520.4,653.8 L521.2,654.6Z" fill="url(#og)"/><path d="M529.0,658.9 L529.8,657.4 L530.2,655.9 L530.6,654.4 L530.9,653.0 L531.1,651.5 L530.7,650.0 L530.3,648.5 L530.0,647.1 L529.7,645.6 L529.4,644.1 L529.2,642.6 L529.1,641.2 L529.0,639.7 L529.0,638.2 L529.0,636.7 L529.0,635.3 L528.5,635.3 L528.5,636.7 L528.5,638.2 L528.5,639.7 L528.4,641.2 L528.3,642.6 L528.1,644.1 L527.8,645.6 L527.5,647.1 L527.2,648.5 L526.8,650.0 L526.4,651.5 L526.6,653.0 L526.9,654.4 L527.3,655.9 L527.7,657.4 L528.5,658.9Z" fill="url(#tg)"/><path d="M534.9,656.4 L535.8,655.7 L536.1,654.9 L536.5,654.2 L536.1,653.5 L535.7,652.8 L535.3,652.1 L534.9,651.4 L534.6,650.7 L534.4,649.9 L534.2,649.2 L534.1,648.5 L534.1,647.8 L534.1,647.1 L534.1,646.4 L534.1,645.7 L534.1,644.9 L533.6,644.9 L533.6,645.7 L533.6,646.4 L533.6,647.1 L533.6,647.8 L533.6,648.5 L533.5,649.2 L533.3,649.9 L533.1,650.7 L532.8,651.4 L532.4,652.1 L532.0,652.8 L531.6,653.5 L531.2,654.2 L531.6,654.9 L531.9,655.7 L532.8,656.4Z" fill="url(#og)"/><path d="M540.6,658.2 L541.5,656.7 L542.0,655.3 L542.4,653.8 L542.8,652.4 L542.6,651.0 L542.2,649.5 L541.9,648.1 L541.6,646.6 L541.3,645.2 L541.1,643.8 L540.9,642.3 L540.7,640.9 L540.6,639.4 L540.6,638.0 L540.6,636.6 L540.6,635.1 L540.2,635.1 L540.2,636.6 L540.2,638.0 L540.2,639.4 L540.1,640.9 L540.0,642.3 L539.8,643.8 L539.5,645.2 L539.3,646.6 L539.0,648.1 L538.6,649.5 L538.2,651.0 L538.1,652.4 L538.4,653.8 L538.8,655.3 L539.3,656.7 L540.2,658.2Z" fill="url(#tg)"/><path d="M546.6,655.7 L547.3,654.9 L547.7,654.0 L548.0,653.2 L547.9,652.3 L547.4,651.5 L547.0,650.6 L546.6,649.8 L546.4,648.9 L546.1,648.1 L545.9,647.3 L545.8,646.4 L545.7,645.6 L545.7,644.7 L545.7,643.9 L545.7,643.0 L545.7,642.2 L545.3,642.2 L545.3,643.0 L545.3,643.9 L545.3,644.7 L545.3,645.6 L545.3,646.4 L545.1,647.3 L544.9,648.1 L544.7,648.9 L544.4,649.8 L544.0,650.6 L543.6,651.5 L543.1,652.3 L543.1,653.2 L543.3,654.0 L543.7,654.9 L544.5,655.7Z" fill="url(#og)"/><path d="M552.3,658.5 L553.2,657.0 L553.8,655.5 L554.2,654.0 L554.5,652.5 L554.5,651.0 L554.1,649.6 L553.7,648.1 L553.3,646.6 L553.0,645.1 L552.8,643.6 L552.6,642.1 L552.4,640.6 L552.3,639.1 L552.3,637.6 L552.3,636.1 L552.3,634.6 L551.9,634.6 L551.9,636.1 L551.9,637.6 L551.9,639.1 L551.8,640.6 L551.6,642.1 L551.4,643.6 L551.1,645.1 L550.8,646.6 L550.5,648.1 L550.1,649.6 L549.7,651.0 L549.6,652.5 L550.0,654.0 L550.4,655.5 L550.9,657.0 L551.9,658.5Z" fill="url(#tg)"/><path d="M558.2,655.5 L559.0,654.8 L559.4,654.0 L559.7,653.3 L559.3,652.5 L558.9,651.8 L558.5,651.0 L558.2,650.3 L557.9,649.5 L557.7,648.7 L557.5,648.0 L557.4,647.2 L557.4,646.5 L557.4,645.7 L557.4,645.0 L557.4,644.2 L557.4,643.5 L557.0,643.5 L557.0,644.2 L557.0,645.0 L557.0,645.7 L557.0,646.5 L557.0,647.2 L556.8,648.0 L556.7,648.7 L556.4,649.5 L556.2,650.3 L555.9,651.0 L555.5,651.8 L555.1,652.5 L554.7,653.3 L555.0,654.0 L555.4,654.8 L556.2,655.5Z" fill="url(#og)"/><path d="M563.9,659.4 L564.9,658.0 L565.4,656.5 L565.8,655.0 L566.1,653.5 L566.4,652.0 L566.0,650.6 L565.6,649.1 L565.2,647.6 L564.8,646.1 L564.6,644.6 L564.3,643.2 L564.1,641.7 L563.9,640.2 L563.9,638.7 L563.9,637.2 L563.9,635.7 L563.5,635.7 L563.5,637.2 L563.5,638.7 L563.5,640.2 L563.4,641.7 L563.2,643.2 L562.9,644.6 L562.6,646.1 L562.3,647.6 L561.9,649.1 L561.5,650.6 L561.1,652.0 L561.4,653.5 L561.7,655.0 L562.1,656.5 L562.6,658.0 L563.5,659.4Z" fill="url(#tg)"/><path d="M569.9,654.8 L570.8,653.9 L571.2,653.0 L571.5,652.2 L571.0,651.3 L570.6,650.4 L570.2,649.6 L569.9,648.7 L569.6,647.8 L569.4,647.0 L569.2,646.1 L569.1,645.2 L569.0,644.3 L569.0,643.5 L569.0,642.6 L569.0,641.7 L569.0,640.9 L568.6,640.9 L568.6,641.7 L568.6,642.6 L568.6,643.5 L568.6,644.3 L568.6,645.2 L568.5,646.1 L568.3,647.0 L568.1,647.8 L567.8,648.7 L567.5,649.6 L567.1,650.4 L566.7,651.3 L566.1,652.2 L566.5,653.0 L566.9,653.9 L567.8,654.8Z" fill="url(#og)"/><path d="M575.6,658.9 L576.6,657.4 L577.1,655.8 L577.5,654.3 L577.9,652.7 L578.0,651.2 L577.6,649.6 L577.2,648.1 L576.8,646.5 L576.5,645.0 L576.2,643.4 L575.9,641.9 L575.8,640.3 L575.6,638.8 L575.6,637.2 L575.6,635.7 L575.6,634.1 L575.2,634.1 L575.2,635.7 L575.2,637.2 L575.2,638.8 L575.1,640.3 L574.9,641.9 L574.6,643.4 L574.4,645.0 L574.0,646.5 L573.7,648.1 L573.3,649.6 L572.8,651.2 L572.9,652.7 L573.3,654.3 L573.7,655.8 L574.2,657.4 L575.2,658.9Z" fill="url(#tg)"/><path d="M582.5,659.8 L582.9,658.8 L582.7,657.8 L582.3,656.8 L581.9,655.8 L581.6,654.8 L581.3,653.8 L581.1,652.8 L580.9,651.8 L580.8,650.8 L580.7,649.8 L580.7,648.8 L580.7,647.8 L580.7,646.8 L580.7,645.8 L580.7,644.8 L580.7,643.8 L580.3,643.8 L580.3,644.8 L580.3,645.8 L580.3,646.8 L580.3,647.8 L580.3,648.8 L580.3,649.8 L580.2,650.8 L580.1,651.8 L579.9,652.8 L579.7,653.8 L579.4,654.8 L579.1,655.8 L578.8,656.8 L578.3,657.8 L578.1,658.8 L578.5,659.8Z" fill="url(#og)"/><rect x="580.2" y="636.2" width="1.4" height="1.4" fill="#444"/><path d="M587.3,658.4 L588.3,657.0 L588.9,655.6 L589.3,654.1 L589.7,652.7 L589.3,651.3 L588.9,649.9 L588.6,648.5 L588.3,647.1 L588.0,645.6 L587.7,644.2 L587.5,642.8 L587.4,641.4 L587.3,640.0 L587.3,638.6 L587.3,637.1 L587.3,635.7 L586.9,635.7 L586.9,637.1 L586.9,638.6 L586.9,640.0 L586.8,641.4 L586.6,642.8 L586.4,644.2 L586.2,645.6 L585.9,647.1 L585.6,648.5 L585.2,649.9 L584.8,651.3 L584.5,652.7 L584.8,654.1 L585.3,655.6 L585.9,657.0 L586.9,658.4Z" fill="url(#tg)"/><path d="M594.3,660.0 L594.7,659.1 L594.6,658.1 L594.1,657.2 L593.7,656.3 L593.3,655.3 L593.0,654.4 L592.8,653.5 L592.6,652.5 L592.5,651.6 L592.4,650.7 L592.4,649.7 L592.4,648.8 L592.4,647.9 L592.4,646.9 L592.4,646.0 L592.4,645.1 L592.0,645.1 L592.0,646.0 L592.0,646.9 L592.0,647.9 L592.0,648.8 L592.0,649.7 L592.0,650.7 L591.9,651.6 L591.7,652.5 L591.5,653.5 L591.3,654.4 L591.0,655.3 L590.7,656.3 L590.3,657.2 L589.8,658.1 L589.7,659.1 L590.1,660.0Z" fill="url(#og)"/><rect x="591.9" y="636.2" width="1.4" height="1.4" fill="#444"/><path d="M598.9,658.9 L599.9,657.4 L600.4,656.0 L600.8,654.5 L601.2,653.0 L601.4,651.6 L600.9,650.1 L600.5,648.6 L600.1,647.1 L599.8,645.7 L599.5,644.2 L599.3,642.7 L599.1,641.2 L598.9,639.8 L598.9,638.3 L598.9,636.8 L598.9,635.4 L598.5,635.4 L598.5,636.8 L598.5,638.3 L598.5,639.8 L598.4,641.2 L598.2,642.7 L598.0,644.2 L597.7,645.7 L597.3,647.1 L597.0,648.6 L596.6,650.1 L596.1,651.6 L596.3,653.0 L596.7,654.5 L597.1,656.0 L597.6,657.4 L598.5,658.9Z" fill="url(#tg)"/><path d="M605.9,659.4 L606.3,658.5 L606.1,657.6 L605.7,656.7 L605.3,655.7 L604.9,654.8 L604.7,653.9 L604.4,653.0 L604.3,652.1 L604.1,651.2 L604.0,650.3 L604.0,649.4 L604.0,648.5 L604.0,647.6 L604.0,646.7 L604.0,645.8 L604.0,644.9 L603.6,644.9 L603.6,645.8 L603.6,646.7 L603.6,647.6 L603.6,648.5 L603.6,649.4 L603.6,650.3 L603.6,651.2 L603.4,652.1 L603.2,653.0 L603.0,653.9 L602.7,654.8 L602.4,655.7 L602.0,656.7 L601.6,657.6 L601.4,658.5 L601.8,659.4Z" fill="url(#og)"/><rect x="603.5" y="636.2" width="1.4" height="1.4" fill="#444"/><path d="M610.6,658.3 L611.7,656.9 L612.3,655.5 L612.8,654.1 L613.2,652.7 L612.9,651.3 L612.5,649.8 L612.1,648.4 L611.7,647.0 L611.4,645.6 L611.2,644.2 L610.9,642.8 L610.7,641.3 L610.6,639.9 L610.6,638.5 L610.6,637.1 L610.6,635.7 L610.2,635.7 L610.2,637.1 L610.2,638.5 L610.2,639.9 L610.1,641.3 L609.9,642.8 L609.7,644.2 L609.4,645.6 L609.1,647.0 L608.7,648.4 L608.3,649.8 L607.9,651.3 L607.6,652.7 L608.0,654.1 L608.5,655.5 L609.1,656.9 L610.2,658.3Z" fill="url(#tg)"/><path d="M616.4,654.5 L617.2,653.5 L617.6,652.6 L617.8,651.7 L617.4,650.8 L617.0,649.9 L616.7,649.0 L616.4,648.1 L616.2,647.2 L616.0,646.3 L615.8,645.4 L615.7,644.4 L615.7,643.5 L615.7,642.6 L615.7,641.7 L615.7,640.8 L615.7,639.9 L615.3,639.9 L615.3,640.8 L615.3,641.7 L615.3,642.6 L615.3,643.5 L615.3,644.4 L615.2,645.4 L615.0,646.3 L614.9,647.2 L614.6,648.1 L614.4,649.0 L614.0,649.9 L613.7,650.8 L613.2,651.7 L613.4,652.6 L613.8,653.5 L614.6,654.5Z" fill="url(#og)"/><path d="M622.3,658.5 L623.3,657.0 L623.9,655.5 L624.4,654.0 L624.8,652.5 L624.6,651.0 L624.1,649.5 L623.7,648.0 L623.4,646.5 L623.1,645.0 L622.8,643.5 L622.6,641.9 L622.4,640.4 L622.3,638.9 L622.3,637.4 L622.3,635.9 L622.3,634.4 L621.9,634.4 L621.9,635.9 L621.9,637.4 L621.9,638.9 L621.7,640.4 L621.6,641.9 L621.3,643.5 L621.1,645.0 L620.7,646.5 L620.4,648.0 L620.0,649.5 L619.6,651.0 L619.4,652.5 L619.8,654.0 L620.2,655.5 L620.8,657.0 L621.9,658.5Z" fill="url(#tg)"/><path d="M629.2,659.6 L629.6,658.9 L629.4,658.1 L628.9,657.4 L628.6,656.7 L628.2,655.9 L628.0,655.2 L627.8,654.5 L627.6,653.7 L627.4,653.0 L627.4,652.3 L627.4,651.5 L627.4,650.8 L627.4,650.0 L627.4,649.3 L627.4,648.6 L627.4,647.8 L627.0,647.8 L627.0,648.6 L627.0,649.3 L627.0,650.0 L627.0,650.8 L627.0,651.5 L627.0,652.3 L626.9,653.0 L626.8,653.7 L626.6,654.5 L626.4,655.2 L626.1,655.9 L625.8,656.7 L625.4,657.4 L625.0,658.1 L624.8,658.9 L625.2,659.6Z" fill="url(#og)"/><rect x="626.9" y="636.2" width="1.4" height="1.4" fill="#444"/><path d="M633.9,658.8 L634.8,657.3 L635.3,655.9 L635.7,654.4 L636.0,652.9 L636.2,651.5 L635.8,650.0 L635.4,648.6 L635.0,647.1 L634.7,645.7 L634.5,644.2 L634.2,642.8 L634.1,641.3 L633.9,639.9 L633.9,638.4 L633.9,637.0 L633.9,635.5 L633.5,635.5 L633.5,637.0 L633.5,638.4 L633.5,639.9 L633.4,641.3 L633.2,642.8 L633.0,644.2 L632.7,645.7 L632.4,647.1 L632.1,648.6 L631.7,650.0 L631.3,651.5 L631.5,652.9 L631.8,654.4 L632.2,655.9 L632.7,657.3 L633.5,658.8Z" fill="url(#tg)"/><path d="M640.9,660.1 L641.3,659.2 L641.1,658.3 L640.6,657.5 L640.3,656.6 L639.9,655.7 L639.7,654.9 L639.4,654.0 L639.3,653.1 L639.1,652.2 L639.0,651.4 L639.0,650.5 L639.0,649.6 L639.0,648.8 L639.0,647.9 L639.0,647.0 L639.0,646.2 L638.6,646.2 L638.6,647.0 L638.6,647.9 L638.6,648.8 L638.6,649.6 L638.6,650.5 L638.6,651.4 L638.6,652.2 L638.4,653.1 L638.2,654.0 L638.0,654.9 L637.7,655.7 L637.4,656.6 L637.0,657.5 L636.6,658.3 L636.4,659.2 L636.8,660.1Z" fill="url(#og)"/><rect x="638.5" y="636.2" width="1.4" height="1.4" fill="#444"/><rect x="408.20" y="662.40" width="233.30" height="29.40" fill="#dedede" stroke="#3a3a3a" stroke-width="0.9"/><line x1="419.87" y1="662.90" x2="419.87" y2="691.30" stroke="#f0f0f0" stroke-width="0.7"/><line x1="466.52" y1="662.90" x2="466.52" y2="691.30" stroke="#f0f0f0" stroke-width="0.7"/><line x1="501.52" y1="662.90" x2="501.52" y2="691.30" stroke="#f0f0f0" stroke-width="0.7"/><line x1="548.18" y1="662.90" x2="548.18" y2="691.30" stroke="#f0f0f0" stroke-width="0.7"/><line x1="571.51" y1="662.90" x2="571.51" y2="691.30" stroke="#f0f0f0" stroke-width="0.7"/><line x1="594.84" y1="662.90" x2="594.84" y2="691.30" stroke="#f0f0f0" stroke-width="0.7"/><line x1="606.50" y1="662.90" x2="606.50" y2="691.30" stroke="#f0f0f0" stroke-width="0.7"/><text x="404.8" y="666.0" font-size="5.7" fill="#333" text-anchor="end">2000</text><text x="404.8" y="691.0" font-size="5.7" fill="#333" text-anchor="end">0</text><line x1="406.60" y1="664.00" x2="408.00" y2="664.00" stroke="#333" stroke-width="0.5"/><line x1="406.60" y1="689.20" x2="408.00" y2="689.20" stroke="#333" stroke-width="0.5"/><path d="M412.3,689.1 L413.3,687.5 L413.9,686.0 L414.3,684.4 L414.7,682.8 L414.6,681.3 L414.2,679.7 L413.8,678.1 L413.4,676.6 L413.1,675.0 L412.9,673.4 L412.6,671.9 L412.4,670.3 L412.3,668.7 L412.3,667.1 L412.3,665.6 L412.3,664.0 L411.9,664.0 L411.9,665.6 L411.9,667.1 L411.9,668.7 L411.8,670.3 L411.6,671.9 L411.3,673.4 L411.1,675.0 L410.8,676.6 L410.4,678.1 L410.0,679.7 L409.6,681.3 L409.5,682.8 L409.9,684.4 L410.3,686.0 L410.9,687.5 L411.9,689.1Z" fill="url(#tg)"/><path d="M419.3,690.1 L419.8,689.2 L419.5,688.2 L419.0,687.3 L418.6,686.3 L418.3,685.4 L418.0,684.4 L417.8,683.5 L417.6,682.5 L417.5,681.5 L417.4,680.6 L417.4,679.6 L417.4,678.7 L417.4,677.7 L417.4,676.8 L417.4,675.8 L417.4,674.9 L417.0,674.9 L417.0,675.8 L417.0,676.8 L417.0,677.7 L417.0,678.7 L417.0,679.6 L417.0,680.6 L416.9,681.5 L416.8,682.5 L416.6,683.5 L416.4,684.4 L416.1,685.4 L415.8,686.3 L415.4,687.3 L414.9,688.2 L414.6,689.2 L415.1,690.1Z" fill="url(#og)"/><rect x="416.9" y="666.0" width="1.4" height="1.4" fill="#444"/><path d="M424.0,688.2 L424.9,686.8 L425.4,685.3 L425.8,683.9 L426.2,682.4 L426.2,681.0 L425.8,679.5 L425.4,678.1 L425.1,676.7 L424.8,675.2 L424.5,673.8 L424.3,672.3 L424.1,670.9 L424.0,669.4 L424.0,668.0 L424.0,666.5 L424.0,665.1 L423.6,665.1 L423.6,666.5 L423.6,668.0 L423.6,669.4 L423.4,670.9 L423.3,672.3 L423.0,673.8 L422.8,675.2 L422.5,676.7 L422.1,678.1 L421.7,679.5 L421.3,681.0 L421.3,682.4 L421.7,683.9 L422.1,685.3 L422.6,686.8 L423.6,688.2Z" fill="url(#tg)"/><path d="M431.0,689.0 L431.4,688.3 L431.3,687.5 L430.9,686.8 L430.4,686.0 L430.1,685.2 L429.8,684.5 L429.5,683.7 L429.3,682.9 L429.2,682.2 L429.1,681.4 L429.1,680.6 L429.1,679.9 L429.1,679.1 L429.1,678.3 L429.1,677.6 L429.1,676.8 L428.7,676.8 L428.7,677.6 L428.7,678.3 L428.7,679.1 L428.7,679.9 L428.7,680.6 L428.7,681.4 L428.6,682.2 L428.4,682.9 L428.2,683.7 L428.0,684.5 L427.7,685.2 L427.3,686.0 L426.9,686.8 L426.4,687.5 L426.3,688.3 L426.7,689.0Z" fill="url(#og)"/><rect x="428.6" y="666.0" width="1.4" height="1.4" fill="#444"/><path d="M435.6,688.8 L436.6,687.2 L437.1,685.7 L437.6,684.2 L437.9,682.7 L438.1,681.2 L437.6,679.7 L437.2,678.2 L436.9,676.7 L436.5,675.2 L436.2,673.7 L436.0,672.1 L435.8,670.6 L435.6,669.1 L435.6,667.6 L435.6,666.1 L435.6,664.6 L435.2,664.6 L435.2,666.1 L435.2,667.6 L435.2,669.1 L435.1,670.6 L434.9,672.1 L434.6,673.7 L434.3,675.2 L434.0,676.7 L433.6,678.2 L433.2,679.7 L432.7,681.2 L432.9,682.7 L433.3,684.2 L433.7,685.7 L434.3,687.2 L435.2,688.8Z" fill="url(#tg)"/><path d="M442.5,689.7 L442.9,688.9 L442.9,688.1 L442.4,687.3 L442.0,686.4 L441.7,685.6 L441.4,684.8 L441.2,684.0 L441.0,683.2 L440.8,682.3 L440.7,681.5 L440.7,680.7 L440.7,679.9 L440.7,679.1 L440.7,678.3 L440.7,677.4 L440.7,676.6 L440.3,676.6 L440.3,677.4 L440.3,678.3 L440.3,679.1 L440.3,679.9 L440.3,680.7 L440.3,681.5 L440.2,682.3 L440.1,683.2 L439.9,684.0 L439.7,684.8 L439.4,685.6 L439.0,686.4 L438.6,687.3 L438.2,688.1 L438.2,688.9 L438.5,689.7Z" fill="url(#og)"/><rect x="440.2" y="666.0" width="1.4" height="1.4" fill="#444"/><path d="M447.3,689.3 L448.3,687.8 L448.8,686.3 L449.3,684.8 L449.6,683.2 L449.4,681.7 L449.0,680.2 L448.6,678.7 L448.3,677.2 L448.0,675.7 L447.8,674.2 L447.6,672.7 L447.4,671.2 L447.3,669.7 L447.3,668.2 L447.3,666.7 L447.3,665.2 L446.9,665.2 L446.9,666.7 L446.9,668.2 L446.9,669.7 L446.8,671.2 L446.6,672.7 L446.4,674.2 L446.2,675.7 L445.9,677.2 L445.5,678.7 L445.2,680.2 L444.8,681.7 L444.6,683.2 L444.9,684.8 L445.4,686.3 L445.9,687.8 L446.9,689.3Z" fill="url(#tg)"/><path d="M454.1,689.5 L454.5,688.7 L454.4,687.8 L454.0,687.0 L453.6,686.2 L453.3,685.3 L453.0,684.5 L452.8,683.6 L452.6,682.8 L452.5,681.9 L452.4,681.1 L452.4,680.3 L452.4,679.4 L452.4,678.6 L452.4,677.7 L452.4,676.9 L452.4,676.0 L452.0,676.0 L452.0,676.9 L452.0,677.7 L452.0,678.6 L452.0,679.4 L452.0,680.3 L452.0,681.1 L451.9,681.9 L451.8,682.8 L451.6,683.6 L451.4,684.5 L451.1,685.3 L450.8,686.2 L450.4,687.0 L450.0,687.8 L449.9,688.7 L450.2,689.5Z" fill="url(#og)"/><rect x="451.9" y="666.0" width="1.4" height="1.4" fill="#444"/><path d="M459.0,689.1 L459.9,687.6 L460.4,686.1 L460.8,684.6 L461.2,683.2 L461.1,681.7 L460.7,680.2 L460.3,678.7 L460.0,677.3 L459.7,675.8 L459.4,674.3 L459.2,672.9 L459.1,671.4 L459.0,669.9 L459.0,668.4 L459.0,667.0 L459.0,665.5 L458.6,665.5 L458.6,667.0 L458.6,668.4 L458.6,669.9 L458.5,671.4 L458.3,672.9 L458.1,674.3 L457.8,675.8 L457.5,677.3 L457.2,678.7 L456.8,680.2 L456.4,681.7 L456.3,683.2 L456.7,684.6 L457.1,686.1 L457.6,687.6 L458.6,689.1Z" fill="url(#tg)"/><path d="M465.8,690.0 L466.3,689.4 L466.0,688.7 L465.6,688.1 L465.2,687.4 L464.9,686.8 L464.7,686.2 L464.4,685.5 L464.3,684.9 L464.1,684.2 L464.1,683.6 L464.1,682.9 L464.1,682.3 L464.1,681.7 L464.1,681.0 L464.1,680.4 L464.1,679.7 L463.7,679.7 L463.7,680.4 L463.7,681.0 L463.7,681.7 L463.7,682.3 L463.7,682.9 L463.7,683.6 L463.6,684.2 L463.5,684.9 L463.3,685.5 L463.1,686.2 L462.8,686.8 L462.5,687.4 L462.1,688.1 L461.7,688.7 L461.5,689.4 L461.9,690.0Z" fill="url(#og)"/><rect x="463.6" y="666.0" width="1.4" height="1.4" fill="#444"/><path d="M470.6,688.4 L471.6,686.9 L472.1,685.5 L472.5,684.1 L472.9,682.7 L472.6,681.2 L472.2,679.8 L471.9,678.4 L471.6,677.0 L471.3,675.6 L471.1,674.1 L470.9,672.7 L470.7,671.3 L470.6,669.9 L470.6,668.4 L470.6,667.0 L470.6,665.6 L470.2,665.6 L470.2,667.0 L470.2,668.4 L470.2,669.9 L470.1,671.3 L470.0,672.7 L469.8,674.1 L469.5,675.6 L469.3,677.0 L469.0,678.4 L468.6,679.8 L468.3,681.2 L468.0,682.7 L468.3,684.1 L468.7,685.5 L469.3,686.9 L470.2,688.4Z" fill="url(#tg)"/><path d="M476.5,685.2 L477.2,684.5 L477.6,683.8 L477.8,683.0 L477.8,682.3 L477.3,681.6 L476.9,680.9 L476.6,680.2 L476.3,679.5 L476.1,678.7 L475.9,678.0 L475.8,677.3 L475.7,676.6 L475.7,675.9 L475.7,675.2 L475.7,674.5 L475.7,673.7 L475.3,673.7 L475.3,674.5 L475.3,675.2 L475.3,675.9 L475.3,676.6 L475.3,677.3 L475.2,678.0 L475.0,678.7 L474.7,679.5 L474.5,680.2 L474.1,680.9 L473.7,681.6 L473.3,682.3 L473.2,683.0 L473.5,683.8 L473.8,684.5 L474.5,685.2Z" fill="url(#og)"/><path d="M482.3,689.0 L483.3,687.5 L483.9,686.0 L484.3,684.6 L484.7,683.1 L484.4,681.6 L484.0,680.1 L483.6,678.6 L483.3,677.1 L483.0,675.7 L482.8,674.2 L482.6,672.7 L482.4,671.2 L482.3,669.7 L482.3,668.3 L482.3,666.8 L482.3,665.3 L481.9,665.3 L481.9,666.8 L481.9,668.3 L481.9,669.7 L481.8,671.2 L481.6,672.7 L481.4,674.2 L481.2,675.7 L480.9,677.1 L480.6,678.6 L480.2,680.1 L479.8,681.6 L479.5,683.1 L479.8,684.6 L480.3,686.0 L480.9,687.5 L481.9,689.0Z" fill="url(#tg)"/><path d="M488.1,686.1 L488.9,685.2 L489.3,684.4 L489.4,683.6 L489.0,682.7 L488.6,681.9 L488.3,681.0 L488.0,680.2 L487.8,679.4 L487.6,678.5 L487.5,677.7 L487.4,676.9 L487.4,676.0 L487.4,675.2 L487.4,674.3 L487.4,673.5 L487.4,672.7 L487.0,672.7 L487.0,673.5 L487.0,674.3 L487.0,675.2 L487.0,676.0 L487.0,676.9 L486.9,677.7 L486.7,678.5 L486.6,679.4 L486.3,680.2 L486.1,681.0 L485.8,681.9 L485.4,682.7 L485.0,683.6 L485.1,684.4 L485.4,685.2 L486.3,686.1Z" fill="url(#og)"/><path d="M494.0,688.4 L494.9,687.0 L495.4,685.6 L495.8,684.1 L496.1,682.7 L496.3,681.3 L495.9,679.8 L495.5,678.4 L495.1,677.0 L494.8,675.6 L494.5,674.1 L494.3,672.7 L494.1,671.3 L494.0,669.8 L494.0,668.4 L494.0,667.0 L494.0,665.5 L493.6,665.5 L493.6,667.0 L493.6,668.4 L493.6,669.8 L493.4,671.3 L493.2,672.7 L493.0,674.1 L492.7,675.6 L492.4,677.0 L492.0,678.4 L491.6,679.8 L491.2,681.3 L491.4,682.7 L491.7,684.1 L492.1,685.6 L492.6,687.0 L493.6,688.4Z" fill="url(#tg)"/><path d="M499.8,686.8 L500.5,686.0 L500.8,685.2 L501.1,684.5 L501.2,683.7 L500.7,683.0 L500.3,682.2 L500.0,681.4 L499.7,680.7 L499.4,679.9 L499.2,679.1 L499.1,678.4 L499.1,677.6 L499.1,676.9 L499.1,676.1 L499.1,675.3 L499.1,674.6 L498.7,674.6 L498.7,675.3 L498.7,676.1 L498.7,676.9 L498.7,677.6 L498.6,678.4 L498.5,679.1 L498.3,679.9 L498.0,680.7 L497.7,681.4 L497.4,682.2 L497.0,683.0 L496.5,683.7 L496.6,684.5 L496.9,685.2 L497.2,686.0 L497.9,686.8Z" fill="url(#og)"/><path d="M505.6,688.8 L506.5,687.3 L506.9,685.9 L507.3,684.4 L507.6,682.9 L507.7,681.5 L507.3,680.0 L506.9,678.6 L506.6,677.1 L506.3,675.7 L506.1,674.2 L505.9,672.7 L505.7,671.3 L505.6,669.8 L505.6,668.4 L505.6,666.9 L505.6,665.5 L505.2,665.5 L505.2,666.9 L505.2,668.4 L505.2,669.8 L505.1,671.3 L505.0,672.7 L504.7,674.2 L504.5,675.7 L504.2,677.1 L503.9,678.6 L503.5,680.0 L503.2,681.5 L503.2,682.9 L503.5,684.4 L503.9,685.9 L504.4,687.3 L505.2,688.8Z" fill="url(#tg)"/><path d="M511.5,684.1 L512.4,683.2 L512.8,682.4 L512.9,681.5 L512.5,680.6 L512.1,679.7 L511.7,678.8 L511.4,678.0 L511.2,677.1 L511.0,676.2 L510.8,675.3 L510.7,674.4 L510.7,673.6 L510.7,672.7 L510.7,671.8 L510.7,670.9 L510.7,670.0 L510.3,670.0 L510.3,670.9 L510.3,671.8 L510.3,672.7 L510.3,673.6 L510.3,674.4 L510.2,675.3 L510.0,676.2 L509.8,677.1 L509.6,678.0 L509.3,678.8 L509.0,679.7 L508.6,680.6 L508.1,681.5 L508.2,682.4 L508.6,683.2 L509.5,684.1Z" fill="url(#og)"/><path d="M517.3,687.9 L518.3,686.4 L518.8,684.9 L519.3,683.4 L519.6,681.9 L520.0,680.5 L519.5,679.0 L519.0,677.5 L518.6,676.0 L518.3,674.5 L517.9,673.0 L517.7,671.5 L517.5,670.0 L517.3,668.5 L517.3,667.0 L517.3,665.6 L517.3,664.1 L516.9,664.1 L516.9,665.6 L516.9,667.0 L516.9,668.5 L516.7,670.0 L516.5,671.5 L516.2,673.0 L515.9,674.5 L515.6,676.0 L515.2,677.5 L514.7,679.0 L514.2,680.5 L514.5,681.9 L514.9,683.4 L515.3,684.9 L515.9,686.4 L516.9,687.9Z" fill="url(#tg)"/><path d="M524.2,689.4 L524.6,688.5 L524.4,687.7 L524.0,686.9 L523.6,686.1 L523.3,685.2 L523.0,684.4 L522.8,683.6 L522.6,682.8 L522.5,681.9 L522.4,681.1 L522.4,680.3 L522.4,679.5 L522.4,678.7 L522.4,677.8 L522.4,677.0 L522.4,676.2 L522.0,676.2 L522.0,677.0 L522.0,677.8 L522.0,678.7 L522.0,679.5 L522.0,680.3 L522.0,681.1 L521.9,681.9 L521.8,682.8 L521.6,683.6 L521.4,684.4 L521.1,685.2 L520.8,686.1 L520.4,686.9 L520.0,687.7 L519.8,688.5 L520.2,689.4Z" fill="url(#og)"/><rect x="521.9" y="666.0" width="1.4" height="1.4" fill="#444"/><path d="M529.0,688.3 L529.8,686.9 L530.3,685.4 L530.7,684.0 L531.0,682.5 L531.3,681.1 L530.9,679.6 L530.5,678.2 L530.1,676.8 L529.8,675.3 L529.5,673.9 L529.3,672.4 L529.1,671.0 L529.0,669.5 L529.0,668.1 L529.0,666.7 L529.0,665.2 L528.5,665.2 L528.5,666.7 L528.5,668.1 L528.5,669.5 L528.4,671.0 L528.2,672.4 L528.0,673.9 L527.7,675.3 L527.4,676.8 L527.0,678.2 L526.6,679.6 L526.2,681.1 L526.5,682.5 L526.8,684.0 L527.2,685.4 L527.7,686.9 L528.5,688.3Z" fill="url(#tg)"/><path d="M534.8,686.6 L535.6,685.9 L535.9,685.1 L536.1,684.4 L535.7,683.6 L535.3,682.8 L535.0,682.1 L534.7,681.3 L534.5,680.6 L534.3,679.8 L534.2,679.0 L534.1,678.3 L534.1,677.5 L534.1,676.8 L534.1,676.0 L534.1,675.3 L534.1,674.5 L533.6,674.5 L533.6,675.3 L533.6,676.0 L533.6,676.8 L533.6,677.5 L533.6,678.3 L533.5,679.0 L533.4,679.8 L533.2,680.6 L533.0,681.3 L532.7,682.1 L532.4,682.8 L532.0,683.6 L531.6,684.4 L531.8,685.1 L532.1,685.9 L532.9,686.6Z" fill="url(#og)"/><path d="M540.6,688.1 L541.5,686.7 L542.0,685.3 L542.4,683.9 L542.8,682.4 L542.6,681.0 L542.3,679.6 L541.9,678.2 L541.6,676.8 L541.3,675.3 L541.1,673.9 L540.9,672.5 L540.7,671.1 L540.6,669.7 L540.6,668.2 L540.6,666.8 L540.6,665.4 L540.2,665.4 L540.2,666.8 L540.2,668.2 L540.2,669.7 L540.1,671.1 L540.0,672.5 L539.8,673.9 L539.5,675.3 L539.2,676.8 L538.9,678.2 L538.6,679.6 L538.2,681.0 L538.1,682.4 L538.4,683.9 L538.8,685.3 L539.3,686.7 L540.2,688.1Z" fill="url(#tg)"/><path d="M546.5,686.5 L547.4,685.6 L547.7,684.8 L547.9,683.9 L547.4,683.1 L547.0,682.2 L546.7,681.3 L546.4,680.5 L546.2,679.6 L546.0,678.8 L545.8,677.9 L545.7,677.1 L545.7,676.2 L545.7,675.4 L545.7,674.5 L545.7,673.7 L545.7,672.8 L545.3,672.8 L545.3,673.7 L545.3,674.5 L545.3,675.4 L545.3,676.2 L545.3,677.1 L545.2,677.9 L545.0,678.8 L544.8,679.6 L544.6,680.5 L544.3,681.3 L544.0,682.2 L543.6,683.1 L543.1,683.9 L543.3,684.8 L543.7,685.6 L544.5,686.5Z" fill="url(#og)"/><path d="M552.3,688.7 L553.2,687.3 L553.7,685.9 L554.1,684.4 L554.4,683.0 L554.6,681.5 L554.2,680.1 L553.8,678.6 L553.4,677.2 L553.1,675.7 L552.8,674.3 L552.6,672.9 L552.4,671.4 L552.3,670.0 L552.3,668.5 L552.3,667.1 L552.3,665.6 L551.9,665.6 L551.9,667.1 L551.9,668.5 L551.9,670.0 L551.7,671.4 L551.6,672.9 L551.3,674.3 L551.0,675.7 L550.7,677.2 L550.4,678.6 L550.0,680.1 L549.5,681.5 L549.7,683.0 L550.1,684.4 L550.5,685.9 L551.0,687.3 L551.9,688.7Z" fill="url(#tg)"/><path d="M558.2,684.9 L559.0,684.1 L559.4,683.3 L559.7,682.5 L559.2,681.7 L558.8,680.9 L558.5,680.1 L558.1,679.3 L557.9,678.5 L557.7,677.7 L557.5,676.9 L557.4,676.1 L557.4,675.2 L557.4,674.4 L557.4,673.6 L557.4,672.8 L557.4,672.0 L557.0,672.0 L557.0,672.8 L557.0,673.6 L557.0,674.4 L557.0,675.2 L557.0,676.1 L556.8,676.9 L556.7,677.7 L556.5,678.5 L556.2,679.3 L555.9,680.1 L555.6,680.9 L555.1,681.7 L554.7,682.5 L555.0,683.3 L555.3,684.1 L556.2,684.9Z" fill="url(#og)"/><path d="M563.9,689.0 L564.9,687.5 L565.4,686.0 L565.8,684.5 L566.2,683.0 L566.0,681.5 L565.6,680.0 L565.3,678.5 L565.0,676.9 L564.7,675.4 L564.4,673.9 L564.2,672.4 L564.0,670.9 L563.9,669.4 L563.9,667.9 L563.9,666.4 L563.9,664.9 L563.5,664.9 L563.5,666.4 L563.5,667.9 L563.5,669.4 L563.4,670.9 L563.3,672.4 L563.1,673.9 L562.8,675.4 L562.5,676.9 L562.2,678.5 L561.8,680.0 L561.4,681.5 L561.3,683.0 L561.7,684.5 L562.1,686.0 L562.6,687.5 L563.5,689.0Z" fill="url(#tg)"/><path d="M569.8,686.2 L570.7,685.3 L571.1,684.4 L571.2,683.5 L570.7,682.6 L570.4,681.7 L570.0,680.7 L569.7,679.8 L569.5,678.9 L569.3,678.0 L569.2,677.1 L569.0,676.2 L569.0,675.3 L569.0,674.3 L569.0,673.4 L569.0,672.5 L569.0,671.6 L568.6,671.6 L568.6,672.5 L568.6,673.4 L568.6,674.3 L568.6,675.3 L568.6,676.2 L568.5,677.1 L568.4,678.0 L568.2,678.9 L567.9,679.8 L567.7,680.7 L567.3,681.7 L566.9,682.6 L566.5,683.5 L566.6,684.4 L567.0,685.3 L567.9,686.2Z" fill="url(#og)"/><path d="M575.6,689.3 L576.7,687.7 L577.2,686.1 L577.7,684.6 L578.1,683.0 L578.0,681.5 L577.5,679.9 L577.1,678.3 L576.8,676.8 L576.4,675.2 L576.2,673.7 L575.9,672.1 L575.7,670.6 L575.6,669.0 L575.6,667.4 L575.6,665.9 L575.6,664.3 L575.2,664.3 L575.2,665.9 L575.2,667.4 L575.2,669.0 L575.1,670.6 L574.9,672.1 L574.6,673.7 L574.4,675.2 L574.1,676.8 L573.7,678.3 L573.3,679.9 L572.8,681.5 L572.7,683.0 L573.1,684.6 L573.6,686.1 L574.2,687.7 L575.2,689.3Z" fill="url(#tg)"/><path d="M582.6,689.4 L583.1,688.7 L582.9,688.0 L582.5,687.3 L582.0,686.6 L581.7,685.9 L581.4,685.2 L581.2,684.5 L581.0,683.7 L580.8,683.0 L580.7,682.3 L580.7,681.6 L580.7,680.9 L580.7,680.2 L580.7,679.5 L580.7,678.8 L580.7,678.0 L580.3,678.0 L580.3,678.8 L580.3,679.5 L580.3,680.2 L580.3,680.9 L580.3,681.6 L580.3,682.3 L580.2,683.0 L580.1,683.7 L579.9,684.5 L579.6,685.2 L579.3,685.9 L579.0,686.6 L578.6,687.3 L578.1,688.0 L578.0,688.7 L578.4,689.4Z" fill="url(#og)"/><rect x="580.2" y="666.0" width="1.4" height="1.4" fill="#444"/><path d="M587.3,688.2 L588.2,686.7 L588.8,685.3 L589.2,683.8 L589.5,682.4 L589.4,680.9 L589.0,679.5 L588.6,678.0 L588.3,676.6 L588.0,675.1 L587.8,673.7 L587.6,672.2 L587.4,670.8 L587.3,669.3 L587.3,667.9 L587.3,666.4 L587.3,665.0 L586.9,665.0 L586.9,666.4 L586.9,667.9 L586.9,669.3 L586.8,670.8 L586.6,672.2 L586.4,673.7 L586.1,675.1 L585.9,676.6 L585.5,678.0 L585.2,679.5 L584.8,680.9 L584.6,682.4 L585.0,683.8 L585.4,685.3 L585.9,686.7 L586.9,688.2Z" fill="url(#tg)"/><path d="M594.3,689.5 L594.7,688.6 L594.6,687.7 L594.1,686.7 L593.7,685.8 L593.4,684.8 L593.1,683.9 L592.8,683.0 L592.6,682.0 L592.5,681.1 L592.4,680.2 L592.4,679.2 L592.4,678.3 L592.4,677.3 L592.4,676.4 L592.4,675.5 L592.4,674.5 L592.0,674.5 L592.0,675.5 L592.0,676.4 L592.0,677.3 L592.0,678.3 L592.0,679.2 L592.0,680.2 L591.9,681.1 L591.7,682.0 L591.5,683.0 L591.3,683.9 L591.0,684.8 L590.6,685.8 L590.2,686.7 L589.7,687.7 L589.6,688.6 L590.0,689.5Z" fill="url(#og)"/><rect x="591.9" y="666.0" width="1.4" height="1.4" fill="#444"/><path d="M598.9,688.8 L600.0,687.4 L600.6,685.9 L601.1,684.5 L601.5,683.0 L601.2,681.6 L600.8,680.1 L600.4,678.7 L600.0,677.2 L599.7,675.8 L599.5,674.4 L599.2,672.9 L599.1,671.5 L598.9,670.0 L598.9,668.6 L598.9,667.1 L598.9,665.7 L598.5,665.7 L598.5,667.1 L598.5,668.6 L598.5,670.0 L598.4,671.5 L598.2,672.9 L598.0,674.4 L597.7,675.8 L597.4,677.2 L597.1,678.7 L596.7,680.1 L596.3,681.6 L596.0,683.0 L596.4,684.5 L596.9,685.9 L597.5,687.4 L598.5,688.8Z" fill="url(#tg)"/><path d="M606.0,689.4 L606.4,688.5 L606.5,687.6 L605.9,686.7 L605.5,685.8 L605.1,684.8 L604.8,683.9 L604.5,683.0 L604.3,682.1 L604.2,681.2 L604.0,680.3 L604.0,679.4 L604.0,678.4 L604.0,677.5 L604.0,676.6 L604.0,675.7 L604.0,674.8 L603.6,674.8 L603.6,675.7 L603.6,676.6 L603.6,677.5 L603.6,678.4 L603.6,679.4 L603.6,680.3 L603.5,681.2 L603.4,682.1 L603.1,683.0 L602.9,683.9 L602.6,684.8 L602.2,685.8 L601.7,686.7 L601.2,687.6 L601.3,688.5 L601.7,689.4Z" fill="url(#og)"/><rect x="603.5" y="666.0" width="1.4" height="1.4" fill="#444"/><path d="M610.6,688.0 L611.7,686.5 L612.3,685.0 L612.7,683.6 L613.1,682.1 L613.0,680.6 L612.6,679.1 L612.2,677.7 L611.8,676.2 L611.5,674.7 L611.2,673.2 L610.9,671.8 L610.8,670.3 L610.6,668.8 L610.6,667.3 L610.6,665.9 L610.6,664.4 L610.2,664.4 L610.2,665.9 L610.2,667.3 L610.2,668.8 L610.1,670.3 L609.9,671.8 L609.6,673.2 L609.3,674.7 L609.0,676.2 L608.7,677.7 L608.2,679.1 L607.8,680.6 L607.7,682.1 L608.1,683.6 L608.5,685.0 L609.1,686.5 L610.2,688.0Z" fill="url(#tg)"/><path d="M617.5,689.8 L617.9,688.8 L617.7,687.8 L617.3,686.8 L616.9,685.8 L616.6,684.9 L616.3,683.9 L616.1,682.9 L615.9,681.9 L615.8,680.9 L615.7,679.9 L615.7,678.9 L615.7,677.9 L615.7,676.9 L615.7,675.9 L615.7,674.9 L615.7,673.9 L615.3,673.9 L615.3,674.9 L615.3,675.9 L615.3,676.9 L615.3,677.9 L615.3,678.9 L615.3,679.9 L615.2,680.9 L615.1,681.9 L614.9,682.9 L614.7,683.9 L614.4,684.9 L614.1,685.8 L613.7,686.8 L613.3,687.8 L613.1,688.8 L613.5,689.8Z" fill="url(#og)"/><rect x="615.2" y="666.0" width="1.4" height="1.4" fill="#444"/><path d="M622.3,688.4 L623.1,686.9 L623.6,685.4 L624.0,683.9 L624.3,682.4 L624.6,680.9 L624.2,679.4 L623.8,677.9 L623.4,676.4 L623.1,674.9 L622.8,673.4 L622.6,671.9 L622.4,670.4 L622.3,668.9 L622.3,667.4 L622.3,665.9 L622.3,664.4 L621.9,664.4 L621.9,665.9 L621.9,667.4 L621.9,668.9 L621.7,670.4 L621.5,671.9 L621.3,673.4 L621.0,674.9 L620.7,676.4 L620.4,677.9 L620.0,679.4 L619.5,680.9 L619.8,682.4 L620.2,683.9 L620.5,685.4 L621.0,686.9 L621.9,688.4Z" fill="url(#tg)"/><path d="M629.3,689.5 L629.7,688.6 L629.8,687.7 L629.3,686.8 L628.8,685.9 L628.4,685.0 L628.1,684.1 L627.9,683.2 L627.7,682.3 L627.5,681.4 L627.4,680.5 L627.4,679.6 L627.4,678.7 L627.4,677.8 L627.4,676.8 L627.4,675.9 L627.4,675.0 L627.0,675.0 L627.0,675.9 L627.0,676.8 L627.0,677.8 L627.0,678.7 L627.0,679.6 L627.0,680.5 L626.8,681.4 L626.7,682.3 L626.5,683.2 L626.2,684.1 L625.9,685.0 L625.5,685.9 L625.1,686.8 L624.5,687.7 L624.6,688.6 L625.0,689.5Z" fill="url(#og)"/><rect x="626.9" y="666.0" width="1.4" height="1.4" fill="#444"/><path d="M633.9,688.0 L635.0,686.6 L635.6,685.2 L636.0,683.8 L636.4,682.4 L636.4,681.0 L636.0,679.6 L635.5,678.2 L635.2,676.8 L634.8,675.4 L634.5,674.0 L634.3,672.6 L634.1,671.1 L633.9,669.7 L633.9,668.3 L633.9,666.9 L633.9,665.5 L633.5,665.5 L633.5,666.9 L633.5,668.3 L633.5,669.7 L633.4,671.1 L633.2,672.6 L632.9,674.0 L632.6,675.4 L632.3,676.8 L631.9,678.2 L631.5,679.6 L631.0,681.0 L631.1,682.4 L631.5,683.8 L631.9,685.2 L632.5,686.6 L633.5,688.0Z" fill="url(#tg)"/><path d="M641.1,689.4 L641.5,688.6 L641.5,687.8 L640.9,686.9 L640.5,686.1 L640.1,685.3 L639.8,684.5 L639.5,683.7 L639.3,682.8 L639.2,682.0 L639.0,681.2 L639.0,680.4 L639.0,679.6 L639.0,678.8 L639.0,677.9 L639.0,677.1 L639.0,676.3 L638.6,676.3 L638.6,677.1 L638.6,677.9 L638.6,678.8 L638.6,679.6 L638.6,680.4 L638.6,681.2 L638.5,682.0 L638.3,682.8 L638.1,683.7 L637.9,684.5 L637.6,685.3 L637.2,686.1 L636.7,686.9 L636.2,687.8 L636.2,688.6 L636.6,689.4Z" fill="url(#og)"/><rect x="638.5" y="666.0" width="1.4" height="1.4" fill="#444"/><rect x="408.20" y="692.30" width="233.30" height="29.60" fill="#dedede" stroke="#3a3a3a" stroke-width="0.9"/><line x1="419.87" y1="692.80" x2="419.87" y2="721.40" stroke="#f0f0f0" stroke-width="0.7"/><line x1="466.52" y1="692.80" x2="466.52" y2="721.40" stroke="#f0f0f0" stroke-width="0.7"/><line x1="501.52" y1="692.80" x2="501.52" y2="721.40" stroke="#f0f0f0" stroke-width="0.7"/><line x1="548.18" y1="692.80" x2="548.18" y2="721.40" stroke="#f0f0f0" stroke-width="0.7"/><line x1="571.51" y1="692.80" x2="571.51" y2="721.40" stroke="#f0f0f0" stroke-width="0.7"/><line x1="594.84" y1="692.80" x2="594.84" y2="721.40" stroke="#f0f0f0" stroke-width="0.7"/><line x1="606.50" y1="692.80" x2="606.50" y2="721.40" stroke="#f0f0f0" stroke-width="0.7"/><text x="404.8" y="695.9" font-size="5.7" fill="#333" text-anchor="end">2000</text><text x="404.8" y="721.1" font-size="5.7" fill="#333" text-anchor="end">0</text><line x1="406.60" y1="693.90" x2="408.00" y2="693.90" stroke="#333" stroke-width="0.5"/><line x1="406.60" y1="719.30" x2="408.00" y2="719.30" stroke="#333" stroke-width="0.5"/><path d="M412.3,718.8 L413.3,717.3 L413.8,715.8 L414.2,714.3 L414.6,712.8 L414.3,711.4 L413.9,709.9 L413.6,708.4 L413.3,706.9 L413.0,705.5 L412.8,704.0 L412.6,702.5 L412.4,701.0 L412.3,699.6 L412.3,698.1 L412.3,696.6 L412.3,695.1 L411.9,695.1 L411.9,696.6 L411.9,698.1 L411.9,699.6 L411.8,701.0 L411.6,702.5 L411.4,704.0 L411.2,705.5 L410.9,706.9 L410.6,708.4 L410.3,709.9 L409.9,711.4 L409.6,712.8 L410.0,714.3 L410.4,715.8 L410.9,717.3 L411.9,718.8Z" fill="url(#tg)"/><path d="M419.1,719.9 L419.5,719.2 L419.3,718.5 L418.9,717.9 L418.5,717.2 L418.2,716.5 L418.0,715.8 L417.8,715.2 L417.6,714.5 L417.5,713.8 L417.4,713.1 L417.4,712.5 L417.4,711.8 L417.4,711.1 L417.4,710.4 L417.4,709.8 L417.4,709.1 L417.0,709.1 L417.0,709.8 L417.0,710.4 L417.0,711.1 L417.0,711.8 L417.0,712.5 L417.0,713.1 L416.9,713.8 L416.8,714.5 L416.6,715.2 L416.4,715.8 L416.2,716.5 L415.9,717.2 L415.5,717.9 L415.1,718.5 L414.9,719.2 L415.3,719.9Z" fill="url(#og)"/><rect x="416.9" y="695.9" width="1.4" height="1.4" fill="#444"/><path d="M424.0,718.7 L424.8,717.3 L425.3,715.8 L425.6,714.3 L426.0,712.9 L426.1,711.4 L425.7,709.9 L425.3,708.5 L425.0,707.0 L424.7,705.6 L424.5,704.1 L424.2,702.6 L424.1,701.2 L424.0,699.7 L424.0,698.3 L424.0,696.8 L424.0,695.3 L423.6,695.3 L423.6,696.8 L423.6,698.3 L423.6,699.7 L423.5,701.2 L423.3,702.6 L423.1,704.1 L422.8,705.6 L422.5,707.0 L422.2,708.5 L421.8,709.9 L421.4,711.4 L421.6,712.9 L421.9,714.3 L422.3,715.8 L422.7,717.3 L423.6,718.7Z" fill="url(#tg)"/><path d="M430.9,720.3 L431.3,719.4 L431.2,718.6 L430.7,717.8 L430.3,717.0 L430.0,716.2 L429.7,715.4 L429.5,714.5 L429.3,713.7 L429.2,712.9 L429.1,712.1 L429.1,711.3 L429.1,710.5 L429.1,709.6 L429.1,708.8 L429.1,708.0 L429.1,707.2 L428.7,707.2 L428.7,708.0 L428.7,708.8 L428.7,709.6 L428.7,710.5 L428.7,711.3 L428.7,712.1 L428.6,712.9 L428.4,713.7 L428.3,714.5 L428.0,715.4 L427.8,716.2 L427.4,717.0 L427.0,717.8 L426.6,718.6 L426.5,719.4 L426.9,720.3Z" fill="url(#og)"/><rect x="428.6" y="695.9" width="1.4" height="1.4" fill="#444"/><path d="M435.6,718.3 L436.5,716.9 L437.0,715.4 L437.4,713.9 L437.7,712.4 L438.0,710.9 L437.5,709.4 L437.1,708.0 L436.8,706.5 L436.5,705.0 L436.2,703.5 L436.0,702.0 L435.8,700.6 L435.6,699.1 L435.6,697.6 L435.6,696.1 L435.6,694.6 L435.2,694.6 L435.2,696.1 L435.2,697.6 L435.2,699.1 L435.1,700.6 L434.9,702.0 L434.7,703.5 L434.4,705.0 L434.1,706.5 L433.7,708.0 L433.3,709.4 L432.9,710.9 L433.1,712.4 L433.5,713.9 L433.8,715.4 L434.4,716.9 L435.2,718.3Z" fill="url(#tg)"/><path d="M442.7,720.2 L443.1,719.5 L443.1,718.7 L442.6,718.0 L442.2,717.2 L441.8,716.5 L441.5,715.7 L441.2,715.0 L441.0,714.2 L440.9,713.4 L440.7,712.7 L440.7,711.9 L440.7,711.2 L440.7,710.4 L440.7,709.7 L440.7,708.9 L440.7,708.2 L440.3,708.2 L440.3,708.9 L440.3,709.7 L440.3,710.4 L440.3,711.2 L440.3,711.9 L440.3,712.7 L440.2,713.4 L440.0,714.2 L439.8,715.0 L439.6,715.7 L439.3,716.5 L438.9,717.2 L438.5,718.0 L438.0,718.7 L438.0,719.5 L438.4,720.2Z" fill="url(#og)"/><rect x="440.2" y="695.9" width="1.4" height="1.4" fill="#444"/><path d="M447.3,717.9 L448.3,716.5 L448.9,715.0 L449.3,713.5 L449.7,712.0 L449.5,710.6 L449.1,709.1 L448.7,707.6 L448.4,706.1 L448.1,704.6 L447.8,703.2 L447.6,701.7 L447.4,700.2 L447.3,698.7 L447.3,697.3 L447.3,695.8 L447.3,694.3 L446.9,694.3 L446.9,695.8 L446.9,697.3 L446.9,698.7 L446.8,700.2 L446.6,701.7 L446.4,703.2 L446.1,704.6 L445.8,706.1 L445.5,707.6 L445.1,709.1 L444.7,710.6 L444.5,712.0 L444.9,713.5 L445.3,715.0 L445.9,716.5 L446.9,717.9Z" fill="url(#tg)"/><path d="M454.2,719.5 L454.6,718.5 L454.4,717.6 L454.0,716.7 L453.6,715.7 L453.3,714.8 L453.0,713.8 L452.8,712.9 L452.6,711.9 L452.5,711.0 L452.4,710.1 L452.4,709.1 L452.4,708.2 L452.4,707.2 L452.4,706.3 L452.4,705.4 L452.4,704.4 L452.0,704.4 L452.0,705.4 L452.0,706.3 L452.0,707.2 L452.0,708.2 L452.0,709.1 L452.0,710.1 L451.9,711.0 L451.8,711.9 L451.6,712.9 L451.4,713.8 L451.1,714.8 L450.8,715.7 L450.4,716.7 L450.0,717.6 L449.8,718.5 L450.2,719.5Z" fill="url(#og)"/><rect x="451.9" y="695.9" width="1.4" height="1.4" fill="#444"/><path d="M459.0,718.0 L459.9,716.5 L460.4,715.1 L460.8,713.6 L461.1,712.1 L461.5,710.7 L461.0,709.2 L460.6,707.7 L460.2,706.3 L459.9,704.8 L459.6,703.3 L459.3,701.8 L459.1,700.4 L459.0,698.9 L459.0,697.4 L459.0,696.0 L459.0,694.5 L458.6,694.5 L458.6,696.0 L458.6,697.4 L458.6,698.9 L458.4,700.4 L458.2,701.8 L457.9,703.3 L457.7,704.8 L457.3,706.3 L456.9,707.7 L456.5,709.2 L456.1,710.7 L456.4,712.1 L456.7,713.6 L457.1,715.1 L457.6,716.5 L458.6,718.0Z" fill="url(#tg)"/><path d="M465.8,720.0 L466.2,719.1 L466.0,718.2 L465.6,717.3 L465.2,716.4 L464.9,715.4 L464.6,714.5 L464.4,713.6 L464.3,712.7 L464.1,711.8 L464.1,710.8 L464.1,709.9 L464.1,709.0 L464.1,708.1 L464.1,707.2 L464.1,706.3 L464.1,705.3 L463.7,705.3 L463.7,706.3 L463.7,707.2 L463.7,708.1 L463.7,709.0 L463.7,709.9 L463.7,710.8 L463.6,711.8 L463.5,712.7 L463.3,713.6 L463.1,714.5 L462.8,715.4 L462.5,716.4 L462.1,717.3 L461.7,718.2 L461.6,719.1 L461.9,720.0Z" fill="url(#og)"/><rect x="463.6" y="695.9" width="1.4" height="1.4" fill="#444"/><path d="M470.6,719.1 L471.6,717.6 L472.1,716.1 L472.6,714.5 L472.9,713.0 L472.5,711.4 L472.2,709.9 L471.8,708.4 L471.5,706.8 L471.3,705.3 L471.1,703.7 L470.9,702.2 L470.7,700.7 L470.6,699.1 L470.6,697.6 L470.6,696.0 L470.6,694.5 L470.2,694.5 L470.2,696.0 L470.2,697.6 L470.2,699.1 L470.1,700.7 L470.0,702.2 L469.8,703.7 L469.6,705.3 L469.3,706.8 L469.0,708.4 L468.7,709.9 L468.3,711.4 L467.9,713.0 L468.3,714.5 L468.7,716.1 L469.3,717.6 L470.2,719.1Z" fill="url(#tg)"/><path d="M476.5,714.5 L477.3,713.8 L477.7,713.0 L478.0,712.3 L477.7,711.6 L477.3,710.8 L476.9,710.1 L476.6,709.4 L476.3,708.6 L476.1,707.9 L475.9,707.2 L475.7,706.5 L475.7,705.7 L475.7,705.0 L475.7,704.3 L475.7,703.5 L475.7,702.8 L475.3,702.8 L475.3,703.5 L475.3,704.3 L475.3,705.0 L475.3,705.7 L475.3,706.5 L475.2,707.2 L475.0,707.9 L474.8,708.6 L474.5,709.4 L474.2,710.1 L473.8,710.8 L473.3,711.6 L473.1,712.3 L473.4,713.0 L473.7,713.8 L474.5,714.5Z" fill="url(#og)"/><path d="M482.3,718.1 L483.3,716.7 L483.9,715.3 L484.3,713.9 L484.7,712.5 L484.5,711.1 L484.0,709.6 L483.7,708.2 L483.3,706.8 L483.0,705.4 L482.8,704.0 L482.6,702.6 L482.4,701.2 L482.3,699.7 L482.3,698.3 L482.3,696.9 L482.3,695.5 L481.9,695.5 L481.9,696.9 L481.9,698.3 L481.9,699.7 L481.8,701.2 L481.6,702.6 L481.4,704.0 L481.1,705.4 L480.8,706.8 L480.5,708.2 L480.1,709.6 L479.7,711.1 L479.5,712.5 L479.8,713.9 L480.3,715.3 L480.9,716.7 L481.9,718.1Z" fill="url(#tg)"/><path d="M489.4,719.4 L489.9,718.7 L489.7,718.1 L489.2,717.4 L488.8,716.8 L488.4,716.1 L488.1,715.4 L487.8,714.8 L487.7,714.1 L487.5,713.5 L487.4,712.8 L487.4,712.1 L487.4,711.5 L487.4,710.8 L487.4,710.1 L487.4,709.5 L487.4,708.8 L487.0,708.8 L487.0,709.5 L487.0,710.1 L487.0,710.8 L487.0,711.5 L487.0,712.1 L487.0,712.8 L486.9,713.5 L486.7,714.1 L486.5,714.8 L486.3,715.4 L486.0,716.1 L485.6,716.8 L485.2,717.4 L484.7,718.1 L484.5,718.7 L485.0,719.4Z" fill="url(#og)"/><rect x="486.9" y="695.9" width="1.4" height="1.4" fill="#444"/><path d="M494.0,719.0 L494.8,717.5 L495.3,715.9 L495.7,714.4 L496.0,712.8 L496.3,711.3 L495.9,709.7 L495.5,708.2 L495.1,706.6 L494.8,705.1 L494.5,703.5 L494.3,702.0 L494.1,700.4 L494.0,698.9 L494.0,697.3 L494.0,695.8 L494.0,694.2 L493.6,694.2 L493.6,695.8 L493.6,697.3 L493.6,698.9 L493.4,700.4 L493.2,702.0 L493.0,703.5 L492.7,705.1 L492.4,706.6 L492.0,708.2 L491.6,709.7 L491.2,711.3 L491.5,712.8 L491.8,714.4 L492.2,715.9 L492.7,717.5 L493.6,719.0Z" fill="url(#tg)"/><path d="M499.9,714.3 L500.8,713.5 L501.2,712.6 L501.3,711.7 L500.9,710.8 L500.5,710.0 L500.1,709.1 L499.8,708.2 L499.6,707.3 L499.4,706.5 L499.2,705.6 L499.1,704.7 L499.1,703.8 L499.1,703.0 L499.1,702.1 L499.1,701.2 L499.1,700.4 L498.7,700.4 L498.7,701.2 L498.7,702.1 L498.7,703.0 L498.7,703.8 L498.6,704.7 L498.5,705.6 L498.4,706.5 L498.2,707.3 L497.9,708.2 L497.6,709.1 L497.2,710.0 L496.8,710.8 L496.4,711.7 L496.5,712.6 L496.9,713.5 L497.8,714.3Z" fill="url(#og)"/><path d="M505.6,718.9 L506.5,717.4 L507.0,715.9 L507.4,714.3 L507.7,712.8 L508.0,711.3 L507.6,709.7 L507.2,708.2 L506.8,706.7 L506.5,705.1 L506.2,703.6 L506.0,702.1 L505.8,700.5 L505.6,699.0 L505.6,697.5 L505.6,695.9 L505.6,694.4 L505.2,694.4 L505.2,695.9 L505.2,697.5 L505.2,699.0 L505.1,700.5 L504.9,702.1 L504.6,703.6 L504.3,705.1 L504.0,706.7 L503.6,708.2 L503.2,709.7 L502.8,711.3 L503.1,712.8 L503.5,714.3 L503.9,715.9 L504.4,717.4 L505.2,718.9Z" fill="url(#tg)"/><path d="M511.6,713.9 L512.4,713.2 L512.7,712.5 L513.0,711.8 L513.1,711.1 L512.6,710.4 L512.1,709.7 L511.8,709.0 L511.4,708.2 L511.2,707.5 L511.0,706.8 L510.8,706.1 L510.7,705.4 L510.7,704.7 L510.7,704.0 L510.7,703.3 L510.7,702.6 L510.3,702.6 L510.3,703.3 L510.3,704.0 L510.3,704.7 L510.3,705.4 L510.3,706.1 L510.1,706.8 L509.9,707.5 L509.6,708.2 L509.3,709.0 L508.9,709.7 L508.4,710.4 L507.9,711.1 L508.0,711.8 L508.3,712.5 L508.7,713.2 L509.4,713.9Z" fill="url(#og)"/><path d="M517.3,718.7 L518.3,717.2 L518.9,715.8 L519.4,714.3 L519.8,712.8 L519.5,711.4 L519.1,709.9 L518.7,708.4 L518.4,706.9 L518.1,705.5 L517.8,704.0 L517.6,702.5 L517.4,701.1 L517.3,699.6 L517.3,698.1 L517.3,696.7 L517.3,695.2 L516.9,695.2 L516.9,696.7 L516.9,698.1 L516.9,699.6 L516.8,701.1 L516.6,702.5 L516.4,704.0 L516.1,705.5 L515.8,706.9 L515.4,708.4 L515.1,709.9 L514.6,711.4 L514.4,712.8 L514.8,714.3 L515.2,715.8 L515.8,717.2 L516.9,718.7Z" fill="url(#tg)"/><path d="M523.2,715.1 L524.0,714.1 L524.4,713.2 L524.6,712.3 L524.8,711.3 L524.2,710.4 L523.8,709.5 L523.4,708.5 L523.1,707.6 L522.8,706.7 L522.6,705.7 L522.4,704.8 L522.4,703.9 L522.4,702.9 L522.4,702.0 L522.4,701.1 L522.4,700.1 L522.0,700.1 L522.0,701.1 L522.0,702.0 L522.0,702.9 L522.0,703.9 L521.9,704.8 L521.8,705.7 L521.6,706.7 L521.3,707.6 L521.0,708.5 L520.6,709.5 L520.1,710.4 L519.6,711.3 L519.7,712.3 L520.0,713.2 L520.4,714.1 L521.1,715.1Z" fill="url(#og)"/><path d="M529.0,719.3 L529.8,717.8 L530.3,716.3 L530.7,714.8 L531.0,713.3 L531.3,711.8 L531.0,710.3 L530.6,708.8 L530.2,707.3 L529.9,705.7 L529.6,704.2 L529.3,702.7 L529.1,701.2 L529.0,699.7 L529.0,698.2 L529.0,696.7 L529.0,695.2 L528.5,695.2 L528.5,696.7 L528.5,698.2 L528.5,699.7 L528.4,701.2 L528.2,702.7 L527.9,704.2 L527.6,705.7 L527.3,707.3 L526.9,708.8 L526.5,710.3 L526.2,711.8 L526.5,713.3 L526.8,714.8 L527.2,716.3 L527.7,717.8 L528.5,719.3Z" fill="url(#tg)"/><path d="M534.8,716.4 L535.5,715.6 L535.8,714.7 L536.0,713.9 L536.0,713.1 L535.6,712.3 L535.2,711.5 L534.9,710.6 L534.6,709.8 L534.4,709.0 L534.2,708.2 L534.1,707.3 L534.1,706.5 L534.1,705.7 L534.1,704.9 L534.1,704.0 L534.1,703.2 L533.6,703.2 L533.6,704.0 L533.6,704.9 L533.6,705.7 L533.6,706.5 L533.6,707.3 L533.5,708.2 L533.3,709.0 L533.1,709.8 L532.8,710.6 L532.5,711.5 L532.1,712.3 L531.7,713.1 L531.7,713.9 L531.9,714.7 L532.2,715.6 L532.9,716.4Z" fill="url(#og)"/><path d="M540.6,718.3 L541.6,716.8 L542.1,715.3 L542.5,713.7 L542.9,712.2 L542.6,710.7 L542.2,709.1 L541.9,707.6 L541.6,706.1 L541.3,704.6 L541.1,703.0 L540.9,701.5 L540.7,700.0 L540.6,698.4 L540.6,696.9 L540.6,695.4 L540.6,693.9 L540.2,693.9 L540.2,695.4 L540.2,696.9 L540.2,698.4 L540.1,700.0 L540.0,701.5 L539.8,703.0 L539.5,704.6 L539.2,706.1 L538.9,707.6 L538.6,709.1 L538.2,710.7 L537.9,712.2 L538.3,713.7 L538.7,715.3 L539.3,716.8 L540.2,718.3Z" fill="url(#tg)"/><path d="M546.4,715.0 L547.1,714.1 L547.4,713.3 L547.6,712.5 L547.8,711.6 L547.3,710.8 L546.9,709.9 L546.6,709.1 L546.3,708.2 L546.1,707.4 L545.9,706.5 L545.7,705.7 L545.7,704.9 L545.7,704.0 L545.7,703.2 L545.7,702.3 L545.7,701.5 L545.3,701.5 L545.3,702.3 L545.3,703.2 L545.3,704.0 L545.3,704.9 L545.3,705.7 L545.1,706.5 L545.0,707.4 L544.7,708.2 L544.4,709.1 L544.1,709.9 L543.7,710.8 L543.2,711.6 L543.4,712.5 L543.6,713.3 L543.9,714.1 L544.6,715.0Z" fill="url(#og)"/><path d="M552.3,718.0 L553.3,716.5 L553.8,715.0 L554.2,713.6 L554.6,712.1 L554.5,710.7 L554.1,709.2 L553.7,707.8 L553.4,706.3 L553.1,704.9 L552.8,703.4 L552.6,702.0 L552.4,700.5 L552.3,699.0 L552.3,697.6 L552.3,696.1 L552.3,694.7 L551.9,694.7 L551.9,696.1 L551.9,697.6 L551.9,699.0 L551.8,700.5 L551.6,702.0 L551.4,703.4 L551.1,704.9 L550.8,706.3 L550.4,707.8 L550.1,709.2 L549.6,710.7 L549.6,712.1 L549.9,713.6 L550.4,715.0 L550.9,716.5 L551.9,718.0Z" fill="url(#tg)"/><path d="M558.2,715.1 L558.9,714.3 L559.2,713.5 L559.5,712.7 L559.5,711.9 L559.0,711.1 L558.6,710.4 L558.3,709.6 L558.0,708.8 L557.7,708.0 L557.6,707.2 L557.4,706.4 L557.4,705.6 L557.4,704.8 L557.4,704.1 L557.4,703.3 L557.4,702.5 L557.0,702.5 L557.0,703.3 L557.0,704.1 L557.0,704.8 L557.0,705.6 L556.9,706.4 L556.8,707.2 L556.6,708.0 L556.4,708.8 L556.1,709.6 L555.8,710.4 L555.4,711.1 L554.9,711.9 L554.8,712.7 L555.1,713.5 L555.5,714.3 L556.2,715.1Z" fill="url(#og)"/><path d="M563.9,719.1 L565.0,717.6 L565.6,716.0 L566.0,714.5 L566.4,712.9 L566.2,711.4 L565.8,709.8 L565.4,708.3 L565.0,706.8 L564.7,705.2 L564.5,703.7 L564.3,702.1 L564.1,700.6 L563.9,699.0 L563.9,697.5 L563.9,695.9 L563.9,694.4 L563.5,694.4 L563.5,695.9 L563.5,697.5 L563.5,699.0 L563.4,700.6 L563.2,702.1 L563.0,703.7 L562.8,705.2 L562.4,706.8 L562.1,708.3 L561.7,709.8 L561.3,711.4 L561.1,712.9 L561.5,714.5 L561.9,716.0 L562.5,717.6 L563.5,719.1Z" fill="url(#tg)"/><path d="M569.8,716.7 L570.6,715.8 L570.9,714.9 L571.2,713.9 L570.8,713.0 L570.4,712.1 L570.1,711.2 L569.8,710.3 L569.5,709.4 L569.3,708.5 L569.2,707.5 L569.0,706.6 L569.0,705.7 L569.0,704.8 L569.0,703.9 L569.0,703.0 L569.0,702.0 L568.6,702.0 L568.6,703.0 L568.6,703.9 L568.6,704.8 L568.6,705.7 L568.6,706.6 L568.5,707.5 L568.4,708.5 L568.2,709.4 L567.9,710.3 L567.6,711.2 L567.3,712.1 L566.9,713.0 L566.5,713.9 L566.8,714.9 L567.1,715.8 L567.9,716.7Z" fill="url(#og)"/><path d="M575.6,718.9 L576.5,717.4 L577.0,715.9 L577.4,714.3 L577.8,712.8 L577.8,711.2 L577.4,709.7 L577.0,708.2 L576.7,706.6 L576.4,705.1 L576.1,703.6 L575.9,702.0 L575.7,700.5 L575.6,698.9 L575.6,697.4 L575.6,695.9 L575.6,694.3 L575.2,694.3 L575.2,695.9 L575.2,697.4 L575.2,698.9 L575.1,700.5 L574.9,702.0 L574.7,703.6 L574.4,705.1 L574.1,706.6 L573.8,708.2 L573.4,709.7 L573.0,711.2 L573.0,712.8 L573.4,714.3 L573.8,715.9 L574.3,717.4 L575.2,718.9Z" fill="url(#tg)"/><path d="M582.4,720.2 L582.9,719.4 L582.6,718.6 L582.2,717.8 L581.8,716.9 L581.5,716.1 L581.3,715.3 L581.1,714.5 L580.9,713.6 L580.8,712.8 L580.7,712.0 L580.7,711.2 L580.7,710.3 L580.7,709.5 L580.7,708.7 L580.7,707.9 L580.7,707.0 L580.3,707.0 L580.3,707.9 L580.3,708.7 L580.3,709.5 L580.3,710.3 L580.3,711.2 L580.3,712.0 L580.2,712.8 L580.1,713.6 L580.0,714.5 L579.7,715.3 L579.5,716.1 L579.2,716.9 L578.8,717.8 L578.4,718.6 L578.2,719.4 L578.6,720.2Z" fill="url(#og)"/><rect x="580.2" y="695.9" width="1.4" height="1.4" fill="#444"/><path d="M587.3,719.1 L588.2,717.5 L588.7,716.0 L589.2,714.4 L589.5,712.9 L589.4,711.3 L589.0,709.8 L588.6,708.2 L588.3,706.7 L588.0,705.1 L587.8,703.6 L587.6,702.0 L587.4,700.5 L587.3,698.9 L587.3,697.4 L587.3,695.8 L587.3,694.3 L586.9,694.3 L586.9,695.8 L586.9,697.4 L586.9,698.9 L586.8,700.5 L586.6,702.0 L586.4,703.6 L586.1,705.1 L585.9,706.7 L585.5,708.2 L585.2,709.8 L584.8,711.3 L584.6,712.9 L585.0,714.4 L585.4,716.0 L585.9,717.5 L586.9,719.1Z" fill="url(#tg)"/><path d="M594.2,719.3 L594.6,718.4 L594.6,717.6 L594.2,716.7 L593.7,715.8 L593.4,715.0 L593.1,714.1 L592.8,713.2 L592.6,712.3 L592.5,711.5 L592.4,710.6 L592.4,709.7 L592.4,708.9 L592.4,708.0 L592.4,707.1 L592.4,706.2 L592.4,705.4 L592.0,705.4 L592.0,706.2 L592.0,707.1 L592.0,708.0 L592.0,708.9 L592.0,709.7 L592.0,710.6 L591.9,711.5 L591.7,712.3 L591.5,713.2 L591.3,714.1 L591.0,715.0 L590.6,715.8 L590.2,716.7 L589.7,717.6 L589.7,718.4 L590.1,719.3Z" fill="url(#og)"/><rect x="591.9" y="695.9" width="1.4" height="1.4" fill="#444"/><path d="M598.9,718.4 L599.9,716.9 L600.4,715.4 L600.8,713.9 L601.1,712.4 L601.4,710.9 L601.0,709.4 L600.5,707.9 L600.2,706.4 L599.8,704.9 L599.5,703.4 L599.3,701.9 L599.1,700.4 L598.9,698.9 L598.9,697.4 L598.9,695.9 L598.9,694.4 L598.5,694.4 L598.5,695.9 L598.5,697.4 L598.5,698.9 L598.4,700.4 L598.2,701.9 L597.9,703.4 L597.7,704.9 L597.3,706.4 L596.9,707.9 L596.5,709.4 L596.1,710.9 L596.3,712.4 L596.7,713.9 L597.1,715.4 L597.6,716.9 L598.5,718.4Z" fill="url(#tg)"/><path d="M606.0,719.7 L606.3,718.8 L606.4,717.9 L605.9,717.0 L605.5,716.1 L605.1,715.2 L604.8,714.3 L604.5,713.4 L604.3,712.4 L604.2,711.5 L604.0,710.6 L604.0,709.7 L604.0,708.8 L604.0,707.9 L604.0,707.0 L604.0,706.1 L604.0,705.2 L603.6,705.2 L603.6,706.1 L603.6,707.0 L603.6,707.9 L603.6,708.8 L603.6,709.7 L603.6,710.6 L603.5,711.5 L603.4,712.4 L603.2,713.4 L602.9,714.3 L602.6,715.2 L602.2,716.1 L601.8,717.0 L601.3,717.9 L601.3,718.8 L601.7,719.7Z" fill="url(#og)"/><rect x="603.5" y="695.9" width="1.4" height="1.4" fill="#444"/><path d="M610.6,719.0 L611.6,717.5 L612.2,716.0 L612.7,714.5 L613.1,713.0 L613.1,711.5 L612.7,710.1 L612.2,708.6 L611.8,707.1 L611.5,705.6 L611.2,704.1 L611.0,702.6 L610.8,701.1 L610.6,699.6 L610.6,698.1 L610.6,696.6 L610.6,695.1 L610.2,695.1 L610.2,696.6 L610.2,698.1 L610.2,699.6 L610.0,701.1 L609.8,702.6 L609.6,704.1 L609.3,705.6 L609.0,707.1 L608.6,708.6 L608.2,710.1 L607.7,711.5 L607.8,713.0 L608.1,714.5 L608.6,716.0 L609.2,717.5 L610.2,719.0Z" fill="url(#tg)"/><path d="M617.7,719.2 L618.1,718.6 L617.9,717.9 L617.4,717.2 L617.0,716.6 L616.7,715.9 L616.4,715.3 L616.1,714.6 L616.0,713.9 L615.8,713.3 L615.7,712.6 L615.7,712.0 L615.7,711.3 L615.7,710.6 L615.7,710.0 L615.7,709.3 L615.7,708.7 L615.3,708.7 L615.3,709.3 L615.3,710.0 L615.3,710.6 L615.3,711.3 L615.3,712.0 L615.3,712.6 L615.2,713.3 L615.1,713.9 L614.9,714.6 L614.6,715.3 L614.3,715.9 L614.0,716.6 L613.6,717.2 L613.1,717.9 L612.9,718.6 L613.4,719.2Z" fill="url(#og)"/><rect x="615.2" y="695.9" width="1.4" height="1.4" fill="#444"/><path d="M622.3,718.3 L623.3,716.8 L623.8,715.3 L624.3,713.8 L624.6,712.4 L624.4,710.9 L624.0,709.4 L623.7,707.9 L623.3,706.5 L623.0,705.0 L622.8,703.5 L622.6,702.0 L622.4,700.6 L622.3,699.1 L622.3,697.6 L622.3,696.1 L622.3,694.6 L621.9,694.6 L621.9,696.1 L621.9,697.6 L621.9,699.1 L621.8,700.6 L621.6,702.0 L621.4,703.5 L621.1,705.0 L620.8,706.5 L620.5,707.9 L620.1,709.4 L619.7,710.9 L619.5,712.4 L619.9,713.8 L620.3,715.3 L620.9,716.8 L621.9,718.3Z" fill="url(#tg)"/><path d="M629.3,720.1 L629.7,719.1 L629.7,718.2 L629.2,717.2 L628.7,716.3 L628.4,715.3 L628.1,714.4 L627.8,713.4 L627.6,712.5 L627.5,711.5 L627.4,710.6 L627.4,709.6 L627.4,708.7 L627.4,707.7 L627.4,706.8 L627.4,705.8 L627.4,704.9 L627.0,704.9 L627.0,705.8 L627.0,706.8 L627.0,707.7 L627.0,708.7 L627.0,709.6 L627.0,710.6 L626.9,711.5 L626.7,712.5 L626.5,713.4 L626.3,714.4 L626.0,715.3 L625.6,716.3 L625.2,717.2 L624.7,718.2 L624.6,719.1 L625.0,720.1Z" fill="url(#og)"/><rect x="626.9" y="695.9" width="1.4" height="1.4" fill="#444"/><path d="M633.9,719.2 L635.0,717.7 L635.6,716.1 L636.1,714.6 L636.5,713.0 L636.3,711.5 L635.8,709.9 L635.4,708.4 L635.1,706.8 L634.8,705.3 L634.5,703.7 L634.3,702.1 L634.1,700.6 L633.9,699.0 L633.9,697.5 L633.9,695.9 L633.9,694.4 L633.5,694.4 L633.5,695.9 L633.5,697.5 L633.5,699.0 L633.4,700.6 L633.2,702.1 L633.0,703.7 L632.7,705.3 L632.4,706.8 L632.0,708.4 L631.6,709.9 L631.2,711.5 L630.9,713.0 L631.4,714.6 L631.8,716.1 L632.4,717.7 L633.5,719.2Z" fill="url(#tg)"/><path d="M640.9,719.7 L641.3,718.8 L641.2,717.9 L640.8,717.0 L640.4,716.2 L640.0,715.3 L639.7,714.4 L639.5,713.5 L639.3,712.6 L639.1,711.7 L639.0,710.8 L639.0,710.0 L639.0,709.1 L639.0,708.2 L639.0,707.3 L639.0,706.4 L639.0,705.5 L638.6,705.5 L638.6,706.4 L638.6,707.3 L638.6,708.2 L638.6,709.1 L638.6,710.0 L638.6,710.8 L638.5,711.7 L638.4,712.6 L638.2,713.5 L638.0,714.4 L637.7,715.3 L637.3,716.2 L636.9,717.0 L636.4,717.9 L636.4,718.8 L636.8,719.7Z" fill="url(#og)"/><rect x="638.5" y="695.9" width="1.4" height="1.4" fill="#444"/><rect x="408.20" y="722.50" width="233.30" height="30.90" fill="#dedede" stroke="#3a3a3a" stroke-width="0.9"/><line x1="419.87" y1="723.00" x2="419.87" y2="752.90" stroke="#f0f0f0" stroke-width="0.7"/><line x1="466.52" y1="723.00" x2="466.52" y2="752.90" stroke="#f0f0f0" stroke-width="0.7"/><line x1="501.52" y1="723.00" x2="501.52" y2="752.90" stroke="#f0f0f0" stroke-width="0.7"/><line x1="548.18" y1="723.00" x2="548.18" y2="752.90" stroke="#f0f0f0" stroke-width="0.7"/><line x1="571.51" y1="723.00" x2="571.51" y2="752.90" stroke="#f0f0f0" stroke-width="0.7"/><line x1="594.84" y1="723.00" x2="594.84" y2="752.90" stroke="#f0f0f0" stroke-width="0.7"/><line x1="606.50" y1="723.00" x2="606.50" y2="752.90" stroke="#f0f0f0" stroke-width="0.7"/><text x="404.8" y="726.1" font-size="5.7" fill="#333" text-anchor="end">2000</text><text x="404.8" y="752.6" font-size="5.7" fill="#333" text-anchor="end">0</text><line x1="406.60" y1="724.10" x2="408.00" y2="724.10" stroke="#333" stroke-width="0.5"/><line x1="406.60" y1="750.80" x2="408.00" y2="750.80" stroke="#333" stroke-width="0.5"/><path d="M412.3,749.4 L413.2,748.0 L413.7,746.5 L414.1,745.0 L414.4,743.5 L414.4,742.0 L414.0,740.5 L413.7,739.0 L413.3,737.5 L413.0,736.0 L412.8,734.5 L412.6,733.0 L412.4,731.5 L412.3,730.0 L412.3,728.5 L412.3,727.1 L412.3,725.6 L411.9,725.6 L411.9,727.1 L411.9,728.5 L411.9,730.0 L411.8,731.5 L411.6,733.0 L411.4,734.5 L411.2,736.0 L410.9,737.5 L410.5,739.0 L410.2,740.5 L409.8,742.0 L409.8,743.5 L410.1,745.0 L410.5,746.5 L411.0,748.0 L411.9,749.4Z" fill="url(#tg)"/><path d="M419.3,751.4 L419.8,750.5 L419.6,749.6 L419.1,748.7 L418.7,747.8 L418.4,746.9 L418.1,746.1 L417.8,745.2 L417.6,744.3 L417.5,743.4 L417.4,742.5 L417.4,741.7 L417.4,740.8 L417.4,739.9 L417.4,739.0 L417.4,738.1 L417.4,737.3 L417.0,737.3 L417.0,738.1 L417.0,739.0 L417.0,739.9 L417.0,740.8 L417.0,741.7 L417.0,742.5 L416.9,743.4 L416.8,744.3 L416.6,745.2 L416.3,746.1 L416.0,746.9 L415.7,747.8 L415.3,748.7 L414.8,749.6 L414.6,750.5 L415.1,751.4Z" fill="url(#og)"/><rect x="416.9" y="726.1" width="1.4" height="1.4" fill="#444"/><path d="M424.0,749.9 L424.8,748.3 L425.3,746.7 L425.7,745.2 L426.1,743.6 L425.9,742.0 L425.5,740.5 L425.2,738.9 L424.9,737.4 L424.6,735.8 L424.4,734.2 L424.2,732.7 L424.0,731.1 L424.0,729.5 L424.0,728.0 L424.0,726.4 L424.0,724.9 L423.6,724.9 L423.6,726.4 L423.6,728.0 L423.6,729.5 L423.5,731.1 L423.3,732.7 L423.1,734.2 L422.9,735.8 L422.6,737.4 L422.3,738.9 L422.0,740.5 L421.6,742.0 L421.5,743.6 L421.8,745.2 L422.2,746.7 L422.7,748.3 L423.6,749.9Z" fill="url(#tg)"/><path d="M431.0,751.4 L431.4,750.7 L431.5,750.0 L431.0,749.3 L430.5,748.6 L430.1,747.9 L429.8,747.2 L429.6,746.5 L429.4,745.8 L429.2,745.1 L429.1,744.4 L429.1,743.7 L429.1,743.0 L429.1,742.3 L429.1,741.6 L429.1,740.9 L429.1,740.2 L428.7,740.2 L428.7,740.9 L428.7,741.6 L428.7,742.3 L428.7,743.0 L428.7,743.7 L428.7,744.4 L428.5,745.1 L428.4,745.8 L428.2,746.5 L427.9,747.2 L427.6,747.9 L427.2,748.6 L426.8,749.3 L426.2,750.0 L426.4,750.7 L426.7,751.4Z" fill="url(#og)"/><rect x="428.6" y="726.1" width="1.4" height="1.4" fill="#444"/><path d="M435.6,749.5 L436.6,748.0 L437.2,746.5 L437.7,745.0 L438.0,743.4 L438.1,741.9 L437.6,740.4 L437.2,738.9 L436.8,737.4 L436.5,735.9 L436.2,734.4 L436.0,732.8 L435.8,731.3 L435.6,729.8 L435.6,728.3 L435.6,726.8 L435.6,725.3 L435.2,725.3 L435.2,726.8 L435.2,728.3 L435.2,729.8 L435.1,731.3 L434.9,732.8 L434.6,734.4 L434.4,735.9 L434.0,737.4 L433.7,738.9 L433.2,740.4 L432.8,741.9 L432.8,743.4 L433.2,745.0 L433.6,746.5 L434.2,748.0 L435.2,749.5Z" fill="url(#tg)"/><path d="M442.5,751.1 L442.9,750.2 L442.7,749.2 L442.3,748.3 L441.9,747.3 L441.6,746.3 L441.3,745.4 L441.1,744.4 L440.9,743.5 L440.8,742.5 L440.7,741.5 L440.7,740.6 L440.7,739.6 L440.7,738.7 L440.7,737.7 L440.7,736.7 L440.7,735.8 L440.3,735.8 L440.3,736.7 L440.3,737.7 L440.3,738.7 L440.3,739.6 L440.3,740.6 L440.3,741.5 L440.3,742.5 L440.1,743.5 L439.9,744.4 L439.7,745.4 L439.5,746.3 L439.2,747.3 L438.8,748.3 L438.3,749.2 L438.2,750.2 L438.6,751.1Z" fill="url(#og)"/><rect x="440.2" y="726.1" width="1.4" height="1.4" fill="#444"/><path d="M447.3,750.3 L448.3,748.7 L448.9,747.1 L449.3,745.5 L449.7,743.9 L449.3,742.3 L448.9,740.7 L448.6,739.1 L448.3,737.5 L448.0,735.9 L447.8,734.3 L447.6,732.7 L447.4,731.1 L447.3,729.5 L447.3,727.9 L447.3,726.3 L447.3,724.7 L446.9,724.7 L446.9,726.3 L446.9,727.9 L446.9,729.5 L446.8,731.1 L446.6,732.7 L446.4,734.3 L446.2,735.9 L445.9,737.5 L445.6,739.1 L445.3,740.7 L444.9,742.3 L444.5,743.9 L444.9,745.5 L445.3,747.1 L445.9,748.7 L446.9,750.3Z" fill="url(#tg)"/><path d="M454.2,751.0 L454.6,750.0 L454.4,749.0 L454.0,748.1 L453.6,747.1 L453.3,746.1 L453.0,745.1 L452.8,744.1 L452.6,743.1 L452.5,742.2 L452.4,741.2 L452.4,740.2 L452.4,739.2 L452.4,738.2 L452.4,737.2 L452.4,736.3 L452.4,735.3 L452.0,735.3 L452.0,736.3 L452.0,737.2 L452.0,738.2 L452.0,739.2 L452.0,740.2 L452.0,741.2 L451.9,742.2 L451.8,743.1 L451.6,744.1 L451.4,745.1 L451.1,746.1 L450.8,747.1 L450.4,748.1 L450.0,749.0 L449.8,750.0 L450.2,751.0Z" fill="url(#og)"/><rect x="451.9" y="726.1" width="1.4" height="1.4" fill="#444"/><path d="M459.0,750.4 L459.8,748.8 L460.3,747.3 L460.7,745.7 L461.0,744.2 L461.3,742.6 L460.8,741.1 L460.4,739.5 L460.1,738.0 L459.8,736.4 L459.5,734.9 L459.3,733.3 L459.1,731.8 L459.0,730.2 L459.0,728.7 L459.0,727.1 L459.0,725.6 L458.6,725.6 L458.6,727.1 L458.6,728.7 L458.6,730.2 L458.4,731.8 L458.2,733.3 L458.0,734.9 L457.7,736.4 L457.4,738.0 L457.1,739.5 L456.7,741.1 L456.3,742.6 L456.5,744.2 L456.9,745.7 L457.2,747.3 L457.7,748.8 L458.6,750.4Z" fill="url(#tg)"/><path d="M466.0,751.7 L466.4,750.8 L466.4,750.0 L465.9,749.1 L465.5,748.3 L465.1,747.4 L464.8,746.6 L464.5,745.7 L464.3,744.9 L464.2,744.0 L464.1,743.2 L464.1,742.3 L464.1,741.5 L464.1,740.6 L464.1,739.8 L464.1,739.0 L464.1,738.1 L463.7,738.1 L463.7,739.0 L463.7,739.8 L463.7,740.6 L463.7,741.5 L463.7,742.3 L463.7,743.2 L463.5,744.0 L463.4,744.9 L463.2,745.7 L462.9,746.6 L462.6,747.4 L462.3,748.3 L461.8,749.1 L461.3,750.0 L461.3,750.8 L461.7,751.7Z" fill="url(#og)"/><rect x="463.6" y="726.1" width="1.4" height="1.4" fill="#444"/><path d="M470.6,750.8 L471.6,749.2 L472.2,747.7 L472.7,746.1 L473.0,744.6 L473.1,743.0 L472.6,741.5 L472.2,739.9 L471.8,738.3 L471.5,736.8 L471.2,735.2 L471.0,733.7 L470.8,732.1 L470.6,730.6 L470.6,729.0 L470.6,727.5 L470.6,725.9 L470.2,725.9 L470.2,727.5 L470.2,729.0 L470.2,730.6 L470.1,732.1 L469.9,733.7 L469.6,735.2 L469.4,736.8 L469.0,738.3 L468.7,739.9 L468.2,741.5 L467.8,743.0 L467.8,744.6 L468.2,746.1 L468.6,747.7 L469.2,749.2 L470.2,750.8Z" fill="url(#tg)"/><path d="M476.5,745.8 L477.2,745.0 L477.6,744.1 L477.9,743.3 L477.5,742.5 L477.1,741.6 L476.7,740.8 L476.4,740.0 L476.2,739.1 L476.0,738.3 L475.8,737.4 L475.7,736.6 L475.7,735.8 L475.7,734.9 L475.7,734.1 L475.7,733.3 L475.7,732.4 L475.3,732.4 L475.3,733.3 L475.3,734.1 L475.3,734.9 L475.3,735.8 L475.3,736.6 L475.2,737.4 L475.0,738.3 L474.9,739.1 L474.6,740.0 L474.3,740.8 L474.0,741.6 L473.6,742.5 L473.2,743.3 L473.4,744.1 L473.8,745.0 L474.6,745.8Z" fill="url(#og)"/><path d="M482.3,749.7 L483.2,748.1 L483.7,746.6 L484.1,745.0 L484.4,743.5 L484.2,741.9 L483.8,740.4 L483.5,738.8 L483.2,737.3 L482.9,735.8 L482.7,734.2 L482.5,732.7 L482.4,731.1 L482.3,729.6 L482.3,728.0 L482.3,726.5 L482.3,724.9 L481.9,724.9 L481.9,726.5 L481.9,728.0 L481.9,729.6 L481.8,731.1 L481.7,732.7 L481.5,734.2 L481.2,735.8 L481.0,737.3 L480.7,738.8 L480.3,740.4 L480.0,741.9 L479.7,743.5 L480.1,745.0 L480.5,746.6 L481.0,748.1 L481.9,749.7Z" fill="url(#tg)"/><path d="M489.3,751.7 L489.7,750.8 L489.6,750.0 L489.1,749.1 L488.7,748.3 L488.4,747.4 L488.1,746.6 L487.8,745.7 L487.6,744.9 L487.5,744.1 L487.4,743.2 L487.4,742.4 L487.4,741.5 L487.4,740.7 L487.4,739.8 L487.4,739.0 L487.4,738.1 L487.0,738.1 L487.0,739.0 L487.0,739.8 L487.0,740.7 L487.0,741.5 L487.0,742.4 L487.0,743.2 L486.9,744.1 L486.7,744.9 L486.5,745.7 L486.3,746.6 L486.0,747.4 L485.7,748.3 L485.2,749.1 L484.8,750.0 L484.6,750.8 L485.1,751.7Z" fill="url(#og)"/><rect x="486.9" y="726.1" width="1.4" height="1.4" fill="#444"/><path d="M494.0,750.3 L494.8,748.8 L495.3,747.2 L495.7,745.7 L496.1,744.2 L496.3,742.7 L495.8,741.2 L495.4,739.6 L495.1,738.1 L494.8,736.6 L494.5,735.1 L494.3,733.5 L494.1,732.0 L494.0,730.5 L494.0,729.0 L494.0,727.4 L494.0,725.9 L493.6,725.9 L493.6,727.4 L493.6,729.0 L493.6,730.5 L493.4,732.0 L493.2,733.5 L493.0,735.1 L492.7,736.6 L492.4,738.1 L492.1,739.6 L491.7,741.2 L491.2,742.7 L491.4,744.2 L491.8,745.7 L492.2,747.2 L492.7,748.8 L493.6,750.3Z" fill="url(#tg)"/><path d="M499.8,747.8 L500.6,747.0 L501.0,746.2 L501.0,745.3 L500.6,744.5 L500.3,743.7 L500.0,742.9 L499.7,742.1 L499.5,741.3 L499.3,740.4 L499.1,739.6 L499.1,738.8 L499.1,738.0 L499.1,737.2 L499.1,736.4 L499.1,735.5 L499.1,734.7 L498.7,734.7 L498.7,735.5 L498.7,736.4 L498.7,737.2 L498.7,738.0 L498.7,738.8 L498.6,739.6 L498.4,740.4 L498.2,741.3 L498.0,742.1 L497.8,742.9 L497.4,743.7 L497.1,744.5 L496.7,745.3 L496.7,746.2 L497.1,747.0 L497.9,747.8Z" fill="url(#og)"/><path d="M505.6,750.4 L506.5,748.8 L507.0,747.1 L507.4,745.5 L507.8,743.9 L507.9,742.2 L507.5,740.6 L507.1,738.9 L506.8,737.3 L506.4,735.7 L506.2,734.0 L505.9,732.4 L505.8,730.8 L505.6,729.1 L505.6,727.5 L505.6,725.9 L505.6,724.2 L505.2,724.2 L505.2,725.9 L505.2,727.5 L505.2,729.1 L505.1,730.8 L504.9,732.4 L504.7,734.0 L504.4,735.7 L504.1,737.3 L503.7,738.9 L503.3,740.6 L502.9,742.2 L503.1,743.9 L503.4,745.5 L503.8,747.1 L504.3,748.8 L505.2,750.4Z" fill="url(#tg)"/><path d="M511.5,746.8 L512.4,745.9 L512.8,745.0 L512.8,744.1 L512.4,743.2 L512.0,742.3 L511.7,741.4 L511.4,740.5 L511.2,739.7 L511.0,738.8 L510.8,737.9 L510.7,737.0 L510.7,736.1 L510.7,735.2 L510.7,734.3 L510.7,733.5 L510.7,732.6 L510.3,732.6 L510.3,733.5 L510.3,734.3 L510.3,735.2 L510.3,736.1 L510.3,737.0 L510.2,737.9 L510.1,738.8 L509.9,739.7 L509.6,740.5 L509.4,741.4 L509.0,742.3 L508.7,743.2 L508.2,744.1 L508.2,745.0 L508.6,745.9 L509.5,746.8Z" fill="url(#og)"/><path d="M517.3,749.8 L518.2,748.2 L518.7,746.7 L519.1,745.1 L519.5,743.6 L519.8,742.0 L519.5,740.4 L519.0,738.9 L518.6,737.3 L518.3,735.7 L517.9,734.2 L517.7,732.6 L517.5,731.1 L517.3,729.5 L517.3,727.9 L517.3,726.4 L517.3,724.8 L516.9,724.8 L516.9,726.4 L516.9,727.9 L516.9,729.5 L516.7,731.1 L516.5,732.6 L516.2,734.2 L515.9,735.7 L515.5,737.3 L515.1,738.9 L514.7,740.4 L514.4,742.0 L514.7,743.6 L515.0,745.1 L515.5,746.7 L516.0,748.2 L516.9,749.8Z" fill="url(#tg)"/><path d="M523.2,746.8 L523.9,746.1 L524.3,745.3 L524.6,744.6 L524.2,743.8 L523.8,743.1 L523.5,742.3 L523.2,741.6 L522.9,740.8 L522.7,740.1 L522.5,739.3 L522.4,738.6 L522.4,737.8 L522.4,737.1 L522.4,736.3 L522.4,735.6 L522.4,734.8 L522.0,734.8 L522.0,735.6 L522.0,736.3 L522.0,737.1 L522.0,737.8 L522.0,738.6 L521.8,739.3 L521.7,740.1 L521.5,740.8 L521.2,741.6 L520.9,742.3 L520.5,743.1 L520.1,743.8 L519.8,744.6 L520.1,745.3 L520.4,746.1 L521.2,746.8Z" fill="url(#og)"/><path d="M529.0,750.4 L529.8,748.8 L530.3,747.1 L530.7,745.5 L531.1,743.9 L531.3,742.2 L530.8,740.6 L530.4,739.0 L530.1,737.3 L529.8,735.7 L529.5,734.0 L529.3,732.4 L529.1,730.8 L529.0,729.1 L529.0,727.5 L529.0,725.8 L529.0,724.2 L528.5,724.2 L528.5,725.8 L528.5,727.5 L528.5,729.1 L528.4,730.8 L528.2,732.4 L528.0,734.0 L527.7,735.7 L527.4,737.3 L527.1,739.0 L526.7,740.6 L526.2,742.2 L526.4,743.9 L526.8,745.5 L527.2,747.1 L527.7,748.8 L528.5,750.4Z" fill="url(#tg)"/><path d="M534.9,746.0 L535.7,745.1 L536.0,744.2 L536.3,743.3 L536.3,742.4 L535.8,741.6 L535.4,740.7 L535.0,739.8 L534.7,738.9 L534.5,738.1 L534.3,737.2 L534.1,736.3 L534.1,735.4 L534.1,734.5 L534.1,733.7 L534.1,732.8 L534.1,731.9 L533.6,731.9 L533.6,732.8 L533.6,733.7 L533.6,734.5 L533.6,735.4 L533.6,736.3 L533.4,737.2 L533.2,738.1 L533.0,738.9 L532.7,739.8 L532.3,740.7 L531.9,741.6 L531.4,742.4 L531.4,743.3 L531.7,744.2 L532.0,745.1 L532.8,746.0Z" fill="url(#og)"/><path d="M540.6,750.3 L541.4,748.7 L541.9,747.2 L542.2,745.6 L542.6,744.0 L542.8,742.5 L542.4,740.9 L542.0,739.3 L541.7,737.8 L541.4,736.2 L541.1,734.7 L540.9,733.1 L540.7,731.5 L540.6,730.0 L540.6,728.4 L540.6,726.9 L540.6,725.3 L540.2,725.3 L540.2,726.9 L540.2,728.4 L540.2,730.0 L540.1,731.5 L539.9,733.1 L539.7,734.7 L539.4,736.2 L539.1,737.8 L538.8,739.3 L538.4,740.9 L538.0,742.5 L538.3,744.0 L538.6,745.6 L539.0,747.2 L539.4,748.7 L540.2,750.3Z" fill="url(#tg)"/><path d="M546.5,746.3 L547.4,745.5 L547.7,744.8 L547.9,744.0 L547.5,743.3 L547.1,742.5 L546.7,741.8 L546.4,741.0 L546.2,740.2 L546.0,739.5 L545.8,738.7 L545.7,738.0 L545.7,737.2 L545.7,736.5 L545.7,735.7 L545.7,735.0 L545.7,734.2 L545.3,734.2 L545.3,735.0 L545.3,735.7 L545.3,736.5 L545.3,737.2 L545.3,738.0 L545.2,738.7 L545.0,739.5 L544.8,740.2 L544.6,741.0 L544.3,741.8 L544.0,742.5 L543.6,743.3 L543.1,744.0 L543.3,744.8 L543.7,745.5 L544.5,746.3Z" fill="url(#og)"/><path d="M552.3,749.7 L553.2,748.2 L553.7,746.6 L554.1,745.0 L554.5,743.5 L554.8,741.9 L554.5,740.4 L554.0,738.8 L553.6,737.3 L553.2,735.7 L552.9,734.2 L552.7,732.6 L552.5,731.1 L552.3,729.5 L552.3,728.0 L552.3,726.4 L552.3,724.9 L551.9,724.9 L551.9,726.4 L551.9,728.0 L551.9,729.5 L551.7,731.1 L551.5,732.6 L551.2,734.2 L550.9,735.7 L550.6,737.3 L550.1,738.8 L549.7,740.4 L549.3,741.9 L549.7,743.5 L550.0,745.0 L550.4,746.6 L551.0,748.2 L551.9,749.7Z" fill="url(#tg)"/><path d="M558.2,746.1 L558.8,745.3 L559.2,744.5 L559.4,743.7 L559.6,742.9 L559.1,742.2 L558.7,741.4 L558.3,740.6 L558.0,739.8 L557.8,739.0 L557.6,738.2 L557.4,737.5 L557.4,736.7 L557.4,735.9 L557.4,735.1 L557.4,734.3 L557.4,733.5 L557.0,733.5 L557.0,734.3 L557.0,735.1 L557.0,735.9 L557.0,736.7 L556.9,737.5 L556.8,738.2 L556.6,739.0 L556.3,739.8 L556.0,740.6 L555.7,741.4 L555.3,742.2 L554.8,742.9 L554.9,743.7 L555.2,744.5 L555.5,745.3 L556.2,746.1Z" fill="url(#og)"/><path d="M563.9,749.5 L564.8,748.0 L565.3,746.4 L565.7,744.8 L566.0,743.3 L566.3,741.7 L565.9,740.1 L565.5,738.5 L565.1,737.0 L564.8,735.4 L564.5,733.8 L564.3,732.2 L564.1,730.7 L563.9,729.1 L563.9,727.5 L563.9,726.0 L563.9,724.4 L563.5,724.4 L563.5,726.0 L563.5,727.5 L563.5,729.1 L563.4,730.7 L563.2,732.2 L563.0,733.8 L562.7,735.4 L562.4,737.0 L562.0,738.5 L561.6,740.1 L561.2,741.7 L561.5,743.3 L561.8,744.8 L562.2,746.4 L562.7,748.0 L563.5,749.5Z" fill="url(#tg)"/><path d="M569.8,746.1 L570.5,745.4 L570.9,744.6 L571.1,743.9 L571.3,743.1 L570.8,742.3 L570.4,741.6 L570.0,740.8 L569.7,740.1 L569.4,739.3 L569.2,738.5 L569.1,737.8 L569.0,737.0 L569.0,736.3 L569.0,735.5 L569.0,734.8 L569.0,734.0 L568.6,734.0 L568.6,734.8 L568.6,735.5 L568.6,736.3 L568.6,737.0 L568.6,737.8 L568.4,738.5 L568.2,739.3 L568.0,740.1 L567.7,740.8 L567.3,741.6 L566.9,742.3 L566.4,743.1 L566.6,743.9 L566.8,744.6 L567.2,745.4 L567.9,746.1Z" fill="url(#og)"/><path d="M575.6,750.8 L576.5,749.1 L577.0,747.5 L577.4,745.8 L577.8,744.2 L578.1,742.6 L577.7,740.9 L577.3,739.3 L576.9,737.7 L576.5,736.0 L576.2,734.4 L576.0,732.7 L575.8,731.1 L575.6,729.5 L575.6,727.8 L575.6,726.2 L575.6,724.5 L575.2,724.5 L575.2,726.2 L575.2,727.8 L575.2,729.5 L575.0,731.1 L574.8,732.7 L574.6,734.4 L574.3,736.0 L573.9,737.7 L573.5,739.3 L573.1,740.9 L572.7,742.6 L573.0,744.2 L573.4,745.8 L573.8,747.5 L574.3,749.1 L575.2,750.8Z" fill="url(#tg)"/><path d="M582.7,750.7 L583.1,749.9 L583.2,749.1 L582.6,748.3 L582.2,747.5 L581.8,746.7 L581.5,745.9 L581.2,745.1 L581.0,744.3 L580.8,743.5 L580.7,742.7 L580.7,741.9 L580.7,741.1 L580.7,740.3 L580.7,739.5 L580.7,738.7 L580.7,737.9 L580.3,737.9 L580.3,738.7 L580.3,739.5 L580.3,740.3 L580.3,741.1 L580.3,741.9 L580.3,742.7 L580.2,743.5 L580.0,744.3 L579.8,745.1 L579.5,745.9 L579.2,746.7 L578.8,747.5 L578.4,748.3 L577.8,749.1 L578.0,749.9 L578.3,750.7Z" fill="url(#og)"/><rect x="580.2" y="726.1" width="1.4" height="1.4" fill="#444"/><path d="M587.3,750.4 L588.1,748.8 L588.6,747.2 L589.0,745.5 L589.3,743.9 L589.6,742.3 L589.2,740.7 L588.8,739.1 L588.4,737.4 L588.1,735.8 L587.8,734.2 L587.6,732.6 L587.4,730.9 L587.3,729.3 L587.3,727.7 L587.3,726.1 L587.3,724.5 L586.9,724.5 L586.9,726.1 L586.9,727.7 L586.9,729.3 L586.7,730.9 L586.6,732.6 L586.3,734.2 L586.1,735.8 L585.7,737.4 L585.4,739.1 L585.0,740.7 L584.5,742.3 L584.8,743.9 L585.2,745.5 L585.5,747.2 L586.0,748.8 L586.9,750.4Z" fill="url(#tg)"/><path d="M594.4,751.7 L594.9,750.9 L594.6,750.1 L594.1,749.2 L593.7,748.4 L593.4,747.6 L593.1,746.7 L592.8,745.9 L592.6,745.1 L592.5,744.2 L592.4,743.4 L592.4,742.6 L592.4,741.8 L592.4,740.9 L592.4,740.1 L592.4,739.3 L592.4,738.4 L592.0,738.4 L592.0,739.3 L592.0,740.1 L592.0,740.9 L592.0,741.8 L592.0,742.6 L592.0,743.4 L591.9,744.2 L591.7,745.1 L591.5,745.9 L591.3,746.7 L591.0,747.6 L590.6,748.4 L590.2,749.2 L589.7,750.1 L589.5,750.9 L590.0,751.7Z" fill="url(#og)"/><rect x="591.9" y="726.1" width="1.4" height="1.4" fill="#444"/><path d="M598.9,750.0 L600.0,748.4 L600.6,746.8 L601.0,745.3 L601.4,743.7 L601.5,742.2 L601.0,740.6 L600.6,739.1 L600.2,737.5 L599.8,736.0 L599.5,734.4 L599.3,732.8 L599.1,731.3 L598.9,729.7 L598.9,728.2 L598.9,726.6 L598.9,725.1 L598.5,725.1 L598.5,726.6 L598.5,728.2 L598.5,729.7 L598.4,731.3 L598.2,732.8 L597.9,734.4 L597.6,736.0 L597.3,737.5 L596.9,739.1 L596.5,740.6 L596.0,742.2 L596.1,743.7 L596.5,745.3 L596.9,746.8 L597.5,748.4 L598.5,750.0Z" fill="url(#tg)"/><path d="M606.0,751.3 L606.5,750.3 L606.2,749.3 L605.7,748.4 L605.3,747.4 L605.0,746.4 L604.7,745.5 L604.5,744.5 L604.3,743.6 L604.1,742.6 L604.0,741.6 L604.0,740.7 L604.0,739.7 L604.0,738.7 L604.0,737.8 L604.0,736.8 L604.0,735.8 L603.6,735.8 L603.6,736.8 L603.6,737.8 L603.6,738.7 L603.6,739.7 L603.6,740.7 L603.6,741.6 L603.5,742.6 L603.4,743.6 L603.2,744.5 L603.0,745.5 L602.7,746.4 L602.3,747.4 L601.9,748.4 L601.5,749.3 L601.2,750.3 L601.7,751.3Z" fill="url(#og)"/><rect x="603.5" y="726.1" width="1.4" height="1.4" fill="#444"/><path d="M610.6,749.7 L611.6,748.1 L612.1,746.6 L612.5,745.0 L612.9,743.5 L613.2,741.9 L612.9,740.4 L612.4,738.8 L612.0,737.2 L611.6,735.7 L611.3,734.1 L611.0,732.6 L610.8,731.0 L610.6,729.5 L610.6,727.9 L610.6,726.4 L610.6,724.8 L610.2,724.8 L610.2,726.4 L610.2,727.9 L610.2,729.5 L610.0,731.0 L609.8,732.6 L609.5,734.1 L609.2,735.7 L608.8,737.2 L608.4,738.8 L607.9,740.4 L607.6,741.9 L607.9,743.5 L608.3,745.0 L608.7,746.6 L609.2,748.1 L610.2,749.7Z" fill="url(#tg)"/><path d="M617.5,751.3 L617.9,750.5 L617.7,749.7 L617.3,748.9 L616.9,748.1 L616.6,747.4 L616.3,746.6 L616.1,745.8 L615.9,745.0 L615.8,744.2 L615.7,743.4 L615.7,742.7 L615.7,741.9 L615.7,741.1 L615.7,740.3 L615.7,739.5 L615.7,738.8 L615.3,738.8 L615.3,739.5 L615.3,740.3 L615.3,741.1 L615.3,741.9 L615.3,742.7 L615.3,743.4 L615.2,744.2 L615.1,745.0 L614.9,745.8 L614.7,746.6 L614.4,747.4 L614.1,748.1 L613.7,748.9 L613.3,749.7 L613.1,750.5 L613.5,751.3Z" fill="url(#og)"/><rect x="615.2" y="726.1" width="1.4" height="1.4" fill="#444"/><path d="M622.3,750.6 L623.3,748.9 L623.9,747.3 L624.4,745.7 L624.8,744.0 L624.4,742.4 L624.0,740.7 L623.6,739.1 L623.3,737.5 L623.0,735.8 L622.8,734.2 L622.6,732.5 L622.4,730.9 L622.3,729.3 L622.3,727.6 L622.3,726.0 L622.3,724.3 L621.9,724.3 L621.9,726.0 L621.9,727.6 L621.9,729.3 L621.8,730.9 L621.6,732.5 L621.4,734.2 L621.1,735.8 L620.8,737.5 L620.5,739.1 L620.1,740.7 L619.7,742.4 L619.3,744.0 L619.7,745.7 L620.2,747.3 L620.8,748.9 L621.9,750.6Z" fill="url(#tg)"/><path d="M629.3,751.1 L629.7,750.3 L629.7,749.4 L629.2,748.6 L628.7,747.7 L628.4,746.9 L628.1,746.0 L627.8,745.2 L627.6,744.3 L627.5,743.5 L627.4,742.6 L627.4,741.8 L627.4,740.9 L627.4,740.1 L627.4,739.2 L627.4,738.4 L627.4,737.5 L627.0,737.5 L627.0,738.4 L627.0,739.2 L627.0,740.1 L627.0,740.9 L627.0,741.8 L627.0,742.6 L626.9,743.5 L626.7,744.3 L626.5,745.2 L626.3,746.0 L626.0,746.9 L625.6,747.7 L625.2,748.6 L624.7,749.4 L624.6,750.3 L625.0,751.1Z" fill="url(#og)"/><rect x="626.9" y="726.1" width="1.4" height="1.4" fill="#444"/><path d="M633.9,749.5 L634.8,747.9 L635.3,746.4 L635.6,744.8 L636.0,743.3 L636.1,741.7 L635.7,740.2 L635.3,738.6 L635.0,737.0 L634.7,735.5 L634.4,733.9 L634.2,732.4 L634.0,730.8 L633.9,729.2 L633.9,727.7 L633.9,726.1 L633.9,724.6 L633.5,724.6 L633.5,726.1 L633.5,727.7 L633.5,729.2 L633.4,730.8 L633.3,732.4 L633.0,733.9 L632.8,735.5 L632.5,737.0 L632.2,738.6 L631.8,740.2 L631.4,741.7 L631.5,743.3 L631.8,744.8 L632.2,746.4 L632.7,747.9 L633.5,749.5Z" fill="url(#tg)"/><path d="M641.0,751.5 L641.5,750.6 L641.4,749.6 L640.9,748.6 L640.5,747.6 L640.1,746.6 L639.8,745.6 L639.5,744.6 L639.3,743.6 L639.2,742.6 L639.0,741.6 L639.0,740.6 L639.0,739.6 L639.0,738.6 L639.0,737.6 L639.0,736.6 L639.0,735.6 L638.6,735.6 L638.6,736.6 L638.6,737.6 L638.6,738.6 L638.6,739.6 L638.6,740.6 L638.6,741.6 L638.5,742.6 L638.3,743.6 L638.1,744.6 L637.9,745.6 L637.6,746.6 L637.2,747.6 L636.7,748.6 L636.2,749.6 L636.2,750.6 L636.6,751.5Z" fill="url(#og)"/><rect x="638.5" y="726.1" width="1.4" height="1.4" fill="#444"/><text x="644.0" y="589.9" font-size="10.6">P1</text><text x="644.0" y="620.0" font-size="10.6">P7</text><text x="644.0" y="650.2" font-size="10.6">P14</text><text x="644.0" y="680.2" font-size="10.6">P45</text><text x="644.5" y="712.3" font-size="11"><tspan font-style="italic">Vglut3</tspan><tspan font-size="6.5" dy="-4.3">-/-</tspan></text><text x="644.5" y="734.8" font-size="11"><tspan font-style="italic">Vglut3</tspan><tspan font-size="6.5" dy="-4.3">-/-</tspan></text><text x="645.0" y="749.8" font-size="11">+GT</text><text x="384.6" y="660.5" font-size="9.6" text-anchor="middle" transform="rotate(-90 384.6 660.5)">Mean distance of cell-cell pairs (μm)</text><rect x="408.45" y="756.00" width="11.17" height="8.70" fill="#e0e850"/><text x="418.5" y="768.2" font-size="7.0" text-anchor="end" transform="rotate(-57.6 418.5 768.2)">Ependymal cells</text><rect x="420.12" y="756.00" width="11.17" height="8.70" fill="#60e840"/><text x="430.2" y="768.2" font-size="7.0" text-anchor="end" transform="rotate(-57.6 430.2 768.2)">Cartwheel cells</text><rect x="431.78" y="756.00" width="11.17" height="8.70" fill="#f85028"/><text x="441.9" y="768.2" font-size="7.0" text-anchor="end" transform="rotate(-57.6 441.9 768.2)">Fusiform cells</text><rect x="443.44" y="756.00" width="11.17" height="8.70" fill="#60c8f8"/><text x="453.5" y="768.2" font-size="7.0" text-anchor="end" transform="rotate(-57.6 453.5 768.2)">UBCs</text><rect x="455.11" y="756.00" width="11.17" height="8.70" fill="#b020f0"/><text x="465.2" y="768.2" font-size="7.0" text-anchor="end" transform="rotate(-57.6 465.2 768.2)">Vertical cells</text><rect x="466.77" y="756.00" width="11.17" height="8.70" fill="#b8f4f8"/><text x="476.9" y="768.2" font-size="7.0" text-anchor="end" transform="rotate(-57.6 476.9 768.2)">OPCs</text><rect x="478.44" y="756.00" width="11.17" height="8.70" fill="#601040"/><rect x="490.11" y="756.00" width="11.17" height="8.70" fill="#f0b078"/><text x="500.2" y="768.2" font-size="7.0" text-anchor="end" transform="rotate(-57.6 500.2 768.2)">Microglia</text><rect x="501.77" y="756.00" width="11.17" height="8.70" fill="#d8f4c0"/><text x="511.9" y="768.2" font-size="7.0" text-anchor="end" transform="rotate(-57.6 511.9 768.2)">Oligo_1</text><rect x="513.43" y="756.00" width="11.17" height="8.70" fill="#b06020"/><text x="523.5" y="768.2" font-size="7.0" text-anchor="end" transform="rotate(-57.6 523.5 768.2)">Astrocytes</text><rect x="525.10" y="756.00" width="11.17" height="8.70" fill="#c0b060"/><text x="535.2" y="768.2" font-size="7.0" text-anchor="end" transform="rotate(-57.6 535.2 768.2)">VECs</text><rect x="536.76" y="756.00" width="11.17" height="8.70" fill="#f0a0c8"/><text x="546.8" y="768.2" font-size="7.0" text-anchor="end" transform="rotate(-57.6 546.8 768.2)">Oligo_2</text><rect x="548.43" y="756.00" width="11.17" height="8.70" fill="#60e0d8"/><text x="558.5" y="768.2" font-size="7.0" text-anchor="end" transform="rotate(-57.6 558.5 768.2)">ML/L-stellate cells</text><rect x="560.10" y="756.00" width="11.17" height="8.70" fill="#2a7a30"/><text x="570.2" y="768.2" font-size="7.0" text-anchor="end" transform="rotate(-57.6 570.2 768.2)">Golgi cells</text><rect x="571.76" y="756.00" width="11.17" height="8.70" fill="#70f8d8"/><text x="581.8" y="768.2" font-size="7.0" text-anchor="end" transform="rotate(-57.6 581.8 768.2)">Granule cells</text><rect x="583.42" y="756.00" width="11.17" height="8.70" fill="#4a90c8"/><text x="593.5" y="768.2" font-size="7.0" text-anchor="end" transform="rotate(-57.6 593.5 768.2)">Bushy cells_Spp1+</text><rect x="595.09" y="756.00" width="11.17" height="8.70" fill="#f090d8"/><text x="605.2" y="768.2" font-size="7.0" text-anchor="end" transform="rotate(-57.6 605.2 768.2)">Bushy cells_Sst+</text><rect x="606.75" y="756.00" width="11.17" height="8.70" fill="#b05860"/><text x="616.8" y="768.2" font-size="7.0" text-anchor="end" transform="rotate(-57.6 616.8 768.2)">D-stellate cells</text><rect x="618.42" y="756.00" width="11.17" height="8.70" fill="#c8b860"/><text x="628.5" y="768.2" font-size="7.0" text-anchor="end" transform="rotate(-57.6 628.5 768.2)">T-stellate cells</text><rect x="630.09" y="756.00" width="11.17" height="8.70" fill="#8070d8"/><text x="640.2" y="768.2" font-size="7.0" text-anchor="end" transform="rotate(-57.6 640.2 768.2)">Octopus cells</text><text x="463.2" y="813.0" font-size="7.0" transform="rotate(-57.6 463.2 813.0)">Pericytes/VLMC</text><text x="457.8" y="809.6" font-size="7.0" transform="rotate(-57.6 457.8 809.6)">Fibroblasts/</text><text x="368.0" y="832.5" font-size="14.5" font-weight="bold">h</text><line x1="419.10" y1="829.50" x2="419.10" y2="920.70" stroke="#555" stroke-width="1.3"/><line x1="418.50" y1="920.20" x2="510.50" y2="920.20" stroke="#000" stroke-width="1.1"/><line x1="415.50" y1="830.00" x2="419.00" y2="830.00" stroke="#333" stroke-width="0.9"/><text x="413.7" y="832.5" font-size="7.1" fill="#222" text-anchor="end">2000</text><line x1="415.50" y1="852.30" x2="419.00" y2="852.30" stroke="#333" stroke-width="0.9"/><text x="413.7" y="854.8" font-size="7.1" fill="#222" text-anchor="end">1500</text><line x1="415.50" y1="875.00" x2="419.00" y2="875.00" stroke="#333" stroke-width="0.9"/><text x="413.7" y="877.5" font-size="7.1" fill="#222" text-anchor="end">1000</text><line x1="415.50" y1="897.20" x2="419.00" y2="897.20" stroke="#333" stroke-width="0.9"/><text x="413.7" y="899.7" font-size="7.1" fill="#222" text-anchor="end">500</text><line x1="415.50" y1="920.20" x2="419.00" y2="920.20" stroke="#333" stroke-width="0.9"/><text x="413.7" y="922.7" font-size="7.1" fill="#222" text-anchor="end">0</text><line x1="437.10" y1="920.20" x2="437.10" y2="922.80" stroke="#000" stroke-width="0.8"/><line x1="464.40" y1="920.20" x2="464.40" y2="922.80" stroke="#000" stroke-width="0.8"/><line x1="491.60" y1="920.20" x2="491.60" y2="922.80" stroke="#000" stroke-width="0.8"/><text x="393.3" y="868.4" font-size="8.3" text-anchor="middle" transform="rotate(-90 393.3 868.4)">Mean distances (μm)</text><text x="468.2" y="835.0" font-size="8.4" text-anchor="middle"><tspan font-style="italic">Sst</tspan><tspan font-size="4.5" dy="-3">+</tspan><tspan dy="3">- Bushy cells to</tspan></text><text x="468.0" y="844.6" font-size="8.4" text-anchor="middle"><tspan font-style="italic">Sst</tspan><tspan font-size="4.5" dy="-3">+</tspan><tspan dy="3">- Bushy cells</tspan></text><rect x="436.20" y="866.80" width="1.80" height="29.20" fill="#92a62a" fill-opacity="0.75"/><path d="M438.1,894.5 L439.6,896.0 L442.1,897.5 L444.9,899.5 L446.4,902.0 L446.4,905.0 L444.9,907.5 L441.6,909.5 L438.3,910.8 L435.9,910.8 L432.6,909.5 L429.3,907.5 L427.8,905.0 L427.8,902.0 L429.3,899.5 L432.1,897.5 L434.6,896.0 L436.1,894.5Z" fill="#92a62a"/><rect x="463.60" y="879.30" width="1.60" height="18.70" fill="#b98ac9" fill-opacity="0.75"/><path d="M465.4,896.5 L468.4,898.0 L471.9,900.0 L473.9,903.0 L473.9,906.0 L471.6,908.5 L467.9,910.2 L465.6,911.0 L463.2,911.0 L460.9,910.2 L457.2,908.5 L454.9,906.0 L454.9,903.0 L456.9,900.0 L460.4,898.0 L463.4,896.5Z" fill="#b98ac9"/><rect x="490.90" y="870.10" width="1.40" height="28.40" fill="#9ce4a6" fill-opacity="0.75"/><path d="M492.6,897.0 L495.6,898.5 L498.6,900.0 L500.4,902.5 L500.2,905.0 L498.1,907.0 L494.1,908.5 L489.1,908.5 L485.1,907.0 L483.0,905.0 L482.8,902.5 L484.6,900.0 L487.6,898.5 L490.6,897.0Z" fill="#9ce4a6"/><line x1="437.10" y1="896.80" x2="437.10" y2="908.20" stroke="#111" stroke-width="1.0"/><line x1="427.90" y1="902.30" x2="446.30" y2="902.30" stroke="#111" stroke-width="1.1"/><line x1="432.50" y1="896.80" x2="441.70" y2="896.80" stroke="#111" stroke-width="1.0"/><line x1="432.50" y1="908.20" x2="441.70" y2="908.20" stroke="#111" stroke-width="1.0"/><line x1="464.40" y1="898.40" x2="464.40" y2="910.20" stroke="#111" stroke-width="1.0"/><line x1="454.90" y1="904.70" x2="473.90" y2="904.70" stroke="#111" stroke-width="1.1"/><line x1="459.80" y1="898.40" x2="469.00" y2="898.40" stroke="#111" stroke-width="1.0"/><line x1="459.80" y1="910.20" x2="469.00" y2="910.20" stroke="#111" stroke-width="1.0"/><line x1="491.60" y1="898.40" x2="491.60" y2="908.20" stroke="#111" stroke-width="1.0"/><line x1="482.60" y1="903.40" x2="500.60" y2="903.40" stroke="#111" stroke-width="1.1"/><line x1="487.00" y1="898.40" x2="496.20" y2="898.40" stroke="#111" stroke-width="1.0"/><line x1="487.00" y1="908.20" x2="496.20" y2="908.20" stroke="#111" stroke-width="1.0"/><line x1="436.40" y1="863.50" x2="464.00" y2="863.50" stroke="#222" stroke-width="1.0"/><text x="450.2" y="865.0" font-size="11" text-anchor="middle">***</text><line x1="464.70" y1="859.20" x2="491.60" y2="859.20" stroke="#222" stroke-width="1.0"/><text x="478.2" y="861.0" font-size="11" text-anchor="middle">***</text><text x="435.0" y="932.0" font-size="8.2" text-anchor="middle">WT</text><text x="464.5" y="932.0" font-size="8.2" text-anchor="middle"><tspan font-style="italic">Vglut3</tspan><tspan font-size="4.8" dy="-3.2">-/-</tspan></text><text x="480.2" y="932.0" font-size="8.2"><tspan font-style="italic">Vglut3</tspan><tspan font-size="4.8" dy="-3.2">-/-</tspan><tspan dy="3.2"> +GT</tspan></text><line x1="562.50" y1="829.30" x2="562.50" y2="920.50" stroke="#555" stroke-width="1.3"/><line x1="562.00" y1="920.00" x2="655.00" y2="920.00" stroke="#000" stroke-width="1.1"/><line x1="559.00" y1="829.50" x2="562.40" y2="829.50" stroke="#333" stroke-width="0.9"/><text x="557.2" y="832.0" font-size="7.2" fill="#222" text-anchor="end">1500</text><line x1="559.00" y1="860.00" x2="562.40" y2="860.00" stroke="#333" stroke-width="0.9"/><text x="557.2" y="862.5" font-size="7.2" fill="#222" text-anchor="end">1000</text><line x1="559.00" y1="890.00" x2="562.40" y2="890.00" stroke="#333" stroke-width="0.9"/><text x="557.2" y="892.5" font-size="7.2" fill="#222" text-anchor="end">500</text><line x1="559.00" y1="920.00" x2="562.40" y2="920.00" stroke="#333" stroke-width="0.9"/><text x="557.2" y="922.5" font-size="7.2" fill="#222" text-anchor="end">0</text><line x1="581.10" y1="920.00" x2="581.10" y2="922.60" stroke="#000" stroke-width="0.8"/><line x1="608.30" y1="920.00" x2="608.30" y2="922.60" stroke="#000" stroke-width="0.8"/><line x1="635.30" y1="920.00" x2="635.30" y2="922.60" stroke="#000" stroke-width="0.8"/><text x="538.2" y="868.4" font-size="8.3" text-anchor="middle" transform="rotate(-90 538.2 868.4)">Mean distances (μm)</text><text x="608.0" y="835.0" font-size="8.4" text-anchor="middle"><tspan font-style="italic">Spp1</tspan><tspan font-size="4.5" dy="-3">+</tspan><tspan dy="3">- Bushy cells to</tspan></text><text x="608.0" y="844.6" font-size="8.4" text-anchor="middle"><tspan font-style="italic">Spp1</tspan><tspan font-size="4.5" dy="-3">+</tspan><tspan dy="3">- Bushy cells</tspan></text><path d="M581.7,865.4 L582.1,872.0 L582.9,878.0 L584.6,883.0 L586.6,888.0 L588.6,892.0 L590.3,896.0 L590.1,900.0 L587.1,902.5 L583.1,903.7 L579.1,903.7 L575.1,902.5 L572.1,900.0 L571.9,896.0 L573.6,892.0 L575.6,888.0 L577.6,883.0 L579.3,878.0 L580.1,872.0 L580.5,865.4Z" fill="#92a62a"/><path d="M609.1,881.8 L610.5,886.0 L612.5,890.0 L614.5,894.0 L616.5,898.0 L617.3,901.0 L615.3,903.0 L611.3,904.0 L605.3,904.0 L601.3,903.0 L599.3,901.0 L600.1,898.0 L602.1,894.0 L604.1,890.0 L606.1,886.0 L607.5,881.8Z" fill="#b98ac9"/><path d="M636.0,877.2 L637.3,882.0 L638.8,886.0 L640.8,890.0 L642.8,894.0 L644.5,898.0 L643.8,901.0 L639.3,903.0 L631.3,903.0 L626.8,901.0 L626.1,898.0 L627.8,894.0 L629.8,890.0 L631.8,886.0 L633.3,882.0 L634.6,877.2Z" fill="#9ce4a6"/><line x1="581.10" y1="886.80" x2="581.10" y2="899.50" stroke="#111" stroke-width="1.0"/><line x1="572.00" y1="893.40" x2="590.20" y2="893.40" stroke="#111" stroke-width="1.1"/><line x1="576.30" y1="886.80" x2="585.90" y2="886.80" stroke="#111" stroke-width="1.0"/><line x1="576.30" y1="899.50" x2="585.90" y2="899.50" stroke="#111" stroke-width="1.0"/><line x1="608.30" y1="891.20" x2="608.30" y2="902.20" stroke="#111" stroke-width="1.0"/><line x1="599.30" y1="896.50" x2="617.30" y2="896.50" stroke="#111" stroke-width="1.1"/><line x1="603.50" y1="891.20" x2="613.10" y2="891.20" stroke="#111" stroke-width="1.0"/><line x1="603.50" y1="902.20" x2="613.10" y2="902.20" stroke="#111" stroke-width="1.0"/><line x1="635.30" y1="890.30" x2="635.30" y2="900.40" stroke="#111" stroke-width="1.0"/><line x1="626.10" y1="895.30" x2="644.50" y2="895.30" stroke="#111" stroke-width="1.1"/><line x1="630.50" y1="890.30" x2="640.10" y2="890.30" stroke="#111" stroke-width="1.0"/><line x1="630.50" y1="900.40" x2="640.10" y2="900.40" stroke="#111" stroke-width="1.0"/><line x1="581.10" y1="855.80" x2="608.00" y2="855.80" stroke="#777" stroke-width="1.3"/><text x="594.9" y="858.3" font-size="11" text-anchor="middle">***</text><line x1="608.30" y1="868.00" x2="635.30" y2="868.00" stroke="#222" stroke-width="1.0"/><text x="621.9" y="869.2" font-size="11" text-anchor="middle">***</text><text x="579.0" y="932.0" font-size="8.2" text-anchor="middle">WT</text><text x="608.4" y="932.0" font-size="8.2" text-anchor="middle"><tspan font-style="italic">Vglut3</tspan><tspan font-size="4.8" dy="-3.2">-/-</tspan></text><text x="624.0" y="932.0" font-size="8.2"><tspan font-style="italic">Vglut3</tspan><tspan font-size="4.8" dy="-3.2">-/-</tspan><tspan dy="3.2"> +GT</tspan></text><line x1="419.30" y1="939.00" x2="419.30" y2="1023.70" stroke="#111" stroke-width="1.2"/><line x1="418.80" y1="1023.20" x2="510.60" y2="1023.20" stroke="#111" stroke-width="1.2"/><line x1="416.30" y1="939.50" x2="419.30" y2="939.50" stroke="#111" stroke-width="0.9"/><text x="414.7" y="942.2" font-size="7.8" fill="#222" text-anchor="end">20</text><line x1="416.30" y1="960.50" x2="419.30" y2="960.50" stroke="#111" stroke-width="0.9"/><text x="414.7" y="963.2" font-size="7.8" fill="#222" text-anchor="end">15</text><line x1="416.30" y1="981.40" x2="419.30" y2="981.40" stroke="#111" stroke-width="0.9"/><text x="414.7" y="984.1" font-size="7.8" fill="#222" text-anchor="end">10</text><line x1="416.30" y1="1002.30" x2="419.30" y2="1002.30" stroke="#111" stroke-width="0.9"/><text x="414.7" y="1005.0" font-size="7.8" fill="#222" text-anchor="end">5</text><line x1="416.30" y1="1023.20" x2="419.30" y2="1023.20" stroke="#111" stroke-width="0.9"/><text x="414.7" y="1025.9" font-size="7.8" fill="#222" text-anchor="end">0</text><text x="426.1" y="948.8" font-size="8.3">Spatial module_1</text><rect x="427.00" y="1016.90" width="5.40" height="6.30" fill="#96a02e"/><rect x="432.40" y="1020.60" width="5.90" height="2.60" fill="#b888c8"/><rect x="439.00" y="1015.70" width="5.60" height="7.50" fill="#a0e4a8"/><rect x="456.20" y="980.70" width="5.40" height="42.50" fill="#96a02e"/><rect x="461.60" y="985.60" width="5.90" height="37.60" fill="#b888c8"/><rect x="468.00" y="979.80" width="5.80" height="43.40" fill="#a0e4a8"/><rect x="485.40" y="955.00" width="5.40" height="68.20" fill="#96a02e"/><rect x="491.30" y="961.50" width="5.70" height="61.70" fill="#b888c8"/><rect x="497.30" y="950.30" width="5.70" height="72.90" fill="#a0e4a8"/><text x="435.1" y="1034.6" font-size="7.6" text-anchor="middle">Microglia</text><text x="469.0" y="1034.6" font-size="7.6" text-anchor="middle">Astrocyte</text><text x="502.3" y="1034.6" font-size="7.6" text-anchor="middle">Oligo_1</text><line x1="435.35" y1="1023.20" x2="435.35" y2="1025.80" stroke="#111" stroke-width="0.9"/><line x1="464.55" y1="1023.20" x2="464.55" y2="1025.80" stroke="#111" stroke-width="0.9"/><line x1="494.15" y1="1023.20" x2="494.15" y2="1025.80" stroke="#111" stroke-width="0.9"/><line x1="561.20" y1="939.00" x2="561.20" y2="1023.80" stroke="#111" stroke-width="1.2"/><line x1="560.70" y1="1023.30" x2="653.50" y2="1023.30" stroke="#111" stroke-width="1.2"/><line x1="558.20" y1="939.50" x2="561.20" y2="939.50" stroke="#111" stroke-width="0.9"/><text x="556.6" y="942.2" font-size="7.8" fill="#222" text-anchor="end">30</text><line x1="558.20" y1="967.50" x2="561.20" y2="967.50" stroke="#111" stroke-width="0.9"/><text x="556.6" y="970.2" font-size="7.8" fill="#222" text-anchor="end">20</text><line x1="558.20" y1="995.40" x2="561.20" y2="995.40" stroke="#111" stroke-width="0.9"/><text x="556.6" y="998.1" font-size="7.8" fill="#222" text-anchor="end">10</text><line x1="558.20" y1="1023.30" x2="561.20" y2="1023.30" stroke="#111" stroke-width="0.9"/><text x="556.6" y="1026.0" font-size="7.8" fill="#222" text-anchor="end">0</text><text x="568.0" y="948.8" font-size="8.3">Spatial module_3</text><rect x="568.90" y="1016.00" width="6.10" height="7.30" fill="#96a02e"/><rect x="575.00" y="1018.20" width="5.70" height="5.10" fill="#b888c8"/><rect x="581.20" y="1016.00" width="5.80" height="7.30" fill="#a0e4a8"/><rect x="597.80" y="993.10" width="6.00" height="30.20" fill="#96a02e"/><rect x="603.80" y="999.10" width="6.00" height="24.20" fill="#b888c8"/><rect x="610.00" y="987.00" width="5.90" height="36.30" fill="#a0e4a8"/><rect x="627.00" y="960.60" width="5.70" height="62.70" fill="#96a02e"/><rect x="633.20" y="965.20" width="5.80" height="58.10" fill="#b888c8"/><rect x="639.20" y="956.00" width="6.00" height="67.30" fill="#a0e4a8"/><text x="576.2" y="1034.6" font-size="7.6" text-anchor="middle">Microglia</text><text x="612.0" y="1034.6" font-size="7.6" text-anchor="middle">Astrocyte</text><text x="645.3" y="1034.6" font-size="7.6" text-anchor="middle">Oligo_1</text><line x1="577.85" y1="1023.30" x2="577.85" y2="1025.90" stroke="#111" stroke-width="0.9"/><line x1="606.80" y1="1023.30" x2="606.80" y2="1025.90" stroke="#111" stroke-width="0.9"/><line x1="636.10" y1="1023.30" x2="636.10" y2="1025.90" stroke="#111" stroke-width="0.9"/><text x="382.3" y="983.4" font-size="8.3" text-anchor="middle" transform="rotate(-90 382.3 983.4)">Density of</text><text x="392.6" y="982.3" font-size="8.3" text-anchor="middle" transform="rotate(-90 392.6 982.3)">non-neuronal cells (%)</text><text x="527.8" y="983.4" font-size="8.3" text-anchor="middle" transform="rotate(-90 527.8 983.4)">Density of</text><text x="538.3" y="982.3" font-size="8.3" text-anchor="middle" transform="rotate(-90 538.3 982.3)">non-neuronal cells (%)</text></svg></body></html>
